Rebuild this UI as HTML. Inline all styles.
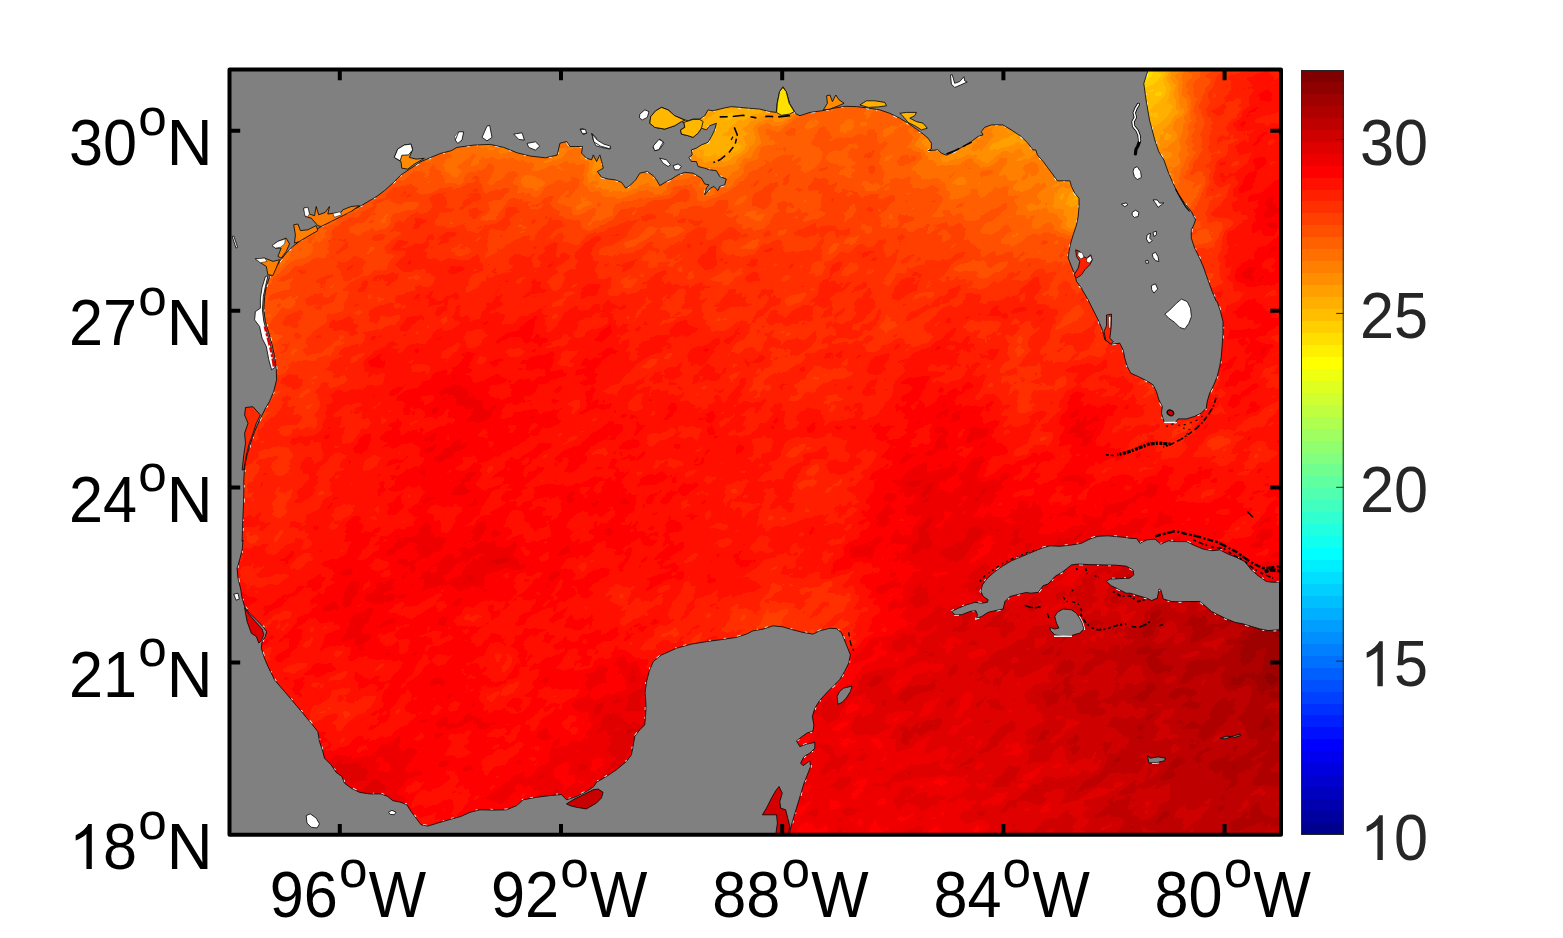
<!DOCTYPE html><html><head><meta charset="utf-8"><style>html,body{margin:0;padding:0;background:#fff}svg{display:block}text{font-family:"Liberation Sans",sans-serif}</style></head><body>
<svg width="1563" height="938" viewBox="0 0 1563 938">
<defs><clipPath id="ax"><rect x="229.5" y="69.5" width="1051.5" height="765.3"/></clipPath>
<filter id="bl" filterUnits="userSpaceOnUse" x="55" y="-248" width="1400" height="1400" color-interpolation-filters="sRGB"><feGaussianBlur in="SourceGraphic" stdDeviation="7" result="f"/><feTurbulence type="fractalNoise" baseFrequency="0.036 0.06" numOctaves="3" seed="7" result="n"/><feColorMatrix in="n" type="matrix" values="1 0 0 0 0 1 0 0 0 0 1 0 0 0 0 0 0 0 0 1" result="n1"/><feComposite in="f" in2="n1" operator="arithmetic" k1="0" k2="1" k3="0.120" k4="-0.060" result="s"/><feComponentTransfer in="s"><feFuncR type="discrete" tableValues="0.5625 0.6250 0.6875 0.7500 0.8125 0.8750 0.9375 1.0000 1.0000 1.0000 1.0000 1.0000 1.0000 1.0000 1.0000 1.0000 1.0000 1.0000 1.0000 1.0000 1.0000 1.0000 1.0000 1.0000 0.9375 0.8750 0.8125 0.7500 0.6875 0.6250 0.5625 0.5000"/><feFuncG type="discrete" tableValues="1.0000 1.0000 1.0000 1.0000 1.0000 1.0000 1.0000 1.0000 0.9375 0.8750 0.8125 0.7500 0.6875 0.6250 0.5625 0.5000 0.4375 0.3750 0.3125 0.2500 0.1875 0.1250 0.0625 0.0000 0.0000 0.0000 0.0000 0.0000 0.0000 0.0000 0.0000 0.0000"/><feFuncB type="discrete" tableValues="0.4375 0.3750 0.3125 0.2500 0.1875 0.1250 0.0625 0.0000 0.0000 0.0000 0.0000 0.0000 0.0000 0.0000 0.0000 0.0000 0.0000 0.0000 0.0000 0.0000 0.0000 0.0000 0.0000 0.0000 0.0000 0.0000 0.0000 0.0000 0.0000 0.0000 0.0000 0.0000"/></feComponentTransfer></filter>
</defs>
<rect width="1563" height="938" fill="#fff"/>
<g clip-path="url(#ax)">
<rect x="200" y="50" width="1100" height="800" fill="#ff1a00"/>
<g transform="rotate(-32 755 452)" filter="url(#bl)"><g transform="rotate(32 755 452)"><rect x="193.5" y="33.5" width="24.5" height="13" fill="#a0a0a0"/><rect x="217.5" y="33.5" width="36.5" height="13" fill="#9f9f9f"/><rect x="253.5" y="33.5" width="36.5" height="13" fill="#9e9e9e"/><rect x="289.5" y="33.5" width="24.5" height="13" fill="#9d9d9d"/><rect x="313.5" y="33.5" width="24.5" height="13" fill="#9c9c9c"/><rect x="337.5" y="33.5" width="24.5" height="13" fill="#9b9b9b"/><rect x="361.5" y="33.5" width="12.5" height="13" fill="#9a9a9a"/><rect x="373.5" y="33.5" width="24.5" height="13" fill="#999999"/><rect x="397.5" y="33.5" width="24.5" height="13" fill="#989898"/><rect x="421.5" y="33.5" width="24.5" height="13" fill="#979797"/><rect x="445.5" y="33.5" width="24.5" height="13" fill="#969696"/><rect x="469.5" y="33.5" width="24.5" height="13" fill="#959595"/><rect x="493.5" y="33.5" width="24.5" height="13" fill="#949494"/><rect x="517.5" y="33.5" width="24.5" height="13" fill="#939393"/><rect x="541.5" y="33.5" width="12.5" height="13" fill="#929292"/><rect x="553.5" y="33.5" width="12.5" height="13" fill="#919191"/><rect x="565.5" y="33.5" width="12.5" height="13" fill="#8f8f8f"/><rect x="577.5" y="33.5" width="12.5" height="13" fill="#8d8d8d"/><rect x="589.5" y="33.5" width="12.5" height="13" fill="#8b8b8b"/><rect x="601.5" y="33.5" width="12.5" height="13" fill="#888888"/><rect x="613.5" y="33.5" width="12.5" height="13" fill="#858585"/><rect x="625.5" y="33.5" width="12.5" height="13" fill="#818181"/><rect x="637.5" y="33.5" width="12.5" height="13" fill="#7d7d7d"/><rect x="649.5" y="33.5" width="12.5" height="13" fill="#7a7a7a"/><rect x="661.5" y="33.5" width="12.5" height="13" fill="#777777"/><rect x="673.5" y="33.5" width="12.5" height="13" fill="#757575"/><rect x="685.5" y="33.5" width="12.5" height="13" fill="#747474"/><rect x="697.5" y="33.5" width="12.5" height="13" fill="#737373"/><rect x="709.5" y="33.5" width="12.5" height="13" fill="#747474"/><rect x="721.5" y="33.5" width="12.5" height="13" fill="#767676"/><rect x="733.5" y="33.5" width="12.5" height="13" fill="#797979"/><rect x="745.5" y="33.5" width="12.5" height="13" fill="#7b7b7b"/><rect x="757.5" y="33.5" width="12.5" height="13" fill="#7f7f7f"/><rect x="769.5" y="33.5" width="12.5" height="13" fill="#828282"/><rect x="781.5" y="33.5" width="12.5" height="13" fill="#858585"/><rect x="793.5" y="33.5" width="12.5" height="13" fill="#878787"/><rect x="805.5" y="33.5" width="12.5" height="13" fill="#898989"/><rect x="817.5" y="33.5" width="12.5" height="13" fill="#8b8b8b"/><rect x="829.5" y="33.5" width="24.5" height="13" fill="#8c8c8c"/><rect x="853.5" y="33.5" width="60.5" height="13" fill="#8d8d8d"/><rect x="913.5" y="33.5" width="24.5" height="13" fill="#8c8c8c"/><rect x="937.5" y="33.5" width="12.5" height="13" fill="#8b8b8b"/><rect x="949.5" y="33.5" width="12.5" height="13" fill="#8a8a8a"/><rect x="961.5" y="33.5" width="12.5" height="13" fill="#888888"/><rect x="973.5" y="33.5" width="12.5" height="13" fill="#878787"/><rect x="985.5" y="33.5" width="12.5" height="13" fill="#868686"/><rect x="997.5" y="33.5" width="12.5" height="13" fill="#858585"/><rect x="1009.5" y="33.5" width="12.5" height="13" fill="#838383"/><rect x="1021.5" y="33.5" width="12.5" height="13" fill="#828282"/><rect x="1033.5" y="33.5" width="12.5" height="13" fill="#808080"/><rect x="1045.5" y="33.5" width="12.5" height="13" fill="#7e7e7e"/><rect x="1057.5" y="33.5" width="12.5" height="13" fill="#7b7b7b"/><rect x="1069.5" y="33.5" width="12.5" height="13" fill="#777777"/><rect x="1081.5" y="33.5" width="12.5" height="13" fill="#737373"/><rect x="1093.5" y="33.5" width="12.5" height="13" fill="#6e6e6e"/><rect x="1105.5" y="33.5" width="12.5" height="13" fill="#6a6a6a"/><rect x="1117.5" y="33.5" width="12.5" height="13" fill="#666666"/><rect x="1129.5" y="33.5" width="12.5" height="13" fill="#646464"/><rect x="1141.5" y="33.5" width="12.5" height="13" fill="#656565"/><rect x="1153.5" y="33.5" width="12.5" height="13" fill="#6a6a6a"/><rect x="1165.5" y="33.5" width="12.5" height="13" fill="#727272"/><rect x="1177.5" y="33.5" width="12.5" height="13" fill="#7b7b7b"/><rect x="1189.5" y="33.5" width="12.5" height="13" fill="#848484"/><rect x="1201.5" y="33.5" width="12.5" height="13" fill="#8c8c8c"/><rect x="1213.5" y="33.5" width="12.5" height="13" fill="#939393"/><rect x="1225.5" y="33.5" width="12.5" height="13" fill="#999999"/><rect x="1237.5" y="33.5" width="12.5" height="13" fill="#9e9e9e"/><rect x="1249.5" y="33.5" width="12.5" height="13" fill="#a3a3a3"/><rect x="1261.5" y="33.5" width="12.5" height="13" fill="#a6a6a6"/><rect x="1273.5" y="33.5" width="36.5" height="13" fill="#a8a8a8"/><rect x="1309.5" y="33.5" width="12.5" height="13" fill="#a7a7a7"/><rect x="193.5" y="45.5" width="24.5" height="13" fill="#a0a0a0"/><rect x="217.5" y="45.5" width="36.5" height="13" fill="#9f9f9f"/><rect x="253.5" y="45.5" width="24.5" height="13" fill="#9e9e9e"/><rect x="277.5" y="45.5" width="36.5" height="13" fill="#9d9d9d"/><rect x="313.5" y="45.5" width="12.5" height="13" fill="#9c9c9c"/><rect x="325.5" y="45.5" width="24.5" height="13" fill="#9b9b9b"/><rect x="349.5" y="45.5" width="24.5" height="13" fill="#9a9a9a"/><rect x="373.5" y="45.5" width="12.5" height="13" fill="#999999"/><rect x="385.5" y="45.5" width="24.5" height="13" fill="#989898"/><rect x="409.5" y="45.5" width="12.5" height="13" fill="#979797"/><rect x="421.5" y="45.5" width="24.5" height="13" fill="#969696"/><rect x="445.5" y="45.5" width="36.5" height="13" fill="#959595"/><rect x="481.5" y="45.5" width="36.5" height="13" fill="#949494"/><rect x="517.5" y="45.5" width="24.5" height="13" fill="#939393"/><rect x="541.5" y="45.5" width="12.5" height="13" fill="#929292"/><rect x="553.5" y="45.5" width="12.5" height="13" fill="#919191"/><rect x="565.5" y="45.5" width="12.5" height="13" fill="#8f8f8f"/><rect x="577.5" y="45.5" width="12.5" height="13" fill="#8d8d8d"/><rect x="589.5" y="45.5" width="12.5" height="13" fill="#8b8b8b"/><rect x="601.5" y="45.5" width="12.5" height="13" fill="#878787"/><rect x="613.5" y="45.5" width="12.5" height="13" fill="#838383"/><rect x="625.5" y="45.5" width="12.5" height="13" fill="#7f7f7f"/><rect x="637.5" y="45.5" width="12.5" height="13" fill="#7b7b7b"/><rect x="649.5" y="45.5" width="12.5" height="13" fill="#767676"/><rect x="661.5" y="45.5" width="12.5" height="13" fill="#737373"/><rect x="673.5" y="45.5" width="12.5" height="13" fill="#707070"/><rect x="685.5" y="45.5" width="24.5" height="13" fill="#6f6f6f"/><rect x="709.5" y="45.5" width="12.5" height="13" fill="#707070"/><rect x="721.5" y="45.5" width="12.5" height="13" fill="#727272"/><rect x="733.5" y="45.5" width="12.5" height="13" fill="#757575"/><rect x="745.5" y="45.5" width="12.5" height="13" fill="#797979"/><rect x="757.5" y="45.5" width="12.5" height="13" fill="#7d7d7d"/><rect x="769.5" y="45.5" width="12.5" height="13" fill="#818181"/><rect x="781.5" y="45.5" width="12.5" height="13" fill="#848484"/><rect x="793.5" y="45.5" width="12.5" height="13" fill="#878787"/><rect x="805.5" y="45.5" width="12.5" height="13" fill="#898989"/><rect x="817.5" y="45.5" width="12.5" height="13" fill="#8b8b8b"/><rect x="829.5" y="45.5" width="24.5" height="13" fill="#8c8c8c"/><rect x="853.5" y="45.5" width="48.5" height="13" fill="#8d8d8d"/><rect x="901.5" y="45.5" width="24.5" height="13" fill="#8c8c8c"/><rect x="925.5" y="45.5" width="12.5" height="13" fill="#8b8b8b"/><rect x="937.5" y="45.5" width="12.5" height="13" fill="#8a8a8a"/><rect x="949.5" y="45.5" width="12.5" height="13" fill="#898989"/><rect x="961.5" y="45.5" width="12.5" height="13" fill="#878787"/><rect x="973.5" y="45.5" width="12.5" height="13" fill="#868686"/><rect x="985.5" y="45.5" width="12.5" height="13" fill="#848484"/><rect x="997.5" y="45.5" width="12.5" height="13" fill="#838383"/><rect x="1009.5" y="45.5" width="12.5" height="13" fill="#828282"/><rect x="1021.5" y="45.5" width="12.5" height="13" fill="#818181"/><rect x="1033.5" y="45.5" width="12.5" height="13" fill="#7f7f7f"/><rect x="1045.5" y="45.5" width="12.5" height="13" fill="#7d7d7d"/><rect x="1057.5" y="45.5" width="12.5" height="13" fill="#7a7a7a"/><rect x="1069.5" y="45.5" width="12.5" height="13" fill="#767676"/><rect x="1081.5" y="45.5" width="12.5" height="13" fill="#717171"/><rect x="1093.5" y="45.5" width="12.5" height="13" fill="#6b6b6b"/><rect x="1105.5" y="45.5" width="12.5" height="13" fill="#666666"/><rect x="1117.5" y="45.5" width="12.5" height="13" fill="#606060"/><rect x="1129.5" y="45.5" width="24.5" height="13" fill="#5c5c5c"/><rect x="1153.5" y="45.5" width="12.5" height="13" fill="#636363"/><rect x="1165.5" y="45.5" width="12.5" height="13" fill="#6e6e6e"/><rect x="1177.5" y="45.5" width="12.5" height="13" fill="#7a7a7a"/><rect x="1189.5" y="45.5" width="12.5" height="13" fill="#858585"/><rect x="1201.5" y="45.5" width="12.5" height="13" fill="#8e8e8e"/><rect x="1213.5" y="45.5" width="12.5" height="13" fill="#969696"/><rect x="1225.5" y="45.5" width="12.5" height="13" fill="#9d9d9d"/><rect x="1237.5" y="45.5" width="12.5" height="13" fill="#a3a3a3"/><rect x="1249.5" y="45.5" width="12.5" height="13" fill="#a8a8a8"/><rect x="1261.5" y="45.5" width="12.5" height="13" fill="#ababab"/><rect x="1273.5" y="45.5" width="24.5" height="13" fill="#acacac"/><rect x="1297.5" y="45.5" width="12.5" height="13" fill="#ababab"/><rect x="1309.5" y="45.5" width="12.5" height="13" fill="#aaaaaa"/><rect x="193.5" y="57.5" width="24.5" height="13" fill="#a0a0a0"/><rect x="217.5" y="57.5" width="36.5" height="13" fill="#9f9f9f"/><rect x="253.5" y="57.5" width="24.5" height="13" fill="#9e9e9e"/><rect x="277.5" y="57.5" width="24.5" height="13" fill="#9d9d9d"/><rect x="301.5" y="57.5" width="24.5" height="13" fill="#9c9c9c"/><rect x="325.5" y="57.5" width="24.5" height="13" fill="#9b9b9b"/><rect x="349.5" y="57.5" width="12.5" height="13" fill="#9a9a9a"/><rect x="361.5" y="57.5" width="24.5" height="13" fill="#999999"/><rect x="385.5" y="57.5" width="12.5" height="13" fill="#989898"/><rect x="397.5" y="57.5" width="12.5" height="13" fill="#979797"/><rect x="409.5" y="57.5" width="24.5" height="13" fill="#969696"/><rect x="433.5" y="57.5" width="24.5" height="13" fill="#959595"/><rect x="457.5" y="57.5" width="36.5" height="13" fill="#949494"/><rect x="493.5" y="57.5" width="36.5" height="13" fill="#939393"/><rect x="529.5" y="57.5" width="24.5" height="13" fill="#929292"/><rect x="553.5" y="57.5" width="12.5" height="13" fill="#919191"/><rect x="565.5" y="57.5" width="12.5" height="13" fill="#8f8f8f"/><rect x="577.5" y="57.5" width="12.5" height="13" fill="#8d8d8d"/><rect x="589.5" y="57.5" width="12.5" height="13" fill="#8a8a8a"/><rect x="601.5" y="57.5" width="12.5" height="13" fill="#878787"/><rect x="613.5" y="57.5" width="12.5" height="13" fill="#828282"/><rect x="625.5" y="57.5" width="12.5" height="13" fill="#7d7d7d"/><rect x="637.5" y="57.5" width="12.5" height="13" fill="#787878"/><rect x="649.5" y="57.5" width="12.5" height="13" fill="#737373"/><rect x="661.5" y="57.5" width="12.5" height="13" fill="#6e6e6e"/><rect x="673.5" y="57.5" width="12.5" height="13" fill="#6b6b6b"/><rect x="685.5" y="57.5" width="24.5" height="13" fill="#6a6a6a"/><rect x="709.5" y="57.5" width="12.5" height="13" fill="#6b6b6b"/><rect x="721.5" y="57.5" width="12.5" height="13" fill="#6e6e6e"/><rect x="733.5" y="57.5" width="12.5" height="13" fill="#727272"/><rect x="745.5" y="57.5" width="12.5" height="13" fill="#767676"/><rect x="757.5" y="57.5" width="12.5" height="13" fill="#7b7b7b"/><rect x="769.5" y="57.5" width="12.5" height="13" fill="#808080"/><rect x="781.5" y="57.5" width="12.5" height="13" fill="#848484"/><rect x="793.5" y="57.5" width="12.5" height="13" fill="#878787"/><rect x="805.5" y="57.5" width="12.5" height="13" fill="#8a8a8a"/><rect x="817.5" y="57.5" width="12.5" height="13" fill="#8b8b8b"/><rect x="829.5" y="57.5" width="12.5" height="13" fill="#8c8c8c"/><rect x="841.5" y="57.5" width="60.5" height="13" fill="#8d8d8d"/><rect x="901.5" y="57.5" width="24.5" height="13" fill="#8c8c8c"/><rect x="925.5" y="57.5" width="12.5" height="13" fill="#8b8b8b"/><rect x="937.5" y="57.5" width="12.5" height="13" fill="#898989"/><rect x="949.5" y="57.5" width="12.5" height="13" fill="#888888"/><rect x="961.5" y="57.5" width="12.5" height="13" fill="#868686"/><rect x="973.5" y="57.5" width="12.5" height="13" fill="#848484"/><rect x="985.5" y="57.5" width="12.5" height="13" fill="#828282"/><rect x="997.5" y="57.5" width="24.5" height="13" fill="#818181"/><rect x="1021.5" y="57.5" width="12.5" height="13" fill="#808080"/><rect x="1033.5" y="57.5" width="12.5" height="13" fill="#7f7f7f"/><rect x="1045.5" y="57.5" width="12.5" height="13" fill="#7d7d7d"/><rect x="1057.5" y="57.5" width="12.5" height="13" fill="#797979"/><rect x="1069.5" y="57.5" width="12.5" height="13" fill="#757575"/><rect x="1081.5" y="57.5" width="12.5" height="13" fill="#707070"/><rect x="1093.5" y="57.5" width="12.5" height="13" fill="#696969"/><rect x="1105.5" y="57.5" width="12.5" height="13" fill="#636363"/><rect x="1117.5" y="57.5" width="12.5" height="13" fill="#5c5c5c"/><rect x="1129.5" y="57.5" width="12.5" height="13" fill="#565656"/><rect x="1141.5" y="57.5" width="12.5" height="13" fill="#545454"/><rect x="1153.5" y="57.5" width="12.5" height="13" fill="#5b5b5b"/><rect x="1165.5" y="57.5" width="12.5" height="13" fill="#6c6c6c"/><rect x="1177.5" y="57.5" width="12.5" height="13" fill="#7a7a7a"/><rect x="1189.5" y="57.5" width="12.5" height="13" fill="#878787"/><rect x="1201.5" y="57.5" width="12.5" height="13" fill="#929292"/><rect x="1213.5" y="57.5" width="12.5" height="13" fill="#9b9b9b"/><rect x="1225.5" y="57.5" width="12.5" height="13" fill="#a2a2a2"/><rect x="1237.5" y="57.5" width="12.5" height="13" fill="#a8a8a8"/><rect x="1249.5" y="57.5" width="12.5" height="13" fill="#adadad"/><rect x="1261.5" y="57.5" width="12.5" height="13" fill="#afafaf"/><rect x="1273.5" y="57.5" width="24.5" height="13" fill="#b0b0b0"/><rect x="1297.5" y="57.5" width="12.5" height="13" fill="#aeaeae"/><rect x="1309.5" y="57.5" width="12.5" height="13" fill="#acacac"/><rect x="193.5" y="69.5" width="24.5" height="13" fill="#a0a0a0"/><rect x="217.5" y="69.5" width="24.5" height="13" fill="#9f9f9f"/><rect x="241.5" y="69.5" width="36.5" height="13" fill="#9e9e9e"/><rect x="277.5" y="69.5" width="24.5" height="13" fill="#9d9d9d"/><rect x="301.5" y="69.5" width="24.5" height="13" fill="#9c9c9c"/><rect x="325.5" y="69.5" width="24.5" height="13" fill="#9b9b9b"/><rect x="349.5" y="69.5" width="12.5" height="13" fill="#9a9a9a"/><rect x="361.5" y="69.5" width="12.5" height="13" fill="#999999"/><rect x="373.5" y="69.5" width="24.5" height="13" fill="#989898"/><rect x="397.5" y="69.5" width="12.5" height="13" fill="#979797"/><rect x="409.5" y="69.5" width="12.5" height="13" fill="#969696"/><rect x="421.5" y="69.5" width="12.5" height="13" fill="#959595"/><rect x="433.5" y="69.5" width="24.5" height="13" fill="#949494"/><rect x="457.5" y="69.5" width="48.5" height="13" fill="#939393"/><rect x="505.5" y="69.5" width="36.5" height="13" fill="#929292"/><rect x="541.5" y="69.5" width="24.5" height="13" fill="#919191"/><rect x="565.5" y="69.5" width="12.5" height="13" fill="#8f8f8f"/><rect x="577.5" y="69.5" width="12.5" height="13" fill="#8d8d8d"/><rect x="589.5" y="69.5" width="12.5" height="13" fill="#8a8a8a"/><rect x="601.5" y="69.5" width="12.5" height="13" fill="#878787"/><rect x="613.5" y="69.5" width="12.5" height="13" fill="#828282"/><rect x="625.5" y="69.5" width="12.5" height="13" fill="#7c7c7c"/><rect x="637.5" y="69.5" width="12.5" height="13" fill="#767676"/><rect x="649.5" y="69.5" width="12.5" height="13" fill="#707070"/><rect x="661.5" y="69.5" width="12.5" height="13" fill="#6a6a6a"/><rect x="673.5" y="69.5" width="12.5" height="13" fill="#676767"/><rect x="685.5" y="69.5" width="24.5" height="13" fill="#656565"/><rect x="709.5" y="69.5" width="12.5" height="13" fill="#676767"/><rect x="721.5" y="69.5" width="12.5" height="13" fill="#6a6a6a"/><rect x="733.5" y="69.5" width="12.5" height="13" fill="#6f6f6f"/><rect x="745.5" y="69.5" width="12.5" height="13" fill="#747474"/><rect x="757.5" y="69.5" width="12.5" height="13" fill="#797979"/><rect x="769.5" y="69.5" width="12.5" height="13" fill="#7f7f7f"/><rect x="781.5" y="69.5" width="12.5" height="13" fill="#848484"/><rect x="793.5" y="69.5" width="12.5" height="13" fill="#888888"/><rect x="805.5" y="69.5" width="12.5" height="13" fill="#8a8a8a"/><rect x="817.5" y="69.5" width="24.5" height="13" fill="#8c8c8c"/><rect x="841.5" y="69.5" width="24.5" height="13" fill="#8d8d8d"/><rect x="865.5" y="69.5" width="48.5" height="13" fill="#8c8c8c"/><rect x="913.5" y="69.5" width="12.5" height="13" fill="#8b8b8b"/><rect x="925.5" y="69.5" width="12.5" height="13" fill="#8a8a8a"/><rect x="937.5" y="69.5" width="12.5" height="13" fill="#898989"/><rect x="949.5" y="69.5" width="12.5" height="13" fill="#868686"/><rect x="961.5" y="69.5" width="12.5" height="13" fill="#848484"/><rect x="973.5" y="69.5" width="12.5" height="13" fill="#828282"/><rect x="985.5" y="69.5" width="12.5" height="13" fill="#808080"/><rect x="997.5" y="69.5" width="12.5" height="13" fill="#7f7f7f"/><rect x="1009.5" y="69.5" width="36.5" height="13" fill="#7e7e7e"/><rect x="1045.5" y="69.5" width="12.5" height="13" fill="#7c7c7c"/><rect x="1057.5" y="69.5" width="12.5" height="13" fill="#797979"/><rect x="1069.5" y="69.5" width="12.5" height="13" fill="#757575"/><rect x="1081.5" y="69.5" width="12.5" height="13" fill="#6f6f6f"/><rect x="1093.5" y="69.5" width="12.5" height="13" fill="#696969"/><rect x="1105.5" y="69.5" width="12.5" height="13" fill="#626262"/><rect x="1117.5" y="69.5" width="12.5" height="13" fill="#5a5a5a"/><rect x="1129.5" y="69.5" width="12.5" height="13" fill="#535353"/><rect x="1141.5" y="69.5" width="12.5" height="13" fill="#505050"/><rect x="1153.5" y="69.5" width="12.5" height="13" fill="#595959"/><rect x="1165.5" y="69.5" width="12.5" height="13" fill="#6c6c6c"/><rect x="1177.5" y="69.5" width="12.5" height="13" fill="#7b7b7b"/><rect x="1189.5" y="69.5" width="12.5" height="13" fill="#8a8a8a"/><rect x="1201.5" y="69.5" width="12.5" height="13" fill="#989898"/><rect x="1213.5" y="69.5" width="12.5" height="13" fill="#a0a0a0"/><rect x="1225.5" y="69.5" width="12.5" height="13" fill="#a7a7a7"/><rect x="1237.5" y="69.5" width="12.5" height="13" fill="#aeaeae"/><rect x="1249.5" y="69.5" width="12.5" height="13" fill="#b1b1b1"/><rect x="1261.5" y="69.5" width="12.5" height="13" fill="#b3b3b3"/><rect x="1273.5" y="69.5" width="12.5" height="13" fill="#b4b4b4"/><rect x="1285.5" y="69.5" width="12.5" height="13" fill="#b3b3b3"/><rect x="1297.5" y="69.5" width="12.5" height="13" fill="#b0b0b0"/><rect x="1309.5" y="69.5" width="12.5" height="13" fill="#aeaeae"/><rect x="193.5" y="81.5" width="12.5" height="13" fill="#a0a0a0"/><rect x="205.5" y="81.5" width="36.5" height="13" fill="#9f9f9f"/><rect x="241.5" y="81.5" width="24.5" height="13" fill="#9e9e9e"/><rect x="265.5" y="81.5" width="36.5" height="13" fill="#9d9d9d"/><rect x="301.5" y="81.5" width="24.5" height="13" fill="#9c9c9c"/><rect x="325.5" y="81.5" width="12.5" height="13" fill="#9b9b9b"/><rect x="337.5" y="81.5" width="24.5" height="13" fill="#9a9a9a"/><rect x="361.5" y="81.5" width="12.5" height="13" fill="#999999"/><rect x="373.5" y="81.5" width="12.5" height="13" fill="#989898"/><rect x="385.5" y="81.5" width="12.5" height="13" fill="#979797"/><rect x="397.5" y="81.5" width="12.5" height="13" fill="#969696"/><rect x="409.5" y="81.5" width="12.5" height="13" fill="#959595"/><rect x="421.5" y="81.5" width="24.5" height="13" fill="#949494"/><rect x="445.5" y="81.5" width="12.5" height="13" fill="#939393"/><rect x="457.5" y="81.5" width="84.5" height="13" fill="#929292"/><rect x="541.5" y="81.5" width="24.5" height="13" fill="#919191"/><rect x="565.5" y="81.5" width="12.5" height="13" fill="#909090"/><rect x="577.5" y="81.5" width="12.5" height="13" fill="#8e8e8e"/><rect x="589.5" y="81.5" width="12.5" height="13" fill="#8b8b8b"/><rect x="601.5" y="81.5" width="12.5" height="13" fill="#878787"/><rect x="613.5" y="81.5" width="12.5" height="13" fill="#828282"/><rect x="625.5" y="81.5" width="12.5" height="13" fill="#7b7b7b"/><rect x="637.5" y="81.5" width="12.5" height="13" fill="#747474"/><rect x="649.5" y="81.5" width="12.5" height="13" fill="#6d6d6d"/><rect x="661.5" y="81.5" width="12.5" height="13" fill="#676767"/><rect x="673.5" y="81.5" width="12.5" height="13" fill="#636363"/><rect x="685.5" y="81.5" width="24.5" height="13" fill="#616161"/><rect x="709.5" y="81.5" width="12.5" height="13" fill="#636363"/><rect x="721.5" y="81.5" width="12.5" height="13" fill="#676767"/><rect x="733.5" y="81.5" width="12.5" height="13" fill="#6c6c6c"/><rect x="745.5" y="81.5" width="12.5" height="13" fill="#727272"/><rect x="757.5" y="81.5" width="12.5" height="13" fill="#787878"/><rect x="769.5" y="81.5" width="12.5" height="13" fill="#7f7f7f"/><rect x="781.5" y="81.5" width="12.5" height="13" fill="#858585"/><rect x="793.5" y="81.5" width="12.5" height="13" fill="#898989"/><rect x="805.5" y="81.5" width="12.5" height="13" fill="#8b8b8b"/><rect x="817.5" y="81.5" width="12.5" height="13" fill="#8c8c8c"/><rect x="829.5" y="81.5" width="24.5" height="13" fill="#8d8d8d"/><rect x="853.5" y="81.5" width="60.5" height="13" fill="#8c8c8c"/><rect x="913.5" y="81.5" width="12.5" height="13" fill="#8b8b8b"/><rect x="925.5" y="81.5" width="12.5" height="13" fill="#8a8a8a"/><rect x="937.5" y="81.5" width="12.5" height="13" fill="#888888"/><rect x="949.5" y="81.5" width="12.5" height="13" fill="#858585"/><rect x="961.5" y="81.5" width="12.5" height="13" fill="#828282"/><rect x="973.5" y="81.5" width="12.5" height="13" fill="#7f7f7f"/><rect x="985.5" y="81.5" width="12.5" height="13" fill="#7c7c7c"/><rect x="997.5" y="81.5" width="24.5" height="13" fill="#7b7b7b"/><rect x="1021.5" y="81.5" width="12.5" height="13" fill="#7c7c7c"/><rect x="1033.5" y="81.5" width="12.5" height="13" fill="#7d7d7d"/><rect x="1045.5" y="81.5" width="12.5" height="13" fill="#7c7c7c"/><rect x="1057.5" y="81.5" width="12.5" height="13" fill="#7a7a7a"/><rect x="1069.5" y="81.5" width="12.5" height="13" fill="#767676"/><rect x="1081.5" y="81.5" width="12.5" height="13" fill="#707070"/><rect x="1093.5" y="81.5" width="12.5" height="13" fill="#6a6a6a"/><rect x="1105.5" y="81.5" width="12.5" height="13" fill="#636363"/><rect x="1117.5" y="81.5" width="12.5" height="13" fill="#5c5c5c"/><rect x="1129.5" y="81.5" width="12.5" height="13" fill="#575757"/><rect x="1141.5" y="81.5" width="12.5" height="13" fill="#565656"/><rect x="1153.5" y="81.5" width="12.5" height="13" fill="#5e5e5e"/><rect x="1165.5" y="81.5" width="12.5" height="13" fill="#6c6c6c"/><rect x="1177.5" y="81.5" width="12.5" height="13" fill="#7c7c7c"/><rect x="1189.5" y="81.5" width="12.5" height="13" fill="#8c8c8c"/><rect x="1201.5" y="81.5" width="12.5" height="13" fill="#9c9c9c"/><rect x="1213.5" y="81.5" width="12.5" height="13" fill="#a6a6a6"/><rect x="1225.5" y="81.5" width="12.5" height="13" fill="#aaaaaa"/><rect x="1237.5" y="81.5" width="12.5" height="13" fill="#b1b1b1"/><rect x="1249.5" y="81.5" width="12.5" height="13" fill="#b3b3b3"/><rect x="1261.5" y="81.5" width="24.5" height="13" fill="#b5b5b5"/><rect x="1285.5" y="81.5" width="12.5" height="13" fill="#b4b4b4"/><rect x="1297.5" y="81.5" width="12.5" height="13" fill="#b2b2b2"/><rect x="1309.5" y="81.5" width="12.5" height="13" fill="#afafaf"/><rect x="193.5" y="93.5" width="12.5" height="13" fill="#a0a0a0"/><rect x="205.5" y="93.5" width="36.5" height="13" fill="#9f9f9f"/><rect x="241.5" y="93.5" width="24.5" height="13" fill="#9e9e9e"/><rect x="265.5" y="93.5" width="36.5" height="13" fill="#9d9d9d"/><rect x="301.5" y="93.5" width="24.5" height="13" fill="#9c9c9c"/><rect x="325.5" y="93.5" width="12.5" height="13" fill="#9b9b9b"/><rect x="337.5" y="93.5" width="24.5" height="13" fill="#9a9a9a"/><rect x="361.5" y="93.5" width="12.5" height="13" fill="#999999"/><rect x="373.5" y="93.5" width="12.5" height="13" fill="#989898"/><rect x="385.5" y="93.5" width="12.5" height="13" fill="#979797"/><rect x="397.5" y="93.5" width="12.5" height="13" fill="#959595"/><rect x="409.5" y="93.5" width="12.5" height="13" fill="#949494"/><rect x="421.5" y="93.5" width="12.5" height="13" fill="#939393"/><rect x="433.5" y="93.5" width="24.5" height="13" fill="#929292"/><rect x="457.5" y="93.5" width="108.5" height="13" fill="#919191"/><rect x="565.5" y="93.5" width="12.5" height="13" fill="#909090"/><rect x="577.5" y="93.5" width="12.5" height="13" fill="#8e8e8e"/><rect x="589.5" y="93.5" width="12.5" height="13" fill="#8c8c8c"/><rect x="601.5" y="93.5" width="12.5" height="13" fill="#888888"/><rect x="613.5" y="93.5" width="12.5" height="13" fill="#828282"/><rect x="625.5" y="93.5" width="12.5" height="13" fill="#7c7c7c"/><rect x="637.5" y="93.5" width="12.5" height="13" fill="#747474"/><rect x="649.5" y="93.5" width="12.5" height="13" fill="#6c6c6c"/><rect x="661.5" y="93.5" width="12.5" height="13" fill="#656565"/><rect x="673.5" y="93.5" width="12.5" height="13" fill="#616161"/><rect x="685.5" y="93.5" width="24.5" height="13" fill="#5f5f5f"/><rect x="709.5" y="93.5" width="12.5" height="13" fill="#616161"/><rect x="721.5" y="93.5" width="12.5" height="13" fill="#656565"/><rect x="733.5" y="93.5" width="12.5" height="13" fill="#6a6a6a"/><rect x="745.5" y="93.5" width="12.5" height="13" fill="#707070"/><rect x="757.5" y="93.5" width="12.5" height="13" fill="#777777"/><rect x="769.5" y="93.5" width="12.5" height="13" fill="#808080"/><rect x="781.5" y="93.5" width="12.5" height="13" fill="#878787"/><rect x="793.5" y="93.5" width="12.5" height="13" fill="#8a8a8a"/><rect x="805.5" y="93.5" width="12.5" height="13" fill="#8c8c8c"/><rect x="817.5" y="93.5" width="24.5" height="13" fill="#8d8d8d"/><rect x="841.5" y="93.5" width="72.5" height="13" fill="#8c8c8c"/><rect x="913.5" y="93.5" width="12.5" height="13" fill="#8b8b8b"/><rect x="925.5" y="93.5" width="12.5" height="13" fill="#8a8a8a"/><rect x="937.5" y="93.5" width="12.5" height="13" fill="#878787"/><rect x="949.5" y="93.5" width="12.5" height="13" fill="#848484"/><rect x="961.5" y="93.5" width="12.5" height="13" fill="#7f7f7f"/><rect x="973.5" y="93.5" width="12.5" height="13" fill="#7b7b7b"/><rect x="985.5" y="93.5" width="12.5" height="13" fill="#787878"/><rect x="997.5" y="93.5" width="24.5" height="13" fill="#777777"/><rect x="1021.5" y="93.5" width="12.5" height="13" fill="#797979"/><rect x="1033.5" y="93.5" width="12.5" height="13" fill="#7b7b7b"/><rect x="1045.5" y="93.5" width="12.5" height="13" fill="#7c7c7c"/><rect x="1057.5" y="93.5" width="12.5" height="13" fill="#7b7b7b"/><rect x="1069.5" y="93.5" width="12.5" height="13" fill="#777777"/><rect x="1081.5" y="93.5" width="12.5" height="13" fill="#727272"/><rect x="1093.5" y="93.5" width="12.5" height="13" fill="#6c6c6c"/><rect x="1105.5" y="93.5" width="12.5" height="13" fill="#656565"/><rect x="1117.5" y="93.5" width="12.5" height="13" fill="#5f5f5f"/><rect x="1129.5" y="93.5" width="12.5" height="13" fill="#5b5b5b"/><rect x="1141.5" y="93.5" width="12.5" height="13" fill="#5a5a5a"/><rect x="1153.5" y="93.5" width="12.5" height="13" fill="#5f5f5f"/><rect x="1165.5" y="93.5" width="12.5" height="13" fill="#6c6c6c"/><rect x="1177.5" y="93.5" width="12.5" height="13" fill="#7c7c7c"/><rect x="1189.5" y="93.5" width="12.5" height="13" fill="#8d8d8d"/><rect x="1201.5" y="93.5" width="12.5" height="13" fill="#9c9c9c"/><rect x="1213.5" y="93.5" width="12.5" height="13" fill="#a6a6a6"/><rect x="1225.5" y="93.5" width="12.5" height="13" fill="#aaaaaa"/><rect x="1237.5" y="93.5" width="12.5" height="13" fill="#b0b0b0"/><rect x="1249.5" y="93.5" width="12.5" height="13" fill="#b2b2b2"/><rect x="1261.5" y="93.5" width="12.5" height="13" fill="#b4b4b4"/><rect x="1273.5" y="93.5" width="12.5" height="13" fill="#b5b5b5"/><rect x="1285.5" y="93.5" width="12.5" height="13" fill="#b4b4b4"/><rect x="1297.5" y="93.5" width="12.5" height="13" fill="#b1b1b1"/><rect x="1309.5" y="93.5" width="12.5" height="13" fill="#afafaf"/><rect x="193.5" y="105.5" width="12.5" height="13" fill="#a0a0a0"/><rect x="205.5" y="105.5" width="24.5" height="13" fill="#9f9f9f"/><rect x="229.5" y="105.5" width="36.5" height="13" fill="#9e9e9e"/><rect x="265.5" y="105.5" width="24.5" height="13" fill="#9d9d9d"/><rect x="289.5" y="105.5" width="24.5" height="13" fill="#9c9c9c"/><rect x="313.5" y="105.5" width="24.5" height="13" fill="#9b9b9b"/><rect x="337.5" y="105.5" width="24.5" height="13" fill="#9a9a9a"/><rect x="361.5" y="105.5" width="12.5" height="13" fill="#999999"/><rect x="373.5" y="105.5" width="12.5" height="13" fill="#979797"/><rect x="385.5" y="105.5" width="12.5" height="13" fill="#969696"/><rect x="397.5" y="105.5" width="12.5" height="13" fill="#959595"/><rect x="409.5" y="105.5" width="12.5" height="13" fill="#939393"/><rect x="421.5" y="105.5" width="12.5" height="13" fill="#929292"/><rect x="433.5" y="105.5" width="24.5" height="13" fill="#919191"/><rect x="457.5" y="105.5" width="24.5" height="13" fill="#909090"/><rect x="481.5" y="105.5" width="24.5" height="13" fill="#8f8f8f"/><rect x="505.5" y="105.5" width="24.5" height="13" fill="#909090"/><rect x="529.5" y="105.5" width="36.5" height="13" fill="#919191"/><rect x="565.5" y="105.5" width="12.5" height="13" fill="#909090"/><rect x="577.5" y="105.5" width="12.5" height="13" fill="#8f8f8f"/><rect x="589.5" y="105.5" width="12.5" height="13" fill="#8d8d8d"/><rect x="601.5" y="105.5" width="12.5" height="13" fill="#898989"/><rect x="613.5" y="105.5" width="12.5" height="13" fill="#848484"/><rect x="625.5" y="105.5" width="12.5" height="13" fill="#7d7d7d"/><rect x="637.5" y="105.5" width="12.5" height="13" fill="#757575"/><rect x="649.5" y="105.5" width="12.5" height="13" fill="#6c6c6c"/><rect x="661.5" y="105.5" width="12.5" height="13" fill="#656565"/><rect x="673.5" y="105.5" width="12.5" height="13" fill="#606060"/><rect x="685.5" y="105.5" width="24.5" height="13" fill="#5e5e5e"/><rect x="709.5" y="105.5" width="12.5" height="13" fill="#606060"/><rect x="721.5" y="105.5" width="12.5" height="13" fill="#656565"/><rect x="733.5" y="105.5" width="12.5" height="13" fill="#6a6a6a"/><rect x="745.5" y="105.5" width="12.5" height="13" fill="#6f6f6f"/><rect x="757.5" y="105.5" width="12.5" height="13" fill="#777777"/><rect x="769.5" y="105.5" width="12.5" height="13" fill="#828282"/><rect x="781.5" y="105.5" width="12.5" height="13" fill="#898989"/><rect x="793.5" y="105.5" width="12.5" height="13" fill="#8d8d8d"/><rect x="805.5" y="105.5" width="12.5" height="13" fill="#8e8e8e"/><rect x="817.5" y="105.5" width="12.5" height="13" fill="#8d8d8d"/><rect x="829.5" y="105.5" width="36.5" height="13" fill="#8c8c8c"/><rect x="865.5" y="105.5" width="24.5" height="13" fill="#8b8b8b"/><rect x="889.5" y="105.5" width="24.5" height="13" fill="#8c8c8c"/><rect x="913.5" y="105.5" width="12.5" height="13" fill="#8b8b8b"/><rect x="925.5" y="105.5" width="12.5" height="13" fill="#898989"/><rect x="937.5" y="105.5" width="12.5" height="13" fill="#878787"/><rect x="949.5" y="105.5" width="12.5" height="13" fill="#838383"/><rect x="961.5" y="105.5" width="12.5" height="13" fill="#7d7d7d"/><rect x="973.5" y="105.5" width="12.5" height="13" fill="#777777"/><rect x="985.5" y="105.5" width="12.5" height="13" fill="#737373"/><rect x="997.5" y="105.5" width="12.5" height="13" fill="#727272"/><rect x="1009.5" y="105.5" width="12.5" height="13" fill="#737373"/><rect x="1021.5" y="105.5" width="12.5" height="13" fill="#777777"/><rect x="1033.5" y="105.5" width="12.5" height="13" fill="#7a7a7a"/><rect x="1045.5" y="105.5" width="24.5" height="13" fill="#7c7c7c"/><rect x="1069.5" y="105.5" width="12.5" height="13" fill="#797979"/><rect x="1081.5" y="105.5" width="12.5" height="13" fill="#757575"/><rect x="1093.5" y="105.5" width="12.5" height="13" fill="#6f6f6f"/><rect x="1105.5" y="105.5" width="12.5" height="13" fill="#686868"/><rect x="1117.5" y="105.5" width="12.5" height="13" fill="#626262"/><rect x="1129.5" y="105.5" width="12.5" height="13" fill="#5b5b5b"/><rect x="1141.5" y="105.5" width="12.5" height="13" fill="#555555"/><rect x="1153.5" y="105.5" width="12.5" height="13" fill="#5c5c5c"/><rect x="1165.5" y="105.5" width="12.5" height="13" fill="#6c6c6c"/><rect x="1177.5" y="105.5" width="12.5" height="13" fill="#7d7d7d"/><rect x="1189.5" y="105.5" width="12.5" height="13" fill="#8d8d8d"/><rect x="1201.5" y="105.5" width="12.5" height="13" fill="#999999"/><rect x="1213.5" y="105.5" width="12.5" height="13" fill="#a2a2a2"/><rect x="1225.5" y="105.5" width="12.5" height="13" fill="#a8a8a8"/><rect x="1237.5" y="105.5" width="12.5" height="13" fill="#afafaf"/><rect x="1249.5" y="105.5" width="12.5" height="13" fill="#b2b2b2"/><rect x="1261.5" y="105.5" width="24.5" height="13" fill="#b3b3b3"/><rect x="1285.5" y="105.5" width="12.5" height="13" fill="#b2b2b2"/><rect x="1297.5" y="105.5" width="12.5" height="13" fill="#b0b0b0"/><rect x="1309.5" y="105.5" width="12.5" height="13" fill="#afafaf"/><rect x="193.5" y="117.5" width="36.5" height="13" fill="#9f9f9f"/><rect x="229.5" y="117.5" width="24.5" height="13" fill="#9e9e9e"/><rect x="253.5" y="117.5" width="36.5" height="13" fill="#9d9d9d"/><rect x="289.5" y="117.5" width="24.5" height="13" fill="#9c9c9c"/><rect x="313.5" y="117.5" width="24.5" height="13" fill="#9b9b9b"/><rect x="337.5" y="117.5" width="24.5" height="13" fill="#9a9a9a"/><rect x="361.5" y="117.5" width="12.5" height="13" fill="#999999"/><rect x="373.5" y="117.5" width="12.5" height="13" fill="#979797"/><rect x="385.5" y="117.5" width="12.5" height="13" fill="#969696"/><rect x="397.5" y="117.5" width="12.5" height="13" fill="#949494"/><rect x="409.5" y="117.5" width="12.5" height="13" fill="#929292"/><rect x="421.5" y="117.5" width="12.5" height="13" fill="#919191"/><rect x="433.5" y="117.5" width="12.5" height="13" fill="#909090"/><rect x="445.5" y="117.5" width="24.5" height="13" fill="#8f8f8f"/><rect x="469.5" y="117.5" width="36.5" height="13" fill="#8e8e8e"/><rect x="505.5" y="117.5" width="24.5" height="13" fill="#8f8f8f"/><rect x="529.5" y="117.5" width="48.5" height="13" fill="#909090"/><rect x="577.5" y="117.5" width="12.5" height="13" fill="#8f8f8f"/><rect x="589.5" y="117.5" width="12.5" height="13" fill="#8e8e8e"/><rect x="601.5" y="117.5" width="12.5" height="13" fill="#8b8b8b"/><rect x="613.5" y="117.5" width="12.5" height="13" fill="#878787"/><rect x="625.5" y="117.5" width="12.5" height="13" fill="#808080"/><rect x="637.5" y="117.5" width="12.5" height="13" fill="#787878"/><rect x="649.5" y="117.5" width="12.5" height="13" fill="#6f6f6f"/><rect x="661.5" y="117.5" width="12.5" height="13" fill="#676767"/><rect x="673.5" y="117.5" width="12.5" height="13" fill="#626262"/><rect x="685.5" y="117.5" width="24.5" height="13" fill="#5f5f5f"/><rect x="709.5" y="117.5" width="12.5" height="13" fill="#606060"/><rect x="721.5" y="117.5" width="12.5" height="13" fill="#666666"/><rect x="733.5" y="117.5" width="12.5" height="13" fill="#6b6b6b"/><rect x="745.5" y="117.5" width="12.5" height="13" fill="#6e6e6e"/><rect x="757.5" y="117.5" width="12.5" height="13" fill="#7a7a7a"/><rect x="769.5" y="117.5" width="12.5" height="13" fill="#878787"/><rect x="781.5" y="117.5" width="12.5" height="13" fill="#8c8c8c"/><rect x="793.5" y="117.5" width="24.5" height="13" fill="#8f8f8f"/><rect x="817.5" y="117.5" width="12.5" height="13" fill="#8e8e8e"/><rect x="829.5" y="117.5" width="36.5" height="13" fill="#8c8c8c"/><rect x="865.5" y="117.5" width="24.5" height="13" fill="#8b8b8b"/><rect x="889.5" y="117.5" width="12.5" height="13" fill="#8c8c8c"/><rect x="901.5" y="117.5" width="24.5" height="13" fill="#8b8b8b"/><rect x="925.5" y="117.5" width="12.5" height="13" fill="#898989"/><rect x="937.5" y="117.5" width="12.5" height="13" fill="#868686"/><rect x="949.5" y="117.5" width="12.5" height="13" fill="#828282"/><rect x="961.5" y="117.5" width="12.5" height="13" fill="#7c7c7c"/><rect x="973.5" y="117.5" width="12.5" height="13" fill="#747474"/><rect x="985.5" y="117.5" width="12.5" height="13" fill="#6f6f6f"/><rect x="997.5" y="117.5" width="12.5" height="13" fill="#6e6e6e"/><rect x="1009.5" y="117.5" width="12.5" height="13" fill="#707070"/><rect x="1021.5" y="117.5" width="12.5" height="13" fill="#757575"/><rect x="1033.5" y="117.5" width="12.5" height="13" fill="#7a7a7a"/><rect x="1045.5" y="117.5" width="24.5" height="13" fill="#7d7d7d"/><rect x="1069.5" y="117.5" width="12.5" height="13" fill="#7b7b7b"/><rect x="1081.5" y="117.5" width="12.5" height="13" fill="#787878"/><rect x="1093.5" y="117.5" width="12.5" height="13" fill="#727272"/><rect x="1105.5" y="117.5" width="12.5" height="13" fill="#6d6d6d"/><rect x="1117.5" y="117.5" width="12.5" height="13" fill="#666666"/><rect x="1129.5" y="117.5" width="12.5" height="13" fill="#5f5f5f"/><rect x="1141.5" y="117.5" width="12.5" height="13" fill="#5c5c5c"/><rect x="1153.5" y="117.5" width="12.5" height="13" fill="#646464"/><rect x="1165.5" y="117.5" width="12.5" height="13" fill="#717171"/><rect x="1177.5" y="117.5" width="12.5" height="13" fill="#828282"/><rect x="1189.5" y="117.5" width="12.5" height="13" fill="#929292"/><rect x="1201.5" y="117.5" width="12.5" height="13" fill="#9d9d9d"/><rect x="1213.5" y="117.5" width="12.5" height="13" fill="#a5a5a5"/><rect x="1225.5" y="117.5" width="12.5" height="13" fill="#aaaaaa"/><rect x="1237.5" y="117.5" width="12.5" height="13" fill="#b3b3b3"/><rect x="1249.5" y="117.5" width="12.5" height="13" fill="#b5b5b5"/><rect x="1261.5" y="117.5" width="12.5" height="13" fill="#b3b3b3"/><rect x="1273.5" y="117.5" width="12.5" height="13" fill="#b2b2b2"/><rect x="1285.5" y="117.5" width="12.5" height="13" fill="#b1b1b1"/><rect x="1297.5" y="117.5" width="12.5" height="13" fill="#b0b0b0"/><rect x="1309.5" y="117.5" width="12.5" height="13" fill="#aeaeae"/><rect x="193.5" y="129.5" width="24.5" height="13" fill="#9f9f9f"/><rect x="217.5" y="129.5" width="24.5" height="13" fill="#9e9e9e"/><rect x="241.5" y="129.5" width="36.5" height="13" fill="#9d9d9d"/><rect x="277.5" y="129.5" width="36.5" height="13" fill="#9c9c9c"/><rect x="313.5" y="129.5" width="24.5" height="13" fill="#9b9b9b"/><rect x="337.5" y="129.5" width="24.5" height="13" fill="#9a9a9a"/><rect x="361.5" y="129.5" width="12.5" height="13" fill="#999999"/><rect x="373.5" y="129.5" width="12.5" height="13" fill="#979797"/><rect x="385.5" y="129.5" width="12.5" height="13" fill="#969696"/><rect x="397.5" y="129.5" width="12.5" height="13" fill="#939393"/><rect x="409.5" y="129.5" width="12.5" height="13" fill="#919191"/><rect x="421.5" y="129.5" width="12.5" height="13" fill="#8f8f8f"/><rect x="433.5" y="129.5" width="36.5" height="13" fill="#8e8e8e"/><rect x="469.5" y="129.5" width="12.5" height="13" fill="#8d8d8d"/><rect x="481.5" y="129.5" width="12.5" height="13" fill="#8c8c8c"/><rect x="493.5" y="129.5" width="12.5" height="13" fill="#8d8d8d"/><rect x="505.5" y="129.5" width="12.5" height="13" fill="#8e8e8e"/><rect x="517.5" y="129.5" width="24.5" height="13" fill="#8f8f8f"/><rect x="541.5" y="129.5" width="48.5" height="13" fill="#909090"/><rect x="589.5" y="129.5" width="12.5" height="13" fill="#8e8e8e"/><rect x="601.5" y="129.5" width="12.5" height="13" fill="#8d8d8d"/><rect x="613.5" y="129.5" width="12.5" height="13" fill="#898989"/><rect x="625.5" y="129.5" width="12.5" height="13" fill="#848484"/><rect x="637.5" y="129.5" width="12.5" height="13" fill="#7d7d7d"/><rect x="649.5" y="129.5" width="12.5" height="13" fill="#747474"/><rect x="661.5" y="129.5" width="12.5" height="13" fill="#6c6c6c"/><rect x="673.5" y="129.5" width="12.5" height="13" fill="#666666"/><rect x="685.5" y="129.5" width="12.5" height="13" fill="#636363"/><rect x="697.5" y="129.5" width="12.5" height="13" fill="#626262"/><rect x="709.5" y="129.5" width="12.5" height="13" fill="#636363"/><rect x="721.5" y="129.5" width="12.5" height="13" fill="#676767"/><rect x="733.5" y="129.5" width="12.5" height="13" fill="#6b6b6b"/><rect x="745.5" y="129.5" width="12.5" height="13" fill="#707070"/><rect x="757.5" y="129.5" width="12.5" height="13" fill="#838383"/><rect x="769.5" y="129.5" width="12.5" height="13" fill="#8c8c8c"/><rect x="781.5" y="129.5" width="12.5" height="13" fill="#8e8e8e"/><rect x="793.5" y="129.5" width="24.5" height="13" fill="#8f8f8f"/><rect x="817.5" y="129.5" width="12.5" height="13" fill="#8e8e8e"/><rect x="829.5" y="129.5" width="12.5" height="13" fill="#8d8d8d"/><rect x="841.5" y="129.5" width="12.5" height="13" fill="#8c8c8c"/><rect x="853.5" y="129.5" width="24.5" height="13" fill="#8d8d8d"/><rect x="877.5" y="129.5" width="24.5" height="13" fill="#8c8c8c"/><rect x="901.5" y="129.5" width="24.5" height="13" fill="#8b8b8b"/><rect x="925.5" y="129.5" width="12.5" height="13" fill="#898989"/><rect x="937.5" y="129.5" width="12.5" height="13" fill="#868686"/><rect x="949.5" y="129.5" width="12.5" height="13" fill="#838383"/><rect x="961.5" y="129.5" width="12.5" height="13" fill="#7d7d7d"/><rect x="973.5" y="129.5" width="12.5" height="13" fill="#737373"/><rect x="985.5" y="129.5" width="12.5" height="13" fill="#6d6d6d"/><rect x="997.5" y="129.5" width="12.5" height="13" fill="#6c6c6c"/><rect x="1009.5" y="129.5" width="12.5" height="13" fill="#707070"/><rect x="1021.5" y="129.5" width="12.5" height="13" fill="#777777"/><rect x="1033.5" y="129.5" width="12.5" height="13" fill="#7c7c7c"/><rect x="1045.5" y="129.5" width="24.5" height="13" fill="#7e7e7e"/><rect x="1069.5" y="129.5" width="12.5" height="13" fill="#7d7d7d"/><rect x="1081.5" y="129.5" width="12.5" height="13" fill="#7a7a7a"/><rect x="1093.5" y="129.5" width="12.5" height="13" fill="#777777"/><rect x="1105.5" y="129.5" width="12.5" height="13" fill="#727272"/><rect x="1117.5" y="129.5" width="12.5" height="13" fill="#6d6d6d"/><rect x="1129.5" y="129.5" width="24.5" height="13" fill="#696969"/><rect x="1153.5" y="129.5" width="12.5" height="13" fill="#6e6e6e"/><rect x="1165.5" y="129.5" width="12.5" height="13" fill="#797979"/><rect x="1177.5" y="129.5" width="12.5" height="13" fill="#858585"/><rect x="1189.5" y="129.5" width="12.5" height="13" fill="#939393"/><rect x="1201.5" y="129.5" width="12.5" height="13" fill="#a1a1a1"/><rect x="1213.5" y="129.5" width="12.5" height="13" fill="#a8a8a8"/><rect x="1225.5" y="129.5" width="12.5" height="13" fill="#acacac"/><rect x="1237.5" y="129.5" width="12.5" height="13" fill="#b5b5b5"/><rect x="1249.5" y="129.5" width="12.5" height="13" fill="#b6b6b6"/><rect x="1261.5" y="129.5" width="12.5" height="13" fill="#b4b4b4"/><rect x="1273.5" y="129.5" width="12.5" height="13" fill="#b2b2b2"/><rect x="1285.5" y="129.5" width="12.5" height="13" fill="#b1b1b1"/><rect x="1297.5" y="129.5" width="12.5" height="13" fill="#b0b0b0"/><rect x="1309.5" y="129.5" width="12.5" height="13" fill="#afafaf"/><rect x="193.5" y="141.5" width="24.5" height="13" fill="#9f9f9f"/><rect x="217.5" y="141.5" width="24.5" height="13" fill="#9e9e9e"/><rect x="241.5" y="141.5" width="24.5" height="13" fill="#9d9d9d"/><rect x="265.5" y="141.5" width="36.5" height="13" fill="#9c9c9c"/><rect x="301.5" y="141.5" width="36.5" height="13" fill="#9b9b9b"/><rect x="337.5" y="141.5" width="24.5" height="13" fill="#9a9a9a"/><rect x="361.5" y="141.5" width="12.5" height="13" fill="#999999"/><rect x="373.5" y="141.5" width="12.5" height="13" fill="#989898"/><rect x="385.5" y="141.5" width="12.5" height="13" fill="#969696"/><rect x="397.5" y="141.5" width="12.5" height="13" fill="#939393"/><rect x="409.5" y="141.5" width="12.5" height="13" fill="#909090"/><rect x="421.5" y="141.5" width="12.5" height="13" fill="#8d8d8d"/><rect x="433.5" y="141.5" width="12.5" height="13" fill="#8c8c8c"/><rect x="445.5" y="141.5" width="24.5" height="13" fill="#8d8d8d"/><rect x="469.5" y="141.5" width="24.5" height="13" fill="#8b8b8b"/><rect x="493.5" y="141.5" width="12.5" height="13" fill="#8c8c8c"/><rect x="505.5" y="141.5" width="12.5" height="13" fill="#8d8d8d"/><rect x="517.5" y="141.5" width="12.5" height="13" fill="#8e8e8e"/><rect x="529.5" y="141.5" width="24.5" height="13" fill="#8f8f8f"/><rect x="553.5" y="141.5" width="36.5" height="13" fill="#909090"/><rect x="589.5" y="141.5" width="12.5" height="13" fill="#8f8f8f"/><rect x="601.5" y="141.5" width="12.5" height="13" fill="#8e8e8e"/><rect x="613.5" y="141.5" width="12.5" height="13" fill="#8c8c8c"/><rect x="625.5" y="141.5" width="12.5" height="13" fill="#888888"/><rect x="637.5" y="141.5" width="12.5" height="13" fill="#838383"/><rect x="649.5" y="141.5" width="12.5" height="13" fill="#7c7c7c"/><rect x="661.5" y="141.5" width="12.5" height="13" fill="#747474"/><rect x="673.5" y="141.5" width="12.5" height="13" fill="#6e6e6e"/><rect x="685.5" y="141.5" width="12.5" height="13" fill="#696969"/><rect x="697.5" y="141.5" width="12.5" height="13" fill="#666666"/><rect x="709.5" y="141.5" width="12.5" height="13" fill="#656565"/><rect x="721.5" y="141.5" width="12.5" height="13" fill="#666666"/><rect x="733.5" y="141.5" width="12.5" height="13" fill="#6d6d6d"/><rect x="745.5" y="141.5" width="12.5" height="13" fill="#7a7a7a"/><rect x="757.5" y="141.5" width="12.5" height="13" fill="#8b8b8b"/><rect x="769.5" y="141.5" width="36.5" height="13" fill="#8f8f8f"/><rect x="805.5" y="141.5" width="36.5" height="13" fill="#909090"/><rect x="841.5" y="141.5" width="24.5" height="13" fill="#919191"/><rect x="865.5" y="141.5" width="12.5" height="13" fill="#909090"/><rect x="877.5" y="141.5" width="12.5" height="13" fill="#8e8e8e"/><rect x="889.5" y="141.5" width="12.5" height="13" fill="#8c8c8c"/><rect x="901.5" y="141.5" width="24.5" height="13" fill="#8b8b8b"/><rect x="925.5" y="141.5" width="12.5" height="13" fill="#888888"/><rect x="937.5" y="141.5" width="12.5" height="13" fill="#848484"/><rect x="949.5" y="141.5" width="12.5" height="13" fill="#838383"/><rect x="961.5" y="141.5" width="12.5" height="13" fill="#808080"/><rect x="973.5" y="141.5" width="12.5" height="13" fill="#787878"/><rect x="985.5" y="141.5" width="12.5" height="13" fill="#707070"/><rect x="997.5" y="141.5" width="12.5" height="13" fill="#6f6f6f"/><rect x="1009.5" y="141.5" width="12.5" height="13" fill="#757575"/><rect x="1021.5" y="141.5" width="12.5" height="13" fill="#7d7d7d"/><rect x="1033.5" y="141.5" width="36.5" height="13" fill="#7f7f7f"/><rect x="1069.5" y="141.5" width="12.5" height="13" fill="#7e7e7e"/><rect x="1081.5" y="141.5" width="12.5" height="13" fill="#7d7d7d"/><rect x="1093.5" y="141.5" width="12.5" height="13" fill="#7a7a7a"/><rect x="1105.5" y="141.5" width="12.5" height="13" fill="#777777"/><rect x="1117.5" y="141.5" width="12.5" height="13" fill="#747474"/><rect x="1129.5" y="141.5" width="12.5" height="13" fill="#717171"/><rect x="1141.5" y="141.5" width="12.5" height="13" fill="#707070"/><rect x="1153.5" y="141.5" width="12.5" height="13" fill="#6f6f6f"/><rect x="1165.5" y="141.5" width="12.5" height="13" fill="#757575"/><rect x="1177.5" y="141.5" width="12.5" height="13" fill="#848484"/><rect x="1189.5" y="141.5" width="12.5" height="13" fill="#929292"/><rect x="1201.5" y="141.5" width="12.5" height="13" fill="#9f9f9f"/><rect x="1213.5" y="141.5" width="12.5" height="13" fill="#a6a6a6"/><rect x="1225.5" y="141.5" width="12.5" height="13" fill="#ababab"/><rect x="1237.5" y="141.5" width="12.5" height="13" fill="#b2b2b2"/><rect x="1249.5" y="141.5" width="24.5" height="13" fill="#b4b4b4"/><rect x="1273.5" y="141.5" width="12.5" height="13" fill="#b3b3b3"/><rect x="1285.5" y="141.5" width="12.5" height="13" fill="#b2b2b2"/><rect x="1297.5" y="141.5" width="12.5" height="13" fill="#b1b1b1"/><rect x="1309.5" y="141.5" width="12.5" height="13" fill="#b0b0b0"/><rect x="193.5" y="153.5" width="12.5" height="13" fill="#9f9f9f"/><rect x="205.5" y="153.5" width="24.5" height="13" fill="#9e9e9e"/><rect x="229.5" y="153.5" width="24.5" height="13" fill="#9d9d9d"/><rect x="253.5" y="153.5" width="24.5" height="13" fill="#9c9c9c"/><rect x="277.5" y="153.5" width="60.5" height="13" fill="#9b9b9b"/><rect x="337.5" y="153.5" width="24.5" height="13" fill="#9a9a9a"/><rect x="361.5" y="153.5" width="12.5" height="13" fill="#999999"/><rect x="373.5" y="153.5" width="12.5" height="13" fill="#989898"/><rect x="385.5" y="153.5" width="12.5" height="13" fill="#979797"/><rect x="397.5" y="153.5" width="12.5" height="13" fill="#939393"/><rect x="409.5" y="153.5" width="12.5" height="13" fill="#8f8f8f"/><rect x="421.5" y="153.5" width="12.5" height="13" fill="#8c8c8c"/><rect x="433.5" y="153.5" width="12.5" height="13" fill="#8a8a8a"/><rect x="445.5" y="153.5" width="12.5" height="13" fill="#8b8b8b"/><rect x="457.5" y="153.5" width="12.5" height="13" fill="#8d8d8d"/><rect x="469.5" y="153.5" width="12.5" height="13" fill="#8b8b8b"/><rect x="481.5" y="153.5" width="12.5" height="13" fill="#8a8a8a"/><rect x="493.5" y="153.5" width="12.5" height="13" fill="#8c8c8c"/><rect x="505.5" y="153.5" width="24.5" height="13" fill="#8e8e8e"/><rect x="529.5" y="153.5" width="12.5" height="13" fill="#8d8d8d"/><rect x="541.5" y="153.5" width="12.5" height="13" fill="#8e8e8e"/><rect x="553.5" y="153.5" width="12.5" height="13" fill="#8f8f8f"/><rect x="565.5" y="153.5" width="12.5" height="13" fill="#909090"/><rect x="577.5" y="153.5" width="12.5" height="13" fill="#8f8f8f"/><rect x="589.5" y="153.5" width="24.5" height="13" fill="#8e8e8e"/><rect x="613.5" y="153.5" width="12.5" height="13" fill="#8d8d8d"/><rect x="625.5" y="153.5" width="12.5" height="13" fill="#8c8c8c"/><rect x="637.5" y="153.5" width="12.5" height="13" fill="#898989"/><rect x="649.5" y="153.5" width="12.5" height="13" fill="#858585"/><rect x="661.5" y="153.5" width="12.5" height="13" fill="#7f7f7f"/><rect x="673.5" y="153.5" width="12.5" height="13" fill="#7a7a7a"/><rect x="685.5" y="153.5" width="12.5" height="13" fill="#747474"/><rect x="697.5" y="153.5" width="12.5" height="13" fill="#6d6d6d"/><rect x="709.5" y="153.5" width="12.5" height="13" fill="#686868"/><rect x="721.5" y="153.5" width="12.5" height="13" fill="#6a6a6a"/><rect x="733.5" y="153.5" width="12.5" height="13" fill="#757575"/><rect x="745.5" y="153.5" width="12.5" height="13" fill="#878787"/><rect x="757.5" y="153.5" width="12.5" height="13" fill="#8f8f8f"/><rect x="769.5" y="153.5" width="12.5" height="13" fill="#909090"/><rect x="781.5" y="153.5" width="12.5" height="13" fill="#8f8f8f"/><rect x="793.5" y="153.5" width="24.5" height="13" fill="#909090"/><rect x="817.5" y="153.5" width="12.5" height="13" fill="#929292"/><rect x="829.5" y="153.5" width="12.5" height="13" fill="#939393"/><rect x="841.5" y="153.5" width="12.5" height="13" fill="#949494"/><rect x="853.5" y="153.5" width="12.5" height="13" fill="#939393"/><rect x="865.5" y="153.5" width="12.5" height="13" fill="#929292"/><rect x="877.5" y="153.5" width="12.5" height="13" fill="#8f8f8f"/><rect x="889.5" y="153.5" width="12.5" height="13" fill="#8d8d8d"/><rect x="901.5" y="153.5" width="24.5" height="13" fill="#8b8b8b"/><rect x="925.5" y="153.5" width="12.5" height="13" fill="#868686"/><rect x="937.5" y="153.5" width="36.5" height="13" fill="#838383"/><rect x="973.5" y="153.5" width="12.5" height="13" fill="#818181"/><rect x="985.5" y="153.5" width="12.5" height="13" fill="#7b7b7b"/><rect x="997.5" y="153.5" width="12.5" height="13" fill="#7a7a7a"/><rect x="1009.5" y="153.5" width="12.5" height="13" fill="#7f7f7f"/><rect x="1021.5" y="153.5" width="24.5" height="13" fill="#818181"/><rect x="1045.5" y="153.5" width="12.5" height="13" fill="#7f7f7f"/><rect x="1057.5" y="153.5" width="12.5" height="13" fill="#7e7e7e"/><rect x="1069.5" y="153.5" width="36.5" height="13" fill="#7d7d7d"/><rect x="1105.5" y="153.5" width="12.5" height="13" fill="#7b7b7b"/><rect x="1117.5" y="153.5" width="12.5" height="13" fill="#797979"/><rect x="1129.5" y="153.5" width="12.5" height="13" fill="#767676"/><rect x="1141.5" y="153.5" width="12.5" height="13" fill="#727272"/><rect x="1153.5" y="153.5" width="12.5" height="13" fill="#6e6e6e"/><rect x="1165.5" y="153.5" width="12.5" height="13" fill="#757575"/><rect x="1177.5" y="153.5" width="12.5" height="13" fill="#848484"/><rect x="1189.5" y="153.5" width="12.5" height="13" fill="#939393"/><rect x="1201.5" y="153.5" width="12.5" height="13" fill="#9f9f9f"/><rect x="1213.5" y="153.5" width="12.5" height="13" fill="#a9a9a9"/><rect x="1225.5" y="153.5" width="12.5" height="13" fill="#acacac"/><rect x="1237.5" y="153.5" width="12.5" height="13" fill="#b0b0b0"/><rect x="1249.5" y="153.5" width="12.5" height="13" fill="#b4b4b4"/><rect x="1261.5" y="153.5" width="12.5" height="13" fill="#b5b5b5"/><rect x="1273.5" y="153.5" width="12.5" height="13" fill="#b6b6b6"/><rect x="1285.5" y="153.5" width="12.5" height="13" fill="#b5b5b5"/><rect x="1297.5" y="153.5" width="12.5" height="13" fill="#b4b4b4"/><rect x="1309.5" y="153.5" width="12.5" height="13" fill="#b2b2b2"/><rect x="193.5" y="165.5" width="12.5" height="13" fill="#9f9f9f"/><rect x="205.5" y="165.5" width="24.5" height="13" fill="#9e9e9e"/><rect x="229.5" y="165.5" width="12.5" height="13" fill="#9d9d9d"/><rect x="241.5" y="165.5" width="24.5" height="13" fill="#9c9c9c"/><rect x="265.5" y="165.5" width="36.5" height="13" fill="#9b9b9b"/><rect x="301.5" y="165.5" width="72.5" height="13" fill="#9a9a9a"/><rect x="373.5" y="165.5" width="12.5" height="13" fill="#999999"/><rect x="385.5" y="165.5" width="12.5" height="13" fill="#989898"/><rect x="397.5" y="165.5" width="12.5" height="13" fill="#959595"/><rect x="409.5" y="165.5" width="12.5" height="13" fill="#919191"/><rect x="421.5" y="165.5" width="12.5" height="13" fill="#8c8c8c"/><rect x="433.5" y="165.5" width="12.5" height="13" fill="#8a8a8a"/><rect x="445.5" y="165.5" width="12.5" height="13" fill="#8c8c8c"/><rect x="457.5" y="165.5" width="12.5" height="13" fill="#909090"/><rect x="469.5" y="165.5" width="12.5" height="13" fill="#8f8f8f"/><rect x="481.5" y="165.5" width="36.5" height="13" fill="#8e8e8e"/><rect x="517.5" y="165.5" width="12.5" height="13" fill="#8d8d8d"/><rect x="529.5" y="165.5" width="12.5" height="13" fill="#8c8c8c"/><rect x="541.5" y="165.5" width="12.5" height="13" fill="#8e8e8e"/><rect x="553.5" y="165.5" width="24.5" height="13" fill="#8f8f8f"/><rect x="577.5" y="165.5" width="12.5" height="13" fill="#8e8e8e"/><rect x="589.5" y="165.5" width="24.5" height="13" fill="#8c8c8c"/><rect x="613.5" y="165.5" width="12.5" height="13" fill="#8d8d8d"/><rect x="625.5" y="165.5" width="24.5" height="13" fill="#8f8f8f"/><rect x="649.5" y="165.5" width="12.5" height="13" fill="#8d8d8d"/><rect x="661.5" y="165.5" width="12.5" height="13" fill="#8b8b8b"/><rect x="673.5" y="165.5" width="12.5" height="13" fill="#898989"/><rect x="685.5" y="165.5" width="12.5" height="13" fill="#878787"/><rect x="697.5" y="165.5" width="12.5" height="13" fill="#808080"/><rect x="709.5" y="165.5" width="12.5" height="13" fill="#787878"/><rect x="721.5" y="165.5" width="12.5" height="13" fill="#797979"/><rect x="733.5" y="165.5" width="12.5" height="13" fill="#868686"/><rect x="745.5" y="165.5" width="12.5" height="13" fill="#939393"/><rect x="757.5" y="165.5" width="12.5" height="13" fill="#969696"/><rect x="769.5" y="165.5" width="12.5" height="13" fill="#939393"/><rect x="781.5" y="165.5" width="24.5" height="13" fill="#919191"/><rect x="805.5" y="165.5" width="12.5" height="13" fill="#929292"/><rect x="817.5" y="165.5" width="12.5" height="13" fill="#939393"/><rect x="829.5" y="165.5" width="36.5" height="13" fill="#949494"/><rect x="865.5" y="165.5" width="12.5" height="13" fill="#939393"/><rect x="877.5" y="165.5" width="12.5" height="13" fill="#919191"/><rect x="889.5" y="165.5" width="12.5" height="13" fill="#8f8f8f"/><rect x="901.5" y="165.5" width="12.5" height="13" fill="#8d8d8d"/><rect x="913.5" y="165.5" width="12.5" height="13" fill="#8b8b8b"/><rect x="925.5" y="165.5" width="12.5" height="13" fill="#868686"/><rect x="937.5" y="165.5" width="24.5" height="13" fill="#838383"/><rect x="961.5" y="165.5" width="24.5" height="13" fill="#848484"/><rect x="985.5" y="165.5" width="12.5" height="13" fill="#838383"/><rect x="997.5" y="165.5" width="24.5" height="13" fill="#818181"/><rect x="1021.5" y="165.5" width="12.5" height="13" fill="#828282"/><rect x="1033.5" y="165.5" width="12.5" height="13" fill="#818181"/><rect x="1045.5" y="165.5" width="12.5" height="13" fill="#7e7e7e"/><rect x="1057.5" y="165.5" width="12.5" height="13" fill="#7b7b7b"/><rect x="1069.5" y="165.5" width="12.5" height="13" fill="#7a7a7a"/><rect x="1081.5" y="165.5" width="12.5" height="13" fill="#7c7c7c"/><rect x="1093.5" y="165.5" width="12.5" height="13" fill="#7e7e7e"/><rect x="1105.5" y="165.5" width="12.5" height="13" fill="#7f7f7f"/><rect x="1117.5" y="165.5" width="12.5" height="13" fill="#7d7d7d"/><rect x="1129.5" y="165.5" width="12.5" height="13" fill="#7b7b7b"/><rect x="1141.5" y="165.5" width="12.5" height="13" fill="#787878"/><rect x="1153.5" y="165.5" width="12.5" height="13" fill="#777777"/><rect x="1165.5" y="165.5" width="12.5" height="13" fill="#7f7f7f"/><rect x="1177.5" y="165.5" width="12.5" height="13" fill="#888888"/><rect x="1189.5" y="165.5" width="12.5" height="13" fill="#979797"/><rect x="1201.5" y="165.5" width="12.5" height="13" fill="#a1a1a1"/><rect x="1213.5" y="165.5" width="12.5" height="13" fill="#adadad"/><rect x="1225.5" y="165.5" width="12.5" height="13" fill="#afafaf"/><rect x="1237.5" y="165.5" width="12.5" height="13" fill="#b4b4b4"/><rect x="1249.5" y="165.5" width="12.5" height="13" fill="#b7b7b7"/><rect x="1261.5" y="165.5" width="12.5" height="13" fill="#b8b8b8"/><rect x="1273.5" y="165.5" width="12.5" height="13" fill="#b9b9b9"/><rect x="1285.5" y="165.5" width="12.5" height="13" fill="#b7b7b7"/><rect x="1297.5" y="165.5" width="12.5" height="13" fill="#b5b5b5"/><rect x="1309.5" y="165.5" width="12.5" height="13" fill="#b3b3b3"/><rect x="193.5" y="177.5" width="12.5" height="13" fill="#9f9f9f"/><rect x="205.5" y="177.5" width="12.5" height="13" fill="#9e9e9e"/><rect x="217.5" y="177.5" width="12.5" height="13" fill="#9d9d9d"/><rect x="229.5" y="177.5" width="24.5" height="13" fill="#9c9c9c"/><rect x="253.5" y="177.5" width="12.5" height="13" fill="#9b9b9b"/><rect x="265.5" y="177.5" width="132.5" height="13" fill="#9a9a9a"/><rect x="397.5" y="177.5" width="12.5" height="13" fill="#999999"/><rect x="409.5" y="177.5" width="12.5" height="13" fill="#969696"/><rect x="421.5" y="177.5" width="24.5" height="13" fill="#929292"/><rect x="445.5" y="177.5" width="12.5" height="13" fill="#959595"/><rect x="457.5" y="177.5" width="12.5" height="13" fill="#979797"/><rect x="469.5" y="177.5" width="12.5" height="13" fill="#969696"/><rect x="481.5" y="177.5" width="12.5" height="13" fill="#959595"/><rect x="493.5" y="177.5" width="12.5" height="13" fill="#929292"/><rect x="505.5" y="177.5" width="12.5" height="13" fill="#909090"/><rect x="517.5" y="177.5" width="24.5" height="13" fill="#8d8d8d"/><rect x="541.5" y="177.5" width="12.5" height="13" fill="#8f8f8f"/><rect x="553.5" y="177.5" width="24.5" height="13" fill="#909090"/><rect x="577.5" y="177.5" width="12.5" height="13" fill="#8d8d8d"/><rect x="589.5" y="177.5" width="24.5" height="13" fill="#8a8a8a"/><rect x="613.5" y="177.5" width="12.5" height="13" fill="#8d8d8d"/><rect x="625.5" y="177.5" width="12.5" height="13" fill="#919191"/><rect x="637.5" y="177.5" width="36.5" height="13" fill="#939393"/><rect x="673.5" y="177.5" width="12.5" height="13" fill="#959595"/><rect x="685.5" y="177.5" width="12.5" height="13" fill="#979797"/><rect x="697.5" y="177.5" width="12.5" height="13" fill="#969696"/><rect x="709.5" y="177.5" width="12.5" height="13" fill="#8f8f8f"/><rect x="721.5" y="177.5" width="12.5" height="13" fill="#8a8a8a"/><rect x="733.5" y="177.5" width="12.5" height="13" fill="#909090"/><rect x="745.5" y="177.5" width="12.5" height="13" fill="#979797"/><rect x="757.5" y="177.5" width="12.5" height="13" fill="#989898"/><rect x="769.5" y="177.5" width="12.5" height="13" fill="#969696"/><rect x="781.5" y="177.5" width="24.5" height="13" fill="#939393"/><rect x="805.5" y="177.5" width="24.5" height="13" fill="#949494"/><rect x="829.5" y="177.5" width="12.5" height="13" fill="#959595"/><rect x="841.5" y="177.5" width="36.5" height="13" fill="#949494"/><rect x="877.5" y="177.5" width="24.5" height="13" fill="#939393"/><rect x="901.5" y="177.5" width="12.5" height="13" fill="#929292"/><rect x="913.5" y="177.5" width="12.5" height="13" fill="#909090"/><rect x="925.5" y="177.5" width="12.5" height="13" fill="#8b8b8b"/><rect x="937.5" y="177.5" width="12.5" height="13" fill="#868686"/><rect x="949.5" y="177.5" width="24.5" height="13" fill="#858585"/><rect x="973.5" y="177.5" width="24.5" height="13" fill="#848484"/><rect x="997.5" y="177.5" width="24.5" height="13" fill="#838383"/><rect x="1021.5" y="177.5" width="12.5" height="13" fill="#828282"/><rect x="1033.5" y="177.5" width="12.5" height="13" fill="#818181"/><rect x="1045.5" y="177.5" width="12.5" height="13" fill="#7b7b7b"/><rect x="1057.5" y="177.5" width="12.5" height="13" fill="#757575"/><rect x="1069.5" y="177.5" width="12.5" height="13" fill="#767676"/><rect x="1081.5" y="177.5" width="12.5" height="13" fill="#797979"/><rect x="1093.5" y="177.5" width="12.5" height="13" fill="#7e7e7e"/><rect x="1105.5" y="177.5" width="12.5" height="13" fill="#818181"/><rect x="1117.5" y="177.5" width="12.5" height="13" fill="#828282"/><rect x="1129.5" y="177.5" width="12.5" height="13" fill="#818181"/><rect x="1141.5" y="177.5" width="12.5" height="13" fill="#808080"/><rect x="1153.5" y="177.5" width="12.5" height="13" fill="#818181"/><rect x="1165.5" y="177.5" width="12.5" height="13" fill="#848484"/><rect x="1177.5" y="177.5" width="12.5" height="13" fill="#888888"/><rect x="1189.5" y="177.5" width="12.5" height="13" fill="#939393"/><rect x="1201.5" y="177.5" width="12.5" height="13" fill="#9f9f9f"/><rect x="1213.5" y="177.5" width="12.5" height="13" fill="#aaaaaa"/><rect x="1225.5" y="177.5" width="12.5" height="13" fill="#b0b0b0"/><rect x="1237.5" y="177.5" width="12.5" height="13" fill="#b9b9b9"/><rect x="1249.5" y="177.5" width="12.5" height="13" fill="#bababa"/><rect x="1261.5" y="177.5" width="24.5" height="13" fill="#b9b9b9"/><rect x="1285.5" y="177.5" width="12.5" height="13" fill="#b8b8b8"/><rect x="1297.5" y="177.5" width="12.5" height="13" fill="#b6b6b6"/><rect x="1309.5" y="177.5" width="12.5" height="13" fill="#b4b4b4"/><rect x="193.5" y="189.5" width="24.5" height="13" fill="#9e9e9e"/><rect x="217.5" y="189.5" width="12.5" height="13" fill="#9d9d9d"/><rect x="229.5" y="189.5" width="12.5" height="13" fill="#9c9c9c"/><rect x="241.5" y="189.5" width="12.5" height="13" fill="#9b9b9b"/><rect x="253.5" y="189.5" width="12.5" height="13" fill="#9a9a9a"/><rect x="265.5" y="189.5" width="24.5" height="13" fill="#999999"/><rect x="289.5" y="189.5" width="24.5" height="13" fill="#989898"/><rect x="313.5" y="189.5" width="24.5" height="13" fill="#999999"/><rect x="337.5" y="189.5" width="12.5" height="13" fill="#9a9a9a"/><rect x="349.5" y="189.5" width="24.5" height="13" fill="#999999"/><rect x="373.5" y="189.5" width="36.5" height="13" fill="#9a9a9a"/><rect x="409.5" y="189.5" width="12.5" height="13" fill="#9b9b9b"/><rect x="421.5" y="189.5" width="12.5" height="13" fill="#9a9a9a"/><rect x="433.5" y="189.5" width="12.5" height="13" fill="#9c9c9c"/><rect x="445.5" y="189.5" width="12.5" height="13" fill="#9d9d9d"/><rect x="457.5" y="189.5" width="12.5" height="13" fill="#9c9c9c"/><rect x="469.5" y="189.5" width="12.5" height="13" fill="#9a9a9a"/><rect x="481.5" y="189.5" width="12.5" height="13" fill="#989898"/><rect x="493.5" y="189.5" width="12.5" height="13" fill="#979797"/><rect x="505.5" y="189.5" width="12.5" height="13" fill="#969696"/><rect x="517.5" y="189.5" width="12.5" height="13" fill="#949494"/><rect x="529.5" y="189.5" width="12.5" height="13" fill="#919191"/><rect x="541.5" y="189.5" width="36.5" height="13" fill="#909090"/><rect x="577.5" y="189.5" width="12.5" height="13" fill="#8b8b8b"/><rect x="589.5" y="189.5" width="24.5" height="13" fill="#888888"/><rect x="613.5" y="189.5" width="12.5" height="13" fill="#8d8d8d"/><rect x="625.5" y="189.5" width="12.5" height="13" fill="#949494"/><rect x="637.5" y="189.5" width="24.5" height="13" fill="#979797"/><rect x="661.5" y="189.5" width="12.5" height="13" fill="#989898"/><rect x="673.5" y="189.5" width="12.5" height="13" fill="#9a9a9a"/><rect x="685.5" y="189.5" width="24.5" height="13" fill="#9c9c9c"/><rect x="709.5" y="189.5" width="12.5" height="13" fill="#9a9a9a"/><rect x="721.5" y="189.5" width="12.5" height="13" fill="#949494"/><rect x="733.5" y="189.5" width="12.5" height="13" fill="#939393"/><rect x="745.5" y="189.5" width="12.5" height="13" fill="#969696"/><rect x="757.5" y="189.5" width="12.5" height="13" fill="#979797"/><rect x="769.5" y="189.5" width="12.5" height="13" fill="#969696"/><rect x="781.5" y="189.5" width="24.5" height="13" fill="#959595"/><rect x="805.5" y="189.5" width="12.5" height="13" fill="#969696"/><rect x="817.5" y="189.5" width="36.5" height="13" fill="#979797"/><rect x="853.5" y="189.5" width="12.5" height="13" fill="#969696"/><rect x="865.5" y="189.5" width="12.5" height="13" fill="#959595"/><rect x="877.5" y="189.5" width="24.5" height="13" fill="#949494"/><rect x="901.5" y="189.5" width="12.5" height="13" fill="#939393"/><rect x="913.5" y="189.5" width="12.5" height="13" fill="#929292"/><rect x="925.5" y="189.5" width="12.5" height="13" fill="#909090"/><rect x="937.5" y="189.5" width="12.5" height="13" fill="#8c8c8c"/><rect x="949.5" y="189.5" width="12.5" height="13" fill="#898989"/><rect x="961.5" y="189.5" width="24.5" height="13" fill="#888888"/><rect x="985.5" y="189.5" width="12.5" height="13" fill="#878787"/><rect x="997.5" y="189.5" width="12.5" height="13" fill="#868686"/><rect x="1009.5" y="189.5" width="24.5" height="13" fill="#848484"/><rect x="1033.5" y="189.5" width="12.5" height="13" fill="#838383"/><rect x="1045.5" y="189.5" width="12.5" height="13" fill="#797979"/><rect x="1057.5" y="189.5" width="12.5" height="13" fill="#727272"/><rect x="1069.5" y="189.5" width="12.5" height="13" fill="#737373"/><rect x="1081.5" y="189.5" width="12.5" height="13" fill="#787878"/><rect x="1093.5" y="189.5" width="12.5" height="13" fill="#7e7e7e"/><rect x="1105.5" y="189.5" width="12.5" height="13" fill="#838383"/><rect x="1117.5" y="189.5" width="48.5" height="13" fill="#868686"/><rect x="1165.5" y="189.5" width="24.5" height="13" fill="#858585"/><rect x="1189.5" y="189.5" width="12.5" height="13" fill="#909090"/><rect x="1201.5" y="189.5" width="12.5" height="13" fill="#9b9b9b"/><rect x="1213.5" y="189.5" width="12.5" height="13" fill="#a5a5a5"/><rect x="1225.5" y="189.5" width="12.5" height="13" fill="#afafaf"/><rect x="1237.5" y="189.5" width="12.5" height="13" fill="#b8b8b8"/><rect x="1249.5" y="189.5" width="12.5" height="13" fill="#bababa"/><rect x="1261.5" y="189.5" width="12.5" height="13" fill="#b9b9b9"/><rect x="1273.5" y="189.5" width="12.5" height="13" fill="#b8b8b8"/><rect x="1285.5" y="189.5" width="12.5" height="13" fill="#b7b7b7"/><rect x="1297.5" y="189.5" width="12.5" height="13" fill="#b6b6b6"/><rect x="1309.5" y="189.5" width="12.5" height="13" fill="#b4b4b4"/><rect x="193.5" y="201.5" width="12.5" height="13" fill="#9e9e9e"/><rect x="205.5" y="201.5" width="12.5" height="13" fill="#9d9d9d"/><rect x="217.5" y="201.5" width="24.5" height="13" fill="#9c9c9c"/><rect x="241.5" y="201.5" width="12.5" height="13" fill="#9b9b9b"/><rect x="253.5" y="201.5" width="12.5" height="13" fill="#999999"/><rect x="265.5" y="201.5" width="12.5" height="13" fill="#989898"/><rect x="277.5" y="201.5" width="48.5" height="13" fill="#979797"/><rect x="325.5" y="201.5" width="36.5" height="13" fill="#999999"/><rect x="361.5" y="201.5" width="12.5" height="13" fill="#989898"/><rect x="373.5" y="201.5" width="12.5" height="13" fill="#999999"/><rect x="385.5" y="201.5" width="12.5" height="13" fill="#9a9a9a"/><rect x="397.5" y="201.5" width="12.5" height="13" fill="#9b9b9b"/><rect x="409.5" y="201.5" width="12.5" height="13" fill="#9f9f9f"/><rect x="421.5" y="201.5" width="12.5" height="13" fill="#a0a0a0"/><rect x="433.5" y="201.5" width="12.5" height="13" fill="#9e9e9e"/><rect x="445.5" y="201.5" width="12.5" height="13" fill="#9f9f9f"/><rect x="457.5" y="201.5" width="12.5" height="13" fill="#a0a0a0"/><rect x="469.5" y="201.5" width="12.5" height="13" fill="#9e9e9e"/><rect x="481.5" y="201.5" width="24.5" height="13" fill="#9a9a9a"/><rect x="505.5" y="201.5" width="24.5" height="13" fill="#9c9c9c"/><rect x="529.5" y="201.5" width="12.5" height="13" fill="#999999"/><rect x="541.5" y="201.5" width="12.5" height="13" fill="#949494"/><rect x="553.5" y="201.5" width="12.5" height="13" fill="#929292"/><rect x="565.5" y="201.5" width="12.5" height="13" fill="#919191"/><rect x="577.5" y="201.5" width="12.5" height="13" fill="#8d8d8d"/><rect x="589.5" y="201.5" width="12.5" height="13" fill="#898989"/><rect x="601.5" y="201.5" width="12.5" height="13" fill="#8b8b8b"/><rect x="613.5" y="201.5" width="12.5" height="13" fill="#949494"/><rect x="625.5" y="201.5" width="48.5" height="13" fill="#999999"/><rect x="673.5" y="201.5" width="12.5" height="13" fill="#9b9b9b"/><rect x="685.5" y="201.5" width="24.5" height="13" fill="#9d9d9d"/><rect x="709.5" y="201.5" width="12.5" height="13" fill="#9b9b9b"/><rect x="721.5" y="201.5" width="12.5" height="13" fill="#979797"/><rect x="733.5" y="201.5" width="24.5" height="13" fill="#959595"/><rect x="757.5" y="201.5" width="36.5" height="13" fill="#969696"/><rect x="793.5" y="201.5" width="12.5" height="13" fill="#979797"/><rect x="805.5" y="201.5" width="12.5" height="13" fill="#999999"/><rect x="817.5" y="201.5" width="12.5" height="13" fill="#9a9a9a"/><rect x="829.5" y="201.5" width="12.5" height="13" fill="#9b9b9b"/><rect x="841.5" y="201.5" width="12.5" height="13" fill="#9c9c9c"/><rect x="853.5" y="201.5" width="12.5" height="13" fill="#9a9a9a"/><rect x="865.5" y="201.5" width="12.5" height="13" fill="#989898"/><rect x="877.5" y="201.5" width="12.5" height="13" fill="#959595"/><rect x="889.5" y="201.5" width="12.5" height="13" fill="#949494"/><rect x="901.5" y="201.5" width="24.5" height="13" fill="#939393"/><rect x="925.5" y="201.5" width="12.5" height="13" fill="#929292"/><rect x="937.5" y="201.5" width="12.5" height="13" fill="#909090"/><rect x="949.5" y="201.5" width="36.5" height="13" fill="#8e8e8e"/><rect x="985.5" y="201.5" width="12.5" height="13" fill="#8d8d8d"/><rect x="997.5" y="201.5" width="12.5" height="13" fill="#8a8a8a"/><rect x="1009.5" y="201.5" width="12.5" height="13" fill="#868686"/><rect x="1021.5" y="201.5" width="12.5" height="13" fill="#848484"/><rect x="1033.5" y="201.5" width="12.5" height="13" fill="#838383"/><rect x="1045.5" y="201.5" width="12.5" height="13" fill="#7b7b7b"/><rect x="1057.5" y="201.5" width="12.5" height="13" fill="#747474"/><rect x="1069.5" y="201.5" width="12.5" height="13" fill="#767676"/><rect x="1081.5" y="201.5" width="12.5" height="13" fill="#7b7b7b"/><rect x="1093.5" y="201.5" width="12.5" height="13" fill="#818181"/><rect x="1105.5" y="201.5" width="12.5" height="13" fill="#868686"/><rect x="1117.5" y="201.5" width="12.5" height="13" fill="#898989"/><rect x="1129.5" y="201.5" width="36.5" height="13" fill="#8b8b8b"/><rect x="1165.5" y="201.5" width="12.5" height="13" fill="#8a8a8a"/><rect x="1177.5" y="201.5" width="12.5" height="13" fill="#8d8d8d"/><rect x="1189.5" y="201.5" width="12.5" height="13" fill="#979797"/><rect x="1201.5" y="201.5" width="12.5" height="13" fill="#9d9d9d"/><rect x="1213.5" y="201.5" width="12.5" height="13" fill="#a8a8a8"/><rect x="1225.5" y="201.5" width="12.5" height="13" fill="#adadad"/><rect x="1237.5" y="201.5" width="12.5" height="13" fill="#b4b4b4"/><rect x="1249.5" y="201.5" width="12.5" height="13" fill="#b7b7b7"/><rect x="1261.5" y="201.5" width="24.5" height="13" fill="#b8b8b8"/><rect x="1285.5" y="201.5" width="12.5" height="13" fill="#b7b7b7"/><rect x="1297.5" y="201.5" width="12.5" height="13" fill="#b6b6b6"/><rect x="1309.5" y="201.5" width="12.5" height="13" fill="#b5b5b5"/><rect x="193.5" y="213.5" width="12.5" height="13" fill="#9e9e9e"/><rect x="205.5" y="213.5" width="12.5" height="13" fill="#9d9d9d"/><rect x="217.5" y="213.5" width="12.5" height="13" fill="#9c9c9c"/><rect x="229.5" y="213.5" width="12.5" height="13" fill="#9b9b9b"/><rect x="241.5" y="213.5" width="12.5" height="13" fill="#9a9a9a"/><rect x="253.5" y="213.5" width="12.5" height="13" fill="#999999"/><rect x="265.5" y="213.5" width="12.5" height="13" fill="#979797"/><rect x="277.5" y="213.5" width="12.5" height="13" fill="#969696"/><rect x="289.5" y="213.5" width="12.5" height="13" fill="#959595"/><rect x="301.5" y="213.5" width="12.5" height="13" fill="#949494"/><rect x="313.5" y="213.5" width="12.5" height="13" fill="#959595"/><rect x="325.5" y="213.5" width="12.5" height="13" fill="#979797"/><rect x="337.5" y="213.5" width="12.5" height="13" fill="#999999"/><rect x="349.5" y="213.5" width="36.5" height="13" fill="#989898"/><rect x="385.5" y="213.5" width="12.5" height="13" fill="#9a9a9a"/><rect x="397.5" y="213.5" width="12.5" height="13" fill="#9d9d9d"/><rect x="409.5" y="213.5" width="12.5" height="13" fill="#a5a5a5"/><rect x="421.5" y="213.5" width="12.5" height="13" fill="#a6a6a6"/><rect x="433.5" y="213.5" width="12.5" height="13" fill="#a2a2a2"/><rect x="445.5" y="213.5" width="24.5" height="13" fill="#a1a1a1"/><rect x="469.5" y="213.5" width="12.5" height="13" fill="#a0a0a0"/><rect x="481.5" y="213.5" width="12.5" height="13" fill="#9d9d9d"/><rect x="493.5" y="213.5" width="12.5" height="13" fill="#9c9c9c"/><rect x="505.5" y="213.5" width="36.5" height="13" fill="#9d9d9d"/><rect x="541.5" y="213.5" width="12.5" height="13" fill="#9b9b9b"/><rect x="553.5" y="213.5" width="12.5" height="13" fill="#999999"/><rect x="565.5" y="213.5" width="12.5" height="13" fill="#969696"/><rect x="577.5" y="213.5" width="12.5" height="13" fill="#939393"/><rect x="589.5" y="213.5" width="12.5" height="13" fill="#929292"/><rect x="601.5" y="213.5" width="12.5" height="13" fill="#999999"/><rect x="613.5" y="213.5" width="24.5" height="13" fill="#9f9f9f"/><rect x="637.5" y="213.5" width="12.5" height="13" fill="#9b9b9b"/><rect x="649.5" y="213.5" width="24.5" height="13" fill="#999999"/><rect x="673.5" y="213.5" width="12.5" height="13" fill="#9a9a9a"/><rect x="685.5" y="213.5" width="36.5" height="13" fill="#9c9c9c"/><rect x="721.5" y="213.5" width="12.5" height="13" fill="#999999"/><rect x="733.5" y="213.5" width="48.5" height="13" fill="#979797"/><rect x="781.5" y="213.5" width="12.5" height="13" fill="#989898"/><rect x="793.5" y="213.5" width="12.5" height="13" fill="#9a9a9a"/><rect x="805.5" y="213.5" width="12.5" height="13" fill="#9b9b9b"/><rect x="817.5" y="213.5" width="12.5" height="13" fill="#9c9c9c"/><rect x="829.5" y="213.5" width="36.5" height="13" fill="#9d9d9d"/><rect x="865.5" y="213.5" width="12.5" height="13" fill="#9a9a9a"/><rect x="877.5" y="213.5" width="12.5" height="13" fill="#979797"/><rect x="889.5" y="213.5" width="36.5" height="13" fill="#969696"/><rect x="925.5" y="213.5" width="12.5" height="13" fill="#959595"/><rect x="937.5" y="213.5" width="12.5" height="13" fill="#939393"/><rect x="949.5" y="213.5" width="12.5" height="13" fill="#919191"/><rect x="961.5" y="213.5" width="24.5" height="13" fill="#909090"/><rect x="985.5" y="213.5" width="12.5" height="13" fill="#8f8f8f"/><rect x="997.5" y="213.5" width="12.5" height="13" fill="#8d8d8d"/><rect x="1009.5" y="213.5" width="12.5" height="13" fill="#8a8a8a"/><rect x="1021.5" y="213.5" width="12.5" height="13" fill="#888888"/><rect x="1033.5" y="213.5" width="12.5" height="13" fill="#868686"/><rect x="1045.5" y="213.5" width="12.5" height="13" fill="#828282"/><rect x="1057.5" y="213.5" width="12.5" height="13" fill="#808080"/><rect x="1069.5" y="213.5" width="12.5" height="13" fill="#7f7f7f"/><rect x="1081.5" y="213.5" width="12.5" height="13" fill="#818181"/><rect x="1093.5" y="213.5" width="12.5" height="13" fill="#848484"/><rect x="1105.5" y="213.5" width="12.5" height="13" fill="#898989"/><rect x="1117.5" y="213.5" width="12.5" height="13" fill="#8c8c8c"/><rect x="1129.5" y="213.5" width="12.5" height="13" fill="#8f8f8f"/><rect x="1141.5" y="213.5" width="24.5" height="13" fill="#909090"/><rect x="1165.5" y="213.5" width="12.5" height="13" fill="#919191"/><rect x="1177.5" y="213.5" width="12.5" height="13" fill="#949494"/><rect x="1189.5" y="213.5" width="12.5" height="13" fill="#989898"/><rect x="1201.5" y="213.5" width="12.5" height="13" fill="#9f9f9f"/><rect x="1213.5" y="213.5" width="12.5" height="13" fill="#aaaaaa"/><rect x="1225.5" y="213.5" width="12.5" height="13" fill="#aeaeae"/><rect x="1237.5" y="213.5" width="12.5" height="13" fill="#b6b6b6"/><rect x="1249.5" y="213.5" width="12.5" height="13" fill="#b9b9b9"/><rect x="1261.5" y="213.5" width="24.5" height="13" fill="#bababa"/><rect x="1285.5" y="213.5" width="12.5" height="13" fill="#b9b9b9"/><rect x="1297.5" y="213.5" width="12.5" height="13" fill="#b8b8b8"/><rect x="1309.5" y="213.5" width="12.5" height="13" fill="#b6b6b6"/><rect x="193.5" y="225.5" width="12.5" height="13" fill="#9e9e9e"/><rect x="205.5" y="225.5" width="12.5" height="13" fill="#9d9d9d"/><rect x="217.5" y="225.5" width="12.5" height="13" fill="#9c9c9c"/><rect x="229.5" y="225.5" width="12.5" height="13" fill="#9b9b9b"/><rect x="241.5" y="225.5" width="12.5" height="13" fill="#9a9a9a"/><rect x="253.5" y="225.5" width="12.5" height="13" fill="#989898"/><rect x="265.5" y="225.5" width="12.5" height="13" fill="#969696"/><rect x="277.5" y="225.5" width="12.5" height="13" fill="#949494"/><rect x="289.5" y="225.5" width="12.5" height="13" fill="#939393"/><rect x="301.5" y="225.5" width="12.5" height="13" fill="#929292"/><rect x="313.5" y="225.5" width="12.5" height="13" fill="#939393"/><rect x="325.5" y="225.5" width="12.5" height="13" fill="#969696"/><rect x="337.5" y="225.5" width="24.5" height="13" fill="#999999"/><rect x="361.5" y="225.5" width="12.5" height="13" fill="#989898"/><rect x="373.5" y="225.5" width="12.5" height="13" fill="#999999"/><rect x="385.5" y="225.5" width="12.5" height="13" fill="#9e9e9e"/><rect x="397.5" y="225.5" width="12.5" height="13" fill="#a4a4a4"/><rect x="409.5" y="225.5" width="24.5" height="13" fill="#a9a9a9"/><rect x="433.5" y="225.5" width="12.5" height="13" fill="#a5a5a5"/><rect x="445.5" y="225.5" width="12.5" height="13" fill="#a2a2a2"/><rect x="457.5" y="225.5" width="12.5" height="13" fill="#a1a1a1"/><rect x="469.5" y="225.5" width="12.5" height="13" fill="#a0a0a0"/><rect x="481.5" y="225.5" width="36.5" height="13" fill="#9e9e9e"/><rect x="517.5" y="225.5" width="12.5" height="13" fill="#a0a0a0"/><rect x="529.5" y="225.5" width="24.5" height="13" fill="#a3a3a3"/><rect x="553.5" y="225.5" width="12.5" height="13" fill="#a1a1a1"/><rect x="565.5" y="225.5" width="12.5" height="13" fill="#a0a0a0"/><rect x="577.5" y="225.5" width="12.5" height="13" fill="#9e9e9e"/><rect x="589.5" y="225.5" width="12.5" height="13" fill="#9d9d9d"/><rect x="601.5" y="225.5" width="12.5" height="13" fill="#a0a0a0"/><rect x="613.5" y="225.5" width="12.5" height="13" fill="#a1a1a1"/><rect x="625.5" y="225.5" width="12.5" height="13" fill="#a0a0a0"/><rect x="637.5" y="225.5" width="12.5" height="13" fill="#9c9c9c"/><rect x="649.5" y="225.5" width="24.5" height="13" fill="#9a9a9a"/><rect x="673.5" y="225.5" width="12.5" height="13" fill="#9b9b9b"/><rect x="685.5" y="225.5" width="12.5" height="13" fill="#9e9e9e"/><rect x="697.5" y="225.5" width="12.5" height="13" fill="#9f9f9f"/><rect x="709.5" y="225.5" width="12.5" height="13" fill="#9e9e9e"/><rect x="721.5" y="225.5" width="12.5" height="13" fill="#9d9d9d"/><rect x="733.5" y="225.5" width="12.5" height="13" fill="#9b9b9b"/><rect x="745.5" y="225.5" width="36.5" height="13" fill="#9a9a9a"/><rect x="781.5" y="225.5" width="12.5" height="13" fill="#9b9b9b"/><rect x="793.5" y="225.5" width="12.5" height="13" fill="#9c9c9c"/><rect x="805.5" y="225.5" width="12.5" height="13" fill="#9d9d9d"/><rect x="817.5" y="225.5" width="48.5" height="13" fill="#9e9e9e"/><rect x="865.5" y="225.5" width="12.5" height="13" fill="#9c9c9c"/><rect x="877.5" y="225.5" width="24.5" height="13" fill="#9b9b9b"/><rect x="901.5" y="225.5" width="12.5" height="13" fill="#9c9c9c"/><rect x="913.5" y="225.5" width="12.5" height="13" fill="#9b9b9b"/><rect x="925.5" y="225.5" width="12.5" height="13" fill="#999999"/><rect x="937.5" y="225.5" width="12.5" height="13" fill="#969696"/><rect x="949.5" y="225.5" width="12.5" height="13" fill="#939393"/><rect x="961.5" y="225.5" width="12.5" height="13" fill="#919191"/><rect x="973.5" y="225.5" width="36.5" height="13" fill="#909090"/><rect x="1009.5" y="225.5" width="12.5" height="13" fill="#8f8f8f"/><rect x="1021.5" y="225.5" width="12.5" height="13" fill="#8e8e8e"/><rect x="1033.5" y="225.5" width="12.5" height="13" fill="#8f8f8f"/><rect x="1045.5" y="225.5" width="12.5" height="13" fill="#8a8a8a"/><rect x="1057.5" y="225.5" width="12.5" height="13" fill="#848484"/><rect x="1069.5" y="225.5" width="12.5" height="13" fill="#838383"/><rect x="1081.5" y="225.5" width="12.5" height="13" fill="#858585"/><rect x="1093.5" y="225.5" width="12.5" height="13" fill="#888888"/><rect x="1105.5" y="225.5" width="12.5" height="13" fill="#8c8c8c"/><rect x="1117.5" y="225.5" width="12.5" height="13" fill="#909090"/><rect x="1129.5" y="225.5" width="12.5" height="13" fill="#929292"/><rect x="1141.5" y="225.5" width="12.5" height="13" fill="#949494"/><rect x="1153.5" y="225.5" width="12.5" height="13" fill="#959595"/><rect x="1165.5" y="225.5" width="24.5" height="13" fill="#969696"/><rect x="1189.5" y="225.5" width="12.5" height="13" fill="#949494"/><rect x="1201.5" y="225.5" width="12.5" height="13" fill="#989898"/><rect x="1213.5" y="225.5" width="12.5" height="13" fill="#a5a5a5"/><rect x="1225.5" y="225.5" width="12.5" height="13" fill="#afafaf"/><rect x="1237.5" y="225.5" width="12.5" height="13" fill="#b9b9b9"/><rect x="1249.5" y="225.5" width="12.5" height="13" fill="#bbbbbb"/><rect x="1261.5" y="225.5" width="12.5" height="13" fill="#bcbcbc"/><rect x="1273.5" y="225.5" width="12.5" height="13" fill="#bdbdbd"/><rect x="1285.5" y="225.5" width="12.5" height="13" fill="#bbbbbb"/><rect x="1297.5" y="225.5" width="12.5" height="13" fill="#b9b9b9"/><rect x="1309.5" y="225.5" width="12.5" height="13" fill="#b7b7b7"/><rect x="193.5" y="237.5" width="12.5" height="13" fill="#9e9e9e"/><rect x="205.5" y="237.5" width="12.5" height="13" fill="#9d9d9d"/><rect x="217.5" y="237.5" width="12.5" height="13" fill="#9c9c9c"/><rect x="229.5" y="237.5" width="12.5" height="13" fill="#9b9b9b"/><rect x="241.5" y="237.5" width="12.5" height="13" fill="#9a9a9a"/><rect x="253.5" y="237.5" width="12.5" height="13" fill="#989898"/><rect x="265.5" y="237.5" width="12.5" height="13" fill="#969696"/><rect x="277.5" y="237.5" width="12.5" height="13" fill="#949494"/><rect x="289.5" y="237.5" width="12.5" height="13" fill="#929292"/><rect x="301.5" y="237.5" width="12.5" height="13" fill="#919191"/><rect x="313.5" y="237.5" width="12.5" height="13" fill="#929292"/><rect x="325.5" y="237.5" width="12.5" height="13" fill="#979797"/><rect x="337.5" y="237.5" width="36.5" height="13" fill="#9b9b9b"/><rect x="373.5" y="237.5" width="12.5" height="13" fill="#9e9e9e"/><rect x="385.5" y="237.5" width="12.5" height="13" fill="#a4a4a4"/><rect x="397.5" y="237.5" width="12.5" height="13" fill="#a6a6a6"/><rect x="409.5" y="237.5" width="12.5" height="13" fill="#a8a8a8"/><rect x="421.5" y="237.5" width="12.5" height="13" fill="#a9a9a9"/><rect x="433.5" y="237.5" width="12.5" height="13" fill="#a6a6a6"/><rect x="445.5" y="237.5" width="12.5" height="13" fill="#a3a3a3"/><rect x="457.5" y="237.5" width="12.5" height="13" fill="#a2a2a2"/><rect x="469.5" y="237.5" width="12.5" height="13" fill="#a1a1a1"/><rect x="481.5" y="237.5" width="24.5" height="13" fill="#a0a0a0"/><rect x="505.5" y="237.5" width="12.5" height="13" fill="#a2a2a2"/><rect x="517.5" y="237.5" width="12.5" height="13" fill="#a5a5a5"/><rect x="529.5" y="237.5" width="24.5" height="13" fill="#a8a8a8"/><rect x="553.5" y="237.5" width="36.5" height="13" fill="#a6a6a6"/><rect x="589.5" y="237.5" width="12.5" height="13" fill="#a3a3a3"/><rect x="601.5" y="237.5" width="24.5" height="13" fill="#a1a1a1"/><rect x="625.5" y="237.5" width="12.5" height="13" fill="#a0a0a0"/><rect x="637.5" y="237.5" width="12.5" height="13" fill="#9d9d9d"/><rect x="649.5" y="237.5" width="24.5" height="13" fill="#9b9b9b"/><rect x="673.5" y="237.5" width="12.5" height="13" fill="#9f9f9f"/><rect x="685.5" y="237.5" width="12.5" height="13" fill="#a2a2a2"/><rect x="697.5" y="237.5" width="12.5" height="13" fill="#a3a3a3"/><rect x="709.5" y="237.5" width="12.5" height="13" fill="#a2a2a2"/><rect x="721.5" y="237.5" width="12.5" height="13" fill="#a0a0a0"/><rect x="733.5" y="237.5" width="12.5" height="13" fill="#9e9e9e"/><rect x="745.5" y="237.5" width="24.5" height="13" fill="#9d9d9d"/><rect x="769.5" y="237.5" width="24.5" height="13" fill="#9e9e9e"/><rect x="793.5" y="237.5" width="12.5" height="13" fill="#9f9f9f"/><rect x="805.5" y="237.5" width="24.5" height="13" fill="#a0a0a0"/><rect x="829.5" y="237.5" width="12.5" height="13" fill="#9f9f9f"/><rect x="841.5" y="237.5" width="36.5" height="13" fill="#9e9e9e"/><rect x="877.5" y="237.5" width="48.5" height="13" fill="#9d9d9d"/><rect x="925.5" y="237.5" width="12.5" height="13" fill="#9c9c9c"/><rect x="937.5" y="237.5" width="12.5" height="13" fill="#999999"/><rect x="949.5" y="237.5" width="12.5" height="13" fill="#969696"/><rect x="961.5" y="237.5" width="12.5" height="13" fill="#959595"/><rect x="973.5" y="237.5" width="36.5" height="13" fill="#949494"/><rect x="1009.5" y="237.5" width="36.5" height="13" fill="#939393"/><rect x="1045.5" y="237.5" width="12.5" height="13" fill="#919191"/><rect x="1057.5" y="237.5" width="12.5" height="13" fill="#8a8a8a"/><rect x="1069.5" y="237.5" width="12.5" height="13" fill="#878787"/><rect x="1081.5" y="237.5" width="12.5" height="13" fill="#898989"/><rect x="1093.5" y="237.5" width="12.5" height="13" fill="#8d8d8d"/><rect x="1105.5" y="237.5" width="12.5" height="13" fill="#919191"/><rect x="1117.5" y="237.5" width="12.5" height="13" fill="#949494"/><rect x="1129.5" y="237.5" width="12.5" height="13" fill="#969696"/><rect x="1141.5" y="237.5" width="12.5" height="13" fill="#989898"/><rect x="1153.5" y="237.5" width="24.5" height="13" fill="#999999"/><rect x="1177.5" y="237.5" width="12.5" height="13" fill="#979797"/><rect x="1189.5" y="237.5" width="12.5" height="13" fill="#969696"/><rect x="1201.5" y="237.5" width="12.5" height="13" fill="#999999"/><rect x="1213.5" y="237.5" width="12.5" height="13" fill="#a4a4a4"/><rect x="1225.5" y="237.5" width="12.5" height="13" fill="#aeaeae"/><rect x="1237.5" y="237.5" width="12.5" height="13" fill="#b7b7b7"/><rect x="1249.5" y="237.5" width="12.5" height="13" fill="#bababa"/><rect x="1261.5" y="237.5" width="12.5" height="13" fill="#bcbcbc"/><rect x="1273.5" y="237.5" width="12.5" height="13" fill="#bdbdbd"/><rect x="1285.5" y="237.5" width="12.5" height="13" fill="#bcbcbc"/><rect x="1297.5" y="237.5" width="12.5" height="13" fill="#b9b9b9"/><rect x="1309.5" y="237.5" width="12.5" height="13" fill="#b7b7b7"/><rect x="193.5" y="249.5" width="12.5" height="13" fill="#9e9e9e"/><rect x="205.5" y="249.5" width="12.5" height="13" fill="#9d9d9d"/><rect x="217.5" y="249.5" width="12.5" height="13" fill="#9c9c9c"/><rect x="229.5" y="249.5" width="12.5" height="13" fill="#9b9b9b"/><rect x="241.5" y="249.5" width="12.5" height="13" fill="#9a9a9a"/><rect x="253.5" y="249.5" width="12.5" height="13" fill="#989898"/><rect x="265.5" y="249.5" width="12.5" height="13" fill="#979797"/><rect x="277.5" y="249.5" width="12.5" height="13" fill="#959595"/><rect x="289.5" y="249.5" width="12.5" height="13" fill="#939393"/><rect x="301.5" y="249.5" width="12.5" height="13" fill="#929292"/><rect x="313.5" y="249.5" width="12.5" height="13" fill="#959595"/><rect x="325.5" y="249.5" width="12.5" height="13" fill="#9c9c9c"/><rect x="337.5" y="249.5" width="24.5" height="13" fill="#9e9e9e"/><rect x="361.5" y="249.5" width="12.5" height="13" fill="#9f9f9f"/><rect x="373.5" y="249.5" width="12.5" height="13" fill="#a2a2a2"/><rect x="385.5" y="249.5" width="12.5" height="13" fill="#a6a6a6"/><rect x="397.5" y="249.5" width="36.5" height="13" fill="#a7a7a7"/><rect x="433.5" y="249.5" width="12.5" height="13" fill="#a6a6a6"/><rect x="445.5" y="249.5" width="12.5" height="13" fill="#a5a5a5"/><rect x="457.5" y="249.5" width="12.5" height="13" fill="#a4a4a4"/><rect x="469.5" y="249.5" width="12.5" height="13" fill="#a3a3a3"/><rect x="481.5" y="249.5" width="12.5" height="13" fill="#a2a2a2"/><rect x="493.5" y="249.5" width="12.5" height="13" fill="#a3a3a3"/><rect x="505.5" y="249.5" width="12.5" height="13" fill="#a5a5a5"/><rect x="517.5" y="249.5" width="12.5" height="13" fill="#a7a7a7"/><rect x="529.5" y="249.5" width="24.5" height="13" fill="#a9a9a9"/><rect x="553.5" y="249.5" width="12.5" height="13" fill="#a8a8a8"/><rect x="565.5" y="249.5" width="24.5" height="13" fill="#a9a9a9"/><rect x="589.5" y="249.5" width="12.5" height="13" fill="#a7a7a7"/><rect x="601.5" y="249.5" width="12.5" height="13" fill="#a4a4a4"/><rect x="613.5" y="249.5" width="12.5" height="13" fill="#a2a2a2"/><rect x="625.5" y="249.5" width="12.5" height="13" fill="#a1a1a1"/><rect x="637.5" y="249.5" width="12.5" height="13" fill="#a0a0a0"/><rect x="649.5" y="249.5" width="12.5" height="13" fill="#9f9f9f"/><rect x="661.5" y="249.5" width="12.5" height="13" fill="#a0a0a0"/><rect x="673.5" y="249.5" width="12.5" height="13" fill="#a2a2a2"/><rect x="685.5" y="249.5" width="36.5" height="13" fill="#a4a4a4"/><rect x="721.5" y="249.5" width="12.5" height="13" fill="#a2a2a2"/><rect x="733.5" y="249.5" width="12.5" height="13" fill="#a1a1a1"/><rect x="745.5" y="249.5" width="24.5" height="13" fill="#a0a0a0"/><rect x="769.5" y="249.5" width="24.5" height="13" fill="#a1a1a1"/><rect x="793.5" y="249.5" width="48.5" height="13" fill="#a2a2a2"/><rect x="841.5" y="249.5" width="12.5" height="13" fill="#a1a1a1"/><rect x="853.5" y="249.5" width="24.5" height="13" fill="#a0a0a0"/><rect x="877.5" y="249.5" width="24.5" height="13" fill="#9f9f9f"/><rect x="901.5" y="249.5" width="36.5" height="13" fill="#9e9e9e"/><rect x="937.5" y="249.5" width="12.5" height="13" fill="#9c9c9c"/><rect x="949.5" y="249.5" width="12.5" height="13" fill="#9a9a9a"/><rect x="961.5" y="249.5" width="36.5" height="13" fill="#999999"/><rect x="997.5" y="249.5" width="12.5" height="13" fill="#989898"/><rect x="1009.5" y="249.5" width="12.5" height="13" fill="#979797"/><rect x="1021.5" y="249.5" width="12.5" height="13" fill="#969696"/><rect x="1033.5" y="249.5" width="12.5" height="13" fill="#959595"/><rect x="1045.5" y="249.5" width="12.5" height="13" fill="#949494"/><rect x="1057.5" y="249.5" width="12.5" height="13" fill="#919191"/><rect x="1069.5" y="249.5" width="12.5" height="13" fill="#909090"/><rect x="1081.5" y="249.5" width="12.5" height="13" fill="#919191"/><rect x="1093.5" y="249.5" width="12.5" height="13" fill="#939393"/><rect x="1105.5" y="249.5" width="12.5" height="13" fill="#969696"/><rect x="1117.5" y="249.5" width="12.5" height="13" fill="#989898"/><rect x="1129.5" y="249.5" width="12.5" height="13" fill="#9a9a9a"/><rect x="1141.5" y="249.5" width="12.5" height="13" fill="#9b9b9b"/><rect x="1153.5" y="249.5" width="12.5" height="13" fill="#9c9c9c"/><rect x="1165.5" y="249.5" width="12.5" height="13" fill="#9d9d9d"/><rect x="1177.5" y="249.5" width="12.5" height="13" fill="#9c9c9c"/><rect x="1189.5" y="249.5" width="12.5" height="13" fill="#9d9d9d"/><rect x="1201.5" y="249.5" width="12.5" height="13" fill="#a0a0a0"/><rect x="1213.5" y="249.5" width="12.5" height="13" fill="#a6a6a6"/><rect x="1225.5" y="249.5" width="12.5" height="13" fill="#aeaeae"/><rect x="1237.5" y="249.5" width="12.5" height="13" fill="#b3b3b3"/><rect x="1249.5" y="249.5" width="12.5" height="13" fill="#b9b9b9"/><rect x="1261.5" y="249.5" width="12.5" height="13" fill="#bbbbbb"/><rect x="1273.5" y="249.5" width="12.5" height="13" fill="#bcbcbc"/><rect x="1285.5" y="249.5" width="12.5" height="13" fill="#bababa"/><rect x="1297.5" y="249.5" width="12.5" height="13" fill="#b8b8b8"/><rect x="1309.5" y="249.5" width="12.5" height="13" fill="#b7b7b7"/><rect x="193.5" y="261.5" width="12.5" height="13" fill="#9e9e9e"/><rect x="205.5" y="261.5" width="12.5" height="13" fill="#9d9d9d"/><rect x="217.5" y="261.5" width="12.5" height="13" fill="#9c9c9c"/><rect x="229.5" y="261.5" width="12.5" height="13" fill="#9b9b9b"/><rect x="241.5" y="261.5" width="12.5" height="13" fill="#9a9a9a"/><rect x="253.5" y="261.5" width="12.5" height="13" fill="#999999"/><rect x="265.5" y="261.5" width="12.5" height="13" fill="#989898"/><rect x="277.5" y="261.5" width="12.5" height="13" fill="#979797"/><rect x="289.5" y="261.5" width="12.5" height="13" fill="#969696"/><rect x="301.5" y="261.5" width="12.5" height="13" fill="#979797"/><rect x="313.5" y="261.5" width="12.5" height="13" fill="#9d9d9d"/><rect x="325.5" y="261.5" width="24.5" height="13" fill="#a1a1a1"/><rect x="349.5" y="261.5" width="12.5" height="13" fill="#a0a0a0"/><rect x="361.5" y="261.5" width="12.5" height="13" fill="#a1a1a1"/><rect x="373.5" y="261.5" width="12.5" height="13" fill="#a3a3a3"/><rect x="385.5" y="261.5" width="12.5" height="13" fill="#a5a5a5"/><rect x="397.5" y="261.5" width="12.5" height="13" fill="#a6a6a6"/><rect x="409.5" y="261.5" width="24.5" height="13" fill="#a7a7a7"/><rect x="433.5" y="261.5" width="36.5" height="13" fill="#a8a8a8"/><rect x="469.5" y="261.5" width="12.5" height="13" fill="#a7a7a7"/><rect x="481.5" y="261.5" width="12.5" height="13" fill="#a6a6a6"/><rect x="493.5" y="261.5" width="12.5" height="13" fill="#a5a5a5"/><rect x="505.5" y="261.5" width="12.5" height="13" fill="#a6a6a6"/><rect x="517.5" y="261.5" width="12.5" height="13" fill="#a7a7a7"/><rect x="529.5" y="261.5" width="36.5" height="13" fill="#a8a8a8"/><rect x="565.5" y="261.5" width="24.5" height="13" fill="#a9a9a9"/><rect x="589.5" y="261.5" width="12.5" height="13" fill="#a8a8a8"/><rect x="601.5" y="261.5" width="12.5" height="13" fill="#a6a6a6"/><rect x="613.5" y="261.5" width="48.5" height="13" fill="#a4a4a4"/><rect x="661.5" y="261.5" width="12.5" height="13" fill="#a3a3a3"/><rect x="673.5" y="261.5" width="48.5" height="13" fill="#a4a4a4"/><rect x="721.5" y="261.5" width="12.5" height="13" fill="#a3a3a3"/><rect x="733.5" y="261.5" width="36.5" height="13" fill="#a2a2a2"/><rect x="769.5" y="261.5" width="24.5" height="13" fill="#a3a3a3"/><rect x="793.5" y="261.5" width="36.5" height="13" fill="#a4a4a4"/><rect x="829.5" y="261.5" width="24.5" height="13" fill="#a5a5a5"/><rect x="853.5" y="261.5" width="12.5" height="13" fill="#a3a3a3"/><rect x="865.5" y="261.5" width="36.5" height="13" fill="#a2a2a2"/><rect x="901.5" y="261.5" width="24.5" height="13" fill="#a3a3a3"/><rect x="925.5" y="261.5" width="12.5" height="13" fill="#a1a1a1"/><rect x="937.5" y="261.5" width="12.5" height="13" fill="#9f9f9f"/><rect x="949.5" y="261.5" width="12.5" height="13" fill="#9c9c9c"/><rect x="961.5" y="261.5" width="12.5" height="13" fill="#9a9a9a"/><rect x="973.5" y="261.5" width="12.5" height="13" fill="#999999"/><rect x="985.5" y="261.5" width="12.5" height="13" fill="#9a9a9a"/><rect x="997.5" y="261.5" width="12.5" height="13" fill="#9c9c9c"/><rect x="1009.5" y="261.5" width="48.5" height="13" fill="#9d9d9d"/><rect x="1057.5" y="261.5" width="12.5" height="13" fill="#9b9b9b"/><rect x="1069.5" y="261.5" width="36.5" height="13" fill="#9a9a9a"/><rect x="1105.5" y="261.5" width="12.5" height="13" fill="#9b9b9b"/><rect x="1117.5" y="261.5" width="12.5" height="13" fill="#9c9c9c"/><rect x="1129.5" y="261.5" width="12.5" height="13" fill="#9d9d9d"/><rect x="1141.5" y="261.5" width="12.5" height="13" fill="#9e9e9e"/><rect x="1153.5" y="261.5" width="24.5" height="13" fill="#a0a0a0"/><rect x="1177.5" y="261.5" width="24.5" height="13" fill="#a1a1a1"/><rect x="1201.5" y="261.5" width="12.5" height="13" fill="#a2a2a2"/><rect x="1213.5" y="261.5" width="12.5" height="13" fill="#a7a7a7"/><rect x="1225.5" y="261.5" width="12.5" height="13" fill="#afafaf"/><rect x="1237.5" y="261.5" width="12.5" height="13" fill="#b6b6b6"/><rect x="1249.5" y="261.5" width="12.5" height="13" fill="#bdbdbd"/><rect x="1261.5" y="261.5" width="12.5" height="13" fill="#bcbcbc"/><rect x="1273.5" y="261.5" width="12.5" height="13" fill="#b9b9b9"/><rect x="1285.5" y="261.5" width="12.5" height="13" fill="#b8b8b8"/><rect x="1297.5" y="261.5" width="12.5" height="13" fill="#b7b7b7"/><rect x="1309.5" y="261.5" width="12.5" height="13" fill="#b6b6b6"/><rect x="193.5" y="273.5" width="12.5" height="13" fill="#9e9e9e"/><rect x="205.5" y="273.5" width="12.5" height="13" fill="#9d9d9d"/><rect x="217.5" y="273.5" width="12.5" height="13" fill="#9c9c9c"/><rect x="229.5" y="273.5" width="12.5" height="13" fill="#9b9b9b"/><rect x="241.5" y="273.5" width="12.5" height="13" fill="#9a9a9a"/><rect x="253.5" y="273.5" width="12.5" height="13" fill="#999999"/><rect x="265.5" y="273.5" width="36.5" height="13" fill="#989898"/><rect x="301.5" y="273.5" width="12.5" height="13" fill="#9b9b9b"/><rect x="313.5" y="273.5" width="12.5" height="13" fill="#a0a0a0"/><rect x="325.5" y="273.5" width="36.5" height="13" fill="#a1a1a1"/><rect x="361.5" y="273.5" width="12.5" height="13" fill="#a2a2a2"/><rect x="373.5" y="273.5" width="12.5" height="13" fill="#a4a4a4"/><rect x="385.5" y="273.5" width="12.5" height="13" fill="#a5a5a5"/><rect x="397.5" y="273.5" width="12.5" height="13" fill="#a6a6a6"/><rect x="409.5" y="273.5" width="12.5" height="13" fill="#a7a7a7"/><rect x="421.5" y="273.5" width="12.5" height="13" fill="#a9a9a9"/><rect x="433.5" y="273.5" width="12.5" height="13" fill="#ababab"/><rect x="445.5" y="273.5" width="24.5" height="13" fill="#acacac"/><rect x="469.5" y="273.5" width="12.5" height="13" fill="#aaaaaa"/><rect x="481.5" y="273.5" width="24.5" height="13" fill="#a9a9a9"/><rect x="505.5" y="273.5" width="60.5" height="13" fill="#a8a8a8"/><rect x="565.5" y="273.5" width="24.5" height="13" fill="#a9a9a9"/><rect x="589.5" y="273.5" width="12.5" height="13" fill="#a8a8a8"/><rect x="601.5" y="273.5" width="36.5" height="13" fill="#a7a7a7"/><rect x="637.5" y="273.5" width="24.5" height="13" fill="#a8a8a8"/><rect x="661.5" y="273.5" width="12.5" height="13" fill="#a6a6a6"/><rect x="673.5" y="273.5" width="12.5" height="13" fill="#a5a5a5"/><rect x="685.5" y="273.5" width="132.5" height="13" fill="#a4a4a4"/><rect x="817.5" y="273.5" width="12.5" height="13" fill="#a5a5a5"/><rect x="829.5" y="273.5" width="24.5" height="13" fill="#a6a6a6"/><rect x="853.5" y="273.5" width="12.5" height="13" fill="#a5a5a5"/><rect x="865.5" y="273.5" width="24.5" height="13" fill="#a4a4a4"/><rect x="889.5" y="273.5" width="12.5" height="13" fill="#a6a6a6"/><rect x="901.5" y="273.5" width="24.5" height="13" fill="#a8a8a8"/><rect x="925.5" y="273.5" width="12.5" height="13" fill="#a5a5a5"/><rect x="937.5" y="273.5" width="12.5" height="13" fill="#a2a2a2"/><rect x="949.5" y="273.5" width="12.5" height="13" fill="#9f9f9f"/><rect x="961.5" y="273.5" width="12.5" height="13" fill="#9d9d9d"/><rect x="973.5" y="273.5" width="12.5" height="13" fill="#9c9c9c"/><rect x="985.5" y="273.5" width="12.5" height="13" fill="#9d9d9d"/><rect x="997.5" y="273.5" width="12.5" height="13" fill="#a0a0a0"/><rect x="1009.5" y="273.5" width="12.5" height="13" fill="#a3a3a3"/><rect x="1021.5" y="273.5" width="12.5" height="13" fill="#a4a4a4"/><rect x="1033.5" y="273.5" width="24.5" height="13" fill="#a5a5a5"/><rect x="1057.5" y="273.5" width="12.5" height="13" fill="#a2a2a2"/><rect x="1069.5" y="273.5" width="12.5" height="13" fill="#a1a1a1"/><rect x="1081.5" y="273.5" width="12.5" height="13" fill="#a0a0a0"/><rect x="1093.5" y="273.5" width="24.5" height="13" fill="#9f9f9f"/><rect x="1117.5" y="273.5" width="24.5" height="13" fill="#a0a0a0"/><rect x="1141.5" y="273.5" width="12.5" height="13" fill="#a1a1a1"/><rect x="1153.5" y="273.5" width="12.5" height="13" fill="#a3a3a3"/><rect x="1165.5" y="273.5" width="12.5" height="13" fill="#a4a4a4"/><rect x="1177.5" y="273.5" width="24.5" height="13" fill="#a5a5a5"/><rect x="1201.5" y="273.5" width="12.5" height="13" fill="#a6a6a6"/><rect x="1213.5" y="273.5" width="12.5" height="13" fill="#a9a9a9"/><rect x="1225.5" y="273.5" width="12.5" height="13" fill="#afafaf"/><rect x="1237.5" y="273.5" width="12.5" height="13" fill="#b9b9b9"/><rect x="1249.5" y="273.5" width="12.5" height="13" fill="#bfbfbf"/><rect x="1261.5" y="273.5" width="12.5" height="13" fill="#bababa"/><rect x="1273.5" y="273.5" width="48.5" height="13" fill="#b5b5b5"/><rect x="193.5" y="285.5" width="12.5" height="13" fill="#9e9e9e"/><rect x="205.5" y="285.5" width="12.5" height="13" fill="#9d9d9d"/><rect x="217.5" y="285.5" width="12.5" height="13" fill="#9c9c9c"/><rect x="229.5" y="285.5" width="12.5" height="13" fill="#9b9b9b"/><rect x="241.5" y="285.5" width="12.5" height="13" fill="#9a9a9a"/><rect x="253.5" y="285.5" width="12.5" height="13" fill="#989898"/><rect x="265.5" y="285.5" width="24.5" height="13" fill="#979797"/><rect x="289.5" y="285.5" width="12.5" height="13" fill="#989898"/><rect x="301.5" y="285.5" width="12.5" height="13" fill="#9b9b9b"/><rect x="313.5" y="285.5" width="12.5" height="13" fill="#9f9f9f"/><rect x="325.5" y="285.5" width="12.5" height="13" fill="#a1a1a1"/><rect x="337.5" y="285.5" width="12.5" height="13" fill="#a2a2a2"/><rect x="349.5" y="285.5" width="12.5" height="13" fill="#a3a3a3"/><rect x="361.5" y="285.5" width="12.5" height="13" fill="#a4a4a4"/><rect x="373.5" y="285.5" width="12.5" height="13" fill="#a5a5a5"/><rect x="385.5" y="285.5" width="12.5" height="13" fill="#a6a6a6"/><rect x="397.5" y="285.5" width="12.5" height="13" fill="#a7a7a7"/><rect x="409.5" y="285.5" width="12.5" height="13" fill="#a9a9a9"/><rect x="421.5" y="285.5" width="12.5" height="13" fill="#acacac"/><rect x="433.5" y="285.5" width="12.5" height="13" fill="#adadad"/><rect x="445.5" y="285.5" width="12.5" height="13" fill="#aeaeae"/><rect x="457.5" y="285.5" width="48.5" height="13" fill="#adadad"/><rect x="505.5" y="285.5" width="12.5" height="13" fill="#acacac"/><rect x="517.5" y="285.5" width="12.5" height="13" fill="#ababab"/><rect x="529.5" y="285.5" width="24.5" height="13" fill="#aaaaaa"/><rect x="553.5" y="285.5" width="12.5" height="13" fill="#a9a9a9"/><rect x="565.5" y="285.5" width="48.5" height="13" fill="#aaaaaa"/><rect x="613.5" y="285.5" width="48.5" height="13" fill="#a9a9a9"/><rect x="661.5" y="285.5" width="12.5" height="13" fill="#a8a8a8"/><rect x="673.5" y="285.5" width="12.5" height="13" fill="#a7a7a7"/><rect x="685.5" y="285.5" width="12.5" height="13" fill="#a6a6a6"/><rect x="697.5" y="285.5" width="36.5" height="13" fill="#a5a5a5"/><rect x="733.5" y="285.5" width="12.5" height="13" fill="#a6a6a6"/><rect x="745.5" y="285.5" width="72.5" height="13" fill="#a5a5a5"/><rect x="817.5" y="285.5" width="12.5" height="13" fill="#a6a6a6"/><rect x="829.5" y="285.5" width="24.5" height="13" fill="#a7a7a7"/><rect x="853.5" y="285.5" width="12.5" height="13" fill="#a6a6a6"/><rect x="865.5" y="285.5" width="24.5" height="13" fill="#a5a5a5"/><rect x="889.5" y="285.5" width="12.5" height="13" fill="#a7a7a7"/><rect x="901.5" y="285.5" width="24.5" height="13" fill="#a8a8a8"/><rect x="925.5" y="285.5" width="12.5" height="13" fill="#a7a7a7"/><rect x="937.5" y="285.5" width="12.5" height="13" fill="#a5a5a5"/><rect x="949.5" y="285.5" width="12.5" height="13" fill="#a4a4a4"/><rect x="961.5" y="285.5" width="48.5" height="13" fill="#a6a6a6"/><rect x="1009.5" y="285.5" width="24.5" height="13" fill="#a8a8a8"/><rect x="1033.5" y="285.5" width="12.5" height="13" fill="#a7a7a7"/><rect x="1045.5" y="285.5" width="12.5" height="13" fill="#a6a6a6"/><rect x="1057.5" y="285.5" width="36.5" height="13" fill="#a3a3a3"/><rect x="1093.5" y="285.5" width="36.5" height="13" fill="#a2a2a2"/><rect x="1129.5" y="285.5" width="12.5" height="13" fill="#a3a3a3"/><rect x="1141.5" y="285.5" width="12.5" height="13" fill="#a4a4a4"/><rect x="1153.5" y="285.5" width="12.5" height="13" fill="#a5a5a5"/><rect x="1165.5" y="285.5" width="12.5" height="13" fill="#a7a7a7"/><rect x="1177.5" y="285.5" width="12.5" height="13" fill="#a8a8a8"/><rect x="1189.5" y="285.5" width="36.5" height="13" fill="#a9a9a9"/><rect x="1225.5" y="285.5" width="12.5" height="13" fill="#aeaeae"/><rect x="1237.5" y="285.5" width="12.5" height="13" fill="#b6b6b6"/><rect x="1249.5" y="285.5" width="12.5" height="13" fill="#b9b9b9"/><rect x="1261.5" y="285.5" width="12.5" height="13" fill="#b4b4b4"/><rect x="1273.5" y="285.5" width="12.5" height="13" fill="#b3b3b3"/><rect x="1285.5" y="285.5" width="24.5" height="13" fill="#b4b4b4"/><rect x="1309.5" y="285.5" width="12.5" height="13" fill="#b5b5b5"/><rect x="193.5" y="297.5" width="12.5" height="13" fill="#9f9f9f"/><rect x="205.5" y="297.5" width="12.5" height="13" fill="#9e9e9e"/><rect x="217.5" y="297.5" width="12.5" height="13" fill="#9d9d9d"/><rect x="229.5" y="297.5" width="12.5" height="13" fill="#9b9b9b"/><rect x="241.5" y="297.5" width="12.5" height="13" fill="#9a9a9a"/><rect x="253.5" y="297.5" width="12.5" height="13" fill="#999999"/><rect x="265.5" y="297.5" width="12.5" height="13" fill="#989898"/><rect x="277.5" y="297.5" width="12.5" height="13" fill="#979797"/><rect x="289.5" y="297.5" width="12.5" height="13" fill="#989898"/><rect x="301.5" y="297.5" width="12.5" height="13" fill="#9b9b9b"/><rect x="313.5" y="297.5" width="12.5" height="13" fill="#9f9f9f"/><rect x="325.5" y="297.5" width="12.5" height="13" fill="#a2a2a2"/><rect x="337.5" y="297.5" width="12.5" height="13" fill="#a4a4a4"/><rect x="349.5" y="297.5" width="12.5" height="13" fill="#a5a5a5"/><rect x="361.5" y="297.5" width="24.5" height="13" fill="#a6a6a6"/><rect x="385.5" y="297.5" width="12.5" height="13" fill="#a7a7a7"/><rect x="397.5" y="297.5" width="12.5" height="13" fill="#a9a9a9"/><rect x="409.5" y="297.5" width="12.5" height="13" fill="#ababab"/><rect x="421.5" y="297.5" width="12.5" height="13" fill="#adadad"/><rect x="433.5" y="297.5" width="48.5" height="13" fill="#aeaeae"/><rect x="481.5" y="297.5" width="12.5" height="13" fill="#afafaf"/><rect x="493.5" y="297.5" width="24.5" height="13" fill="#b0b0b0"/><rect x="517.5" y="297.5" width="12.5" height="13" fill="#afafaf"/><rect x="529.5" y="297.5" width="12.5" height="13" fill="#aeaeae"/><rect x="541.5" y="297.5" width="12.5" height="13" fill="#adadad"/><rect x="553.5" y="297.5" width="12.5" height="13" fill="#acacac"/><rect x="565.5" y="297.5" width="24.5" height="13" fill="#adadad"/><rect x="589.5" y="297.5" width="12.5" height="13" fill="#aeaeae"/><rect x="601.5" y="297.5" width="12.5" height="13" fill="#adadad"/><rect x="613.5" y="297.5" width="12.5" height="13" fill="#acacac"/><rect x="625.5" y="297.5" width="12.5" height="13" fill="#aaaaaa"/><rect x="637.5" y="297.5" width="48.5" height="13" fill="#a9a9a9"/><rect x="685.5" y="297.5" width="12.5" height="13" fill="#a8a8a8"/><rect x="697.5" y="297.5" width="60.5" height="13" fill="#a7a7a7"/><rect x="757.5" y="297.5" width="12.5" height="13" fill="#a6a6a6"/><rect x="769.5" y="297.5" width="48.5" height="13" fill="#a5a5a5"/><rect x="817.5" y="297.5" width="12.5" height="13" fill="#a7a7a7"/><rect x="829.5" y="297.5" width="12.5" height="13" fill="#a8a8a8"/><rect x="841.5" y="297.5" width="12.5" height="13" fill="#a9a9a9"/><rect x="853.5" y="297.5" width="12.5" height="13" fill="#a8a8a8"/><rect x="865.5" y="297.5" width="12.5" height="13" fill="#a6a6a6"/><rect x="877.5" y="297.5" width="12.5" height="13" fill="#a4a4a4"/><rect x="889.5" y="297.5" width="12.5" height="13" fill="#a3a3a3"/><rect x="901.5" y="297.5" width="12.5" height="13" fill="#a5a5a5"/><rect x="913.5" y="297.5" width="36.5" height="13" fill="#a7a7a7"/><rect x="949.5" y="297.5" width="12.5" height="13" fill="#a8a8a8"/><rect x="961.5" y="297.5" width="12.5" height="13" fill="#aaaaaa"/><rect x="973.5" y="297.5" width="12.5" height="13" fill="#ababab"/><rect x="985.5" y="297.5" width="24.5" height="13" fill="#aaaaaa"/><rect x="1009.5" y="297.5" width="24.5" height="13" fill="#acacac"/><rect x="1033.5" y="297.5" width="12.5" height="13" fill="#a8a8a8"/><rect x="1045.5" y="297.5" width="12.5" height="13" fill="#a5a5a5"/><rect x="1057.5" y="297.5" width="24.5" height="13" fill="#a3a3a3"/><rect x="1081.5" y="297.5" width="36.5" height="13" fill="#a4a4a4"/><rect x="1117.5" y="297.5" width="24.5" height="13" fill="#a5a5a5"/><rect x="1141.5" y="297.5" width="12.5" height="13" fill="#a6a6a6"/><rect x="1153.5" y="297.5" width="12.5" height="13" fill="#a7a7a7"/><rect x="1165.5" y="297.5" width="12.5" height="13" fill="#a9a9a9"/><rect x="1177.5" y="297.5" width="12.5" height="13" fill="#aaaaaa"/><rect x="1189.5" y="297.5" width="24.5" height="13" fill="#ababab"/><rect x="1213.5" y="297.5" width="12.5" height="13" fill="#adadad"/><rect x="1225.5" y="297.5" width="12.5" height="13" fill="#b3b3b3"/><rect x="1237.5" y="297.5" width="12.5" height="13" fill="#b6b6b6"/><rect x="1249.5" y="297.5" width="12.5" height="13" fill="#b8b8b8"/><rect x="1261.5" y="297.5" width="12.5" height="13" fill="#b5b5b5"/><rect x="1273.5" y="297.5" width="24.5" height="13" fill="#b4b4b4"/><rect x="1297.5" y="297.5" width="24.5" height="13" fill="#b5b5b5"/><rect x="193.5" y="309.5" width="12.5" height="13" fill="#9f9f9f"/><rect x="205.5" y="309.5" width="12.5" height="13" fill="#9e9e9e"/><rect x="217.5" y="309.5" width="12.5" height="13" fill="#9d9d9d"/><rect x="229.5" y="309.5" width="12.5" height="13" fill="#9c9c9c"/><rect x="241.5" y="309.5" width="12.5" height="13" fill="#9b9b9b"/><rect x="253.5" y="309.5" width="12.5" height="13" fill="#9a9a9a"/><rect x="265.5" y="309.5" width="36.5" height="13" fill="#999999"/><rect x="301.5" y="309.5" width="12.5" height="13" fill="#9d9d9d"/><rect x="313.5" y="309.5" width="12.5" height="13" fill="#a1a1a1"/><rect x="325.5" y="309.5" width="12.5" height="13" fill="#a5a5a5"/><rect x="337.5" y="309.5" width="12.5" height="13" fill="#a6a6a6"/><rect x="349.5" y="309.5" width="24.5" height="13" fill="#a7a7a7"/><rect x="373.5" y="309.5" width="12.5" height="13" fill="#a8a8a8"/><rect x="385.5" y="309.5" width="12.5" height="13" fill="#a9a9a9"/><rect x="397.5" y="309.5" width="12.5" height="13" fill="#ababab"/><rect x="409.5" y="309.5" width="12.5" height="13" fill="#acacac"/><rect x="421.5" y="309.5" width="12.5" height="13" fill="#adadad"/><rect x="433.5" y="309.5" width="36.5" height="13" fill="#aeaeae"/><rect x="469.5" y="309.5" width="12.5" height="13" fill="#b0b0b0"/><rect x="481.5" y="309.5" width="48.5" height="13" fill="#b2b2b2"/><rect x="529.5" y="309.5" width="12.5" height="13" fill="#b1b1b1"/><rect x="541.5" y="309.5" width="12.5" height="13" fill="#b0b0b0"/><rect x="553.5" y="309.5" width="12.5" height="13" fill="#afafaf"/><rect x="565.5" y="309.5" width="12.5" height="13" fill="#b0b0b0"/><rect x="577.5" y="309.5" width="12.5" height="13" fill="#b1b1b1"/><rect x="589.5" y="309.5" width="24.5" height="13" fill="#b2b2b2"/><rect x="613.5" y="309.5" width="12.5" height="13" fill="#afafaf"/><rect x="625.5" y="309.5" width="12.5" height="13" fill="#acacac"/><rect x="637.5" y="309.5" width="60.5" height="13" fill="#aaaaaa"/><rect x="697.5" y="309.5" width="24.5" height="13" fill="#a9a9a9"/><rect x="721.5" y="309.5" width="12.5" height="13" fill="#a8a8a8"/><rect x="733.5" y="309.5" width="36.5" height="13" fill="#a7a7a7"/><rect x="769.5" y="309.5" width="48.5" height="13" fill="#a6a6a6"/><rect x="817.5" y="309.5" width="12.5" height="13" fill="#a8a8a8"/><rect x="829.5" y="309.5" width="24.5" height="13" fill="#a9a9a9"/><rect x="853.5" y="309.5" width="12.5" height="13" fill="#a8a8a8"/><rect x="865.5" y="309.5" width="12.5" height="13" fill="#a6a6a6"/><rect x="877.5" y="309.5" width="12.5" height="13" fill="#a2a2a2"/><rect x="889.5" y="309.5" width="24.5" height="13" fill="#a1a1a1"/><rect x="913.5" y="309.5" width="12.5" height="13" fill="#a4a4a4"/><rect x="925.5" y="309.5" width="12.5" height="13" fill="#a7a7a7"/><rect x="937.5" y="309.5" width="12.5" height="13" fill="#a9a9a9"/><rect x="949.5" y="309.5" width="12.5" height="13" fill="#aaaaaa"/><rect x="961.5" y="309.5" width="24.5" height="13" fill="#ababab"/><rect x="985.5" y="309.5" width="24.5" height="13" fill="#aaaaaa"/><rect x="1009.5" y="309.5" width="12.5" height="13" fill="#acacac"/><rect x="1021.5" y="309.5" width="12.5" height="13" fill="#adadad"/><rect x="1033.5" y="309.5" width="12.5" height="13" fill="#aaaaaa"/><rect x="1045.5" y="309.5" width="12.5" height="13" fill="#a6a6a6"/><rect x="1057.5" y="309.5" width="24.5" height="13" fill="#a4a4a4"/><rect x="1081.5" y="309.5" width="24.5" height="13" fill="#a5a5a5"/><rect x="1105.5" y="309.5" width="24.5" height="13" fill="#a6a6a6"/><rect x="1129.5" y="309.5" width="12.5" height="13" fill="#a7a7a7"/><rect x="1141.5" y="309.5" width="12.5" height="13" fill="#a8a8a8"/><rect x="1153.5" y="309.5" width="12.5" height="13" fill="#a9a9a9"/><rect x="1165.5" y="309.5" width="12.5" height="13" fill="#ababab"/><rect x="1177.5" y="309.5" width="12.5" height="13" fill="#adadad"/><rect x="1189.5" y="309.5" width="12.5" height="13" fill="#aeaeae"/><rect x="1201.5" y="309.5" width="12.5" height="13" fill="#b0b0b0"/><rect x="1213.5" y="309.5" width="12.5" height="13" fill="#b2b2b2"/><rect x="1225.5" y="309.5" width="12.5" height="13" fill="#b5b5b5"/><rect x="1237.5" y="309.5" width="12.5" height="13" fill="#b9b9b9"/><rect x="1249.5" y="309.5" width="12.5" height="13" fill="#bdbdbd"/><rect x="1261.5" y="309.5" width="12.5" height="13" fill="#bababa"/><rect x="1273.5" y="309.5" width="12.5" height="13" fill="#b6b6b6"/><rect x="1285.5" y="309.5" width="36.5" height="13" fill="#b5b5b5"/><rect x="193.5" y="321.5" width="12.5" height="13" fill="#a0a0a0"/><rect x="205.5" y="321.5" width="12.5" height="13" fill="#9e9e9e"/><rect x="217.5" y="321.5" width="12.5" height="13" fill="#9d9d9d"/><rect x="229.5" y="321.5" width="24.5" height="13" fill="#9c9c9c"/><rect x="253.5" y="321.5" width="36.5" height="13" fill="#9b9b9b"/><rect x="289.5" y="321.5" width="12.5" height="13" fill="#9c9c9c"/><rect x="301.5" y="321.5" width="12.5" height="13" fill="#9f9f9f"/><rect x="313.5" y="321.5" width="12.5" height="13" fill="#a2a2a2"/><rect x="325.5" y="321.5" width="12.5" height="13" fill="#a6a6a6"/><rect x="337.5" y="321.5" width="24.5" height="13" fill="#a7a7a7"/><rect x="361.5" y="321.5" width="12.5" height="13" fill="#a8a8a8"/><rect x="373.5" y="321.5" width="12.5" height="13" fill="#aaaaaa"/><rect x="385.5" y="321.5" width="12.5" height="13" fill="#acacac"/><rect x="397.5" y="321.5" width="24.5" height="13" fill="#adadad"/><rect x="421.5" y="321.5" width="36.5" height="13" fill="#aeaeae"/><rect x="457.5" y="321.5" width="12.5" height="13" fill="#afafaf"/><rect x="469.5" y="321.5" width="12.5" height="13" fill="#b1b1b1"/><rect x="481.5" y="321.5" width="12.5" height="13" fill="#b2b2b2"/><rect x="493.5" y="321.5" width="48.5" height="13" fill="#b3b3b3"/><rect x="541.5" y="321.5" width="36.5" height="13" fill="#b2b2b2"/><rect x="577.5" y="321.5" width="12.5" height="13" fill="#b3b3b3"/><rect x="589.5" y="321.5" width="24.5" height="13" fill="#b4b4b4"/><rect x="613.5" y="321.5" width="12.5" height="13" fill="#b2b2b2"/><rect x="625.5" y="321.5" width="12.5" height="13" fill="#afafaf"/><rect x="637.5" y="321.5" width="24.5" height="13" fill="#acacac"/><rect x="661.5" y="321.5" width="24.5" height="13" fill="#adadad"/><rect x="685.5" y="321.5" width="12.5" height="13" fill="#acacac"/><rect x="697.5" y="321.5" width="12.5" height="13" fill="#ababab"/><rect x="709.5" y="321.5" width="12.5" height="13" fill="#aaaaaa"/><rect x="721.5" y="321.5" width="12.5" height="13" fill="#a9a9a9"/><rect x="733.5" y="321.5" width="12.5" height="13" fill="#a8a8a8"/><rect x="745.5" y="321.5" width="72.5" height="13" fill="#a7a7a7"/><rect x="817.5" y="321.5" width="12.5" height="13" fill="#a8a8a8"/><rect x="829.5" y="321.5" width="24.5" height="13" fill="#a9a9a9"/><rect x="853.5" y="321.5" width="12.5" height="13" fill="#a8a8a8"/><rect x="865.5" y="321.5" width="12.5" height="13" fill="#a6a6a6"/><rect x="877.5" y="321.5" width="12.5" height="13" fill="#a3a3a3"/><rect x="889.5" y="321.5" width="24.5" height="13" fill="#a1a1a1"/><rect x="913.5" y="321.5" width="12.5" height="13" fill="#a4a4a4"/><rect x="925.5" y="321.5" width="12.5" height="13" fill="#a9a9a9"/><rect x="937.5" y="321.5" width="12.5" height="13" fill="#acacac"/><rect x="949.5" y="321.5" width="12.5" height="13" fill="#adadad"/><rect x="961.5" y="321.5" width="12.5" height="13" fill="#acacac"/><rect x="973.5" y="321.5" width="12.5" height="13" fill="#ababab"/><rect x="985.5" y="321.5" width="12.5" height="13" fill="#aaaaaa"/><rect x="997.5" y="321.5" width="24.5" height="13" fill="#a9a9a9"/><rect x="1021.5" y="321.5" width="12.5" height="13" fill="#aaaaaa"/><rect x="1033.5" y="321.5" width="12.5" height="13" fill="#a9a9a9"/><rect x="1045.5" y="321.5" width="12.5" height="13" fill="#a7a7a7"/><rect x="1057.5" y="321.5" width="36.5" height="13" fill="#a5a5a5"/><rect x="1093.5" y="321.5" width="12.5" height="13" fill="#a6a6a6"/><rect x="1105.5" y="321.5" width="12.5" height="13" fill="#a7a7a7"/><rect x="1117.5" y="321.5" width="24.5" height="13" fill="#a8a8a8"/><rect x="1141.5" y="321.5" width="12.5" height="13" fill="#a9a9a9"/><rect x="1153.5" y="321.5" width="12.5" height="13" fill="#ababab"/><rect x="1165.5" y="321.5" width="12.5" height="13" fill="#adadad"/><rect x="1177.5" y="321.5" width="12.5" height="13" fill="#aeaeae"/><rect x="1189.5" y="321.5" width="12.5" height="13" fill="#b0b0b0"/><rect x="1201.5" y="321.5" width="12.5" height="13" fill="#b2b2b2"/><rect x="1213.5" y="321.5" width="12.5" height="13" fill="#b4b4b4"/><rect x="1225.5" y="321.5" width="12.5" height="13" fill="#b5b5b5"/><rect x="1237.5" y="321.5" width="12.5" height="13" fill="#bababa"/><rect x="1249.5" y="321.5" width="12.5" height="13" fill="#bdbdbd"/><rect x="1261.5" y="321.5" width="12.5" height="13" fill="#b8b8b8"/><rect x="1273.5" y="321.5" width="12.5" height="13" fill="#b6b6b6"/><rect x="1285.5" y="321.5" width="36.5" height="13" fill="#b5b5b5"/><rect x="193.5" y="333.5" width="12.5" height="13" fill="#a0a0a0"/><rect x="205.5" y="333.5" width="12.5" height="13" fill="#9f9f9f"/><rect x="217.5" y="333.5" width="12.5" height="13" fill="#9e9e9e"/><rect x="229.5" y="333.5" width="12.5" height="13" fill="#9d9d9d"/><rect x="241.5" y="333.5" width="24.5" height="13" fill="#9c9c9c"/><rect x="265.5" y="333.5" width="12.5" height="13" fill="#9b9b9b"/><rect x="277.5" y="333.5" width="12.5" height="13" fill="#9c9c9c"/><rect x="289.5" y="333.5" width="12.5" height="13" fill="#9e9e9e"/><rect x="301.5" y="333.5" width="12.5" height="13" fill="#9f9f9f"/><rect x="313.5" y="333.5" width="12.5" height="13" fill="#a1a1a1"/><rect x="325.5" y="333.5" width="12.5" height="13" fill="#a7a7a7"/><rect x="337.5" y="333.5" width="24.5" height="13" fill="#a8a8a8"/><rect x="361.5" y="333.5" width="12.5" height="13" fill="#a9a9a9"/><rect x="373.5" y="333.5" width="12.5" height="13" fill="#adadad"/><rect x="385.5" y="333.5" width="36.5" height="13" fill="#b0b0b0"/><rect x="421.5" y="333.5" width="12.5" height="13" fill="#afafaf"/><rect x="433.5" y="333.5" width="24.5" height="13" fill="#b0b0b0"/><rect x="457.5" y="333.5" width="12.5" height="13" fill="#b1b1b1"/><rect x="469.5" y="333.5" width="12.5" height="13" fill="#b2b2b2"/><rect x="481.5" y="333.5" width="24.5" height="13" fill="#b3b3b3"/><rect x="505.5" y="333.5" width="12.5" height="13" fill="#b4b4b4"/><rect x="517.5" y="333.5" width="24.5" height="13" fill="#b5b5b5"/><rect x="541.5" y="333.5" width="12.5" height="13" fill="#b4b4b4"/><rect x="553.5" y="333.5" width="24.5" height="13" fill="#b3b3b3"/><rect x="577.5" y="333.5" width="36.5" height="13" fill="#b4b4b4"/><rect x="613.5" y="333.5" width="12.5" height="13" fill="#b3b3b3"/><rect x="625.5" y="333.5" width="12.5" height="13" fill="#b1b1b1"/><rect x="637.5" y="333.5" width="12.5" height="13" fill="#afafaf"/><rect x="649.5" y="333.5" width="12.5" height="13" fill="#aeaeae"/><rect x="661.5" y="333.5" width="12.5" height="13" fill="#afafaf"/><rect x="673.5" y="333.5" width="24.5" height="13" fill="#aeaeae"/><rect x="697.5" y="333.5" width="12.5" height="13" fill="#acacac"/><rect x="709.5" y="333.5" width="24.5" height="13" fill="#ababab"/><rect x="733.5" y="333.5" width="12.5" height="13" fill="#aaaaaa"/><rect x="745.5" y="333.5" width="36.5" height="13" fill="#a8a8a8"/><rect x="781.5" y="333.5" width="36.5" height="13" fill="#a7a7a7"/><rect x="817.5" y="333.5" width="12.5" height="13" fill="#a8a8a8"/><rect x="829.5" y="333.5" width="24.5" height="13" fill="#a9a9a9"/><rect x="853.5" y="333.5" width="12.5" height="13" fill="#aaaaaa"/><rect x="865.5" y="333.5" width="12.5" height="13" fill="#a9a9a9"/><rect x="877.5" y="333.5" width="12.5" height="13" fill="#a7a7a7"/><rect x="889.5" y="333.5" width="24.5" height="13" fill="#a4a4a4"/><rect x="913.5" y="333.5" width="12.5" height="13" fill="#a7a7a7"/><rect x="925.5" y="333.5" width="12.5" height="13" fill="#adadad"/><rect x="937.5" y="333.5" width="24.5" height="13" fill="#b0b0b0"/><rect x="961.5" y="333.5" width="12.5" height="13" fill="#afafaf"/><rect x="973.5" y="333.5" width="12.5" height="13" fill="#acacac"/><rect x="985.5" y="333.5" width="12.5" height="13" fill="#a9a9a9"/><rect x="997.5" y="333.5" width="12.5" height="13" fill="#a7a7a7"/><rect x="1009.5" y="333.5" width="24.5" height="13" fill="#a6a6a6"/><rect x="1033.5" y="333.5" width="24.5" height="13" fill="#a7a7a7"/><rect x="1057.5" y="333.5" width="36.5" height="13" fill="#a8a8a8"/><rect x="1093.5" y="333.5" width="36.5" height="13" fill="#a9a9a9"/><rect x="1129.5" y="333.5" width="24.5" height="13" fill="#aaaaaa"/><rect x="1153.5" y="333.5" width="12.5" height="13" fill="#acacac"/><rect x="1165.5" y="333.5" width="12.5" height="13" fill="#aeaeae"/><rect x="1177.5" y="333.5" width="12.5" height="13" fill="#b0b0b0"/><rect x="1189.5" y="333.5" width="12.5" height="13" fill="#b2b2b2"/><rect x="1201.5" y="333.5" width="12.5" height="13" fill="#b3b3b3"/><rect x="1213.5" y="333.5" width="24.5" height="13" fill="#b4b4b4"/><rect x="1237.5" y="333.5" width="12.5" height="13" fill="#b7b7b7"/><rect x="1249.5" y="333.5" width="12.5" height="13" fill="#b8b8b8"/><rect x="1261.5" y="333.5" width="12.5" height="13" fill="#b6b6b6"/><rect x="1273.5" y="333.5" width="48.5" height="13" fill="#b5b5b5"/><rect x="193.5" y="345.5" width="12.5" height="13" fill="#a1a1a1"/><rect x="205.5" y="345.5" width="12.5" height="13" fill="#a0a0a0"/><rect x="217.5" y="345.5" width="12.5" height="13" fill="#9f9f9f"/><rect x="229.5" y="345.5" width="12.5" height="13" fill="#9e9e9e"/><rect x="241.5" y="345.5" width="12.5" height="13" fill="#9d9d9d"/><rect x="253.5" y="345.5" width="24.5" height="13" fill="#9c9c9c"/><rect x="277.5" y="345.5" width="12.5" height="13" fill="#9d9d9d"/><rect x="289.5" y="345.5" width="24.5" height="13" fill="#9e9e9e"/><rect x="313.5" y="345.5" width="12.5" height="13" fill="#a0a0a0"/><rect x="325.5" y="345.5" width="12.5" height="13" fill="#a7a7a7"/><rect x="337.5" y="345.5" width="24.5" height="13" fill="#a9a9a9"/><rect x="361.5" y="345.5" width="12.5" height="13" fill="#acacac"/><rect x="373.5" y="345.5" width="12.5" height="13" fill="#b1b1b1"/><rect x="385.5" y="345.5" width="12.5" height="13" fill="#b3b3b3"/><rect x="397.5" y="345.5" width="36.5" height="13" fill="#b2b2b2"/><rect x="433.5" y="345.5" width="24.5" height="13" fill="#b3b3b3"/><rect x="457.5" y="345.5" width="12.5" height="13" fill="#b4b4b4"/><rect x="469.5" y="345.5" width="24.5" height="13" fill="#b3b3b3"/><rect x="493.5" y="345.5" width="12.5" height="13" fill="#b4b4b4"/><rect x="505.5" y="345.5" width="12.5" height="13" fill="#b5b5b5"/><rect x="517.5" y="345.5" width="12.5" height="13" fill="#b6b6b6"/><rect x="529.5" y="345.5" width="24.5" height="13" fill="#b5b5b5"/><rect x="553.5" y="345.5" width="24.5" height="13" fill="#b3b3b3"/><rect x="577.5" y="345.5" width="36.5" height="13" fill="#b4b4b4"/><rect x="613.5" y="345.5" width="12.5" height="13" fill="#b3b3b3"/><rect x="625.5" y="345.5" width="12.5" height="13" fill="#b2b2b2"/><rect x="637.5" y="345.5" width="12.5" height="13" fill="#b0b0b0"/><rect x="649.5" y="345.5" width="36.5" height="13" fill="#afafaf"/><rect x="685.5" y="345.5" width="12.5" height="13" fill="#aeaeae"/><rect x="697.5" y="345.5" width="12.5" height="13" fill="#adadad"/><rect x="709.5" y="345.5" width="36.5" height="13" fill="#acacac"/><rect x="745.5" y="345.5" width="12.5" height="13" fill="#ababab"/><rect x="757.5" y="345.5" width="12.5" height="13" fill="#a9a9a9"/><rect x="769.5" y="345.5" width="12.5" height="13" fill="#a8a8a8"/><rect x="781.5" y="345.5" width="36.5" height="13" fill="#a7a7a7"/><rect x="817.5" y="345.5" width="12.5" height="13" fill="#a8a8a8"/><rect x="829.5" y="345.5" width="12.5" height="13" fill="#a9a9a9"/><rect x="841.5" y="345.5" width="12.5" height="13" fill="#ababab"/><rect x="853.5" y="345.5" width="24.5" height="13" fill="#acacac"/><rect x="877.5" y="345.5" width="12.5" height="13" fill="#ababab"/><rect x="889.5" y="345.5" width="24.5" height="13" fill="#aaaaaa"/><rect x="913.5" y="345.5" width="12.5" height="13" fill="#acacac"/><rect x="925.5" y="345.5" width="12.5" height="13" fill="#afafaf"/><rect x="937.5" y="345.5" width="24.5" height="13" fill="#b1b1b1"/><rect x="961.5" y="345.5" width="12.5" height="13" fill="#b0b0b0"/><rect x="973.5" y="345.5" width="12.5" height="13" fill="#adadad"/><rect x="985.5" y="345.5" width="12.5" height="13" fill="#a9a9a9"/><rect x="997.5" y="345.5" width="12.5" height="13" fill="#a6a6a6"/><rect x="1009.5" y="345.5" width="24.5" height="13" fill="#a5a5a5"/><rect x="1033.5" y="345.5" width="12.5" height="13" fill="#a6a6a6"/><rect x="1045.5" y="345.5" width="12.5" height="13" fill="#a8a8a8"/><rect x="1057.5" y="345.5" width="12.5" height="13" fill="#aaaaaa"/><rect x="1069.5" y="345.5" width="24.5" height="13" fill="#acacac"/><rect x="1093.5" y="345.5" width="48.5" height="13" fill="#aaaaaa"/><rect x="1141.5" y="345.5" width="12.5" height="13" fill="#ababab"/><rect x="1153.5" y="345.5" width="12.5" height="13" fill="#adadad"/><rect x="1165.5" y="345.5" width="12.5" height="13" fill="#aeaeae"/><rect x="1177.5" y="345.5" width="12.5" height="13" fill="#b0b0b0"/><rect x="1189.5" y="345.5" width="12.5" height="13" fill="#b2b2b2"/><rect x="1201.5" y="345.5" width="12.5" height="13" fill="#b3b3b3"/><rect x="1213.5" y="345.5" width="12.5" height="13" fill="#b4b4b4"/><rect x="1225.5" y="345.5" width="12.5" height="13" fill="#b5b5b5"/><rect x="1237.5" y="345.5" width="12.5" height="13" fill="#b6b6b6"/><rect x="1249.5" y="345.5" width="24.5" height="13" fill="#b7b7b7"/><rect x="1273.5" y="345.5" width="12.5" height="13" fill="#b6b6b6"/><rect x="1285.5" y="345.5" width="36.5" height="13" fill="#b5b5b5"/><rect x="193.5" y="357.5" width="12.5" height="13" fill="#a2a2a2"/><rect x="205.5" y="357.5" width="12.5" height="13" fill="#a1a1a1"/><rect x="217.5" y="357.5" width="12.5" height="13" fill="#a0a0a0"/><rect x="229.5" y="357.5" width="12.5" height="13" fill="#9f9f9f"/><rect x="241.5" y="357.5" width="36.5" height="13" fill="#9e9e9e"/><rect x="277.5" y="357.5" width="36.5" height="13" fill="#9f9f9f"/><rect x="313.5" y="357.5" width="12.5" height="13" fill="#a1a1a1"/><rect x="325.5" y="357.5" width="12.5" height="13" fill="#a7a7a7"/><rect x="337.5" y="357.5" width="12.5" height="13" fill="#a9a9a9"/><rect x="349.5" y="357.5" width="12.5" height="13" fill="#aaaaaa"/><rect x="361.5" y="357.5" width="12.5" height="13" fill="#afafaf"/><rect x="373.5" y="357.5" width="48.5" height="13" fill="#b3b3b3"/><rect x="421.5" y="357.5" width="12.5" height="13" fill="#b4b4b4"/><rect x="433.5" y="357.5" width="12.5" height="13" fill="#b7b7b7"/><rect x="445.5" y="357.5" width="12.5" height="13" fill="#b8b8b8"/><rect x="457.5" y="357.5" width="12.5" height="13" fill="#b7b7b7"/><rect x="469.5" y="357.5" width="12.5" height="13" fill="#b6b6b6"/><rect x="481.5" y="357.5" width="24.5" height="13" fill="#b5b5b5"/><rect x="505.5" y="357.5" width="24.5" height="13" fill="#b6b6b6"/><rect x="529.5" y="357.5" width="24.5" height="13" fill="#b5b5b5"/><rect x="553.5" y="357.5" width="60.5" height="13" fill="#b4b4b4"/><rect x="613.5" y="357.5" width="12.5" height="13" fill="#b3b3b3"/><rect x="625.5" y="357.5" width="12.5" height="13" fill="#b2b2b2"/><rect x="637.5" y="357.5" width="12.5" height="13" fill="#b0b0b0"/><rect x="649.5" y="357.5" width="36.5" height="13" fill="#afafaf"/><rect x="685.5" y="357.5" width="12.5" height="13" fill="#aeaeae"/><rect x="697.5" y="357.5" width="12.5" height="13" fill="#adadad"/><rect x="709.5" y="357.5" width="48.5" height="13" fill="#acacac"/><rect x="757.5" y="357.5" width="12.5" height="13" fill="#aaaaaa"/><rect x="769.5" y="357.5" width="12.5" height="13" fill="#a8a8a8"/><rect x="781.5" y="357.5" width="36.5" height="13" fill="#a7a7a7"/><rect x="817.5" y="357.5" width="12.5" height="13" fill="#a8a8a8"/><rect x="829.5" y="357.5" width="12.5" height="13" fill="#a9a9a9"/><rect x="841.5" y="357.5" width="24.5" height="13" fill="#acacac"/><rect x="865.5" y="357.5" width="36.5" height="13" fill="#adadad"/><rect x="901.5" y="357.5" width="12.5" height="13" fill="#afafaf"/><rect x="913.5" y="357.5" width="48.5" height="13" fill="#b1b1b1"/><rect x="961.5" y="357.5" width="12.5" height="13" fill="#b0b0b0"/><rect x="973.5" y="357.5" width="12.5" height="13" fill="#aeaeae"/><rect x="985.5" y="357.5" width="12.5" height="13" fill="#aaaaaa"/><rect x="997.5" y="357.5" width="12.5" height="13" fill="#a7a7a7"/><rect x="1009.5" y="357.5" width="36.5" height="13" fill="#a5a5a5"/><rect x="1045.5" y="357.5" width="12.5" height="13" fill="#a8a8a8"/><rect x="1057.5" y="357.5" width="12.5" height="13" fill="#ababab"/><rect x="1069.5" y="357.5" width="24.5" height="13" fill="#aeaeae"/><rect x="1093.5" y="357.5" width="12.5" height="13" fill="#acacac"/><rect x="1105.5" y="357.5" width="24.5" height="13" fill="#aaaaaa"/><rect x="1129.5" y="357.5" width="12.5" height="13" fill="#ababab"/><rect x="1141.5" y="357.5" width="12.5" height="13" fill="#acacac"/><rect x="1153.5" y="357.5" width="12.5" height="13" fill="#adadad"/><rect x="1165.5" y="357.5" width="12.5" height="13" fill="#afafaf"/><rect x="1177.5" y="357.5" width="12.5" height="13" fill="#b1b1b1"/><rect x="1189.5" y="357.5" width="12.5" height="13" fill="#b2b2b2"/><rect x="1201.5" y="357.5" width="24.5" height="13" fill="#b4b4b4"/><rect x="1225.5" y="357.5" width="12.5" height="13" fill="#b5b5b5"/><rect x="1237.5" y="357.5" width="36.5" height="13" fill="#b6b6b6"/><rect x="1273.5" y="357.5" width="24.5" height="13" fill="#b5b5b5"/><rect x="1297.5" y="357.5" width="24.5" height="13" fill="#b4b4b4"/><rect x="193.5" y="369.5" width="24.5" height="13" fill="#a3a3a3"/><rect x="217.5" y="369.5" width="12.5" height="13" fill="#a2a2a2"/><rect x="229.5" y="369.5" width="36.5" height="13" fill="#a1a1a1"/><rect x="265.5" y="369.5" width="12.5" height="13" fill="#a2a2a2"/><rect x="277.5" y="369.5" width="12.5" height="13" fill="#a3a3a3"/><rect x="289.5" y="369.5" width="24.5" height="13" fill="#a2a2a2"/><rect x="313.5" y="369.5" width="12.5" height="13" fill="#a4a4a4"/><rect x="325.5" y="369.5" width="12.5" height="13" fill="#a7a7a7"/><rect x="337.5" y="369.5" width="12.5" height="13" fill="#a9a9a9"/><rect x="349.5" y="369.5" width="12.5" height="13" fill="#acacac"/><rect x="361.5" y="369.5" width="12.5" height="13" fill="#b0b0b0"/><rect x="373.5" y="369.5" width="36.5" height="13" fill="#b3b3b3"/><rect x="409.5" y="369.5" width="12.5" height="13" fill="#b4b4b4"/><rect x="421.5" y="369.5" width="12.5" height="13" fill="#b7b7b7"/><rect x="433.5" y="369.5" width="12.5" height="13" fill="#bbbbbb"/><rect x="445.5" y="369.5" width="12.5" height="13" fill="#bcbcbc"/><rect x="457.5" y="369.5" width="12.5" height="13" fill="#bbbbbb"/><rect x="469.5" y="369.5" width="12.5" height="13" fill="#b9b9b9"/><rect x="481.5" y="369.5" width="12.5" height="13" fill="#b7b7b7"/><rect x="493.5" y="369.5" width="48.5" height="13" fill="#b6b6b6"/><rect x="541.5" y="369.5" width="12.5" height="13" fill="#b5b5b5"/><rect x="553.5" y="369.5" width="48.5" height="13" fill="#b4b4b4"/><rect x="601.5" y="369.5" width="24.5" height="13" fill="#b3b3b3"/><rect x="625.5" y="369.5" width="12.5" height="13" fill="#b2b2b2"/><rect x="637.5" y="369.5" width="12.5" height="13" fill="#b0b0b0"/><rect x="649.5" y="369.5" width="36.5" height="13" fill="#afafaf"/><rect x="685.5" y="369.5" width="12.5" height="13" fill="#aeaeae"/><rect x="697.5" y="369.5" width="24.5" height="13" fill="#adadad"/><rect x="721.5" y="369.5" width="36.5" height="13" fill="#acacac"/><rect x="757.5" y="369.5" width="12.5" height="13" fill="#aaaaaa"/><rect x="769.5" y="369.5" width="12.5" height="13" fill="#a9a9a9"/><rect x="781.5" y="369.5" width="12.5" height="13" fill="#a8a8a8"/><rect x="793.5" y="369.5" width="24.5" height="13" fill="#a7a7a7"/><rect x="817.5" y="369.5" width="12.5" height="13" fill="#a8a8a8"/><rect x="829.5" y="369.5" width="12.5" height="13" fill="#aaaaaa"/><rect x="841.5" y="369.5" width="12.5" height="13" fill="#acacac"/><rect x="853.5" y="369.5" width="36.5" height="13" fill="#adadad"/><rect x="889.5" y="369.5" width="12.5" height="13" fill="#b0b0b0"/><rect x="901.5" y="369.5" width="12.5" height="13" fill="#b4b4b4"/><rect x="913.5" y="369.5" width="12.5" height="13" fill="#b5b5b5"/><rect x="925.5" y="369.5" width="12.5" height="13" fill="#b4b4b4"/><rect x="937.5" y="369.5" width="12.5" height="13" fill="#b3b3b3"/><rect x="949.5" y="369.5" width="12.5" height="13" fill="#b2b2b2"/><rect x="961.5" y="369.5" width="12.5" height="13" fill="#b1b1b1"/><rect x="973.5" y="369.5" width="12.5" height="13" fill="#afafaf"/><rect x="985.5" y="369.5" width="12.5" height="13" fill="#ababab"/><rect x="997.5" y="369.5" width="12.5" height="13" fill="#a8a8a8"/><rect x="1009.5" y="369.5" width="12.5" height="13" fill="#a6a6a6"/><rect x="1021.5" y="369.5" width="24.5" height="13" fill="#a5a5a5"/><rect x="1045.5" y="369.5" width="12.5" height="13" fill="#a8a8a8"/><rect x="1057.5" y="369.5" width="12.5" height="13" fill="#acacac"/><rect x="1069.5" y="369.5" width="24.5" height="13" fill="#aeaeae"/><rect x="1093.5" y="369.5" width="12.5" height="13" fill="#adadad"/><rect x="1105.5" y="369.5" width="36.5" height="13" fill="#acacac"/><rect x="1141.5" y="369.5" width="12.5" height="13" fill="#adadad"/><rect x="1153.5" y="369.5" width="12.5" height="13" fill="#aeaeae"/><rect x="1165.5" y="369.5" width="12.5" height="13" fill="#afafaf"/><rect x="1177.5" y="369.5" width="12.5" height="13" fill="#b1b1b1"/><rect x="1189.5" y="369.5" width="12.5" height="13" fill="#b2b2b2"/><rect x="1201.5" y="369.5" width="12.5" height="13" fill="#b4b4b4"/><rect x="1213.5" y="369.5" width="12.5" height="13" fill="#b5b5b5"/><rect x="1225.5" y="369.5" width="24.5" height="13" fill="#b6b6b6"/><rect x="1249.5" y="369.5" width="12.5" height="13" fill="#b4b4b4"/><rect x="1261.5" y="369.5" width="24.5" height="13" fill="#b2b2b2"/><rect x="1285.5" y="369.5" width="24.5" height="13" fill="#b3b3b3"/><rect x="1309.5" y="369.5" width="12.5" height="13" fill="#b4b4b4"/><rect x="193.5" y="381.5" width="12.5" height="13" fill="#a5a5a5"/><rect x="205.5" y="381.5" width="96.5" height="13" fill="#a4a4a4"/><rect x="301.5" y="381.5" width="12.5" height="13" fill="#a5a5a5"/><rect x="313.5" y="381.5" width="12.5" height="13" fill="#a7a7a7"/><rect x="325.5" y="381.5" width="12.5" height="13" fill="#aaaaaa"/><rect x="337.5" y="381.5" width="12.5" height="13" fill="#acacac"/><rect x="349.5" y="381.5" width="12.5" height="13" fill="#aeaeae"/><rect x="361.5" y="381.5" width="12.5" height="13" fill="#b0b0b0"/><rect x="373.5" y="381.5" width="12.5" height="13" fill="#b2b2b2"/><rect x="385.5" y="381.5" width="24.5" height="13" fill="#b3b3b3"/><rect x="409.5" y="381.5" width="12.5" height="13" fill="#b6b6b6"/><rect x="421.5" y="381.5" width="12.5" height="13" fill="#bababa"/><rect x="433.5" y="381.5" width="12.5" height="13" fill="#bdbdbd"/><rect x="445.5" y="381.5" width="12.5" height="13" fill="#bebebe"/><rect x="457.5" y="381.5" width="12.5" height="13" fill="#bdbdbd"/><rect x="469.5" y="381.5" width="12.5" height="13" fill="#bcbcbc"/><rect x="481.5" y="381.5" width="12.5" height="13" fill="#b9b9b9"/><rect x="493.5" y="381.5" width="36.5" height="13" fill="#b8b8b8"/><rect x="529.5" y="381.5" width="12.5" height="13" fill="#b7b7b7"/><rect x="541.5" y="381.5" width="12.5" height="13" fill="#b6b6b6"/><rect x="553.5" y="381.5" width="12.5" height="13" fill="#b5b5b5"/><rect x="565.5" y="381.5" width="36.5" height="13" fill="#b4b4b4"/><rect x="601.5" y="381.5" width="24.5" height="13" fill="#b3b3b3"/><rect x="625.5" y="381.5" width="12.5" height="13" fill="#b2b2b2"/><rect x="637.5" y="381.5" width="12.5" height="13" fill="#b1b1b1"/><rect x="649.5" y="381.5" width="36.5" height="13" fill="#b0b0b0"/><rect x="685.5" y="381.5" width="12.5" height="13" fill="#afafaf"/><rect x="697.5" y="381.5" width="24.5" height="13" fill="#aeaeae"/><rect x="721.5" y="381.5" width="24.5" height="13" fill="#adadad"/><rect x="745.5" y="381.5" width="12.5" height="13" fill="#acacac"/><rect x="757.5" y="381.5" width="12.5" height="13" fill="#ababab"/><rect x="769.5" y="381.5" width="12.5" height="13" fill="#aaaaaa"/><rect x="781.5" y="381.5" width="12.5" height="13" fill="#a9a9a9"/><rect x="793.5" y="381.5" width="24.5" height="13" fill="#a8a8a8"/><rect x="817.5" y="381.5" width="12.5" height="13" fill="#a9a9a9"/><rect x="829.5" y="381.5" width="12.5" height="13" fill="#ababab"/><rect x="841.5" y="381.5" width="24.5" height="13" fill="#adadad"/><rect x="865.5" y="381.5" width="12.5" height="13" fill="#aeaeae"/><rect x="877.5" y="381.5" width="12.5" height="13" fill="#b0b0b0"/><rect x="889.5" y="381.5" width="12.5" height="13" fill="#b4b4b4"/><rect x="901.5" y="381.5" width="12.5" height="13" fill="#b7b7b7"/><rect x="913.5" y="381.5" width="12.5" height="13" fill="#b8b8b8"/><rect x="925.5" y="381.5" width="36.5" height="13" fill="#b7b7b7"/><rect x="961.5" y="381.5" width="12.5" height="13" fill="#b5b5b5"/><rect x="973.5" y="381.5" width="12.5" height="13" fill="#b2b2b2"/><rect x="985.5" y="381.5" width="12.5" height="13" fill="#aeaeae"/><rect x="997.5" y="381.5" width="12.5" height="13" fill="#aaaaaa"/><rect x="1009.5" y="381.5" width="12.5" height="13" fill="#a7a7a7"/><rect x="1021.5" y="381.5" width="24.5" height="13" fill="#a6a6a6"/><rect x="1045.5" y="381.5" width="12.5" height="13" fill="#a9a9a9"/><rect x="1057.5" y="381.5" width="12.5" height="13" fill="#aeaeae"/><rect x="1069.5" y="381.5" width="24.5" height="13" fill="#b1b1b1"/><rect x="1093.5" y="381.5" width="12.5" height="13" fill="#b0b0b0"/><rect x="1105.5" y="381.5" width="24.5" height="13" fill="#afafaf"/><rect x="1129.5" y="381.5" width="36.5" height="13" fill="#aeaeae"/><rect x="1165.5" y="381.5" width="12.5" height="13" fill="#afafaf"/><rect x="1177.5" y="381.5" width="12.5" height="13" fill="#b0b0b0"/><rect x="1189.5" y="381.5" width="12.5" height="13" fill="#b2b2b2"/><rect x="1201.5" y="381.5" width="12.5" height="13" fill="#b4b4b4"/><rect x="1213.5" y="381.5" width="12.5" height="13" fill="#b6b6b6"/><rect x="1225.5" y="381.5" width="24.5" height="13" fill="#b7b7b7"/><rect x="1249.5" y="381.5" width="12.5" height="13" fill="#b5b5b5"/><rect x="1261.5" y="381.5" width="24.5" height="13" fill="#b1b1b1"/><rect x="1285.5" y="381.5" width="12.5" height="13" fill="#b2b2b2"/><rect x="1297.5" y="381.5" width="24.5" height="13" fill="#b3b3b3"/><rect x="193.5" y="393.5" width="36.5" height="13" fill="#a6a6a6"/><rect x="229.5" y="393.5" width="72.5" height="13" fill="#a5a5a5"/><rect x="301.5" y="393.5" width="12.5" height="13" fill="#a6a6a6"/><rect x="313.5" y="393.5" width="12.5" height="13" fill="#aaaaaa"/><rect x="325.5" y="393.5" width="12.5" height="13" fill="#aeaeae"/><rect x="337.5" y="393.5" width="24.5" height="13" fill="#b0b0b0"/><rect x="361.5" y="393.5" width="12.5" height="13" fill="#b1b1b1"/><rect x="373.5" y="393.5" width="12.5" height="13" fill="#b2b2b2"/><rect x="385.5" y="393.5" width="12.5" height="13" fill="#b3b3b3"/><rect x="397.5" y="393.5" width="12.5" height="13" fill="#b4b4b4"/><rect x="409.5" y="393.5" width="12.5" height="13" fill="#b7b7b7"/><rect x="421.5" y="393.5" width="12.5" height="13" fill="#bbbbbb"/><rect x="433.5" y="393.5" width="12.5" height="13" fill="#bdbdbd"/><rect x="445.5" y="393.5" width="24.5" height="13" fill="#bebebe"/><rect x="469.5" y="393.5" width="12.5" height="13" fill="#bcbcbc"/><rect x="481.5" y="393.5" width="60.5" height="13" fill="#bababa"/><rect x="541.5" y="393.5" width="12.5" height="13" fill="#b8b8b8"/><rect x="553.5" y="393.5" width="12.5" height="13" fill="#b6b6b6"/><rect x="565.5" y="393.5" width="24.5" height="13" fill="#b5b5b5"/><rect x="589.5" y="393.5" width="36.5" height="13" fill="#b4b4b4"/><rect x="625.5" y="393.5" width="12.5" height="13" fill="#b3b3b3"/><rect x="637.5" y="393.5" width="24.5" height="13" fill="#b2b2b2"/><rect x="661.5" y="393.5" width="36.5" height="13" fill="#b1b1b1"/><rect x="697.5" y="393.5" width="12.5" height="13" fill="#b0b0b0"/><rect x="709.5" y="393.5" width="36.5" height="13" fill="#afafaf"/><rect x="745.5" y="393.5" width="12.5" height="13" fill="#aeaeae"/><rect x="757.5" y="393.5" width="12.5" height="13" fill="#adadad"/><rect x="769.5" y="393.5" width="12.5" height="13" fill="#acacac"/><rect x="781.5" y="393.5" width="36.5" height="13" fill="#ababab"/><rect x="817.5" y="393.5" width="12.5" height="13" fill="#acacac"/><rect x="829.5" y="393.5" width="12.5" height="13" fill="#adadad"/><rect x="841.5" y="393.5" width="12.5" height="13" fill="#aeaeae"/><rect x="853.5" y="393.5" width="12.5" height="13" fill="#afafaf"/><rect x="865.5" y="393.5" width="12.5" height="13" fill="#b0b0b0"/><rect x="877.5" y="393.5" width="12.5" height="13" fill="#b3b3b3"/><rect x="889.5" y="393.5" width="12.5" height="13" fill="#b6b6b6"/><rect x="901.5" y="393.5" width="24.5" height="13" fill="#b8b8b8"/><rect x="925.5" y="393.5" width="12.5" height="13" fill="#b9b9b9"/><rect x="937.5" y="393.5" width="12.5" height="13" fill="#bbbbbb"/><rect x="949.5" y="393.5" width="12.5" height="13" fill="#bcbcbc"/><rect x="961.5" y="393.5" width="12.5" height="13" fill="#bababa"/><rect x="973.5" y="393.5" width="12.5" height="13" fill="#b6b6b6"/><rect x="985.5" y="393.5" width="12.5" height="13" fill="#b1b1b1"/><rect x="997.5" y="393.5" width="12.5" height="13" fill="#adadad"/><rect x="1009.5" y="393.5" width="12.5" height="13" fill="#ababab"/><rect x="1021.5" y="393.5" width="12.5" height="13" fill="#a9a9a9"/><rect x="1033.5" y="393.5" width="12.5" height="13" fill="#aaaaaa"/><rect x="1045.5" y="393.5" width="12.5" height="13" fill="#aeaeae"/><rect x="1057.5" y="393.5" width="12.5" height="13" fill="#b3b3b3"/><rect x="1069.5" y="393.5" width="12.5" height="13" fill="#b8b8b8"/><rect x="1081.5" y="393.5" width="12.5" height="13" fill="#bababa"/><rect x="1093.5" y="393.5" width="12.5" height="13" fill="#b8b8b8"/><rect x="1105.5" y="393.5" width="12.5" height="13" fill="#b5b5b5"/><rect x="1117.5" y="393.5" width="12.5" height="13" fill="#b1b1b1"/><rect x="1129.5" y="393.5" width="12.5" height="13" fill="#afafaf"/><rect x="1141.5" y="393.5" width="24.5" height="13" fill="#adadad"/><rect x="1165.5" y="393.5" width="12.5" height="13" fill="#aeaeae"/><rect x="1177.5" y="393.5" width="12.5" height="13" fill="#b0b0b0"/><rect x="1189.5" y="393.5" width="12.5" height="13" fill="#b1b1b1"/><rect x="1201.5" y="393.5" width="12.5" height="13" fill="#b3b3b3"/><rect x="1213.5" y="393.5" width="12.5" height="13" fill="#b6b6b6"/><rect x="1225.5" y="393.5" width="12.5" height="13" fill="#b7b7b7"/><rect x="1237.5" y="393.5" width="12.5" height="13" fill="#b8b8b8"/><rect x="1249.5" y="393.5" width="12.5" height="13" fill="#b6b6b6"/><rect x="1261.5" y="393.5" width="12.5" height="13" fill="#b2b2b2"/><rect x="1273.5" y="393.5" width="12.5" height="13" fill="#b1b1b1"/><rect x="1285.5" y="393.5" width="24.5" height="13" fill="#b2b2b2"/><rect x="1309.5" y="393.5" width="12.5" height="13" fill="#b3b3b3"/><rect x="193.5" y="405.5" width="72.5" height="13" fill="#a7a7a7"/><rect x="265.5" y="405.5" width="12.5" height="13" fill="#a6a6a6"/><rect x="277.5" y="405.5" width="12.5" height="13" fill="#a5a5a5"/><rect x="289.5" y="405.5" width="12.5" height="13" fill="#a6a6a6"/><rect x="301.5" y="405.5" width="12.5" height="13" fill="#a8a8a8"/><rect x="313.5" y="405.5" width="12.5" height="13" fill="#adadad"/><rect x="325.5" y="405.5" width="12.5" height="13" fill="#b0b0b0"/><rect x="337.5" y="405.5" width="24.5" height="13" fill="#b1b1b1"/><rect x="361.5" y="405.5" width="12.5" height="13" fill="#b2b2b2"/><rect x="373.5" y="405.5" width="12.5" height="13" fill="#b4b4b4"/><rect x="385.5" y="405.5" width="12.5" height="13" fill="#b5b5b5"/><rect x="397.5" y="405.5" width="12.5" height="13" fill="#b6b6b6"/><rect x="409.5" y="405.5" width="12.5" height="13" fill="#b7b7b7"/><rect x="421.5" y="405.5" width="12.5" height="13" fill="#bababa"/><rect x="433.5" y="405.5" width="36.5" height="13" fill="#bdbdbd"/><rect x="469.5" y="405.5" width="12.5" height="13" fill="#bcbcbc"/><rect x="481.5" y="405.5" width="60.5" height="13" fill="#bbbbbb"/><rect x="541.5" y="405.5" width="12.5" height="13" fill="#b8b8b8"/><rect x="553.5" y="405.5" width="24.5" height="13" fill="#b6b6b6"/><rect x="577.5" y="405.5" width="12.5" height="13" fill="#b5b5b5"/><rect x="589.5" y="405.5" width="12.5" height="13" fill="#b6b6b6"/><rect x="601.5" y="405.5" width="24.5" height="13" fill="#b5b5b5"/><rect x="625.5" y="405.5" width="12.5" height="13" fill="#b4b4b4"/><rect x="637.5" y="405.5" width="12.5" height="13" fill="#b3b3b3"/><rect x="649.5" y="405.5" width="48.5" height="13" fill="#b2b2b2"/><rect x="697.5" y="405.5" width="24.5" height="13" fill="#b1b1b1"/><rect x="721.5" y="405.5" width="12.5" height="13" fill="#b2b2b2"/><rect x="733.5" y="405.5" width="24.5" height="13" fill="#b1b1b1"/><rect x="757.5" y="405.5" width="12.5" height="13" fill="#afafaf"/><rect x="769.5" y="405.5" width="60.5" height="13" fill="#aeaeae"/><rect x="829.5" y="405.5" width="12.5" height="13" fill="#afafaf"/><rect x="841.5" y="405.5" width="12.5" height="13" fill="#b0b0b0"/><rect x="853.5" y="405.5" width="12.5" height="13" fill="#b1b1b1"/><rect x="865.5" y="405.5" width="12.5" height="13" fill="#b2b2b2"/><rect x="877.5" y="405.5" width="12.5" height="13" fill="#b4b4b4"/><rect x="889.5" y="405.5" width="12.5" height="13" fill="#b6b6b6"/><rect x="901.5" y="405.5" width="12.5" height="13" fill="#b8b8b8"/><rect x="913.5" y="405.5" width="12.5" height="13" fill="#b9b9b9"/><rect x="925.5" y="405.5" width="12.5" height="13" fill="#bbbbbb"/><rect x="937.5" y="405.5" width="24.5" height="13" fill="#bfbfbf"/><rect x="961.5" y="405.5" width="12.5" height="13" fill="#bebebe"/><rect x="973.5" y="405.5" width="12.5" height="13" fill="#b9b9b9"/><rect x="985.5" y="405.5" width="12.5" height="13" fill="#b3b3b3"/><rect x="997.5" y="405.5" width="12.5" height="13" fill="#afafaf"/><rect x="1009.5" y="405.5" width="24.5" height="13" fill="#adadad"/><rect x="1033.5" y="405.5" width="12.5" height="13" fill="#aeaeae"/><rect x="1045.5" y="405.5" width="12.5" height="13" fill="#b2b2b2"/><rect x="1057.5" y="405.5" width="12.5" height="13" fill="#b9b9b9"/><rect x="1069.5" y="405.5" width="12.5" height="13" fill="#bebebe"/><rect x="1081.5" y="405.5" width="12.5" height="13" fill="#bfbfbf"/><rect x="1093.5" y="405.5" width="12.5" height="13" fill="#bebebe"/><rect x="1105.5" y="405.5" width="12.5" height="13" fill="#b9b9b9"/><rect x="1117.5" y="405.5" width="12.5" height="13" fill="#b3b3b3"/><rect x="1129.5" y="405.5" width="12.5" height="13" fill="#aeaeae"/><rect x="1141.5" y="405.5" width="24.5" height="13" fill="#ababab"/><rect x="1165.5" y="405.5" width="12.5" height="13" fill="#acacac"/><rect x="1177.5" y="405.5" width="12.5" height="13" fill="#aeaeae"/><rect x="1189.5" y="405.5" width="12.5" height="13" fill="#b0b0b0"/><rect x="1201.5" y="405.5" width="12.5" height="13" fill="#b1b1b1"/><rect x="1213.5" y="405.5" width="12.5" height="13" fill="#b3b3b3"/><rect x="1225.5" y="405.5" width="24.5" height="13" fill="#b6b6b6"/><rect x="1249.5" y="405.5" width="12.5" height="13" fill="#b5b5b5"/><rect x="1261.5" y="405.5" width="12.5" height="13" fill="#b3b3b3"/><rect x="1273.5" y="405.5" width="24.5" height="13" fill="#b2b2b2"/><rect x="1297.5" y="405.5" width="24.5" height="13" fill="#b3b3b3"/><rect x="193.5" y="417.5" width="108.5" height="13" fill="#a8a8a8"/><rect x="301.5" y="417.5" width="12.5" height="13" fill="#aaaaaa"/><rect x="313.5" y="417.5" width="12.5" height="13" fill="#afafaf"/><rect x="325.5" y="417.5" width="36.5" height="13" fill="#b1b1b1"/><rect x="361.5" y="417.5" width="12.5" height="13" fill="#b3b3b3"/><rect x="373.5" y="417.5" width="36.5" height="13" fill="#b6b6b6"/><rect x="409.5" y="417.5" width="12.5" height="13" fill="#b7b7b7"/><rect x="421.5" y="417.5" width="12.5" height="13" fill="#b9b9b9"/><rect x="433.5" y="417.5" width="12.5" height="13" fill="#bbbbbb"/><rect x="445.5" y="417.5" width="24.5" height="13" fill="#bcbcbc"/><rect x="469.5" y="417.5" width="48.5" height="13" fill="#bbbbbb"/><rect x="517.5" y="417.5" width="12.5" height="13" fill="#bcbcbc"/><rect x="529.5" y="417.5" width="12.5" height="13" fill="#bbbbbb"/><rect x="541.5" y="417.5" width="12.5" height="13" fill="#b8b8b8"/><rect x="553.5" y="417.5" width="12.5" height="13" fill="#b6b6b6"/><rect x="565.5" y="417.5" width="12.5" height="13" fill="#b5b5b5"/><rect x="577.5" y="417.5" width="24.5" height="13" fill="#b6b6b6"/><rect x="601.5" y="417.5" width="12.5" height="13" fill="#b7b7b7"/><rect x="613.5" y="417.5" width="12.5" height="13" fill="#b6b6b6"/><rect x="625.5" y="417.5" width="12.5" height="13" fill="#b5b5b5"/><rect x="637.5" y="417.5" width="24.5" height="13" fill="#b3b3b3"/><rect x="661.5" y="417.5" width="48.5" height="13" fill="#b2b2b2"/><rect x="709.5" y="417.5" width="36.5" height="13" fill="#b3b3b3"/><rect x="745.5" y="417.5" width="12.5" height="13" fill="#b2b2b2"/><rect x="757.5" y="417.5" width="12.5" height="13" fill="#b1b1b1"/><rect x="769.5" y="417.5" width="60.5" height="13" fill="#afafaf"/><rect x="829.5" y="417.5" width="12.5" height="13" fill="#b0b0b0"/><rect x="841.5" y="417.5" width="12.5" height="13" fill="#b1b1b1"/><rect x="853.5" y="417.5" width="12.5" height="13" fill="#b2b2b2"/><rect x="865.5" y="417.5" width="24.5" height="13" fill="#b3b3b3"/><rect x="889.5" y="417.5" width="12.5" height="13" fill="#b5b5b5"/><rect x="901.5" y="417.5" width="12.5" height="13" fill="#b8b8b8"/><rect x="913.5" y="417.5" width="12.5" height="13" fill="#bababa"/><rect x="925.5" y="417.5" width="12.5" height="13" fill="#bdbdbd"/><rect x="937.5" y="417.5" width="24.5" height="13" fill="#c0c0c0"/><rect x="961.5" y="417.5" width="12.5" height="13" fill="#bfbfbf"/><rect x="973.5" y="417.5" width="12.5" height="13" fill="#bababa"/><rect x="985.5" y="417.5" width="12.5" height="13" fill="#b4b4b4"/><rect x="997.5" y="417.5" width="12.5" height="13" fill="#afafaf"/><rect x="1009.5" y="417.5" width="24.5" height="13" fill="#adadad"/><rect x="1033.5" y="417.5" width="12.5" height="13" fill="#afafaf"/><rect x="1045.5" y="417.5" width="12.5" height="13" fill="#b4b4b4"/><rect x="1057.5" y="417.5" width="12.5" height="13" fill="#bbbbbb"/><rect x="1069.5" y="417.5" width="12.5" height="13" fill="#bfbfbf"/><rect x="1081.5" y="417.5" width="12.5" height="13" fill="#c0c0c0"/><rect x="1093.5" y="417.5" width="12.5" height="13" fill="#bfbfbf"/><rect x="1105.5" y="417.5" width="12.5" height="13" fill="#bababa"/><rect x="1117.5" y="417.5" width="12.5" height="13" fill="#b2b2b2"/><rect x="1129.5" y="417.5" width="12.5" height="13" fill="#acacac"/><rect x="1141.5" y="417.5" width="24.5" height="13" fill="#aaaaaa"/><rect x="1165.5" y="417.5" width="12.5" height="13" fill="#ababab"/><rect x="1177.5" y="417.5" width="12.5" height="13" fill="#aeaeae"/><rect x="1189.5" y="417.5" width="36.5" height="13" fill="#afafaf"/><rect x="1225.5" y="417.5" width="12.5" height="13" fill="#b1b1b1"/><rect x="1237.5" y="417.5" width="24.5" height="13" fill="#b3b3b3"/><rect x="1261.5" y="417.5" width="36.5" height="13" fill="#b2b2b2"/><rect x="1297.5" y="417.5" width="24.5" height="13" fill="#b3b3b3"/><rect x="193.5" y="429.5" width="108.5" height="13" fill="#a9a9a9"/><rect x="301.5" y="429.5" width="12.5" height="13" fill="#ababab"/><rect x="313.5" y="429.5" width="12.5" height="13" fill="#afafaf"/><rect x="325.5" y="429.5" width="24.5" height="13" fill="#b1b1b1"/><rect x="349.5" y="429.5" width="12.5" height="13" fill="#b2b2b2"/><rect x="361.5" y="429.5" width="12.5" height="13" fill="#b5b5b5"/><rect x="373.5" y="429.5" width="48.5" height="13" fill="#b7b7b7"/><rect x="421.5" y="429.5" width="12.5" height="13" fill="#b9b9b9"/><rect x="433.5" y="429.5" width="12.5" height="13" fill="#bbbbbb"/><rect x="445.5" y="429.5" width="24.5" height="13" fill="#bcbcbc"/><rect x="469.5" y="429.5" width="12.5" height="13" fill="#bbbbbb"/><rect x="481.5" y="429.5" width="12.5" height="13" fill="#bababa"/><rect x="493.5" y="429.5" width="36.5" height="13" fill="#bbbbbb"/><rect x="529.5" y="429.5" width="12.5" height="13" fill="#b9b9b9"/><rect x="541.5" y="429.5" width="12.5" height="13" fill="#b6b6b6"/><rect x="553.5" y="429.5" width="24.5" height="13" fill="#b5b5b5"/><rect x="577.5" y="429.5" width="12.5" height="13" fill="#b6b6b6"/><rect x="589.5" y="429.5" width="36.5" height="13" fill="#b7b7b7"/><rect x="625.5" y="429.5" width="12.5" height="13" fill="#b5b5b5"/><rect x="637.5" y="429.5" width="36.5" height="13" fill="#b3b3b3"/><rect x="673.5" y="429.5" width="24.5" height="13" fill="#b2b2b2"/><rect x="697.5" y="429.5" width="36.5" height="13" fill="#b3b3b3"/><rect x="733.5" y="429.5" width="12.5" height="13" fill="#b4b4b4"/><rect x="745.5" y="429.5" width="12.5" height="13" fill="#b3b3b3"/><rect x="757.5" y="429.5" width="12.5" height="13" fill="#b2b2b2"/><rect x="769.5" y="429.5" width="12.5" height="13" fill="#b0b0b0"/><rect x="781.5" y="429.5" width="48.5" height="13" fill="#afafaf"/><rect x="829.5" y="429.5" width="12.5" height="13" fill="#b0b0b0"/><rect x="841.5" y="429.5" width="24.5" height="13" fill="#b2b2b2"/><rect x="865.5" y="429.5" width="24.5" height="13" fill="#b3b3b3"/><rect x="889.5" y="429.5" width="12.5" height="13" fill="#b5b5b5"/><rect x="901.5" y="429.5" width="12.5" height="13" fill="#b8b8b8"/><rect x="913.5" y="429.5" width="12.5" height="13" fill="#bbbbbb"/><rect x="925.5" y="429.5" width="12.5" height="13" fill="#bdbdbd"/><rect x="937.5" y="429.5" width="24.5" height="13" fill="#bfbfbf"/><rect x="961.5" y="429.5" width="12.5" height="13" fill="#bebebe"/><rect x="973.5" y="429.5" width="12.5" height="13" fill="#bababa"/><rect x="985.5" y="429.5" width="12.5" height="13" fill="#b6b6b6"/><rect x="997.5" y="429.5" width="12.5" height="13" fill="#b1b1b1"/><rect x="1009.5" y="429.5" width="24.5" height="13" fill="#aeaeae"/><rect x="1033.5" y="429.5" width="12.5" height="13" fill="#b0b0b0"/><rect x="1045.5" y="429.5" width="12.5" height="13" fill="#b4b4b4"/><rect x="1057.5" y="429.5" width="12.5" height="13" fill="#bababa"/><rect x="1069.5" y="429.5" width="12.5" height="13" fill="#bdbdbd"/><rect x="1081.5" y="429.5" width="12.5" height="13" fill="#bebebe"/><rect x="1093.5" y="429.5" width="12.5" height="13" fill="#bdbdbd"/><rect x="1105.5" y="429.5" width="12.5" height="13" fill="#b9b9b9"/><rect x="1117.5" y="429.5" width="12.5" height="13" fill="#b2b2b2"/><rect x="1129.5" y="429.5" width="12.5" height="13" fill="#acacac"/><rect x="1141.5" y="429.5" width="24.5" height="13" fill="#aaaaaa"/><rect x="1165.5" y="429.5" width="12.5" height="13" fill="#acacac"/><rect x="1177.5" y="429.5" width="12.5" height="13" fill="#aeaeae"/><rect x="1189.5" y="429.5" width="12.5" height="13" fill="#afafaf"/><rect x="1201.5" y="429.5" width="12.5" height="13" fill="#aeaeae"/><rect x="1213.5" y="429.5" width="12.5" height="13" fill="#adadad"/><rect x="1225.5" y="429.5" width="12.5" height="13" fill="#aeaeae"/><rect x="1237.5" y="429.5" width="12.5" height="13" fill="#b1b1b1"/><rect x="1249.5" y="429.5" width="12.5" height="13" fill="#b2b2b2"/><rect x="1261.5" y="429.5" width="12.5" height="13" fill="#b1b1b1"/><rect x="1273.5" y="429.5" width="24.5" height="13" fill="#b2b2b2"/><rect x="1297.5" y="429.5" width="24.5" height="13" fill="#b3b3b3"/><rect x="193.5" y="441.5" width="96.5" height="13" fill="#a9a9a9"/><rect x="289.5" y="441.5" width="12.5" height="13" fill="#aaaaaa"/><rect x="301.5" y="441.5" width="12.5" height="13" fill="#acacac"/><rect x="313.5" y="441.5" width="12.5" height="13" fill="#aeaeae"/><rect x="325.5" y="441.5" width="12.5" height="13" fill="#b0b0b0"/><rect x="337.5" y="441.5" width="12.5" height="13" fill="#b1b1b1"/><rect x="349.5" y="441.5" width="12.5" height="13" fill="#b3b3b3"/><rect x="361.5" y="441.5" width="12.5" height="13" fill="#b6b6b6"/><rect x="373.5" y="441.5" width="36.5" height="13" fill="#b7b7b7"/><rect x="409.5" y="441.5" width="12.5" height="13" fill="#b8b8b8"/><rect x="421.5" y="441.5" width="12.5" height="13" fill="#bababa"/><rect x="433.5" y="441.5" width="36.5" height="13" fill="#bcbcbc"/><rect x="469.5" y="441.5" width="12.5" height="13" fill="#bbbbbb"/><rect x="481.5" y="441.5" width="36.5" height="13" fill="#bababa"/><rect x="517.5" y="441.5" width="12.5" height="13" fill="#b9b9b9"/><rect x="529.5" y="441.5" width="12.5" height="13" fill="#b8b8b8"/><rect x="541.5" y="441.5" width="12.5" height="13" fill="#b6b6b6"/><rect x="553.5" y="441.5" width="24.5" height="13" fill="#b5b5b5"/><rect x="577.5" y="441.5" width="12.5" height="13" fill="#b6b6b6"/><rect x="589.5" y="441.5" width="36.5" height="13" fill="#b7b7b7"/><rect x="625.5" y="441.5" width="12.5" height="13" fill="#b6b6b6"/><rect x="637.5" y="441.5" width="12.5" height="13" fill="#b4b4b4"/><rect x="649.5" y="441.5" width="72.5" height="13" fill="#b3b3b3"/><rect x="721.5" y="441.5" width="24.5" height="13" fill="#b4b4b4"/><rect x="745.5" y="441.5" width="12.5" height="13" fill="#b3b3b3"/><rect x="757.5" y="441.5" width="12.5" height="13" fill="#b2b2b2"/><rect x="769.5" y="441.5" width="12.5" height="13" fill="#b0b0b0"/><rect x="781.5" y="441.5" width="48.5" height="13" fill="#afafaf"/><rect x="829.5" y="441.5" width="12.5" height="13" fill="#b0b0b0"/><rect x="841.5" y="441.5" width="12.5" height="13" fill="#b1b1b1"/><rect x="853.5" y="441.5" width="12.5" height="13" fill="#b2b2b2"/><rect x="865.5" y="441.5" width="24.5" height="13" fill="#b3b3b3"/><rect x="889.5" y="441.5" width="12.5" height="13" fill="#b6b6b6"/><rect x="901.5" y="441.5" width="12.5" height="13" fill="#bababa"/><rect x="913.5" y="441.5" width="12.5" height="13" fill="#bcbcbc"/><rect x="925.5" y="441.5" width="36.5" height="13" fill="#bebebe"/><rect x="961.5" y="441.5" width="12.5" height="13" fill="#bdbdbd"/><rect x="973.5" y="441.5" width="24.5" height="13" fill="#bbbbbb"/><rect x="997.5" y="441.5" width="12.5" height="13" fill="#b8b8b8"/><rect x="1009.5" y="441.5" width="12.5" height="13" fill="#b2b2b2"/><rect x="1021.5" y="441.5" width="12.5" height="13" fill="#b1b1b1"/><rect x="1033.5" y="441.5" width="12.5" height="13" fill="#b2b2b2"/><rect x="1045.5" y="441.5" width="12.5" height="13" fill="#b5b5b5"/><rect x="1057.5" y="441.5" width="12.5" height="13" fill="#b8b8b8"/><rect x="1069.5" y="441.5" width="12.5" height="13" fill="#bababa"/><rect x="1081.5" y="441.5" width="12.5" height="13" fill="#bbbbbb"/><rect x="1093.5" y="441.5" width="12.5" height="13" fill="#bababa"/><rect x="1105.5" y="441.5" width="12.5" height="13" fill="#b8b8b8"/><rect x="1117.5" y="441.5" width="12.5" height="13" fill="#b4b4b4"/><rect x="1129.5" y="441.5" width="12.5" height="13" fill="#b0b0b0"/><rect x="1141.5" y="441.5" width="12.5" height="13" fill="#aeaeae"/><rect x="1153.5" y="441.5" width="12.5" height="13" fill="#adadad"/><rect x="1165.5" y="441.5" width="12.5" height="13" fill="#afafaf"/><rect x="1177.5" y="441.5" width="24.5" height="13" fill="#b0b0b0"/><rect x="1201.5" y="441.5" width="12.5" height="13" fill="#aeaeae"/><rect x="1213.5" y="441.5" width="12.5" height="13" fill="#adadad"/><rect x="1225.5" y="441.5" width="12.5" height="13" fill="#aeaeae"/><rect x="1237.5" y="441.5" width="12.5" height="13" fill="#b0b0b0"/><rect x="1249.5" y="441.5" width="24.5" height="13" fill="#b1b1b1"/><rect x="1273.5" y="441.5" width="24.5" height="13" fill="#b2b2b2"/><rect x="1297.5" y="441.5" width="12.5" height="13" fill="#b3b3b3"/><rect x="1309.5" y="441.5" width="12.5" height="13" fill="#b4b4b4"/><rect x="193.5" y="453.5" width="12.5" height="13" fill="#aaaaaa"/><rect x="205.5" y="453.5" width="84.5" height="13" fill="#a9a9a9"/><rect x="289.5" y="453.5" width="12.5" height="13" fill="#ababab"/><rect x="301.5" y="453.5" width="12.5" height="13" fill="#adadad"/><rect x="313.5" y="453.5" width="12.5" height="13" fill="#afafaf"/><rect x="325.5" y="453.5" width="12.5" height="13" fill="#b0b0b0"/><rect x="337.5" y="453.5" width="12.5" height="13" fill="#b1b1b1"/><rect x="349.5" y="453.5" width="12.5" height="13" fill="#b3b3b3"/><rect x="361.5" y="453.5" width="12.5" height="13" fill="#b5b5b5"/><rect x="373.5" y="453.5" width="12.5" height="13" fill="#b6b6b6"/><rect x="385.5" y="453.5" width="24.5" height="13" fill="#b7b7b7"/><rect x="409.5" y="453.5" width="12.5" height="13" fill="#b8b8b8"/><rect x="421.5" y="453.5" width="12.5" height="13" fill="#bbbbbb"/><rect x="433.5" y="453.5" width="12.5" height="13" fill="#bcbcbc"/><rect x="445.5" y="453.5" width="24.5" height="13" fill="#bdbdbd"/><rect x="469.5" y="453.5" width="12.5" height="13" fill="#bcbcbc"/><rect x="481.5" y="453.5" width="12.5" height="13" fill="#bababa"/><rect x="493.5" y="453.5" width="12.5" height="13" fill="#b9b9b9"/><rect x="505.5" y="453.5" width="24.5" height="13" fill="#b8b8b8"/><rect x="529.5" y="453.5" width="12.5" height="13" fill="#b7b7b7"/><rect x="541.5" y="453.5" width="12.5" height="13" fill="#b6b6b6"/><rect x="553.5" y="453.5" width="24.5" height="13" fill="#b5b5b5"/><rect x="577.5" y="453.5" width="12.5" height="13" fill="#b6b6b6"/><rect x="589.5" y="453.5" width="36.5" height="13" fill="#b7b7b7"/><rect x="625.5" y="453.5" width="12.5" height="13" fill="#b6b6b6"/><rect x="637.5" y="453.5" width="24.5" height="13" fill="#b4b4b4"/><rect x="661.5" y="453.5" width="96.5" height="13" fill="#b3b3b3"/><rect x="757.5" y="453.5" width="12.5" height="13" fill="#b2b2b2"/><rect x="769.5" y="453.5" width="12.5" height="13" fill="#b0b0b0"/><rect x="781.5" y="453.5" width="24.5" height="13" fill="#afafaf"/><rect x="805.5" y="453.5" width="12.5" height="13" fill="#aeaeae"/><rect x="817.5" y="453.5" width="12.5" height="13" fill="#adadad"/><rect x="829.5" y="453.5" width="12.5" height="13" fill="#aeaeae"/><rect x="841.5" y="453.5" width="12.5" height="13" fill="#b0b0b0"/><rect x="853.5" y="453.5" width="12.5" height="13" fill="#b2b2b2"/><rect x="865.5" y="453.5" width="12.5" height="13" fill="#b3b3b3"/><rect x="877.5" y="453.5" width="12.5" height="13" fill="#b5b5b5"/><rect x="889.5" y="453.5" width="12.5" height="13" fill="#b9b9b9"/><rect x="901.5" y="453.5" width="12.5" height="13" fill="#bdbdbd"/><rect x="913.5" y="453.5" width="12.5" height="13" fill="#bfbfbf"/><rect x="925.5" y="453.5" width="36.5" height="13" fill="#c0c0c0"/><rect x="961.5" y="453.5" width="12.5" height="13" fill="#bebebe"/><rect x="973.5" y="453.5" width="12.5" height="13" fill="#bdbdbd"/><rect x="985.5" y="453.5" width="24.5" height="13" fill="#bcbcbc"/><rect x="1009.5" y="453.5" width="12.5" height="13" fill="#b9b9b9"/><rect x="1021.5" y="453.5" width="24.5" height="13" fill="#b6b6b6"/><rect x="1045.5" y="453.5" width="12.5" height="13" fill="#b7b7b7"/><rect x="1057.5" y="453.5" width="12.5" height="13" fill="#b8b8b8"/><rect x="1069.5" y="453.5" width="36.5" height="13" fill="#b9b9b9"/><rect x="1105.5" y="453.5" width="12.5" height="13" fill="#b8b8b8"/><rect x="1117.5" y="453.5" width="12.5" height="13" fill="#b6b6b6"/><rect x="1129.5" y="453.5" width="36.5" height="13" fill="#b5b5b5"/><rect x="1165.5" y="453.5" width="12.5" height="13" fill="#b4b4b4"/><rect x="1177.5" y="453.5" width="12.5" height="13" fill="#b3b3b3"/><rect x="1189.5" y="453.5" width="12.5" height="13" fill="#b2b2b2"/><rect x="1201.5" y="453.5" width="12.5" height="13" fill="#b1b1b1"/><rect x="1213.5" y="453.5" width="24.5" height="13" fill="#b0b0b0"/><rect x="1237.5" y="453.5" width="48.5" height="13" fill="#b2b2b2"/><rect x="1285.5" y="453.5" width="12.5" height="13" fill="#b3b3b3"/><rect x="1297.5" y="453.5" width="24.5" height="13" fill="#b4b4b4"/><rect x="193.5" y="465.5" width="24.5" height="13" fill="#aaaaaa"/><rect x="217.5" y="465.5" width="12.5" height="13" fill="#a9a9a9"/><rect x="229.5" y="465.5" width="48.5" height="13" fill="#a8a8a8"/><rect x="277.5" y="465.5" width="12.5" height="13" fill="#a9a9a9"/><rect x="289.5" y="465.5" width="12.5" height="13" fill="#acacac"/><rect x="301.5" y="465.5" width="12.5" height="13" fill="#afafaf"/><rect x="313.5" y="465.5" width="24.5" height="13" fill="#b0b0b0"/><rect x="337.5" y="465.5" width="12.5" height="13" fill="#b1b1b1"/><rect x="349.5" y="465.5" width="12.5" height="13" fill="#b3b3b3"/><rect x="361.5" y="465.5" width="12.5" height="13" fill="#b5b5b5"/><rect x="373.5" y="465.5" width="24.5" height="13" fill="#b6b6b6"/><rect x="397.5" y="465.5" width="12.5" height="13" fill="#b7b7b7"/><rect x="409.5" y="465.5" width="12.5" height="13" fill="#b9b9b9"/><rect x="421.5" y="465.5" width="12.5" height="13" fill="#bbbbbb"/><rect x="433.5" y="465.5" width="12.5" height="13" fill="#bcbcbc"/><rect x="445.5" y="465.5" width="24.5" height="13" fill="#bdbdbd"/><rect x="469.5" y="465.5" width="12.5" height="13" fill="#bcbcbc"/><rect x="481.5" y="465.5" width="12.5" height="13" fill="#bababa"/><rect x="493.5" y="465.5" width="12.5" height="13" fill="#b8b8b8"/><rect x="505.5" y="465.5" width="48.5" height="13" fill="#b7b7b7"/><rect x="553.5" y="465.5" width="24.5" height="13" fill="#b6b6b6"/><rect x="577.5" y="465.5" width="48.5" height="13" fill="#b7b7b7"/><rect x="625.5" y="465.5" width="12.5" height="13" fill="#b6b6b6"/><rect x="637.5" y="465.5" width="24.5" height="13" fill="#b5b5b5"/><rect x="661.5" y="465.5" width="36.5" height="13" fill="#b4b4b4"/><rect x="697.5" y="465.5" width="36.5" height="13" fill="#b3b3b3"/><rect x="733.5" y="465.5" width="24.5" height="13" fill="#b2b2b2"/><rect x="757.5" y="465.5" width="12.5" height="13" fill="#b1b1b1"/><rect x="769.5" y="465.5" width="12.5" height="13" fill="#b0b0b0"/><rect x="781.5" y="465.5" width="12.5" height="13" fill="#afafaf"/><rect x="793.5" y="465.5" width="12.5" height="13" fill="#adadad"/><rect x="805.5" y="465.5" width="12.5" height="13" fill="#acacac"/><rect x="817.5" y="465.5" width="24.5" height="13" fill="#ababab"/><rect x="841.5" y="465.5" width="12.5" height="13" fill="#aeaeae"/><rect x="853.5" y="465.5" width="12.5" height="13" fill="#b2b2b2"/><rect x="865.5" y="465.5" width="12.5" height="13" fill="#b5b5b5"/><rect x="877.5" y="465.5" width="12.5" height="13" fill="#b9b9b9"/><rect x="889.5" y="465.5" width="12.5" height="13" fill="#bebebe"/><rect x="901.5" y="465.5" width="12.5" height="13" fill="#c1c1c1"/><rect x="913.5" y="465.5" width="48.5" height="13" fill="#c2c2c2"/><rect x="961.5" y="465.5" width="12.5" height="13" fill="#c0c0c0"/><rect x="973.5" y="465.5" width="24.5" height="13" fill="#bdbdbd"/><rect x="997.5" y="465.5" width="12.5" height="13" fill="#bcbcbc"/><rect x="1009.5" y="465.5" width="12.5" height="13" fill="#bababa"/><rect x="1021.5" y="465.5" width="24.5" height="13" fill="#b7b7b7"/><rect x="1045.5" y="465.5" width="12.5" height="13" fill="#b8b8b8"/><rect x="1057.5" y="465.5" width="24.5" height="13" fill="#b9b9b9"/><rect x="1081.5" y="465.5" width="12.5" height="13" fill="#b8b8b8"/><rect x="1093.5" y="465.5" width="24.5" height="13" fill="#b9b9b9"/><rect x="1117.5" y="465.5" width="12.5" height="13" fill="#b8b8b8"/><rect x="1129.5" y="465.5" width="48.5" height="13" fill="#b7b7b7"/><rect x="1177.5" y="465.5" width="12.5" height="13" fill="#b6b6b6"/><rect x="1189.5" y="465.5" width="48.5" height="13" fill="#b5b5b5"/><rect x="1237.5" y="465.5" width="60.5" height="13" fill="#b4b4b4"/><rect x="1297.5" y="465.5" width="12.5" height="13" fill="#b5b5b5"/><rect x="1309.5" y="465.5" width="12.5" height="13" fill="#b6b6b6"/><rect x="193.5" y="477.5" width="12.5" height="13" fill="#ababab"/><rect x="205.5" y="477.5" width="12.5" height="13" fill="#aaaaaa"/><rect x="217.5" y="477.5" width="12.5" height="13" fill="#a9a9a9"/><rect x="229.5" y="477.5" width="24.5" height="13" fill="#a8a8a8"/><rect x="253.5" y="477.5" width="24.5" height="13" fill="#a7a7a7"/><rect x="277.5" y="477.5" width="12.5" height="13" fill="#a9a9a9"/><rect x="289.5" y="477.5" width="12.5" height="13" fill="#adadad"/><rect x="301.5" y="477.5" width="36.5" height="13" fill="#b0b0b0"/><rect x="337.5" y="477.5" width="12.5" height="13" fill="#b1b1b1"/><rect x="349.5" y="477.5" width="12.5" height="13" fill="#b3b3b3"/><rect x="361.5" y="477.5" width="12.5" height="13" fill="#b5b5b5"/><rect x="373.5" y="477.5" width="24.5" height="13" fill="#b6b6b6"/><rect x="397.5" y="477.5" width="12.5" height="13" fill="#b7b7b7"/><rect x="409.5" y="477.5" width="12.5" height="13" fill="#b8b8b8"/><rect x="421.5" y="477.5" width="12.5" height="13" fill="#bababa"/><rect x="433.5" y="477.5" width="36.5" height="13" fill="#bcbcbc"/><rect x="469.5" y="477.5" width="12.5" height="13" fill="#bbbbbb"/><rect x="481.5" y="477.5" width="12.5" height="13" fill="#b9b9b9"/><rect x="493.5" y="477.5" width="12.5" height="13" fill="#b8b8b8"/><rect x="505.5" y="477.5" width="72.5" height="13" fill="#b7b7b7"/><rect x="577.5" y="477.5" width="48.5" height="13" fill="#b8b8b8"/><rect x="625.5" y="477.5" width="12.5" height="13" fill="#b7b7b7"/><rect x="637.5" y="477.5" width="24.5" height="13" fill="#b6b6b6"/><rect x="661.5" y="477.5" width="36.5" height="13" fill="#b5b5b5"/><rect x="697.5" y="477.5" width="12.5" height="13" fill="#b4b4b4"/><rect x="709.5" y="477.5" width="12.5" height="13" fill="#b3b3b3"/><rect x="721.5" y="477.5" width="12.5" height="13" fill="#b2b2b2"/><rect x="733.5" y="477.5" width="24.5" height="13" fill="#b1b1b1"/><rect x="757.5" y="477.5" width="12.5" height="13" fill="#b0b0b0"/><rect x="769.5" y="477.5" width="12.5" height="13" fill="#afafaf"/><rect x="781.5" y="477.5" width="12.5" height="13" fill="#aeaeae"/><rect x="793.5" y="477.5" width="12.5" height="13" fill="#acacac"/><rect x="805.5" y="477.5" width="36.5" height="13" fill="#aaaaaa"/><rect x="841.5" y="477.5" width="12.5" height="13" fill="#acacac"/><rect x="853.5" y="477.5" width="12.5" height="13" fill="#b1b1b1"/><rect x="865.5" y="477.5" width="12.5" height="13" fill="#b6b6b6"/><rect x="877.5" y="477.5" width="12.5" height="13" fill="#bcbcbc"/><rect x="889.5" y="477.5" width="12.5" height="13" fill="#c0c0c0"/><rect x="901.5" y="477.5" width="72.5" height="13" fill="#c2c2c2"/><rect x="973.5" y="477.5" width="12.5" height="13" fill="#bfbfbf"/><rect x="985.5" y="477.5" width="12.5" height="13" fill="#bdbdbd"/><rect x="997.5" y="477.5" width="12.5" height="13" fill="#bcbcbc"/><rect x="1009.5" y="477.5" width="12.5" height="13" fill="#b9b9b9"/><rect x="1021.5" y="477.5" width="24.5" height="13" fill="#b7b7b7"/><rect x="1045.5" y="477.5" width="12.5" height="13" fill="#b8b8b8"/><rect x="1057.5" y="477.5" width="48.5" height="13" fill="#b9b9b9"/><rect x="1105.5" y="477.5" width="12.5" height="13" fill="#bababa"/><rect x="1117.5" y="477.5" width="12.5" height="13" fill="#b9b9b9"/><rect x="1129.5" y="477.5" width="60.5" height="13" fill="#b8b8b8"/><rect x="1189.5" y="477.5" width="12.5" height="13" fill="#b7b7b7"/><rect x="1201.5" y="477.5" width="108.5" height="13" fill="#b6b6b6"/><rect x="1309.5" y="477.5" width="12.5" height="13" fill="#b7b7b7"/><rect x="193.5" y="489.5" width="24.5" height="13" fill="#ababab"/><rect x="217.5" y="489.5" width="12.5" height="13" fill="#aaaaaa"/><rect x="229.5" y="489.5" width="12.5" height="13" fill="#a9a9a9"/><rect x="241.5" y="489.5" width="12.5" height="13" fill="#a8a8a8"/><rect x="253.5" y="489.5" width="12.5" height="13" fill="#a7a7a7"/><rect x="265.5" y="489.5" width="12.5" height="13" fill="#a8a8a8"/><rect x="277.5" y="489.5" width="12.5" height="13" fill="#a9a9a9"/><rect x="289.5" y="489.5" width="12.5" height="13" fill="#adadad"/><rect x="301.5" y="489.5" width="36.5" height="13" fill="#b0b0b0"/><rect x="337.5" y="489.5" width="12.5" height="13" fill="#b1b1b1"/><rect x="349.5" y="489.5" width="12.5" height="13" fill="#b3b3b3"/><rect x="361.5" y="489.5" width="12.5" height="13" fill="#b5b5b5"/><rect x="373.5" y="489.5" width="24.5" height="13" fill="#b6b6b6"/><rect x="397.5" y="489.5" width="12.5" height="13" fill="#b7b7b7"/><rect x="409.5" y="489.5" width="12.5" height="13" fill="#b8b8b8"/><rect x="421.5" y="489.5" width="12.5" height="13" fill="#bababa"/><rect x="433.5" y="489.5" width="48.5" height="13" fill="#bbbbbb"/><rect x="481.5" y="489.5" width="12.5" height="13" fill="#b9b9b9"/><rect x="493.5" y="489.5" width="12.5" height="13" fill="#b8b8b8"/><rect x="505.5" y="489.5" width="60.5" height="13" fill="#b7b7b7"/><rect x="565.5" y="489.5" width="12.5" height="13" fill="#b8b8b8"/><rect x="577.5" y="489.5" width="12.5" height="13" fill="#b9b9b9"/><rect x="589.5" y="489.5" width="12.5" height="13" fill="#bababa"/><rect x="601.5" y="489.5" width="12.5" height="13" fill="#bbbbbb"/><rect x="613.5" y="489.5" width="12.5" height="13" fill="#bababa"/><rect x="625.5" y="489.5" width="12.5" height="13" fill="#b8b8b8"/><rect x="637.5" y="489.5" width="48.5" height="13" fill="#b6b6b6"/><rect x="685.5" y="489.5" width="12.5" height="13" fill="#b5b5b5"/><rect x="697.5" y="489.5" width="12.5" height="13" fill="#b4b4b4"/><rect x="709.5" y="489.5" width="12.5" height="13" fill="#b3b3b3"/><rect x="721.5" y="489.5" width="12.5" height="13" fill="#b1b1b1"/><rect x="733.5" y="489.5" width="36.5" height="13" fill="#b0b0b0"/><rect x="769.5" y="489.5" width="12.5" height="13" fill="#afafaf"/><rect x="781.5" y="489.5" width="12.5" height="13" fill="#aeaeae"/><rect x="793.5" y="489.5" width="12.5" height="13" fill="#acacac"/><rect x="805.5" y="489.5" width="36.5" height="13" fill="#aaaaaa"/><rect x="841.5" y="489.5" width="12.5" height="13" fill="#adadad"/><rect x="853.5" y="489.5" width="12.5" height="13" fill="#b2b2b2"/><rect x="865.5" y="489.5" width="12.5" height="13" fill="#b8b8b8"/><rect x="877.5" y="489.5" width="12.5" height="13" fill="#bdbdbd"/><rect x="889.5" y="489.5" width="12.5" height="13" fill="#c1c1c1"/><rect x="901.5" y="489.5" width="12.5" height="13" fill="#c2c2c2"/><rect x="913.5" y="489.5" width="48.5" height="13" fill="#c3c3c3"/><rect x="961.5" y="489.5" width="12.5" height="13" fill="#c2c2c2"/><rect x="973.5" y="489.5" width="12.5" height="13" fill="#c0c0c0"/><rect x="985.5" y="489.5" width="12.5" height="13" fill="#bebebe"/><rect x="997.5" y="489.5" width="12.5" height="13" fill="#bdbdbd"/><rect x="1009.5" y="489.5" width="12.5" height="13" fill="#bbbbbb"/><rect x="1021.5" y="489.5" width="24.5" height="13" fill="#b8b8b8"/><rect x="1045.5" y="489.5" width="12.5" height="13" fill="#b9b9b9"/><rect x="1057.5" y="489.5" width="36.5" height="13" fill="#bbbbbb"/><rect x="1093.5" y="489.5" width="24.5" height="13" fill="#bcbcbc"/><rect x="1117.5" y="489.5" width="48.5" height="13" fill="#bbbbbb"/><rect x="1165.5" y="489.5" width="12.5" height="13" fill="#bababa"/><rect x="1177.5" y="489.5" width="12.5" height="13" fill="#b9b9b9"/><rect x="1189.5" y="489.5" width="12.5" height="13" fill="#b8b8b8"/><rect x="1201.5" y="489.5" width="12.5" height="13" fill="#b7b7b7"/><rect x="1213.5" y="489.5" width="24.5" height="13" fill="#b6b6b6"/><rect x="1237.5" y="489.5" width="12.5" height="13" fill="#b7b7b7"/><rect x="1249.5" y="489.5" width="36.5" height="13" fill="#b6b6b6"/><rect x="1285.5" y="489.5" width="24.5" height="13" fill="#b7b7b7"/><rect x="1309.5" y="489.5" width="12.5" height="13" fill="#b8b8b8"/><rect x="193.5" y="501.5" width="24.5" height="13" fill="#acacac"/><rect x="217.5" y="501.5" width="12.5" height="13" fill="#ababab"/><rect x="229.5" y="501.5" width="48.5" height="13" fill="#aaaaaa"/><rect x="277.5" y="501.5" width="12.5" height="13" fill="#ababab"/><rect x="289.5" y="501.5" width="12.5" height="13" fill="#adadad"/><rect x="301.5" y="501.5" width="12.5" height="13" fill="#afafaf"/><rect x="313.5" y="501.5" width="12.5" height="13" fill="#b0b0b0"/><rect x="325.5" y="501.5" width="12.5" height="13" fill="#b1b1b1"/><rect x="337.5" y="501.5" width="12.5" height="13" fill="#b2b2b2"/><rect x="349.5" y="501.5" width="12.5" height="13" fill="#b4b4b4"/><rect x="361.5" y="501.5" width="48.5" height="13" fill="#b6b6b6"/><rect x="409.5" y="501.5" width="12.5" height="13" fill="#b8b8b8"/><rect x="421.5" y="501.5" width="12.5" height="13" fill="#bababa"/><rect x="433.5" y="501.5" width="48.5" height="13" fill="#bbbbbb"/><rect x="481.5" y="501.5" width="12.5" height="13" fill="#bababa"/><rect x="493.5" y="501.5" width="12.5" height="13" fill="#b9b9b9"/><rect x="505.5" y="501.5" width="36.5" height="13" fill="#b8b8b8"/><rect x="541.5" y="501.5" width="24.5" height="13" fill="#b7b7b7"/><rect x="565.5" y="501.5" width="12.5" height="13" fill="#b8b8b8"/><rect x="577.5" y="501.5" width="12.5" height="13" fill="#b9b9b9"/><rect x="589.5" y="501.5" width="24.5" height="13" fill="#bcbcbc"/><rect x="613.5" y="501.5" width="12.5" height="13" fill="#bbbbbb"/><rect x="625.5" y="501.5" width="12.5" height="13" fill="#b9b9b9"/><rect x="637.5" y="501.5" width="12.5" height="13" fill="#b7b7b7"/><rect x="649.5" y="501.5" width="36.5" height="13" fill="#b6b6b6"/><rect x="685.5" y="501.5" width="12.5" height="13" fill="#b5b5b5"/><rect x="697.5" y="501.5" width="12.5" height="13" fill="#b4b4b4"/><rect x="709.5" y="501.5" width="12.5" height="13" fill="#b3b3b3"/><rect x="721.5" y="501.5" width="12.5" height="13" fill="#b1b1b1"/><rect x="733.5" y="501.5" width="12.5" height="13" fill="#b0b0b0"/><rect x="745.5" y="501.5" width="48.5" height="13" fill="#afafaf"/><rect x="793.5" y="501.5" width="12.5" height="13" fill="#aeaeae"/><rect x="805.5" y="501.5" width="12.5" height="13" fill="#acacac"/><rect x="817.5" y="501.5" width="12.5" height="13" fill="#ababab"/><rect x="829.5" y="501.5" width="12.5" height="13" fill="#acacac"/><rect x="841.5" y="501.5" width="12.5" height="13" fill="#afafaf"/><rect x="853.5" y="501.5" width="12.5" height="13" fill="#b4b4b4"/><rect x="865.5" y="501.5" width="12.5" height="13" fill="#b9b9b9"/><rect x="877.5" y="501.5" width="12.5" height="13" fill="#bebebe"/><rect x="889.5" y="501.5" width="12.5" height="13" fill="#c1c1c1"/><rect x="901.5" y="501.5" width="24.5" height="13" fill="#c3c3c3"/><rect x="925.5" y="501.5" width="24.5" height="13" fill="#c4c4c4"/><rect x="949.5" y="501.5" width="24.5" height="13" fill="#c3c3c3"/><rect x="973.5" y="501.5" width="12.5" height="13" fill="#c2c2c2"/><rect x="985.5" y="501.5" width="12.5" height="13" fill="#c0c0c0"/><rect x="997.5" y="501.5" width="24.5" height="13" fill="#c1c1c1"/><rect x="1021.5" y="501.5" width="12.5" height="13" fill="#bfbfbf"/><rect x="1033.5" y="501.5" width="12.5" height="13" fill="#bdbdbd"/><rect x="1045.5" y="501.5" width="12.5" height="13" fill="#bcbcbc"/><rect x="1057.5" y="501.5" width="12.5" height="13" fill="#bebebe"/><rect x="1069.5" y="501.5" width="12.5" height="13" fill="#bfbfbf"/><rect x="1081.5" y="501.5" width="12.5" height="13" fill="#c0c0c0"/><rect x="1093.5" y="501.5" width="12.5" height="13" fill="#bfbfbf"/><rect x="1105.5" y="501.5" width="12.5" height="13" fill="#bebebe"/><rect x="1117.5" y="501.5" width="12.5" height="13" fill="#bdbdbd"/><rect x="1129.5" y="501.5" width="12.5" height="13" fill="#bcbcbc"/><rect x="1141.5" y="501.5" width="24.5" height="13" fill="#bdbdbd"/><rect x="1165.5" y="501.5" width="12.5" height="13" fill="#bcbcbc"/><rect x="1177.5" y="501.5" width="12.5" height="13" fill="#bbbbbb"/><rect x="1189.5" y="501.5" width="12.5" height="13" fill="#b9b9b9"/><rect x="1201.5" y="501.5" width="36.5" height="13" fill="#b8b8b8"/><rect x="1237.5" y="501.5" width="12.5" height="13" fill="#b7b7b7"/><rect x="1249.5" y="501.5" width="36.5" height="13" fill="#b6b6b6"/><rect x="1285.5" y="501.5" width="12.5" height="13" fill="#b7b7b7"/><rect x="1297.5" y="501.5" width="12.5" height="13" fill="#b8b8b8"/><rect x="1309.5" y="501.5" width="12.5" height="13" fill="#b9b9b9"/><rect x="193.5" y="513.5" width="12.5" height="13" fill="#adadad"/><rect x="205.5" y="513.5" width="84.5" height="13" fill="#acacac"/><rect x="289.5" y="513.5" width="12.5" height="13" fill="#adadad"/><rect x="301.5" y="513.5" width="12.5" height="13" fill="#afafaf"/><rect x="313.5" y="513.5" width="12.5" height="13" fill="#b1b1b1"/><rect x="325.5" y="513.5" width="12.5" height="13" fill="#b2b2b2"/><rect x="337.5" y="513.5" width="12.5" height="13" fill="#b3b3b3"/><rect x="349.5" y="513.5" width="12.5" height="13" fill="#b5b5b5"/><rect x="361.5" y="513.5" width="36.5" height="13" fill="#b6b6b6"/><rect x="397.5" y="513.5" width="12.5" height="13" fill="#b7b7b7"/><rect x="409.5" y="513.5" width="12.5" height="13" fill="#b9b9b9"/><rect x="421.5" y="513.5" width="72.5" height="13" fill="#bbbbbb"/><rect x="493.5" y="513.5" width="12.5" height="13" fill="#bababa"/><rect x="505.5" y="513.5" width="12.5" height="13" fill="#b9b9b9"/><rect x="517.5" y="513.5" width="36.5" height="13" fill="#b8b8b8"/><rect x="553.5" y="513.5" width="24.5" height="13" fill="#b7b7b7"/><rect x="577.5" y="513.5" width="12.5" height="13" fill="#bababa"/><rect x="589.5" y="513.5" width="12.5" height="13" fill="#bcbcbc"/><rect x="601.5" y="513.5" width="12.5" height="13" fill="#bdbdbd"/><rect x="613.5" y="513.5" width="12.5" height="13" fill="#bcbcbc"/><rect x="625.5" y="513.5" width="12.5" height="13" fill="#b9b9b9"/><rect x="637.5" y="513.5" width="12.5" height="13" fill="#b7b7b7"/><rect x="649.5" y="513.5" width="36.5" height="13" fill="#b6b6b6"/><rect x="685.5" y="513.5" width="12.5" height="13" fill="#b5b5b5"/><rect x="697.5" y="513.5" width="12.5" height="13" fill="#b4b4b4"/><rect x="709.5" y="513.5" width="12.5" height="13" fill="#b3b3b3"/><rect x="721.5" y="513.5" width="12.5" height="13" fill="#b1b1b1"/><rect x="733.5" y="513.5" width="12.5" height="13" fill="#b0b0b0"/><rect x="745.5" y="513.5" width="36.5" height="13" fill="#afafaf"/><rect x="781.5" y="513.5" width="24.5" height="13" fill="#b0b0b0"/><rect x="805.5" y="513.5" width="24.5" height="13" fill="#afafaf"/><rect x="829.5" y="513.5" width="12.5" height="13" fill="#b0b0b0"/><rect x="841.5" y="513.5" width="12.5" height="13" fill="#b3b3b3"/><rect x="853.5" y="513.5" width="12.5" height="13" fill="#b7b7b7"/><rect x="865.5" y="513.5" width="12.5" height="13" fill="#bbbbbb"/><rect x="877.5" y="513.5" width="12.5" height="13" fill="#bebebe"/><rect x="889.5" y="513.5" width="12.5" height="13" fill="#c1c1c1"/><rect x="901.5" y="513.5" width="12.5" height="13" fill="#c4c4c4"/><rect x="913.5" y="513.5" width="48.5" height="13" fill="#c5c5c5"/><rect x="961.5" y="513.5" width="12.5" height="13" fill="#c4c4c4"/><rect x="973.5" y="513.5" width="12.5" height="13" fill="#c3c3c3"/><rect x="985.5" y="513.5" width="12.5" height="13" fill="#c2c2c2"/><rect x="997.5" y="513.5" width="36.5" height="13" fill="#c3c3c3"/><rect x="1033.5" y="513.5" width="12.5" height="13" fill="#c1c1c1"/><rect x="1045.5" y="513.5" width="12.5" height="13" fill="#bfbfbf"/><rect x="1057.5" y="513.5" width="60.5" height="13" fill="#c0c0c0"/><rect x="1117.5" y="513.5" width="12.5" height="13" fill="#bfbfbf"/><rect x="1129.5" y="513.5" width="48.5" height="13" fill="#bdbdbd"/><rect x="1177.5" y="513.5" width="12.5" height="13" fill="#bcbcbc"/><rect x="1189.5" y="513.5" width="12.5" height="13" fill="#bbbbbb"/><rect x="1201.5" y="513.5" width="12.5" height="13" fill="#b9b9b9"/><rect x="1213.5" y="513.5" width="36.5" height="13" fill="#b8b8b8"/><rect x="1249.5" y="513.5" width="36.5" height="13" fill="#b7b7b7"/><rect x="1285.5" y="513.5" width="12.5" height="13" fill="#b8b8b8"/><rect x="1297.5" y="513.5" width="12.5" height="13" fill="#b9b9b9"/><rect x="1309.5" y="513.5" width="12.5" height="13" fill="#bbbbbb"/><rect x="193.5" y="525.5" width="12.5" height="13" fill="#aeaeae"/><rect x="205.5" y="525.5" width="36.5" height="13" fill="#adadad"/><rect x="241.5" y="525.5" width="36.5" height="13" fill="#acacac"/><rect x="277.5" y="525.5" width="12.5" height="13" fill="#adadad"/><rect x="289.5" y="525.5" width="12.5" height="13" fill="#aeaeae"/><rect x="301.5" y="525.5" width="12.5" height="13" fill="#b0b0b0"/><rect x="313.5" y="525.5" width="12.5" height="13" fill="#b2b2b2"/><rect x="325.5" y="525.5" width="12.5" height="13" fill="#b4b4b4"/><rect x="337.5" y="525.5" width="12.5" height="13" fill="#b5b5b5"/><rect x="349.5" y="525.5" width="12.5" height="13" fill="#b6b6b6"/><rect x="361.5" y="525.5" width="36.5" height="13" fill="#b7b7b7"/><rect x="397.5" y="525.5" width="12.5" height="13" fill="#b9b9b9"/><rect x="409.5" y="525.5" width="12.5" height="13" fill="#bbbbbb"/><rect x="421.5" y="525.5" width="24.5" height="13" fill="#bcbcbc"/><rect x="445.5" y="525.5" width="12.5" height="13" fill="#bbbbbb"/><rect x="457.5" y="525.5" width="12.5" height="13" fill="#bcbcbc"/><rect x="469.5" y="525.5" width="12.5" height="13" fill="#bdbdbd"/><rect x="481.5" y="525.5" width="12.5" height="13" fill="#bebebe"/><rect x="493.5" y="525.5" width="12.5" height="13" fill="#bdbdbd"/><rect x="505.5" y="525.5" width="12.5" height="13" fill="#bbbbbb"/><rect x="517.5" y="525.5" width="24.5" height="13" fill="#b9b9b9"/><rect x="541.5" y="525.5" width="36.5" height="13" fill="#b8b8b8"/><rect x="577.5" y="525.5" width="12.5" height="13" fill="#b9b9b9"/><rect x="589.5" y="525.5" width="12.5" height="13" fill="#bbbbbb"/><rect x="601.5" y="525.5" width="12.5" height="13" fill="#bcbcbc"/><rect x="613.5" y="525.5" width="12.5" height="13" fill="#bbbbbb"/><rect x="625.5" y="525.5" width="12.5" height="13" fill="#b8b8b8"/><rect x="637.5" y="525.5" width="12.5" height="13" fill="#b7b7b7"/><rect x="649.5" y="525.5" width="12.5" height="13" fill="#b6b6b6"/><rect x="661.5" y="525.5" width="36.5" height="13" fill="#b5b5b5"/><rect x="697.5" y="525.5" width="12.5" height="13" fill="#b4b4b4"/><rect x="709.5" y="525.5" width="12.5" height="13" fill="#b3b3b3"/><rect x="721.5" y="525.5" width="12.5" height="13" fill="#b2b2b2"/><rect x="733.5" y="525.5" width="12.5" height="13" fill="#b1b1b1"/><rect x="745.5" y="525.5" width="12.5" height="13" fill="#b0b0b0"/><rect x="757.5" y="525.5" width="12.5" height="13" fill="#afafaf"/><rect x="769.5" y="525.5" width="12.5" height="13" fill="#b0b0b0"/><rect x="781.5" y="525.5" width="12.5" height="13" fill="#b1b1b1"/><rect x="793.5" y="525.5" width="36.5" height="13" fill="#b2b2b2"/><rect x="829.5" y="525.5" width="12.5" height="13" fill="#b3b3b3"/><rect x="841.5" y="525.5" width="12.5" height="13" fill="#b6b6b6"/><rect x="853.5" y="525.5" width="12.5" height="13" fill="#bababa"/><rect x="865.5" y="525.5" width="12.5" height="13" fill="#bcbcbc"/><rect x="877.5" y="525.5" width="12.5" height="13" fill="#bebebe"/><rect x="889.5" y="525.5" width="12.5" height="13" fill="#c1c1c1"/><rect x="901.5" y="525.5" width="12.5" height="13" fill="#c4c4c4"/><rect x="913.5" y="525.5" width="60.5" height="13" fill="#c5c5c5"/><rect x="973.5" y="525.5" width="12.5" height="13" fill="#c4c4c4"/><rect x="985.5" y="525.5" width="48.5" height="13" fill="#c3c3c3"/><rect x="1033.5" y="525.5" width="12.5" height="13" fill="#c2c2c2"/><rect x="1045.5" y="525.5" width="48.5" height="13" fill="#c1c1c1"/><rect x="1093.5" y="525.5" width="12.5" height="13" fill="#c2c2c2"/><rect x="1105.5" y="525.5" width="24.5" height="13" fill="#c3c3c3"/><rect x="1129.5" y="525.5" width="12.5" height="13" fill="#c0c0c0"/><rect x="1141.5" y="525.5" width="24.5" height="13" fill="#bebebe"/><rect x="1165.5" y="525.5" width="36.5" height="13" fill="#bdbdbd"/><rect x="1201.5" y="525.5" width="12.5" height="13" fill="#bcbcbc"/><rect x="1213.5" y="525.5" width="12.5" height="13" fill="#bababa"/><rect x="1225.5" y="525.5" width="12.5" height="13" fill="#b9b9b9"/><rect x="1237.5" y="525.5" width="60.5" height="13" fill="#bababa"/><rect x="1297.5" y="525.5" width="12.5" height="13" fill="#bcbcbc"/><rect x="1309.5" y="525.5" width="12.5" height="13" fill="#bdbdbd"/><rect x="193.5" y="537.5" width="12.5" height="13" fill="#afafaf"/><rect x="205.5" y="537.5" width="72.5" height="13" fill="#aeaeae"/><rect x="277.5" y="537.5" width="12.5" height="13" fill="#afafaf"/><rect x="289.5" y="537.5" width="12.5" height="13" fill="#b0b0b0"/><rect x="301.5" y="537.5" width="12.5" height="13" fill="#b2b2b2"/><rect x="313.5" y="537.5" width="12.5" height="13" fill="#b4b4b4"/><rect x="325.5" y="537.5" width="12.5" height="13" fill="#b6b6b6"/><rect x="337.5" y="537.5" width="12.5" height="13" fill="#b7b7b7"/><rect x="349.5" y="537.5" width="36.5" height="13" fill="#b8b8b8"/><rect x="385.5" y="537.5" width="12.5" height="13" fill="#b9b9b9"/><rect x="397.5" y="537.5" width="12.5" height="13" fill="#bcbcbc"/><rect x="409.5" y="537.5" width="12.5" height="13" fill="#bebebe"/><rect x="421.5" y="537.5" width="12.5" height="13" fill="#bfbfbf"/><rect x="433.5" y="537.5" width="24.5" height="13" fill="#bebebe"/><rect x="457.5" y="537.5" width="12.5" height="13" fill="#bfbfbf"/><rect x="469.5" y="537.5" width="24.5" height="13" fill="#c1c1c1"/><rect x="493.5" y="537.5" width="12.5" height="13" fill="#bfbfbf"/><rect x="505.5" y="537.5" width="12.5" height="13" fill="#bdbdbd"/><rect x="517.5" y="537.5" width="12.5" height="13" fill="#bbbbbb"/><rect x="529.5" y="537.5" width="12.5" height="13" fill="#bababa"/><rect x="541.5" y="537.5" width="72.5" height="13" fill="#b9b9b9"/><rect x="613.5" y="537.5" width="12.5" height="13" fill="#b8b8b8"/><rect x="625.5" y="537.5" width="12.5" height="13" fill="#b7b7b7"/><rect x="637.5" y="537.5" width="12.5" height="13" fill="#b6b6b6"/><rect x="649.5" y="537.5" width="36.5" height="13" fill="#b5b5b5"/><rect x="685.5" y="537.5" width="60.5" height="13" fill="#b4b4b4"/><rect x="745.5" y="537.5" width="12.5" height="13" fill="#b2b2b2"/><rect x="757.5" y="537.5" width="24.5" height="13" fill="#b1b1b1"/><rect x="781.5" y="537.5" width="12.5" height="13" fill="#b2b2b2"/><rect x="793.5" y="537.5" width="36.5" height="13" fill="#b3b3b3"/><rect x="829.5" y="537.5" width="12.5" height="13" fill="#b4b4b4"/><rect x="841.5" y="537.5" width="12.5" height="13" fill="#b8b8b8"/><rect x="853.5" y="537.5" width="12.5" height="13" fill="#bbbbbb"/><rect x="865.5" y="537.5" width="12.5" height="13" fill="#bdbdbd"/><rect x="877.5" y="537.5" width="12.5" height="13" fill="#bebebe"/><rect x="889.5" y="537.5" width="12.5" height="13" fill="#c1c1c1"/><rect x="901.5" y="537.5" width="12.5" height="13" fill="#c3c3c3"/><rect x="913.5" y="537.5" width="12.5" height="13" fill="#c4c4c4"/><rect x="925.5" y="537.5" width="48.5" height="13" fill="#c5c5c5"/><rect x="973.5" y="537.5" width="12.5" height="13" fill="#c4c4c4"/><rect x="985.5" y="537.5" width="84.5" height="13" fill="#c3c3c3"/><rect x="1069.5" y="537.5" width="12.5" height="13" fill="#c4c4c4"/><rect x="1081.5" y="537.5" width="12.5" height="13" fill="#c5c5c5"/><rect x="1093.5" y="537.5" width="12.5" height="13" fill="#c7c7c7"/><rect x="1105.5" y="537.5" width="12.5" height="13" fill="#cacaca"/><rect x="1117.5" y="537.5" width="12.5" height="13" fill="#c9c9c9"/><rect x="1129.5" y="537.5" width="12.5" height="13" fill="#c5c5c5"/><rect x="1141.5" y="537.5" width="12.5" height="13" fill="#c2c2c2"/><rect x="1153.5" y="537.5" width="12.5" height="13" fill="#c0c0c0"/><rect x="1165.5" y="537.5" width="12.5" height="13" fill="#bfbfbf"/><rect x="1177.5" y="537.5" width="36.5" height="13" fill="#bebebe"/><rect x="1213.5" y="537.5" width="24.5" height="13" fill="#bcbcbc"/><rect x="1237.5" y="537.5" width="12.5" height="13" fill="#bebebe"/><rect x="1249.5" y="537.5" width="24.5" height="13" fill="#bfbfbf"/><rect x="1273.5" y="537.5" width="36.5" height="13" fill="#bebebe"/><rect x="1309.5" y="537.5" width="12.5" height="13" fill="#bfbfbf"/><rect x="193.5" y="549.5" width="24.5" height="13" fill="#afafaf"/><rect x="217.5" y="549.5" width="36.5" height="13" fill="#b0b0b0"/><rect x="253.5" y="549.5" width="48.5" height="13" fill="#b1b1b1"/><rect x="301.5" y="549.5" width="12.5" height="13" fill="#b4b4b4"/><rect x="313.5" y="549.5" width="12.5" height="13" fill="#b6b6b6"/><rect x="325.5" y="549.5" width="36.5" height="13" fill="#b8b8b8"/><rect x="361.5" y="549.5" width="12.5" height="13" fill="#b9b9b9"/><rect x="373.5" y="549.5" width="12.5" height="13" fill="#bababa"/><rect x="385.5" y="549.5" width="12.5" height="13" fill="#bbbbbb"/><rect x="397.5" y="549.5" width="12.5" height="13" fill="#bebebe"/><rect x="409.5" y="549.5" width="12.5" height="13" fill="#bfbfbf"/><rect x="421.5" y="549.5" width="36.5" height="13" fill="#c0c0c0"/><rect x="457.5" y="549.5" width="12.5" height="13" fill="#c2c2c2"/><rect x="469.5" y="549.5" width="24.5" height="13" fill="#c3c3c3"/><rect x="493.5" y="549.5" width="12.5" height="13" fill="#c1c1c1"/><rect x="505.5" y="549.5" width="12.5" height="13" fill="#bebebe"/><rect x="517.5" y="549.5" width="12.5" height="13" fill="#bcbcbc"/><rect x="529.5" y="549.5" width="12.5" height="13" fill="#bbbbbb"/><rect x="541.5" y="549.5" width="12.5" height="13" fill="#bcbcbc"/><rect x="553.5" y="549.5" width="12.5" height="13" fill="#bbbbbb"/><rect x="565.5" y="549.5" width="12.5" height="13" fill="#bababa"/><rect x="577.5" y="549.5" width="12.5" height="13" fill="#b8b8b8"/><rect x="589.5" y="549.5" width="36.5" height="13" fill="#b7b7b7"/><rect x="625.5" y="549.5" width="12.5" height="13" fill="#b6b6b6"/><rect x="637.5" y="549.5" width="48.5" height="13" fill="#b5b5b5"/><rect x="685.5" y="549.5" width="36.5" height="13" fill="#b4b4b4"/><rect x="721.5" y="549.5" width="24.5" height="13" fill="#b5b5b5"/><rect x="745.5" y="549.5" width="12.5" height="13" fill="#b4b4b4"/><rect x="757.5" y="549.5" width="12.5" height="13" fill="#b2b2b2"/><rect x="769.5" y="549.5" width="12.5" height="13" fill="#b1b1b1"/><rect x="781.5" y="549.5" width="12.5" height="13" fill="#b2b2b2"/><rect x="793.5" y="549.5" width="24.5" height="13" fill="#b3b3b3"/><rect x="817.5" y="549.5" width="12.5" height="13" fill="#b2b2b2"/><rect x="829.5" y="549.5" width="12.5" height="13" fill="#b4b4b4"/><rect x="841.5" y="549.5" width="12.5" height="13" fill="#b9b9b9"/><rect x="853.5" y="549.5" width="12.5" height="13" fill="#bcbcbc"/><rect x="865.5" y="549.5" width="24.5" height="13" fill="#bdbdbd"/><rect x="889.5" y="549.5" width="12.5" height="13" fill="#c1c1c1"/><rect x="901.5" y="549.5" width="12.5" height="13" fill="#c3c3c3"/><rect x="913.5" y="549.5" width="24.5" height="13" fill="#c4c4c4"/><rect x="937.5" y="549.5" width="36.5" height="13" fill="#c6c6c6"/><rect x="973.5" y="549.5" width="12.5" height="13" fill="#c5c5c5"/><rect x="985.5" y="549.5" width="48.5" height="13" fill="#c4c4c4"/><rect x="1033.5" y="549.5" width="12.5" height="13" fill="#c5c5c5"/><rect x="1045.5" y="549.5" width="12.5" height="13" fill="#c6c6c6"/><rect x="1057.5" y="549.5" width="12.5" height="13" fill="#c7c7c7"/><rect x="1069.5" y="549.5" width="12.5" height="13" fill="#c9c9c9"/><rect x="1081.5" y="549.5" width="12.5" height="13" fill="#cccccc"/><rect x="1093.5" y="549.5" width="12.5" height="13" fill="#cfcfcf"/><rect x="1105.5" y="549.5" width="12.5" height="13" fill="#d1d1d1"/><rect x="1117.5" y="549.5" width="12.5" height="13" fill="#cfcfcf"/><rect x="1129.5" y="549.5" width="12.5" height="13" fill="#cbcbcb"/><rect x="1141.5" y="549.5" width="12.5" height="13" fill="#c7c7c7"/><rect x="1153.5" y="549.5" width="12.5" height="13" fill="#c3c3c3"/><rect x="1165.5" y="549.5" width="12.5" height="13" fill="#c0c0c0"/><rect x="1177.5" y="549.5" width="12.5" height="13" fill="#bfbfbf"/><rect x="1189.5" y="549.5" width="36.5" height="13" fill="#bebebe"/><rect x="1225.5" y="549.5" width="12.5" height="13" fill="#bfbfbf"/><rect x="1237.5" y="549.5" width="60.5" height="13" fill="#c0c0c0"/><rect x="1297.5" y="549.5" width="12.5" height="13" fill="#c1c1c1"/><rect x="1309.5" y="549.5" width="12.5" height="13" fill="#c2c2c2"/><rect x="193.5" y="561.5" width="24.5" height="13" fill="#b0b0b0"/><rect x="217.5" y="561.5" width="60.5" height="13" fill="#b1b1b1"/><rect x="277.5" y="561.5" width="12.5" height="13" fill="#b2b2b2"/><rect x="289.5" y="561.5" width="12.5" height="13" fill="#b3b3b3"/><rect x="301.5" y="561.5" width="12.5" height="13" fill="#b5b5b5"/><rect x="313.5" y="561.5" width="12.5" height="13" fill="#b7b7b7"/><rect x="325.5" y="561.5" width="24.5" height="13" fill="#b8b8b8"/><rect x="349.5" y="561.5" width="12.5" height="13" fill="#b9b9b9"/><rect x="361.5" y="561.5" width="12.5" height="13" fill="#bababa"/><rect x="373.5" y="561.5" width="12.5" height="13" fill="#bbbbbb"/><rect x="385.5" y="561.5" width="12.5" height="13" fill="#bcbcbc"/><rect x="397.5" y="561.5" width="12.5" height="13" fill="#bebebe"/><rect x="409.5" y="561.5" width="36.5" height="13" fill="#c0c0c0"/><rect x="445.5" y="561.5" width="12.5" height="13" fill="#c1c1c1"/><rect x="457.5" y="561.5" width="36.5" height="13" fill="#c3c3c3"/><rect x="493.5" y="561.5" width="12.5" height="13" fill="#c1c1c1"/><rect x="505.5" y="561.5" width="12.5" height="13" fill="#bdbdbd"/><rect x="517.5" y="561.5" width="48.5" height="13" fill="#bcbcbc"/><rect x="565.5" y="561.5" width="12.5" height="13" fill="#bbbbbb"/><rect x="577.5" y="561.5" width="36.5" height="13" fill="#b7b7b7"/><rect x="613.5" y="561.5" width="12.5" height="13" fill="#b6b6b6"/><rect x="625.5" y="561.5" width="60.5" height="13" fill="#b5b5b5"/><rect x="685.5" y="561.5" width="12.5" height="13" fill="#b4b4b4"/><rect x="697.5" y="561.5" width="12.5" height="13" fill="#b3b3b3"/><rect x="709.5" y="561.5" width="12.5" height="13" fill="#b4b4b4"/><rect x="721.5" y="561.5" width="24.5" height="13" fill="#b5b5b5"/><rect x="745.5" y="561.5" width="12.5" height="13" fill="#b4b4b4"/><rect x="757.5" y="561.5" width="12.5" height="13" fill="#b1b1b1"/><rect x="769.5" y="561.5" width="12.5" height="13" fill="#afafaf"/><rect x="781.5" y="561.5" width="12.5" height="13" fill="#b0b0b0"/><rect x="793.5" y="561.5" width="24.5" height="13" fill="#b1b1b1"/><rect x="817.5" y="561.5" width="12.5" height="13" fill="#b0b0b0"/><rect x="829.5" y="561.5" width="12.5" height="13" fill="#b1b1b1"/><rect x="841.5" y="561.5" width="12.5" height="13" fill="#b7b7b7"/><rect x="853.5" y="561.5" width="12.5" height="13" fill="#bcbcbc"/><rect x="865.5" y="561.5" width="24.5" height="13" fill="#bdbdbd"/><rect x="889.5" y="561.5" width="12.5" height="13" fill="#c1c1c1"/><rect x="901.5" y="561.5" width="12.5" height="13" fill="#c3c3c3"/><rect x="913.5" y="561.5" width="24.5" height="13" fill="#c4c4c4"/><rect x="937.5" y="561.5" width="36.5" height="13" fill="#c6c6c6"/><rect x="973.5" y="561.5" width="24.5" height="13" fill="#c5c5c5"/><rect x="997.5" y="561.5" width="24.5" height="13" fill="#c6c6c6"/><rect x="1021.5" y="561.5" width="24.5" height="13" fill="#c7c7c7"/><rect x="1045.5" y="561.5" width="12.5" height="13" fill="#c9c9c9"/><rect x="1057.5" y="561.5" width="12.5" height="13" fill="#cbcbcb"/><rect x="1069.5" y="561.5" width="12.5" height="13" fill="#cdcdcd"/><rect x="1081.5" y="561.5" width="12.5" height="13" fill="#cfcfcf"/><rect x="1093.5" y="561.5" width="36.5" height="13" fill="#d2d2d2"/><rect x="1129.5" y="561.5" width="12.5" height="13" fill="#cfcfcf"/><rect x="1141.5" y="561.5" width="12.5" height="13" fill="#cbcbcb"/><rect x="1153.5" y="561.5" width="12.5" height="13" fill="#c7c7c7"/><rect x="1165.5" y="561.5" width="12.5" height="13" fill="#c4c4c4"/><rect x="1177.5" y="561.5" width="12.5" height="13" fill="#c1c1c1"/><rect x="1189.5" y="561.5" width="36.5" height="13" fill="#c0c0c0"/><rect x="1225.5" y="561.5" width="60.5" height="13" fill="#c1c1c1"/><rect x="1285.5" y="561.5" width="12.5" height="13" fill="#c3c3c3"/><rect x="1297.5" y="561.5" width="12.5" height="13" fill="#c4c4c4"/><rect x="1309.5" y="561.5" width="12.5" height="13" fill="#c6c6c6"/><rect x="193.5" y="573.5" width="36.5" height="13" fill="#b1b1b1"/><rect x="229.5" y="573.5" width="48.5" height="13" fill="#b2b2b2"/><rect x="277.5" y="573.5" width="12.5" height="13" fill="#b3b3b3"/><rect x="289.5" y="573.5" width="12.5" height="13" fill="#b4b4b4"/><rect x="301.5" y="573.5" width="12.5" height="13" fill="#b6b6b6"/><rect x="313.5" y="573.5" width="24.5" height="13" fill="#b8b8b8"/><rect x="337.5" y="573.5" width="12.5" height="13" fill="#b9b9b9"/><rect x="349.5" y="573.5" width="12.5" height="13" fill="#bababa"/><rect x="361.5" y="573.5" width="12.5" height="13" fill="#bcbcbc"/><rect x="373.5" y="573.5" width="24.5" height="13" fill="#bdbdbd"/><rect x="397.5" y="573.5" width="12.5" height="13" fill="#bebebe"/><rect x="409.5" y="573.5" width="12.5" height="13" fill="#bfbfbf"/><rect x="421.5" y="573.5" width="36.5" height="13" fill="#c0c0c0"/><rect x="457.5" y="573.5" width="12.5" height="13" fill="#c1c1c1"/><rect x="469.5" y="573.5" width="12.5" height="13" fill="#c2c2c2"/><rect x="481.5" y="573.5" width="12.5" height="13" fill="#c1c1c1"/><rect x="493.5" y="573.5" width="12.5" height="13" fill="#bebebe"/><rect x="505.5" y="573.5" width="12.5" height="13" fill="#bcbcbc"/><rect x="517.5" y="573.5" width="12.5" height="13" fill="#bbbbbb"/><rect x="529.5" y="573.5" width="36.5" height="13" fill="#bcbcbc"/><rect x="565.5" y="573.5" width="12.5" height="13" fill="#bababa"/><rect x="577.5" y="573.5" width="12.5" height="13" fill="#b6b6b6"/><rect x="589.5" y="573.5" width="12.5" height="13" fill="#b4b4b4"/><rect x="601.5" y="573.5" width="12.5" height="13" fill="#b3b3b3"/><rect x="613.5" y="573.5" width="60.5" height="13" fill="#b4b4b4"/><rect x="673.5" y="573.5" width="24.5" height="13" fill="#b3b3b3"/><rect x="697.5" y="573.5" width="12.5" height="13" fill="#b2b2b2"/><rect x="709.5" y="573.5" width="12.5" height="13" fill="#b1b1b1"/><rect x="721.5" y="573.5" width="12.5" height="13" fill="#b2b2b2"/><rect x="733.5" y="573.5" width="12.5" height="13" fill="#b1b1b1"/><rect x="745.5" y="573.5" width="12.5" height="13" fill="#b0b0b0"/><rect x="757.5" y="573.5" width="12.5" height="13" fill="#aeaeae"/><rect x="769.5" y="573.5" width="12.5" height="13" fill="#acacac"/><rect x="781.5" y="573.5" width="36.5" height="13" fill="#adadad"/><rect x="817.5" y="573.5" width="12.5" height="13" fill="#acacac"/><rect x="829.5" y="573.5" width="12.5" height="13" fill="#adadad"/><rect x="841.5" y="573.5" width="12.5" height="13" fill="#b2b2b2"/><rect x="853.5" y="573.5" width="12.5" height="13" fill="#b9b9b9"/><rect x="865.5" y="573.5" width="12.5" height="13" fill="#bbbbbb"/><rect x="877.5" y="573.5" width="12.5" height="13" fill="#bdbdbd"/><rect x="889.5" y="573.5" width="12.5" height="13" fill="#c0c0c0"/><rect x="901.5" y="573.5" width="12.5" height="13" fill="#c2c2c2"/><rect x="913.5" y="573.5" width="24.5" height="13" fill="#c4c4c4"/><rect x="937.5" y="573.5" width="12.5" height="13" fill="#c5c5c5"/><rect x="949.5" y="573.5" width="36.5" height="13" fill="#c6c6c6"/><rect x="985.5" y="573.5" width="12.5" height="13" fill="#c7c7c7"/><rect x="997.5" y="573.5" width="12.5" height="13" fill="#c8c8c8"/><rect x="1009.5" y="573.5" width="12.5" height="13" fill="#c9c9c9"/><rect x="1021.5" y="573.5" width="24.5" height="13" fill="#cacaca"/><rect x="1045.5" y="573.5" width="12.5" height="13" fill="#cbcbcb"/><rect x="1057.5" y="573.5" width="12.5" height="13" fill="#cdcdcd"/><rect x="1069.5" y="573.5" width="12.5" height="13" fill="#cecece"/><rect x="1081.5" y="573.5" width="12.5" height="13" fill="#cfcfcf"/><rect x="1093.5" y="573.5" width="12.5" height="13" fill="#d1d1d1"/><rect x="1105.5" y="573.5" width="24.5" height="13" fill="#d2d2d2"/><rect x="1129.5" y="573.5" width="12.5" height="13" fill="#d0d0d0"/><rect x="1141.5" y="573.5" width="12.5" height="13" fill="#cfcfcf"/><rect x="1153.5" y="573.5" width="12.5" height="13" fill="#cccccc"/><rect x="1165.5" y="573.5" width="12.5" height="13" fill="#c9c9c9"/><rect x="1177.5" y="573.5" width="12.5" height="13" fill="#c6c6c6"/><rect x="1189.5" y="573.5" width="48.5" height="13" fill="#c5c5c5"/><rect x="1237.5" y="573.5" width="12.5" height="13" fill="#c4c4c4"/><rect x="1249.5" y="573.5" width="12.5" height="13" fill="#c2c2c2"/><rect x="1261.5" y="573.5" width="12.5" height="13" fill="#c3c3c3"/><rect x="1273.5" y="573.5" width="12.5" height="13" fill="#c4c4c4"/><rect x="1285.5" y="573.5" width="12.5" height="13" fill="#c7c7c7"/><rect x="1297.5" y="573.5" width="12.5" height="13" fill="#c9c9c9"/><rect x="1309.5" y="573.5" width="12.5" height="13" fill="#cbcbcb"/><rect x="193.5" y="585.5" width="36.5" height="13" fill="#b2b2b2"/><rect x="229.5" y="585.5" width="24.5" height="13" fill="#b3b3b3"/><rect x="253.5" y="585.5" width="36.5" height="13" fill="#b4b4b4"/><rect x="289.5" y="585.5" width="12.5" height="13" fill="#b5b5b5"/><rect x="301.5" y="585.5" width="12.5" height="13" fill="#b6b6b6"/><rect x="313.5" y="585.5" width="12.5" height="13" fill="#b8b8b8"/><rect x="325.5" y="585.5" width="12.5" height="13" fill="#b9b9b9"/><rect x="337.5" y="585.5" width="12.5" height="13" fill="#bbbbbb"/><rect x="349.5" y="585.5" width="12.5" height="13" fill="#bebebe"/><rect x="361.5" y="585.5" width="12.5" height="13" fill="#c1c1c1"/><rect x="373.5" y="585.5" width="12.5" height="13" fill="#c0c0c0"/><rect x="385.5" y="585.5" width="12.5" height="13" fill="#bebebe"/><rect x="397.5" y="585.5" width="48.5" height="13" fill="#bdbdbd"/><rect x="445.5" y="585.5" width="36.5" height="13" fill="#bebebe"/><rect x="481.5" y="585.5" width="12.5" height="13" fill="#bbbbbb"/><rect x="493.5" y="585.5" width="12.5" height="13" fill="#bababa"/><rect x="505.5" y="585.5" width="12.5" height="13" fill="#b9b9b9"/><rect x="517.5" y="585.5" width="12.5" height="13" fill="#bababa"/><rect x="529.5" y="585.5" width="36.5" height="13" fill="#bbbbbb"/><rect x="565.5" y="585.5" width="12.5" height="13" fill="#b8b8b8"/><rect x="577.5" y="585.5" width="12.5" height="13" fill="#b3b3b3"/><rect x="589.5" y="585.5" width="24.5" height="13" fill="#b0b0b0"/><rect x="613.5" y="585.5" width="12.5" height="13" fill="#b1b1b1"/><rect x="625.5" y="585.5" width="24.5" height="13" fill="#b3b3b3"/><rect x="649.5" y="585.5" width="36.5" height="13" fill="#b2b2b2"/><rect x="685.5" y="585.5" width="12.5" height="13" fill="#b1b1b1"/><rect x="697.5" y="585.5" width="12.5" height="13" fill="#b0b0b0"/><rect x="709.5" y="585.5" width="36.5" height="13" fill="#afafaf"/><rect x="745.5" y="585.5" width="12.5" height="13" fill="#adadad"/><rect x="757.5" y="585.5" width="12.5" height="13" fill="#aaaaaa"/><rect x="769.5" y="585.5" width="12.5" height="13" fill="#a7a7a7"/><rect x="781.5" y="585.5" width="12.5" height="13" fill="#a9a9a9"/><rect x="793.5" y="585.5" width="24.5" height="13" fill="#ababab"/><rect x="817.5" y="585.5" width="12.5" height="13" fill="#a6a6a6"/><rect x="829.5" y="585.5" width="12.5" height="13" fill="#a7a7a7"/><rect x="841.5" y="585.5" width="12.5" height="13" fill="#acacac"/><rect x="853.5" y="585.5" width="12.5" height="13" fill="#b3b3b3"/><rect x="865.5" y="585.5" width="12.5" height="13" fill="#b8b8b8"/><rect x="877.5" y="585.5" width="12.5" height="13" fill="#bababa"/><rect x="889.5" y="585.5" width="12.5" height="13" fill="#bebebe"/><rect x="901.5" y="585.5" width="12.5" height="13" fill="#c2c2c2"/><rect x="913.5" y="585.5" width="12.5" height="13" fill="#c4c4c4"/><rect x="925.5" y="585.5" width="24.5" height="13" fill="#c5c5c5"/><rect x="949.5" y="585.5" width="24.5" height="13" fill="#c6c6c6"/><rect x="973.5" y="585.5" width="12.5" height="13" fill="#c7c7c7"/><rect x="985.5" y="585.5" width="12.5" height="13" fill="#c9c9c9"/><rect x="997.5" y="585.5" width="12.5" height="13" fill="#cbcbcb"/><rect x="1009.5" y="585.5" width="12.5" height="13" fill="#cccccc"/><rect x="1021.5" y="585.5" width="12.5" height="13" fill="#cdcdcd"/><rect x="1033.5" y="585.5" width="12.5" height="13" fill="#cccccc"/><rect x="1045.5" y="585.5" width="12.5" height="13" fill="#cdcdcd"/><rect x="1057.5" y="585.5" width="36.5" height="13" fill="#cecece"/><rect x="1093.5" y="585.5" width="12.5" height="13" fill="#cfcfcf"/><rect x="1105.5" y="585.5" width="24.5" height="13" fill="#d1d1d1"/><rect x="1129.5" y="585.5" width="12.5" height="13" fill="#d2d2d2"/><rect x="1141.5" y="585.5" width="24.5" height="13" fill="#d3d3d3"/><rect x="1165.5" y="585.5" width="12.5" height="13" fill="#d1d1d1"/><rect x="1177.5" y="585.5" width="12.5" height="13" fill="#cecece"/><rect x="1189.5" y="585.5" width="48.5" height="13" fill="#cdcdcd"/><rect x="1237.5" y="585.5" width="12.5" height="13" fill="#cccccc"/><rect x="1249.5" y="585.5" width="24.5" height="13" fill="#cbcbcb"/><rect x="1273.5" y="585.5" width="12.5" height="13" fill="#cdcdcd"/><rect x="1285.5" y="585.5" width="12.5" height="13" fill="#d0d0d0"/><rect x="1297.5" y="585.5" width="12.5" height="13" fill="#d1d1d1"/><rect x="1309.5" y="585.5" width="12.5" height="13" fill="#d2d2d2"/><rect x="193.5" y="597.5" width="12.5" height="13" fill="#b2b2b2"/><rect x="205.5" y="597.5" width="36.5" height="13" fill="#b3b3b3"/><rect x="241.5" y="597.5" width="12.5" height="13" fill="#b4b4b4"/><rect x="253.5" y="597.5" width="48.5" height="13" fill="#b5b5b5"/><rect x="301.5" y="597.5" width="12.5" height="13" fill="#b6b6b6"/><rect x="313.5" y="597.5" width="12.5" height="13" fill="#b9b9b9"/><rect x="325.5" y="597.5" width="12.5" height="13" fill="#bbbbbb"/><rect x="337.5" y="597.5" width="12.5" height="13" fill="#bfbfbf"/><rect x="349.5" y="597.5" width="24.5" height="13" fill="#c2c2c2"/><rect x="373.5" y="597.5" width="12.5" height="13" fill="#c1c1c1"/><rect x="385.5" y="597.5" width="12.5" height="13" fill="#bfbfbf"/><rect x="397.5" y="597.5" width="12.5" height="13" fill="#bcbcbc"/><rect x="409.5" y="597.5" width="12.5" height="13" fill="#bbbbbb"/><rect x="421.5" y="597.5" width="24.5" height="13" fill="#bababa"/><rect x="445.5" y="597.5" width="24.5" height="13" fill="#bbbbbb"/><rect x="469.5" y="597.5" width="12.5" height="13" fill="#b9b9b9"/><rect x="481.5" y="597.5" width="36.5" height="13" fill="#b7b7b7"/><rect x="517.5" y="597.5" width="12.5" height="13" fill="#b8b8b8"/><rect x="529.5" y="597.5" width="36.5" height="13" fill="#b9b9b9"/><rect x="565.5" y="597.5" width="12.5" height="13" fill="#b6b6b6"/><rect x="577.5" y="597.5" width="12.5" height="13" fill="#b2b2b2"/><rect x="589.5" y="597.5" width="24.5" height="13" fill="#b0b0b0"/><rect x="613.5" y="597.5" width="12.5" height="13" fill="#b1b1b1"/><rect x="625.5" y="597.5" width="24.5" height="13" fill="#b2b2b2"/><rect x="649.5" y="597.5" width="36.5" height="13" fill="#b1b1b1"/><rect x="685.5" y="597.5" width="12.5" height="13" fill="#b0b0b0"/><rect x="697.5" y="597.5" width="12.5" height="13" fill="#afafaf"/><rect x="709.5" y="597.5" width="24.5" height="13" fill="#aeaeae"/><rect x="733.5" y="597.5" width="12.5" height="13" fill="#adadad"/><rect x="745.5" y="597.5" width="12.5" height="13" fill="#aaaaaa"/><rect x="757.5" y="597.5" width="12.5" height="13" fill="#a5a5a5"/><rect x="769.5" y="597.5" width="12.5" height="13" fill="#a1a1a1"/><rect x="781.5" y="597.5" width="12.5" height="13" fill="#a2a2a2"/><rect x="793.5" y="597.5" width="12.5" height="13" fill="#a6a6a6"/><rect x="805.5" y="597.5" width="12.5" height="13" fill="#a5a5a5"/><rect x="817.5" y="597.5" width="12.5" height="13" fill="#a2a2a2"/><rect x="829.5" y="597.5" width="12.5" height="13" fill="#a4a4a4"/><rect x="841.5" y="597.5" width="12.5" height="13" fill="#aaaaaa"/><rect x="853.5" y="597.5" width="12.5" height="13" fill="#b2b2b2"/><rect x="865.5" y="597.5" width="12.5" height="13" fill="#b6b6b6"/><rect x="877.5" y="597.5" width="12.5" height="13" fill="#b8b8b8"/><rect x="889.5" y="597.5" width="12.5" height="13" fill="#bebebe"/><rect x="901.5" y="597.5" width="12.5" height="13" fill="#c3c3c3"/><rect x="913.5" y="597.5" width="24.5" height="13" fill="#c6c6c6"/><rect x="937.5" y="597.5" width="24.5" height="13" fill="#c7c7c7"/><rect x="961.5" y="597.5" width="12.5" height="13" fill="#c8c8c8"/><rect x="973.5" y="597.5" width="12.5" height="13" fill="#c9c9c9"/><rect x="985.5" y="597.5" width="12.5" height="13" fill="#cbcbcb"/><rect x="997.5" y="597.5" width="12.5" height="13" fill="#cdcdcd"/><rect x="1009.5" y="597.5" width="72.5" height="13" fill="#cecece"/><rect x="1081.5" y="597.5" width="24.5" height="13" fill="#cfcfcf"/><rect x="1105.5" y="597.5" width="12.5" height="13" fill="#d0d0d0"/><rect x="1117.5" y="597.5" width="12.5" height="13" fill="#d3d3d3"/><rect x="1129.5" y="597.5" width="12.5" height="13" fill="#d6d6d6"/><rect x="1141.5" y="597.5" width="12.5" height="13" fill="#d8d8d8"/><rect x="1153.5" y="597.5" width="12.5" height="13" fill="#d9d9d9"/><rect x="1165.5" y="597.5" width="12.5" height="13" fill="#d7d7d7"/><rect x="1177.5" y="597.5" width="24.5" height="13" fill="#d5d5d5"/><rect x="1201.5" y="597.5" width="12.5" height="13" fill="#d6d6d6"/><rect x="1213.5" y="597.5" width="24.5" height="13" fill="#d7d7d7"/><rect x="1237.5" y="597.5" width="12.5" height="13" fill="#d8d8d8"/><rect x="1249.5" y="597.5" width="12.5" height="13" fill="#d9d9d9"/><rect x="1261.5" y="597.5" width="36.5" height="13" fill="#dbdbdb"/><rect x="1297.5" y="597.5" width="12.5" height="13" fill="#dadada"/><rect x="1309.5" y="597.5" width="12.5" height="13" fill="#d9d9d9"/><rect x="193.5" y="609.5" width="36.5" height="13" fill="#b3b3b3"/><rect x="229.5" y="609.5" width="24.5" height="13" fill="#b4b4b4"/><rect x="253.5" y="609.5" width="48.5" height="13" fill="#b5b5b5"/><rect x="301.5" y="609.5" width="12.5" height="13" fill="#b6b6b6"/><rect x="313.5" y="609.5" width="12.5" height="13" fill="#b9b9b9"/><rect x="325.5" y="609.5" width="12.5" height="13" fill="#bcbcbc"/><rect x="337.5" y="609.5" width="12.5" height="13" fill="#c0c0c0"/><rect x="349.5" y="609.5" width="24.5" height="13" fill="#c2c2c2"/><rect x="373.5" y="609.5" width="12.5" height="13" fill="#c1c1c1"/><rect x="385.5" y="609.5" width="12.5" height="13" fill="#bebebe"/><rect x="397.5" y="609.5" width="12.5" height="13" fill="#bbbbbb"/><rect x="409.5" y="609.5" width="60.5" height="13" fill="#b9b9b9"/><rect x="469.5" y="609.5" width="12.5" height="13" fill="#b7b7b7"/><rect x="481.5" y="609.5" width="36.5" height="13" fill="#b6b6b6"/><rect x="517.5" y="609.5" width="48.5" height="13" fill="#b7b7b7"/><rect x="565.5" y="609.5" width="12.5" height="13" fill="#b6b6b6"/><rect x="577.5" y="609.5" width="12.5" height="13" fill="#b4b4b4"/><rect x="589.5" y="609.5" width="24.5" height="13" fill="#b2b2b2"/><rect x="613.5" y="609.5" width="24.5" height="13" fill="#b3b3b3"/><rect x="637.5" y="609.5" width="12.5" height="13" fill="#b2b2b2"/><rect x="649.5" y="609.5" width="24.5" height="13" fill="#b1b1b1"/><rect x="673.5" y="609.5" width="12.5" height="13" fill="#b0b0b0"/><rect x="685.5" y="609.5" width="12.5" height="13" fill="#aeaeae"/><rect x="697.5" y="609.5" width="12.5" height="13" fill="#adadad"/><rect x="709.5" y="609.5" width="12.5" height="13" fill="#acacac"/><rect x="721.5" y="609.5" width="12.5" height="13" fill="#aaaaaa"/><rect x="733.5" y="609.5" width="12.5" height="13" fill="#a6a6a6"/><rect x="745.5" y="609.5" width="12.5" height="13" fill="#a4a4a4"/><rect x="757.5" y="609.5" width="12.5" height="13" fill="#a2a2a2"/><rect x="769.5" y="609.5" width="24.5" height="13" fill="#9f9f9f"/><rect x="793.5" y="609.5" width="12.5" height="13" fill="#a3a3a3"/><rect x="805.5" y="609.5" width="12.5" height="13" fill="#a4a4a4"/><rect x="817.5" y="609.5" width="12.5" height="13" fill="#a3a3a3"/><rect x="829.5" y="609.5" width="12.5" height="13" fill="#a6a6a6"/><rect x="841.5" y="609.5" width="12.5" height="13" fill="#a9a9a9"/><rect x="853.5" y="609.5" width="12.5" height="13" fill="#b3b3b3"/><rect x="865.5" y="609.5" width="12.5" height="13" fill="#b6b6b6"/><rect x="877.5" y="609.5" width="12.5" height="13" fill="#b8b8b8"/><rect x="889.5" y="609.5" width="12.5" height="13" fill="#c0c0c0"/><rect x="901.5" y="609.5" width="12.5" height="13" fill="#c7c7c7"/><rect x="913.5" y="609.5" width="24.5" height="13" fill="#c8c8c8"/><rect x="937.5" y="609.5" width="12.5" height="13" fill="#c9c9c9"/><rect x="949.5" y="609.5" width="36.5" height="13" fill="#cacaca"/><rect x="985.5" y="609.5" width="12.5" height="13" fill="#cccccc"/><rect x="997.5" y="609.5" width="48.5" height="13" fill="#cecece"/><rect x="1045.5" y="609.5" width="36.5" height="13" fill="#cfcfcf"/><rect x="1081.5" y="609.5" width="24.5" height="13" fill="#d0d0d0"/><rect x="1105.5" y="609.5" width="12.5" height="13" fill="#d2d2d2"/><rect x="1117.5" y="609.5" width="12.5" height="13" fill="#d5d5d5"/><rect x="1129.5" y="609.5" width="12.5" height="13" fill="#d9d9d9"/><rect x="1141.5" y="609.5" width="24.5" height="13" fill="#dcdcdc"/><rect x="1165.5" y="609.5" width="12.5" height="13" fill="#dbdbdb"/><rect x="1177.5" y="609.5" width="24.5" height="13" fill="#dadada"/><rect x="1201.5" y="609.5" width="12.5" height="13" fill="#dcdcdc"/><rect x="1213.5" y="609.5" width="12.5" height="13" fill="#dddddd"/><rect x="1225.5" y="609.5" width="12.5" height="13" fill="#dedede"/><rect x="1237.5" y="609.5" width="12.5" height="13" fill="#e1e1e1"/><rect x="1249.5" y="609.5" width="12.5" height="13" fill="#e4e4e4"/><rect x="1261.5" y="609.5" width="24.5" height="13" fill="#e6e6e6"/><rect x="1285.5" y="609.5" width="12.5" height="13" fill="#e4e4e4"/><rect x="1297.5" y="609.5" width="12.5" height="13" fill="#e2e2e2"/><rect x="1309.5" y="609.5" width="12.5" height="13" fill="#dfdfdf"/><rect x="193.5" y="621.5" width="24.5" height="13" fill="#b3b3b3"/><rect x="217.5" y="621.5" width="36.5" height="13" fill="#b4b4b4"/><rect x="253.5" y="621.5" width="48.5" height="13" fill="#b5b5b5"/><rect x="301.5" y="621.5" width="12.5" height="13" fill="#b6b6b6"/><rect x="313.5" y="621.5" width="12.5" height="13" fill="#b8b8b8"/><rect x="325.5" y="621.5" width="12.5" height="13" fill="#bbbbbb"/><rect x="337.5" y="621.5" width="12.5" height="13" fill="#bebebe"/><rect x="349.5" y="621.5" width="24.5" height="13" fill="#c0c0c0"/><rect x="373.5" y="621.5" width="12.5" height="13" fill="#bfbfbf"/><rect x="385.5" y="621.5" width="12.5" height="13" fill="#bcbcbc"/><rect x="397.5" y="621.5" width="12.5" height="13" fill="#bababa"/><rect x="409.5" y="621.5" width="12.5" height="13" fill="#b9b9b9"/><rect x="421.5" y="621.5" width="24.5" height="13" fill="#b8b8b8"/><rect x="445.5" y="621.5" width="12.5" height="13" fill="#b9b9b9"/><rect x="457.5" y="621.5" width="12.5" height="13" fill="#b8b8b8"/><rect x="469.5" y="621.5" width="12.5" height="13" fill="#b7b7b7"/><rect x="481.5" y="621.5" width="36.5" height="13" fill="#b6b6b6"/><rect x="517.5" y="621.5" width="24.5" height="13" fill="#b7b7b7"/><rect x="541.5" y="621.5" width="72.5" height="13" fill="#b6b6b6"/><rect x="613.5" y="621.5" width="12.5" height="13" fill="#b5b5b5"/><rect x="625.5" y="621.5" width="12.5" height="13" fill="#b4b4b4"/><rect x="637.5" y="621.5" width="12.5" height="13" fill="#b2b2b2"/><rect x="649.5" y="621.5" width="12.5" height="13" fill="#afafaf"/><rect x="661.5" y="621.5" width="24.5" height="13" fill="#aeaeae"/><rect x="685.5" y="621.5" width="12.5" height="13" fill="#acacac"/><rect x="697.5" y="621.5" width="24.5" height="13" fill="#aaaaaa"/><rect x="721.5" y="621.5" width="12.5" height="13" fill="#a7a7a7"/><rect x="733.5" y="621.5" width="12.5" height="13" fill="#a4a4a4"/><rect x="745.5" y="621.5" width="24.5" height="13" fill="#a3a3a3"/><rect x="769.5" y="621.5" width="24.5" height="13" fill="#a0a0a0"/><rect x="793.5" y="621.5" width="12.5" height="13" fill="#a3a3a3"/><rect x="805.5" y="621.5" width="12.5" height="13" fill="#a5a5a5"/><rect x="817.5" y="621.5" width="12.5" height="13" fill="#a6a6a6"/><rect x="829.5" y="621.5" width="12.5" height="13" fill="#a7a7a7"/><rect x="841.5" y="621.5" width="12.5" height="13" fill="#aaaaaa"/><rect x="853.5" y="621.5" width="12.5" height="13" fill="#b3b3b3"/><rect x="865.5" y="621.5" width="12.5" height="13" fill="#b7b7b7"/><rect x="877.5" y="621.5" width="12.5" height="13" fill="#bbbbbb"/><rect x="889.5" y="621.5" width="12.5" height="13" fill="#c3c3c3"/><rect x="901.5" y="621.5" width="12.5" height="13" fill="#c8c8c8"/><rect x="913.5" y="621.5" width="24.5" height="13" fill="#c9c9c9"/><rect x="937.5" y="621.5" width="48.5" height="13" fill="#cbcbcb"/><rect x="985.5" y="621.5" width="12.5" height="13" fill="#cdcdcd"/><rect x="997.5" y="621.5" width="36.5" height="13" fill="#cecece"/><rect x="1033.5" y="621.5" width="12.5" height="13" fill="#cfcfcf"/><rect x="1045.5" y="621.5" width="12.5" height="13" fill="#d0d0d0"/><rect x="1057.5" y="621.5" width="12.5" height="13" fill="#d1d1d1"/><rect x="1069.5" y="621.5" width="12.5" height="13" fill="#d2d2d2"/><rect x="1081.5" y="621.5" width="24.5" height="13" fill="#d3d3d3"/><rect x="1105.5" y="621.5" width="12.5" height="13" fill="#d4d4d4"/><rect x="1117.5" y="621.5" width="12.5" height="13" fill="#d8d8d8"/><rect x="1129.5" y="621.5" width="12.5" height="13" fill="#dbdbdb"/><rect x="1141.5" y="621.5" width="24.5" height="13" fill="#dddddd"/><rect x="1165.5" y="621.5" width="12.5" height="13" fill="#dcdcdc"/><rect x="1177.5" y="621.5" width="12.5" height="13" fill="#dbdbdb"/><rect x="1189.5" y="621.5" width="12.5" height="13" fill="#dddddd"/><rect x="1201.5" y="621.5" width="12.5" height="13" fill="#dedede"/><rect x="1213.5" y="621.5" width="12.5" height="13" fill="#dfdfdf"/><rect x="1225.5" y="621.5" width="12.5" height="13" fill="#e0e0e0"/><rect x="1237.5" y="621.5" width="12.5" height="13" fill="#e4e4e4"/><rect x="1249.5" y="621.5" width="12.5" height="13" fill="#e9e9e9"/><rect x="1261.5" y="621.5" width="12.5" height="13" fill="#ebebeb"/><rect x="1273.5" y="621.5" width="12.5" height="13" fill="#eaeaea"/><rect x="1285.5" y="621.5" width="12.5" height="13" fill="#e9e9e9"/><rect x="1297.5" y="621.5" width="12.5" height="13" fill="#e7e7e7"/><rect x="1309.5" y="621.5" width="12.5" height="13" fill="#e4e4e4"/><rect x="193.5" y="633.5" width="72.5" height="13" fill="#b4b4b4"/><rect x="265.5" y="633.5" width="48.5" height="13" fill="#b5b5b5"/><rect x="313.5" y="633.5" width="12.5" height="13" fill="#b6b6b6"/><rect x="325.5" y="633.5" width="12.5" height="13" fill="#b8b8b8"/><rect x="337.5" y="633.5" width="12.5" height="13" fill="#bababa"/><rect x="349.5" y="633.5" width="36.5" height="13" fill="#bbbbbb"/><rect x="385.5" y="633.5" width="12.5" height="13" fill="#bababa"/><rect x="397.5" y="633.5" width="24.5" height="13" fill="#b9b9b9"/><rect x="421.5" y="633.5" width="24.5" height="13" fill="#b8b8b8"/><rect x="445.5" y="633.5" width="12.5" height="13" fill="#b9b9b9"/><rect x="457.5" y="633.5" width="12.5" height="13" fill="#b8b8b8"/><rect x="469.5" y="633.5" width="12.5" height="13" fill="#b7b7b7"/><rect x="481.5" y="633.5" width="36.5" height="13" fill="#b6b6b6"/><rect x="517.5" y="633.5" width="12.5" height="13" fill="#b7b7b7"/><rect x="529.5" y="633.5" width="36.5" height="13" fill="#b6b6b6"/><rect x="565.5" y="633.5" width="60.5" height="13" fill="#b7b7b7"/><rect x="625.5" y="633.5" width="12.5" height="13" fill="#b5b5b5"/><rect x="637.5" y="633.5" width="12.5" height="13" fill="#b2b2b2"/><rect x="649.5" y="633.5" width="12.5" height="13" fill="#afafaf"/><rect x="661.5" y="633.5" width="12.5" height="13" fill="#aeaeae"/><rect x="673.5" y="633.5" width="12.5" height="13" fill="#adadad"/><rect x="685.5" y="633.5" width="12.5" height="13" fill="#ababab"/><rect x="697.5" y="633.5" width="24.5" height="13" fill="#aaaaaa"/><rect x="721.5" y="633.5" width="12.5" height="13" fill="#a8a8a8"/><rect x="733.5" y="633.5" width="12.5" height="13" fill="#a5a5a5"/><rect x="745.5" y="633.5" width="24.5" height="13" fill="#a4a4a4"/><rect x="769.5" y="633.5" width="12.5" height="13" fill="#a3a3a3"/><rect x="781.5" y="633.5" width="12.5" height="13" fill="#a4a4a4"/><rect x="793.5" y="633.5" width="12.5" height="13" fill="#a6a6a6"/><rect x="805.5" y="633.5" width="24.5" height="13" fill="#a8a8a8"/><rect x="829.5" y="633.5" width="12.5" height="13" fill="#a9a9a9"/><rect x="841.5" y="633.5" width="12.5" height="13" fill="#adadad"/><rect x="853.5" y="633.5" width="12.5" height="13" fill="#b4b4b4"/><rect x="865.5" y="633.5" width="12.5" height="13" fill="#bbbbbb"/><rect x="877.5" y="633.5" width="12.5" height="13" fill="#c2c2c2"/><rect x="889.5" y="633.5" width="12.5" height="13" fill="#c5c5c5"/><rect x="901.5" y="633.5" width="12.5" height="13" fill="#c8c8c8"/><rect x="913.5" y="633.5" width="12.5" height="13" fill="#c9c9c9"/><rect x="925.5" y="633.5" width="12.5" height="13" fill="#cacaca"/><rect x="937.5" y="633.5" width="12.5" height="13" fill="#cbcbcb"/><rect x="949.5" y="633.5" width="36.5" height="13" fill="#cccccc"/><rect x="985.5" y="633.5" width="12.5" height="13" fill="#cdcdcd"/><rect x="997.5" y="633.5" width="24.5" height="13" fill="#cecece"/><rect x="1021.5" y="633.5" width="12.5" height="13" fill="#cfcfcf"/><rect x="1033.5" y="633.5" width="12.5" height="13" fill="#d0d0d0"/><rect x="1045.5" y="633.5" width="12.5" height="13" fill="#d1d1d1"/><rect x="1057.5" y="633.5" width="12.5" height="13" fill="#d3d3d3"/><rect x="1069.5" y="633.5" width="36.5" height="13" fill="#d5d5d5"/><rect x="1105.5" y="633.5" width="12.5" height="13" fill="#d6d6d6"/><rect x="1117.5" y="633.5" width="12.5" height="13" fill="#d8d8d8"/><rect x="1129.5" y="633.5" width="12.5" height="13" fill="#dbdbdb"/><rect x="1141.5" y="633.5" width="12.5" height="13" fill="#dcdcdc"/><rect x="1153.5" y="633.5" width="12.5" height="13" fill="#dddddd"/><rect x="1165.5" y="633.5" width="24.5" height="13" fill="#dcdcdc"/><rect x="1189.5" y="633.5" width="12.5" height="13" fill="#dedede"/><rect x="1201.5" y="633.5" width="24.5" height="13" fill="#dfdfdf"/><rect x="1225.5" y="633.5" width="12.5" height="13" fill="#e0e0e0"/><rect x="1237.5" y="633.5" width="12.5" height="13" fill="#e5e5e5"/><rect x="1249.5" y="633.5" width="12.5" height="13" fill="#ebebeb"/><rect x="1261.5" y="633.5" width="24.5" height="13" fill="#ececec"/><rect x="1285.5" y="633.5" width="12.5" height="13" fill="#ebebeb"/><rect x="1297.5" y="633.5" width="12.5" height="13" fill="#e9e9e9"/><rect x="1309.5" y="633.5" width="12.5" height="13" fill="#e6e6e6"/><rect x="193.5" y="645.5" width="120.5" height="13" fill="#b4b4b4"/><rect x="313.5" y="645.5" width="12.5" height="13" fill="#b5b5b5"/><rect x="325.5" y="645.5" width="12.5" height="13" fill="#b6b6b6"/><rect x="337.5" y="645.5" width="12.5" height="13" fill="#b7b7b7"/><rect x="349.5" y="645.5" width="36.5" height="13" fill="#b8b8b8"/><rect x="385.5" y="645.5" width="72.5" height="13" fill="#b9b9b9"/><rect x="457.5" y="645.5" width="12.5" height="13" fill="#b8b8b8"/><rect x="469.5" y="645.5" width="12.5" height="13" fill="#b7b7b7"/><rect x="481.5" y="645.5" width="12.5" height="13" fill="#b6b6b6"/><rect x="493.5" y="645.5" width="12.5" height="13" fill="#b5b5b5"/><rect x="505.5" y="645.5" width="24.5" height="13" fill="#b6b6b6"/><rect x="529.5" y="645.5" width="12.5" height="13" fill="#b7b7b7"/><rect x="541.5" y="645.5" width="24.5" height="13" fill="#b6b6b6"/><rect x="565.5" y="645.5" width="12.5" height="13" fill="#b7b7b7"/><rect x="577.5" y="645.5" width="36.5" height="13" fill="#b8b8b8"/><rect x="613.5" y="645.5" width="12.5" height="13" fill="#b9b9b9"/><rect x="625.5" y="645.5" width="12.5" height="13" fill="#b7b7b7"/><rect x="637.5" y="645.5" width="12.5" height="13" fill="#b2b2b2"/><rect x="649.5" y="645.5" width="12.5" height="13" fill="#b1b1b1"/><rect x="661.5" y="645.5" width="12.5" height="13" fill="#afafaf"/><rect x="673.5" y="645.5" width="12.5" height="13" fill="#aeaeae"/><rect x="685.5" y="645.5" width="12.5" height="13" fill="#ababab"/><rect x="697.5" y="645.5" width="36.5" height="13" fill="#aaaaaa"/><rect x="733.5" y="645.5" width="12.5" height="13" fill="#a8a8a8"/><rect x="745.5" y="645.5" width="12.5" height="13" fill="#a7a7a7"/><rect x="757.5" y="645.5" width="12.5" height="13" fill="#a6a6a6"/><rect x="769.5" y="645.5" width="12.5" height="13" fill="#a7a7a7"/><rect x="781.5" y="645.5" width="12.5" height="13" fill="#a8a8a8"/><rect x="793.5" y="645.5" width="12.5" height="13" fill="#aaaaaa"/><rect x="805.5" y="645.5" width="12.5" height="13" fill="#acacac"/><rect x="817.5" y="645.5" width="12.5" height="13" fill="#adadad"/><rect x="829.5" y="645.5" width="12.5" height="13" fill="#afafaf"/><rect x="841.5" y="645.5" width="12.5" height="13" fill="#b3b3b3"/><rect x="853.5" y="645.5" width="12.5" height="13" fill="#bababa"/><rect x="865.5" y="645.5" width="12.5" height="13" fill="#c1c1c1"/><rect x="877.5" y="645.5" width="12.5" height="13" fill="#c5c5c5"/><rect x="889.5" y="645.5" width="12.5" height="13" fill="#c6c6c6"/><rect x="901.5" y="645.5" width="12.5" height="13" fill="#c7c7c7"/><rect x="913.5" y="645.5" width="12.5" height="13" fill="#c8c8c8"/><rect x="925.5" y="645.5" width="12.5" height="13" fill="#cacaca"/><rect x="937.5" y="645.5" width="12.5" height="13" fill="#cbcbcb"/><rect x="949.5" y="645.5" width="36.5" height="13" fill="#cccccc"/><rect x="985.5" y="645.5" width="12.5" height="13" fill="#cdcdcd"/><rect x="997.5" y="645.5" width="12.5" height="13" fill="#cfcfcf"/><rect x="1009.5" y="645.5" width="24.5" height="13" fill="#d0d0d0"/><rect x="1033.5" y="645.5" width="12.5" height="13" fill="#d1d1d1"/><rect x="1045.5" y="645.5" width="12.5" height="13" fill="#d3d3d3"/><rect x="1057.5" y="645.5" width="48.5" height="13" fill="#d5d5d5"/><rect x="1105.5" y="645.5" width="12.5" height="13" fill="#d6d6d6"/><rect x="1117.5" y="645.5" width="12.5" height="13" fill="#d8d8d8"/><rect x="1129.5" y="645.5" width="12.5" height="13" fill="#dbdbdb"/><rect x="1141.5" y="645.5" width="36.5" height="13" fill="#dcdcdc"/><rect x="1177.5" y="645.5" width="12.5" height="13" fill="#dddddd"/><rect x="1189.5" y="645.5" width="12.5" height="13" fill="#dedede"/><rect x="1201.5" y="645.5" width="24.5" height="13" fill="#dfdfdf"/><rect x="1225.5" y="645.5" width="12.5" height="13" fill="#e1e1e1"/><rect x="1237.5" y="645.5" width="12.5" height="13" fill="#e6e6e6"/><rect x="1249.5" y="645.5" width="12.5" height="13" fill="#ececec"/><rect x="1261.5" y="645.5" width="12.5" height="13" fill="#ededed"/><rect x="1273.5" y="645.5" width="12.5" height="13" fill="#eeeeee"/><rect x="1285.5" y="645.5" width="12.5" height="13" fill="#ededed"/><rect x="1297.5" y="645.5" width="12.5" height="13" fill="#ebebeb"/><rect x="1309.5" y="645.5" width="12.5" height="13" fill="#e8e8e8"/><rect x="193.5" y="657.5" width="144.5" height="13" fill="#b4b4b4"/><rect x="337.5" y="657.5" width="12.5" height="13" fill="#b6b6b6"/><rect x="349.5" y="657.5" width="36.5" height="13" fill="#b7b7b7"/><rect x="385.5" y="657.5" width="12.5" height="13" fill="#b8b8b8"/><rect x="397.5" y="657.5" width="12.5" height="13" fill="#b9b9b9"/><rect x="409.5" y="657.5" width="48.5" height="13" fill="#bababa"/><rect x="457.5" y="657.5" width="12.5" height="13" fill="#b8b8b8"/><rect x="469.5" y="657.5" width="12.5" height="13" fill="#b6b6b6"/><rect x="481.5" y="657.5" width="12.5" height="13" fill="#b5b5b5"/><rect x="493.5" y="657.5" width="12.5" height="13" fill="#b4b4b4"/><rect x="505.5" y="657.5" width="12.5" height="13" fill="#b5b5b5"/><rect x="517.5" y="657.5" width="12.5" height="13" fill="#b6b6b6"/><rect x="529.5" y="657.5" width="24.5" height="13" fill="#b7b7b7"/><rect x="553.5" y="657.5" width="12.5" height="13" fill="#b8b8b8"/><rect x="565.5" y="657.5" width="36.5" height="13" fill="#b9b9b9"/><rect x="601.5" y="657.5" width="12.5" height="13" fill="#bababa"/><rect x="613.5" y="657.5" width="24.5" height="13" fill="#bebebe"/><rect x="637.5" y="657.5" width="12.5" height="13" fill="#b6b6b6"/><rect x="649.5" y="657.5" width="12.5" height="13" fill="#b3b3b3"/><rect x="661.5" y="657.5" width="12.5" height="13" fill="#b2b2b2"/><rect x="673.5" y="657.5" width="12.5" height="13" fill="#b1b1b1"/><rect x="685.5" y="657.5" width="12.5" height="13" fill="#aeaeae"/><rect x="697.5" y="657.5" width="36.5" height="13" fill="#acacac"/><rect x="733.5" y="657.5" width="12.5" height="13" fill="#ababab"/><rect x="745.5" y="657.5" width="24.5" height="13" fill="#aaaaaa"/><rect x="769.5" y="657.5" width="12.5" height="13" fill="#ababab"/><rect x="781.5" y="657.5" width="12.5" height="13" fill="#acacac"/><rect x="793.5" y="657.5" width="12.5" height="13" fill="#afafaf"/><rect x="805.5" y="657.5" width="12.5" height="13" fill="#b1b1b1"/><rect x="817.5" y="657.5" width="12.5" height="13" fill="#b3b3b3"/><rect x="829.5" y="657.5" width="12.5" height="13" fill="#b7b7b7"/><rect x="841.5" y="657.5" width="12.5" height="13" fill="#bbbbbb"/><rect x="853.5" y="657.5" width="12.5" height="13" fill="#c0c0c0"/><rect x="865.5" y="657.5" width="12.5" height="13" fill="#c4c4c4"/><rect x="877.5" y="657.5" width="24.5" height="13" fill="#c6c6c6"/><rect x="901.5" y="657.5" width="12.5" height="13" fill="#c7c7c7"/><rect x="913.5" y="657.5" width="12.5" height="13" fill="#c9c9c9"/><rect x="925.5" y="657.5" width="12.5" height="13" fill="#cacaca"/><rect x="937.5" y="657.5" width="36.5" height="13" fill="#cbcbcb"/><rect x="973.5" y="657.5" width="12.5" height="13" fill="#cccccc"/><rect x="985.5" y="657.5" width="12.5" height="13" fill="#cecece"/><rect x="997.5" y="657.5" width="24.5" height="13" fill="#d0d0d0"/><rect x="1021.5" y="657.5" width="24.5" height="13" fill="#d1d1d1"/><rect x="1045.5" y="657.5" width="12.5" height="13" fill="#d4d4d4"/><rect x="1057.5" y="657.5" width="48.5" height="13" fill="#d6d6d6"/><rect x="1105.5" y="657.5" width="12.5" height="13" fill="#d7d7d7"/><rect x="1117.5" y="657.5" width="12.5" height="13" fill="#d9d9d9"/><rect x="1129.5" y="657.5" width="12.5" height="13" fill="#dbdbdb"/><rect x="1141.5" y="657.5" width="12.5" height="13" fill="#dcdcdc"/><rect x="1153.5" y="657.5" width="12.5" height="13" fill="#dddddd"/><rect x="1165.5" y="657.5" width="12.5" height="13" fill="#dcdcdc"/><rect x="1177.5" y="657.5" width="12.5" height="13" fill="#dddddd"/><rect x="1189.5" y="657.5" width="12.5" height="13" fill="#dedede"/><rect x="1201.5" y="657.5" width="12.5" height="13" fill="#dfdfdf"/><rect x="1213.5" y="657.5" width="12.5" height="13" fill="#e0e0e0"/><rect x="1225.5" y="657.5" width="12.5" height="13" fill="#e2e2e2"/><rect x="1237.5" y="657.5" width="12.5" height="13" fill="#e7e7e7"/><rect x="1249.5" y="657.5" width="12.5" height="13" fill="#ececec"/><rect x="1261.5" y="657.5" width="24.5" height="13" fill="#efefef"/><rect x="1285.5" y="657.5" width="12.5" height="13" fill="#eeeeee"/><rect x="1297.5" y="657.5" width="12.5" height="13" fill="#ebebeb"/><rect x="1309.5" y="657.5" width="12.5" height="13" fill="#e8e8e8"/><rect x="193.5" y="669.5" width="120.5" height="13" fill="#b4b4b4"/><rect x="313.5" y="669.5" width="24.5" height="13" fill="#b3b3b3"/><rect x="337.5" y="669.5" width="12.5" height="13" fill="#b4b4b4"/><rect x="349.5" y="669.5" width="12.5" height="13" fill="#b6b6b6"/><rect x="361.5" y="669.5" width="24.5" height="13" fill="#b7b7b7"/><rect x="385.5" y="669.5" width="12.5" height="13" fill="#b8b8b8"/><rect x="397.5" y="669.5" width="12.5" height="13" fill="#b9b9b9"/><rect x="409.5" y="669.5" width="12.5" height="13" fill="#bbbbbb"/><rect x="421.5" y="669.5" width="12.5" height="13" fill="#bcbcbc"/><rect x="433.5" y="669.5" width="24.5" height="13" fill="#bbbbbb"/><rect x="457.5" y="669.5" width="12.5" height="13" fill="#b9b9b9"/><rect x="469.5" y="669.5" width="12.5" height="13" fill="#b7b7b7"/><rect x="481.5" y="669.5" width="36.5" height="13" fill="#b4b4b4"/><rect x="517.5" y="669.5" width="12.5" height="13" fill="#b6b6b6"/><rect x="529.5" y="669.5" width="12.5" height="13" fill="#b8b8b8"/><rect x="541.5" y="669.5" width="12.5" height="13" fill="#b9b9b9"/><rect x="553.5" y="669.5" width="12.5" height="13" fill="#bababa"/><rect x="565.5" y="669.5" width="12.5" height="13" fill="#bbbbbb"/><rect x="577.5" y="669.5" width="12.5" height="13" fill="#bcbcbc"/><rect x="589.5" y="669.5" width="12.5" height="13" fill="#bdbdbd"/><rect x="601.5" y="669.5" width="12.5" height="13" fill="#c0c0c0"/><rect x="613.5" y="669.5" width="12.5" height="13" fill="#c4c4c4"/><rect x="625.5" y="669.5" width="12.5" height="13" fill="#c5c5c5"/><rect x="637.5" y="669.5" width="12.5" height="13" fill="#c2c2c2"/><rect x="649.5" y="669.5" width="12.5" height="13" fill="#bbbbbb"/><rect x="661.5" y="669.5" width="12.5" height="13" fill="#b8b8b8"/><rect x="673.5" y="669.5" width="12.5" height="13" fill="#b5b5b5"/><rect x="685.5" y="669.5" width="12.5" height="13" fill="#b2b2b2"/><rect x="697.5" y="669.5" width="12.5" height="13" fill="#b0b0b0"/><rect x="709.5" y="669.5" width="24.5" height="13" fill="#afafaf"/><rect x="733.5" y="669.5" width="36.5" height="13" fill="#aeaeae"/><rect x="769.5" y="669.5" width="12.5" height="13" fill="#afafaf"/><rect x="781.5" y="669.5" width="12.5" height="13" fill="#b1b1b1"/><rect x="793.5" y="669.5" width="12.5" height="13" fill="#b4b4b4"/><rect x="805.5" y="669.5" width="12.5" height="13" fill="#b7b7b7"/><rect x="817.5" y="669.5" width="12.5" height="13" fill="#bbbbbb"/><rect x="829.5" y="669.5" width="12.5" height="13" fill="#bebebe"/><rect x="841.5" y="669.5" width="12.5" height="13" fill="#c2c2c2"/><rect x="853.5" y="669.5" width="12.5" height="13" fill="#c5c5c5"/><rect x="865.5" y="669.5" width="24.5" height="13" fill="#c7c7c7"/><rect x="889.5" y="669.5" width="12.5" height="13" fill="#c8c8c8"/><rect x="901.5" y="669.5" width="12.5" height="13" fill="#cacaca"/><rect x="913.5" y="669.5" width="60.5" height="13" fill="#cbcbcb"/><rect x="973.5" y="669.5" width="12.5" height="13" fill="#cdcdcd"/><rect x="985.5" y="669.5" width="12.5" height="13" fill="#cfcfcf"/><rect x="997.5" y="669.5" width="12.5" height="13" fill="#d0d0d0"/><rect x="1009.5" y="669.5" width="24.5" height="13" fill="#d1d1d1"/><rect x="1033.5" y="669.5" width="12.5" height="13" fill="#d2d2d2"/><rect x="1045.5" y="669.5" width="12.5" height="13" fill="#d5d5d5"/><rect x="1057.5" y="669.5" width="12.5" height="13" fill="#d8d8d8"/><rect x="1069.5" y="669.5" width="12.5" height="13" fill="#d9d9d9"/><rect x="1081.5" y="669.5" width="12.5" height="13" fill="#d8d8d8"/><rect x="1093.5" y="669.5" width="24.5" height="13" fill="#d7d7d7"/><rect x="1117.5" y="669.5" width="12.5" height="13" fill="#dadada"/><rect x="1129.5" y="669.5" width="12.5" height="13" fill="#dcdcdc"/><rect x="1141.5" y="669.5" width="48.5" height="13" fill="#dddddd"/><rect x="1189.5" y="669.5" width="12.5" height="13" fill="#dedede"/><rect x="1201.5" y="669.5" width="12.5" height="13" fill="#dfdfdf"/><rect x="1213.5" y="669.5" width="12.5" height="13" fill="#e0e0e0"/><rect x="1225.5" y="669.5" width="12.5" height="13" fill="#e1e1e1"/><rect x="1237.5" y="669.5" width="12.5" height="13" fill="#e5e5e5"/><rect x="1249.5" y="669.5" width="12.5" height="13" fill="#e9e9e9"/><rect x="1261.5" y="669.5" width="12.5" height="13" fill="#ececec"/><rect x="1273.5" y="669.5" width="12.5" height="13" fill="#ededed"/><rect x="1285.5" y="669.5" width="12.5" height="13" fill="#ececec"/><rect x="1297.5" y="669.5" width="12.5" height="13" fill="#e9e9e9"/><rect x="1309.5" y="669.5" width="12.5" height="13" fill="#e7e7e7"/><rect x="193.5" y="681.5" width="36.5" height="13" fill="#b5b5b5"/><rect x="229.5" y="681.5" width="72.5" height="13" fill="#b4b4b4"/><rect x="301.5" y="681.5" width="12.5" height="13" fill="#b3b3b3"/><rect x="313.5" y="681.5" width="12.5" height="13" fill="#b2b2b2"/><rect x="325.5" y="681.5" width="24.5" height="13" fill="#b0b0b0"/><rect x="349.5" y="681.5" width="12.5" height="13" fill="#b4b4b4"/><rect x="361.5" y="681.5" width="12.5" height="13" fill="#b6b6b6"/><rect x="373.5" y="681.5" width="12.5" height="13" fill="#b7b7b7"/><rect x="385.5" y="681.5" width="12.5" height="13" fill="#b8b8b8"/><rect x="397.5" y="681.5" width="12.5" height="13" fill="#b9b9b9"/><rect x="409.5" y="681.5" width="12.5" height="13" fill="#bbbbbb"/><rect x="421.5" y="681.5" width="36.5" height="13" fill="#bcbcbc"/><rect x="457.5" y="681.5" width="12.5" height="13" fill="#bababa"/><rect x="469.5" y="681.5" width="12.5" height="13" fill="#b9b9b9"/><rect x="481.5" y="681.5" width="12.5" height="13" fill="#b6b6b6"/><rect x="493.5" y="681.5" width="24.5" height="13" fill="#b5b5b5"/><rect x="517.5" y="681.5" width="12.5" height="13" fill="#b7b7b7"/><rect x="529.5" y="681.5" width="24.5" height="13" fill="#b9b9b9"/><rect x="553.5" y="681.5" width="12.5" height="13" fill="#bababa"/><rect x="565.5" y="681.5" width="12.5" height="13" fill="#bcbcbc"/><rect x="577.5" y="681.5" width="12.5" height="13" fill="#bebebe"/><rect x="589.5" y="681.5" width="12.5" height="13" fill="#c0c0c0"/><rect x="601.5" y="681.5" width="12.5" height="13" fill="#c3c3c3"/><rect x="613.5" y="681.5" width="12.5" height="13" fill="#c6c6c6"/><rect x="625.5" y="681.5" width="12.5" height="13" fill="#c7c7c7"/><rect x="637.5" y="681.5" width="12.5" height="13" fill="#c6c6c6"/><rect x="649.5" y="681.5" width="12.5" height="13" fill="#c3c3c3"/><rect x="661.5" y="681.5" width="12.5" height="13" fill="#bebebe"/><rect x="673.5" y="681.5" width="12.5" height="13" fill="#bababa"/><rect x="685.5" y="681.5" width="12.5" height="13" fill="#b7b7b7"/><rect x="697.5" y="681.5" width="12.5" height="13" fill="#b4b4b4"/><rect x="709.5" y="681.5" width="12.5" height="13" fill="#b3b3b3"/><rect x="721.5" y="681.5" width="12.5" height="13" fill="#b2b2b2"/><rect x="733.5" y="681.5" width="24.5" height="13" fill="#b1b1b1"/><rect x="757.5" y="681.5" width="12.5" height="13" fill="#b2b2b2"/><rect x="769.5" y="681.5" width="12.5" height="13" fill="#b4b4b4"/><rect x="781.5" y="681.5" width="12.5" height="13" fill="#b6b6b6"/><rect x="793.5" y="681.5" width="12.5" height="13" fill="#bababa"/><rect x="805.5" y="681.5" width="12.5" height="13" fill="#bdbdbd"/><rect x="817.5" y="681.5" width="12.5" height="13" fill="#c1c1c1"/><rect x="829.5" y="681.5" width="12.5" height="13" fill="#c3c3c3"/><rect x="841.5" y="681.5" width="12.5" height="13" fill="#c6c6c6"/><rect x="853.5" y="681.5" width="12.5" height="13" fill="#c8c8c8"/><rect x="865.5" y="681.5" width="24.5" height="13" fill="#c9c9c9"/><rect x="889.5" y="681.5" width="12.5" height="13" fill="#cacaca"/><rect x="901.5" y="681.5" width="36.5" height="13" fill="#cdcdcd"/><rect x="937.5" y="681.5" width="12.5" height="13" fill="#cccccc"/><rect x="949.5" y="681.5" width="12.5" height="13" fill="#cbcbcb"/><rect x="961.5" y="681.5" width="12.5" height="13" fill="#cccccc"/><rect x="973.5" y="681.5" width="12.5" height="13" fill="#cdcdcd"/><rect x="985.5" y="681.5" width="12.5" height="13" fill="#cecece"/><rect x="997.5" y="681.5" width="24.5" height="13" fill="#d0d0d0"/><rect x="1021.5" y="681.5" width="12.5" height="13" fill="#d1d1d1"/><rect x="1033.5" y="681.5" width="12.5" height="13" fill="#d2d2d2"/><rect x="1045.5" y="681.5" width="12.5" height="13" fill="#d5d5d5"/><rect x="1057.5" y="681.5" width="36.5" height="13" fill="#d9d9d9"/><rect x="1093.5" y="681.5" width="24.5" height="13" fill="#d8d8d8"/><rect x="1117.5" y="681.5" width="12.5" height="13" fill="#dadada"/><rect x="1129.5" y="681.5" width="12.5" height="13" fill="#dbdbdb"/><rect x="1141.5" y="681.5" width="36.5" height="13" fill="#dcdcdc"/><rect x="1177.5" y="681.5" width="12.5" height="13" fill="#dddddd"/><rect x="1189.5" y="681.5" width="12.5" height="13" fill="#dedede"/><rect x="1201.5" y="681.5" width="24.5" height="13" fill="#dfdfdf"/><rect x="1225.5" y="681.5" width="12.5" height="13" fill="#e0e0e0"/><rect x="1237.5" y="681.5" width="12.5" height="13" fill="#e3e3e3"/><rect x="1249.5" y="681.5" width="12.5" height="13" fill="#e5e5e5"/><rect x="1261.5" y="681.5" width="12.5" height="13" fill="#e6e6e6"/><rect x="1273.5" y="681.5" width="12.5" height="13" fill="#e7e7e7"/><rect x="1285.5" y="681.5" width="12.5" height="13" fill="#e8e8e8"/><rect x="1297.5" y="681.5" width="12.5" height="13" fill="#e7e7e7"/><rect x="1309.5" y="681.5" width="12.5" height="13" fill="#e6e6e6"/><rect x="193.5" y="693.5" width="48.5" height="13" fill="#b5b5b5"/><rect x="241.5" y="693.5" width="48.5" height="13" fill="#b4b4b4"/><rect x="289.5" y="693.5" width="12.5" height="13" fill="#b3b3b3"/><rect x="301.5" y="693.5" width="12.5" height="13" fill="#b2b2b2"/><rect x="313.5" y="693.5" width="12.5" height="13" fill="#b1b1b1"/><rect x="325.5" y="693.5" width="12.5" height="13" fill="#afafaf"/><rect x="337.5" y="693.5" width="12.5" height="13" fill="#aeaeae"/><rect x="349.5" y="693.5" width="12.5" height="13" fill="#b1b1b1"/><rect x="361.5" y="693.5" width="12.5" height="13" fill="#b4b4b4"/><rect x="373.5" y="693.5" width="12.5" height="13" fill="#b6b6b6"/><rect x="385.5" y="693.5" width="12.5" height="13" fill="#b7b7b7"/><rect x="397.5" y="693.5" width="12.5" height="13" fill="#b8b8b8"/><rect x="409.5" y="693.5" width="12.5" height="13" fill="#bbbbbb"/><rect x="421.5" y="693.5" width="24.5" height="13" fill="#bdbdbd"/><rect x="445.5" y="693.5" width="12.5" height="13" fill="#bcbcbc"/><rect x="457.5" y="693.5" width="24.5" height="13" fill="#bbbbbb"/><rect x="481.5" y="693.5" width="12.5" height="13" fill="#b9b9b9"/><rect x="493.5" y="693.5" width="12.5" height="13" fill="#b7b7b7"/><rect x="505.5" y="693.5" width="24.5" height="13" fill="#b8b8b8"/><rect x="529.5" y="693.5" width="36.5" height="13" fill="#b9b9b9"/><rect x="565.5" y="693.5" width="12.5" height="13" fill="#bcbcbc"/><rect x="577.5" y="693.5" width="12.5" height="13" fill="#bfbfbf"/><rect x="589.5" y="693.5" width="12.5" height="13" fill="#c0c0c0"/><rect x="601.5" y="693.5" width="12.5" height="13" fill="#c2c2c2"/><rect x="613.5" y="693.5" width="12.5" height="13" fill="#c9c9c9"/><rect x="625.5" y="693.5" width="12.5" height="13" fill="#cbcbcb"/><rect x="637.5" y="693.5" width="12.5" height="13" fill="#c9c9c9"/><rect x="649.5" y="693.5" width="12.5" height="13" fill="#c7c7c7"/><rect x="661.5" y="693.5" width="12.5" height="13" fill="#c3c3c3"/><rect x="673.5" y="693.5" width="12.5" height="13" fill="#bfbfbf"/><rect x="685.5" y="693.5" width="12.5" height="13" fill="#bbbbbb"/><rect x="697.5" y="693.5" width="12.5" height="13" fill="#b8b8b8"/><rect x="709.5" y="693.5" width="12.5" height="13" fill="#b6b6b6"/><rect x="721.5" y="693.5" width="12.5" height="13" fill="#b5b5b5"/><rect x="733.5" y="693.5" width="12.5" height="13" fill="#b4b4b4"/><rect x="745.5" y="693.5" width="12.5" height="13" fill="#b5b5b5"/><rect x="757.5" y="693.5" width="12.5" height="13" fill="#b6b6b6"/><rect x="769.5" y="693.5" width="12.5" height="13" fill="#b8b8b8"/><rect x="781.5" y="693.5" width="12.5" height="13" fill="#bbbbbb"/><rect x="793.5" y="693.5" width="12.5" height="13" fill="#bebebe"/><rect x="805.5" y="693.5" width="12.5" height="13" fill="#c1c1c1"/><rect x="817.5" y="693.5" width="12.5" height="13" fill="#c4c4c4"/><rect x="829.5" y="693.5" width="12.5" height="13" fill="#c5c5c5"/><rect x="841.5" y="693.5" width="12.5" height="13" fill="#c7c7c7"/><rect x="853.5" y="693.5" width="36.5" height="13" fill="#c9c9c9"/><rect x="889.5" y="693.5" width="12.5" height="13" fill="#cbcbcb"/><rect x="901.5" y="693.5" width="24.5" height="13" fill="#cecece"/><rect x="925.5" y="693.5" width="12.5" height="13" fill="#cdcdcd"/><rect x="937.5" y="693.5" width="12.5" height="13" fill="#cccccc"/><rect x="949.5" y="693.5" width="24.5" height="13" fill="#cbcbcb"/><rect x="973.5" y="693.5" width="12.5" height="13" fill="#cccccc"/><rect x="985.5" y="693.5" width="12.5" height="13" fill="#cecece"/><rect x="997.5" y="693.5" width="12.5" height="13" fill="#cfcfcf"/><rect x="1009.5" y="693.5" width="12.5" height="13" fill="#d0d0d0"/><rect x="1021.5" y="693.5" width="12.5" height="13" fill="#d1d1d1"/><rect x="1033.5" y="693.5" width="12.5" height="13" fill="#d2d2d2"/><rect x="1045.5" y="693.5" width="12.5" height="13" fill="#d4d4d4"/><rect x="1057.5" y="693.5" width="12.5" height="13" fill="#d7d7d7"/><rect x="1069.5" y="693.5" width="24.5" height="13" fill="#d8d8d8"/><rect x="1093.5" y="693.5" width="12.5" height="13" fill="#d7d7d7"/><rect x="1105.5" y="693.5" width="12.5" height="13" fill="#d8d8d8"/><rect x="1117.5" y="693.5" width="12.5" height="13" fill="#d9d9d9"/><rect x="1129.5" y="693.5" width="12.5" height="13" fill="#dadada"/><rect x="1141.5" y="693.5" width="12.5" height="13" fill="#dbdbdb"/><rect x="1153.5" y="693.5" width="24.5" height="13" fill="#dcdcdc"/><rect x="1177.5" y="693.5" width="12.5" height="13" fill="#dddddd"/><rect x="1189.5" y="693.5" width="36.5" height="13" fill="#dfdfdf"/><rect x="1225.5" y="693.5" width="12.5" height="13" fill="#e0e0e0"/><rect x="1237.5" y="693.5" width="12.5" height="13" fill="#e2e2e2"/><rect x="1249.5" y="693.5" width="12.5" height="13" fill="#e4e4e4"/><rect x="1261.5" y="693.5" width="48.5" height="13" fill="#e5e5e5"/><rect x="1309.5" y="693.5" width="12.5" height="13" fill="#e4e4e4"/><rect x="193.5" y="705.5" width="60.5" height="13" fill="#b5b5b5"/><rect x="253.5" y="705.5" width="24.5" height="13" fill="#b4b4b4"/><rect x="277.5" y="705.5" width="24.5" height="13" fill="#b3b3b3"/><rect x="301.5" y="705.5" width="12.5" height="13" fill="#b2b2b2"/><rect x="313.5" y="705.5" width="12.5" height="13" fill="#b1b1b1"/><rect x="325.5" y="705.5" width="24.5" height="13" fill="#b0b0b0"/><rect x="349.5" y="705.5" width="12.5" height="13" fill="#b2b2b2"/><rect x="361.5" y="705.5" width="12.5" height="13" fill="#b4b4b4"/><rect x="373.5" y="705.5" width="12.5" height="13" fill="#b6b6b6"/><rect x="385.5" y="705.5" width="12.5" height="13" fill="#b7b7b7"/><rect x="397.5" y="705.5" width="12.5" height="13" fill="#b8b8b8"/><rect x="409.5" y="705.5" width="12.5" height="13" fill="#bababa"/><rect x="421.5" y="705.5" width="48.5" height="13" fill="#bcbcbc"/><rect x="469.5" y="705.5" width="12.5" height="13" fill="#bbbbbb"/><rect x="481.5" y="705.5" width="84.5" height="13" fill="#b9b9b9"/><rect x="565.5" y="705.5" width="12.5" height="13" fill="#bbbbbb"/><rect x="577.5" y="705.5" width="12.5" height="13" fill="#bfbfbf"/><rect x="589.5" y="705.5" width="12.5" height="13" fill="#c0c0c0"/><rect x="601.5" y="705.5" width="12.5" height="13" fill="#c2c2c2"/><rect x="613.5" y="705.5" width="12.5" height="13" fill="#cacaca"/><rect x="625.5" y="705.5" width="12.5" height="13" fill="#cccccc"/><rect x="637.5" y="705.5" width="12.5" height="13" fill="#cacaca"/><rect x="649.5" y="705.5" width="12.5" height="13" fill="#c8c8c8"/><rect x="661.5" y="705.5" width="12.5" height="13" fill="#c5c5c5"/><rect x="673.5" y="705.5" width="12.5" height="13" fill="#c2c2c2"/><rect x="685.5" y="705.5" width="12.5" height="13" fill="#bebebe"/><rect x="697.5" y="705.5" width="12.5" height="13" fill="#bbbbbb"/><rect x="709.5" y="705.5" width="12.5" height="13" fill="#b9b9b9"/><rect x="721.5" y="705.5" width="12.5" height="13" fill="#b8b8b8"/><rect x="733.5" y="705.5" width="24.5" height="13" fill="#b7b7b7"/><rect x="757.5" y="705.5" width="12.5" height="13" fill="#b9b9b9"/><rect x="769.5" y="705.5" width="12.5" height="13" fill="#bbbbbb"/><rect x="781.5" y="705.5" width="12.5" height="13" fill="#bebebe"/><rect x="793.5" y="705.5" width="12.5" height="13" fill="#c1c1c1"/><rect x="805.5" y="705.5" width="12.5" height="13" fill="#c4c4c4"/><rect x="817.5" y="705.5" width="12.5" height="13" fill="#c5c5c5"/><rect x="829.5" y="705.5" width="24.5" height="13" fill="#c6c6c6"/><rect x="853.5" y="705.5" width="12.5" height="13" fill="#c7c7c7"/><rect x="865.5" y="705.5" width="24.5" height="13" fill="#c9c9c9"/><rect x="889.5" y="705.5" width="12.5" height="13" fill="#cbcbcb"/><rect x="901.5" y="705.5" width="24.5" height="13" fill="#cdcdcd"/><rect x="925.5" y="705.5" width="12.5" height="13" fill="#cccccc"/><rect x="937.5" y="705.5" width="36.5" height="13" fill="#cbcbcb"/><rect x="973.5" y="705.5" width="12.5" height="13" fill="#cccccc"/><rect x="985.5" y="705.5" width="12.5" height="13" fill="#cdcdcd"/><rect x="997.5" y="705.5" width="12.5" height="13" fill="#cecece"/><rect x="1009.5" y="705.5" width="12.5" height="13" fill="#cfcfcf"/><rect x="1021.5" y="705.5" width="12.5" height="13" fill="#d0d0d0"/><rect x="1033.5" y="705.5" width="12.5" height="13" fill="#d2d2d2"/><rect x="1045.5" y="705.5" width="12.5" height="13" fill="#d3d3d3"/><rect x="1057.5" y="705.5" width="12.5" height="13" fill="#d4d4d4"/><rect x="1069.5" y="705.5" width="36.5" height="13" fill="#d5d5d5"/><rect x="1105.5" y="705.5" width="12.5" height="13" fill="#d7d7d7"/><rect x="1117.5" y="705.5" width="24.5" height="13" fill="#dadada"/><rect x="1141.5" y="705.5" width="24.5" height="13" fill="#dbdbdb"/><rect x="1165.5" y="705.5" width="12.5" height="13" fill="#dcdcdc"/><rect x="1177.5" y="705.5" width="12.5" height="13" fill="#dedede"/><rect x="1189.5" y="705.5" width="36.5" height="13" fill="#dfdfdf"/><rect x="1225.5" y="705.5" width="12.5" height="13" fill="#e0e0e0"/><rect x="1237.5" y="705.5" width="12.5" height="13" fill="#e2e2e2"/><rect x="1249.5" y="705.5" width="36.5" height="13" fill="#e3e3e3"/><rect x="1285.5" y="705.5" width="12.5" height="13" fill="#e4e4e4"/><rect x="1297.5" y="705.5" width="24.5" height="13" fill="#e3e3e3"/><rect x="193.5" y="717.5" width="72.5" height="13" fill="#b5b5b5"/><rect x="265.5" y="717.5" width="24.5" height="13" fill="#b4b4b4"/><rect x="289.5" y="717.5" width="12.5" height="13" fill="#b3b3b3"/><rect x="301.5" y="717.5" width="24.5" height="13" fill="#b2b2b2"/><rect x="325.5" y="717.5" width="12.5" height="13" fill="#b1b1b1"/><rect x="337.5" y="717.5" width="12.5" height="13" fill="#b2b2b2"/><rect x="349.5" y="717.5" width="12.5" height="13" fill="#b4b4b4"/><rect x="361.5" y="717.5" width="12.5" height="13" fill="#b5b5b5"/><rect x="373.5" y="717.5" width="12.5" height="13" fill="#b6b6b6"/><rect x="385.5" y="717.5" width="24.5" height="13" fill="#b8b8b8"/><rect x="409.5" y="717.5" width="12.5" height="13" fill="#bbbbbb"/><rect x="421.5" y="717.5" width="48.5" height="13" fill="#bcbcbc"/><rect x="469.5" y="717.5" width="12.5" height="13" fill="#bbbbbb"/><rect x="481.5" y="717.5" width="12.5" height="13" fill="#b9b9b9"/><rect x="493.5" y="717.5" width="24.5" height="13" fill="#b8b8b8"/><rect x="517.5" y="717.5" width="48.5" height="13" fill="#b9b9b9"/><rect x="565.5" y="717.5" width="12.5" height="13" fill="#bbbbbb"/><rect x="577.5" y="717.5" width="12.5" height="13" fill="#c0c0c0"/><rect x="589.5" y="717.5" width="12.5" height="13" fill="#c2c2c2"/><rect x="601.5" y="717.5" width="12.5" height="13" fill="#c5c5c5"/><rect x="613.5" y="717.5" width="12.5" height="13" fill="#c9c9c9"/><rect x="625.5" y="717.5" width="24.5" height="13" fill="#cacaca"/><rect x="649.5" y="717.5" width="12.5" height="13" fill="#c8c8c8"/><rect x="661.5" y="717.5" width="12.5" height="13" fill="#c6c6c6"/><rect x="673.5" y="717.5" width="12.5" height="13" fill="#c3c3c3"/><rect x="685.5" y="717.5" width="12.5" height="13" fill="#c0c0c0"/><rect x="697.5" y="717.5" width="12.5" height="13" fill="#bebebe"/><rect x="709.5" y="717.5" width="12.5" height="13" fill="#bbbbbb"/><rect x="721.5" y="717.5" width="36.5" height="13" fill="#bababa"/><rect x="757.5" y="717.5" width="12.5" height="13" fill="#bbbbbb"/><rect x="769.5" y="717.5" width="12.5" height="13" fill="#bdbdbd"/><rect x="781.5" y="717.5" width="12.5" height="13" fill="#c0c0c0"/><rect x="793.5" y="717.5" width="12.5" height="13" fill="#c2c2c2"/><rect x="805.5" y="717.5" width="12.5" height="13" fill="#c4c4c4"/><rect x="817.5" y="717.5" width="48.5" height="13" fill="#c6c6c6"/><rect x="865.5" y="717.5" width="12.5" height="13" fill="#c7c7c7"/><rect x="877.5" y="717.5" width="12.5" height="13" fill="#c8c8c8"/><rect x="889.5" y="717.5" width="12.5" height="13" fill="#cacaca"/><rect x="901.5" y="717.5" width="12.5" height="13" fill="#cbcbcb"/><rect x="913.5" y="717.5" width="36.5" height="13" fill="#cccccc"/><rect x="949.5" y="717.5" width="24.5" height="13" fill="#cbcbcb"/><rect x="973.5" y="717.5" width="12.5" height="13" fill="#cccccc"/><rect x="985.5" y="717.5" width="12.5" height="13" fill="#cdcdcd"/><rect x="997.5" y="717.5" width="24.5" height="13" fill="#cecece"/><rect x="1021.5" y="717.5" width="12.5" height="13" fill="#cfcfcf"/><rect x="1033.5" y="717.5" width="12.5" height="13" fill="#d2d2d2"/><rect x="1045.5" y="717.5" width="48.5" height="13" fill="#d3d3d3"/><rect x="1093.5" y="717.5" width="12.5" height="13" fill="#d4d4d4"/><rect x="1105.5" y="717.5" width="12.5" height="13" fill="#d7d7d7"/><rect x="1117.5" y="717.5" width="24.5" height="13" fill="#dadada"/><rect x="1141.5" y="717.5" width="24.5" height="13" fill="#dbdbdb"/><rect x="1165.5" y="717.5" width="12.5" height="13" fill="#dcdcdc"/><rect x="1177.5" y="717.5" width="12.5" height="13" fill="#dedede"/><rect x="1189.5" y="717.5" width="24.5" height="13" fill="#e0e0e0"/><rect x="1213.5" y="717.5" width="24.5" height="13" fill="#dfdfdf"/><rect x="1237.5" y="717.5" width="12.5" height="13" fill="#e1e1e1"/><rect x="1249.5" y="717.5" width="60.5" height="13" fill="#e3e3e3"/><rect x="1309.5" y="717.5" width="12.5" height="13" fill="#e2e2e2"/><rect x="193.5" y="729.5" width="48.5" height="13" fill="#b6b6b6"/><rect x="241.5" y="729.5" width="36.5" height="13" fill="#b5b5b5"/><rect x="277.5" y="729.5" width="24.5" height="13" fill="#b4b4b4"/><rect x="301.5" y="729.5" width="36.5" height="13" fill="#b3b3b3"/><rect x="337.5" y="729.5" width="24.5" height="13" fill="#b4b4b4"/><rect x="361.5" y="729.5" width="12.5" height="13" fill="#b5b5b5"/><rect x="373.5" y="729.5" width="12.5" height="13" fill="#b8b8b8"/><rect x="385.5" y="729.5" width="12.5" height="13" fill="#bababa"/><rect x="397.5" y="729.5" width="12.5" height="13" fill="#bbbbbb"/><rect x="409.5" y="729.5" width="12.5" height="13" fill="#bcbcbc"/><rect x="421.5" y="729.5" width="24.5" height="13" fill="#bdbdbd"/><rect x="445.5" y="729.5" width="24.5" height="13" fill="#bcbcbc"/><rect x="469.5" y="729.5" width="12.5" height="13" fill="#bababa"/><rect x="481.5" y="729.5" width="12.5" height="13" fill="#b9b9b9"/><rect x="493.5" y="729.5" width="24.5" height="13" fill="#b8b8b8"/><rect x="517.5" y="729.5" width="12.5" height="13" fill="#b9b9b9"/><rect x="529.5" y="729.5" width="24.5" height="13" fill="#bababa"/><rect x="553.5" y="729.5" width="12.5" height="13" fill="#bbbbbb"/><rect x="565.5" y="729.5" width="12.5" height="13" fill="#bdbdbd"/><rect x="577.5" y="729.5" width="12.5" height="13" fill="#c2c2c2"/><rect x="589.5" y="729.5" width="12.5" height="13" fill="#c5c5c5"/><rect x="601.5" y="729.5" width="12.5" height="13" fill="#c8c8c8"/><rect x="613.5" y="729.5" width="24.5" height="13" fill="#cacaca"/><rect x="637.5" y="729.5" width="12.5" height="13" fill="#c9c9c9"/><rect x="649.5" y="729.5" width="12.5" height="13" fill="#c8c8c8"/><rect x="661.5" y="729.5" width="12.5" height="13" fill="#c6c6c6"/><rect x="673.5" y="729.5" width="12.5" height="13" fill="#c4c4c4"/><rect x="685.5" y="729.5" width="12.5" height="13" fill="#c1c1c1"/><rect x="697.5" y="729.5" width="12.5" height="13" fill="#bfbfbf"/><rect x="709.5" y="729.5" width="12.5" height="13" fill="#bdbdbd"/><rect x="721.5" y="729.5" width="12.5" height="13" fill="#bcbcbc"/><rect x="733.5" y="729.5" width="12.5" height="13" fill="#bbbbbb"/><rect x="745.5" y="729.5" width="12.5" height="13" fill="#bcbcbc"/><rect x="757.5" y="729.5" width="12.5" height="13" fill="#bdbdbd"/><rect x="769.5" y="729.5" width="12.5" height="13" fill="#bfbfbf"/><rect x="781.5" y="729.5" width="12.5" height="13" fill="#c1c1c1"/><rect x="793.5" y="729.5" width="12.5" height="13" fill="#c3c3c3"/><rect x="805.5" y="729.5" width="12.5" height="13" fill="#c5c5c5"/><rect x="817.5" y="729.5" width="60.5" height="13" fill="#c6c6c6"/><rect x="877.5" y="729.5" width="12.5" height="13" fill="#c7c7c7"/><rect x="889.5" y="729.5" width="12.5" height="13" fill="#c9c9c9"/><rect x="901.5" y="729.5" width="12.5" height="13" fill="#cacaca"/><rect x="913.5" y="729.5" width="60.5" height="13" fill="#cbcbcb"/><rect x="973.5" y="729.5" width="12.5" height="13" fill="#cccccc"/><rect x="985.5" y="729.5" width="12.5" height="13" fill="#cdcdcd"/><rect x="997.5" y="729.5" width="24.5" height="13" fill="#cecece"/><rect x="1021.5" y="729.5" width="12.5" height="13" fill="#cfcfcf"/><rect x="1033.5" y="729.5" width="12.5" height="13" fill="#d1d1d1"/><rect x="1045.5" y="729.5" width="24.5" height="13" fill="#d2d2d2"/><rect x="1069.5" y="729.5" width="24.5" height="13" fill="#d3d3d3"/><rect x="1093.5" y="729.5" width="12.5" height="13" fill="#d4d4d4"/><rect x="1105.5" y="729.5" width="12.5" height="13" fill="#d6d6d6"/><rect x="1117.5" y="729.5" width="12.5" height="13" fill="#d9d9d9"/><rect x="1129.5" y="729.5" width="12.5" height="13" fill="#dadada"/><rect x="1141.5" y="729.5" width="24.5" height="13" fill="#dbdbdb"/><rect x="1165.5" y="729.5" width="12.5" height="13" fill="#dcdcdc"/><rect x="1177.5" y="729.5" width="12.5" height="13" fill="#dfdfdf"/><rect x="1189.5" y="729.5" width="24.5" height="13" fill="#e1e1e1"/><rect x="1213.5" y="729.5" width="24.5" height="13" fill="#dedede"/><rect x="1237.5" y="729.5" width="12.5" height="13" fill="#e0e0e0"/><rect x="1249.5" y="729.5" width="12.5" height="13" fill="#e2e2e2"/><rect x="1261.5" y="729.5" width="24.5" height="13" fill="#e3e3e3"/><rect x="1285.5" y="729.5" width="36.5" height="13" fill="#e2e2e2"/><rect x="193.5" y="741.5" width="96.5" height="13" fill="#b6b6b6"/><rect x="289.5" y="741.5" width="36.5" height="13" fill="#b5b5b5"/><rect x="325.5" y="741.5" width="36.5" height="13" fill="#b6b6b6"/><rect x="361.5" y="741.5" width="12.5" height="13" fill="#b9b9b9"/><rect x="373.5" y="741.5" width="12.5" height="13" fill="#bdbdbd"/><rect x="385.5" y="741.5" width="12.5" height="13" fill="#bfbfbf"/><rect x="397.5" y="741.5" width="60.5" height="13" fill="#bdbdbd"/><rect x="457.5" y="741.5" width="12.5" height="13" fill="#bcbcbc"/><rect x="469.5" y="741.5" width="12.5" height="13" fill="#bababa"/><rect x="481.5" y="741.5" width="36.5" height="13" fill="#b9b9b9"/><rect x="517.5" y="741.5" width="12.5" height="13" fill="#bababa"/><rect x="529.5" y="741.5" width="12.5" height="13" fill="#bcbcbc"/><rect x="541.5" y="741.5" width="12.5" height="13" fill="#bdbdbd"/><rect x="553.5" y="741.5" width="12.5" height="13" fill="#bebebe"/><rect x="565.5" y="741.5" width="12.5" height="13" fill="#c0c0c0"/><rect x="577.5" y="741.5" width="12.5" height="13" fill="#c3c3c3"/><rect x="589.5" y="741.5" width="12.5" height="13" fill="#c5c5c5"/><rect x="601.5" y="741.5" width="12.5" height="13" fill="#c7c7c7"/><rect x="613.5" y="741.5" width="36.5" height="13" fill="#c9c9c9"/><rect x="649.5" y="741.5" width="12.5" height="13" fill="#c7c7c7"/><rect x="661.5" y="741.5" width="12.5" height="13" fill="#c6c6c6"/><rect x="673.5" y="741.5" width="12.5" height="13" fill="#c4c4c4"/><rect x="685.5" y="741.5" width="12.5" height="13" fill="#c2c2c2"/><rect x="697.5" y="741.5" width="12.5" height="13" fill="#c0c0c0"/><rect x="709.5" y="741.5" width="12.5" height="13" fill="#bebebe"/><rect x="721.5" y="741.5" width="36.5" height="13" fill="#bdbdbd"/><rect x="757.5" y="741.5" width="12.5" height="13" fill="#bebebe"/><rect x="769.5" y="741.5" width="12.5" height="13" fill="#c0c0c0"/><rect x="781.5" y="741.5" width="12.5" height="13" fill="#c2c2c2"/><rect x="793.5" y="741.5" width="12.5" height="13" fill="#c3c3c3"/><rect x="805.5" y="741.5" width="12.5" height="13" fill="#c4c4c4"/><rect x="817.5" y="741.5" width="24.5" height="13" fill="#c5c5c5"/><rect x="841.5" y="741.5" width="36.5" height="13" fill="#c6c6c6"/><rect x="877.5" y="741.5" width="12.5" height="13" fill="#c7c7c7"/><rect x="889.5" y="741.5" width="12.5" height="13" fill="#c8c8c8"/><rect x="901.5" y="741.5" width="36.5" height="13" fill="#c9c9c9"/><rect x="937.5" y="741.5" width="36.5" height="13" fill="#cacaca"/><rect x="973.5" y="741.5" width="12.5" height="13" fill="#cbcbcb"/><rect x="985.5" y="741.5" width="12.5" height="13" fill="#cdcdcd"/><rect x="997.5" y="741.5" width="24.5" height="13" fill="#cecece"/><rect x="1021.5" y="741.5" width="12.5" height="13" fill="#cfcfcf"/><rect x="1033.5" y="741.5" width="12.5" height="13" fill="#d0d0d0"/><rect x="1045.5" y="741.5" width="12.5" height="13" fill="#d1d1d1"/><rect x="1057.5" y="741.5" width="12.5" height="13" fill="#d2d2d2"/><rect x="1069.5" y="741.5" width="24.5" height="13" fill="#d3d3d3"/><rect x="1093.5" y="741.5" width="12.5" height="13" fill="#d4d4d4"/><rect x="1105.5" y="741.5" width="12.5" height="13" fill="#d6d6d6"/><rect x="1117.5" y="741.5" width="12.5" height="13" fill="#d9d9d9"/><rect x="1129.5" y="741.5" width="24.5" height="13" fill="#dadada"/><rect x="1153.5" y="741.5" width="12.5" height="13" fill="#dbdbdb"/><rect x="1165.5" y="741.5" width="12.5" height="13" fill="#dcdcdc"/><rect x="1177.5" y="741.5" width="12.5" height="13" fill="#dfdfdf"/><rect x="1189.5" y="741.5" width="24.5" height="13" fill="#e1e1e1"/><rect x="1213.5" y="741.5" width="12.5" height="13" fill="#dfdfdf"/><rect x="1225.5" y="741.5" width="12.5" height="13" fill="#dedede"/><rect x="1237.5" y="741.5" width="12.5" height="13" fill="#e0e0e0"/><rect x="1249.5" y="741.5" width="48.5" height="13" fill="#e2e2e2"/><rect x="1297.5" y="741.5" width="24.5" height="13" fill="#e1e1e1"/><rect x="193.5" y="753.5" width="24.5" height="13" fill="#b6b6b6"/><rect x="217.5" y="753.5" width="84.5" height="13" fill="#b7b7b7"/><rect x="301.5" y="753.5" width="12.5" height="13" fill="#b8b8b8"/><rect x="313.5" y="753.5" width="12.5" height="13" fill="#b9b9b9"/><rect x="325.5" y="753.5" width="12.5" height="13" fill="#bbbbbb"/><rect x="337.5" y="753.5" width="12.5" height="13" fill="#bebebe"/><rect x="349.5" y="753.5" width="24.5" height="13" fill="#c1c1c1"/><rect x="373.5" y="753.5" width="24.5" height="13" fill="#c0c0c0"/><rect x="397.5" y="753.5" width="12.5" height="13" fill="#bfbfbf"/><rect x="409.5" y="753.5" width="36.5" height="13" fill="#bdbdbd"/><rect x="445.5" y="753.5" width="12.5" height="13" fill="#bcbcbc"/><rect x="457.5" y="753.5" width="12.5" height="13" fill="#bbbbbb"/><rect x="469.5" y="753.5" width="36.5" height="13" fill="#b9b9b9"/><rect x="505.5" y="753.5" width="12.5" height="13" fill="#bbbbbb"/><rect x="517.5" y="753.5" width="12.5" height="13" fill="#bcbcbc"/><rect x="529.5" y="753.5" width="12.5" height="13" fill="#bebebe"/><rect x="541.5" y="753.5" width="24.5" height="13" fill="#bfbfbf"/><rect x="565.5" y="753.5" width="12.5" height="13" fill="#c0c0c0"/><rect x="577.5" y="753.5" width="12.5" height="13" fill="#c4c4c4"/><rect x="589.5" y="753.5" width="12.5" height="13" fill="#c5c5c5"/><rect x="601.5" y="753.5" width="12.5" height="13" fill="#c6c6c6"/><rect x="613.5" y="753.5" width="12.5" height="13" fill="#c7c7c7"/><rect x="625.5" y="753.5" width="24.5" height="13" fill="#c8c8c8"/><rect x="649.5" y="753.5" width="12.5" height="13" fill="#c7c7c7"/><rect x="661.5" y="753.5" width="12.5" height="13" fill="#c5c5c5"/><rect x="673.5" y="753.5" width="12.5" height="13" fill="#c4c4c4"/><rect x="685.5" y="753.5" width="12.5" height="13" fill="#c2c2c2"/><rect x="697.5" y="753.5" width="12.5" height="13" fill="#c0c0c0"/><rect x="709.5" y="753.5" width="12.5" height="13" fill="#bfbfbf"/><rect x="721.5" y="753.5" width="36.5" height="13" fill="#bebebe"/><rect x="757.5" y="753.5" width="12.5" height="13" fill="#bfbfbf"/><rect x="769.5" y="753.5" width="12.5" height="13" fill="#c1c1c1"/><rect x="781.5" y="753.5" width="12.5" height="13" fill="#c2c2c2"/><rect x="793.5" y="753.5" width="12.5" height="13" fill="#c3c3c3"/><rect x="805.5" y="753.5" width="48.5" height="13" fill="#c4c4c4"/><rect x="853.5" y="753.5" width="24.5" height="13" fill="#c5c5c5"/><rect x="877.5" y="753.5" width="12.5" height="13" fill="#c6c6c6"/><rect x="889.5" y="753.5" width="12.5" height="13" fill="#c7c7c7"/><rect x="901.5" y="753.5" width="24.5" height="13" fill="#c8c8c8"/><rect x="925.5" y="753.5" width="36.5" height="13" fill="#c7c7c7"/><rect x="961.5" y="753.5" width="12.5" height="13" fill="#c9c9c9"/><rect x="973.5" y="753.5" width="12.5" height="13" fill="#cacaca"/><rect x="985.5" y="753.5" width="12.5" height="13" fill="#cccccc"/><rect x="997.5" y="753.5" width="12.5" height="13" fill="#cdcdcd"/><rect x="1009.5" y="753.5" width="12.5" height="13" fill="#cecece"/><rect x="1021.5" y="753.5" width="36.5" height="13" fill="#cfcfcf"/><rect x="1057.5" y="753.5" width="12.5" height="13" fill="#d0d0d0"/><rect x="1069.5" y="753.5" width="12.5" height="13" fill="#d2d2d2"/><rect x="1081.5" y="753.5" width="12.5" height="13" fill="#d3d3d3"/><rect x="1093.5" y="753.5" width="12.5" height="13" fill="#d4d4d4"/><rect x="1105.5" y="753.5" width="12.5" height="13" fill="#d6d6d6"/><rect x="1117.5" y="753.5" width="12.5" height="13" fill="#d8d8d8"/><rect x="1129.5" y="753.5" width="24.5" height="13" fill="#d9d9d9"/><rect x="1153.5" y="753.5" width="12.5" height="13" fill="#dadada"/><rect x="1165.5" y="753.5" width="12.5" height="13" fill="#dcdcdc"/><rect x="1177.5" y="753.5" width="12.5" height="13" fill="#dedede"/><rect x="1189.5" y="753.5" width="48.5" height="13" fill="#dfdfdf"/><rect x="1237.5" y="753.5" width="84.5" height="13" fill="#e0e0e0"/><rect x="193.5" y="765.5" width="48.5" height="13" fill="#b7b7b7"/><rect x="241.5" y="765.5" width="36.5" height="13" fill="#b8b8b8"/><rect x="277.5" y="765.5" width="12.5" height="13" fill="#b9b9b9"/><rect x="289.5" y="765.5" width="12.5" height="13" fill="#bababa"/><rect x="301.5" y="765.5" width="12.5" height="13" fill="#bcbcbc"/><rect x="313.5" y="765.5" width="12.5" height="13" fill="#bfbfbf"/><rect x="325.5" y="765.5" width="12.5" height="13" fill="#c4c4c4"/><rect x="337.5" y="765.5" width="12.5" height="13" fill="#cacaca"/><rect x="349.5" y="765.5" width="12.5" height="13" fill="#cdcdcd"/><rect x="361.5" y="765.5" width="12.5" height="13" fill="#cbcbcb"/><rect x="373.5" y="765.5" width="12.5" height="13" fill="#c3c3c3"/><rect x="385.5" y="765.5" width="12.5" height="13" fill="#c1c1c1"/><rect x="397.5" y="765.5" width="12.5" height="13" fill="#bfbfbf"/><rect x="409.5" y="765.5" width="12.5" height="13" fill="#bdbdbd"/><rect x="421.5" y="765.5" width="12.5" height="13" fill="#bcbcbc"/><rect x="433.5" y="765.5" width="24.5" height="13" fill="#bbbbbb"/><rect x="457.5" y="765.5" width="12.5" height="13" fill="#bababa"/><rect x="469.5" y="765.5" width="24.5" height="13" fill="#b8b8b8"/><rect x="493.5" y="765.5" width="12.5" height="13" fill="#b9b9b9"/><rect x="505.5" y="765.5" width="12.5" height="13" fill="#bdbdbd"/><rect x="517.5" y="765.5" width="48.5" height="13" fill="#bfbfbf"/><rect x="565.5" y="765.5" width="12.5" height="13" fill="#c0c0c0"/><rect x="577.5" y="765.5" width="12.5" height="13" fill="#c3c3c3"/><rect x="589.5" y="765.5" width="24.5" height="13" fill="#c5c5c5"/><rect x="613.5" y="765.5" width="12.5" height="13" fill="#c6c6c6"/><rect x="625.5" y="765.5" width="12.5" height="13" fill="#c7c7c7"/><rect x="637.5" y="765.5" width="24.5" height="13" fill="#c6c6c6"/><rect x="661.5" y="765.5" width="12.5" height="13" fill="#c5c5c5"/><rect x="673.5" y="765.5" width="12.5" height="13" fill="#c3c3c3"/><rect x="685.5" y="765.5" width="12.5" height="13" fill="#c2c2c2"/><rect x="697.5" y="765.5" width="12.5" height="13" fill="#c1c1c1"/><rect x="709.5" y="765.5" width="48.5" height="13" fill="#bfbfbf"/><rect x="757.5" y="765.5" width="12.5" height="13" fill="#c0c0c0"/><rect x="769.5" y="765.5" width="12.5" height="13" fill="#c1c1c1"/><rect x="781.5" y="765.5" width="12.5" height="13" fill="#c2c2c2"/><rect x="793.5" y="765.5" width="12.5" height="13" fill="#c3c3c3"/><rect x="805.5" y="765.5" width="72.5" height="13" fill="#c4c4c4"/><rect x="877.5" y="765.5" width="12.5" height="13" fill="#c5c5c5"/><rect x="889.5" y="765.5" width="12.5" height="13" fill="#c6c6c6"/><rect x="901.5" y="765.5" width="24.5" height="13" fill="#c7c7c7"/><rect x="925.5" y="765.5" width="24.5" height="13" fill="#c6c6c6"/><rect x="949.5" y="765.5" width="12.5" height="13" fill="#c7c7c7"/><rect x="961.5" y="765.5" width="12.5" height="13" fill="#c8c8c8"/><rect x="973.5" y="765.5" width="12.5" height="13" fill="#c9c9c9"/><rect x="985.5" y="765.5" width="12.5" height="13" fill="#cccccc"/><rect x="997.5" y="765.5" width="12.5" height="13" fill="#cdcdcd"/><rect x="1009.5" y="765.5" width="36.5" height="13" fill="#cecece"/><rect x="1045.5" y="765.5" width="24.5" height="13" fill="#cfcfcf"/><rect x="1069.5" y="765.5" width="12.5" height="13" fill="#d1d1d1"/><rect x="1081.5" y="765.5" width="12.5" height="13" fill="#d3d3d3"/><rect x="1093.5" y="765.5" width="12.5" height="13" fill="#d5d5d5"/><rect x="1105.5" y="765.5" width="12.5" height="13" fill="#d6d6d6"/><rect x="1117.5" y="765.5" width="24.5" height="13" fill="#d7d7d7"/><rect x="1141.5" y="765.5" width="12.5" height="13" fill="#d8d8d8"/><rect x="1153.5" y="765.5" width="12.5" height="13" fill="#d9d9d9"/><rect x="1165.5" y="765.5" width="12.5" height="13" fill="#dbdbdb"/><rect x="1177.5" y="765.5" width="36.5" height="13" fill="#dddddd"/><rect x="1213.5" y="765.5" width="24.5" height="13" fill="#dedede"/><rect x="1237.5" y="765.5" width="48.5" height="13" fill="#dfdfdf"/><rect x="1285.5" y="765.5" width="36.5" height="13" fill="#e0e0e0"/><rect x="193.5" y="777.5" width="24.5" height="13" fill="#b7b7b7"/><rect x="217.5" y="777.5" width="36.5" height="13" fill="#b8b8b8"/><rect x="253.5" y="777.5" width="24.5" height="13" fill="#b9b9b9"/><rect x="277.5" y="777.5" width="12.5" height="13" fill="#bababa"/><rect x="289.5" y="777.5" width="12.5" height="13" fill="#bcbcbc"/><rect x="301.5" y="777.5" width="12.5" height="13" fill="#bfbfbf"/><rect x="313.5" y="777.5" width="12.5" height="13" fill="#c3c3c3"/><rect x="325.5" y="777.5" width="12.5" height="13" fill="#c8c8c8"/><rect x="337.5" y="777.5" width="12.5" height="13" fill="#cdcdcd"/><rect x="349.5" y="777.5" width="12.5" height="13" fill="#cfcfcf"/><rect x="361.5" y="777.5" width="12.5" height="13" fill="#cecece"/><rect x="373.5" y="777.5" width="12.5" height="13" fill="#c8c8c8"/><rect x="385.5" y="777.5" width="12.5" height="13" fill="#c2c2c2"/><rect x="397.5" y="777.5" width="12.5" height="13" fill="#bebebe"/><rect x="409.5" y="777.5" width="12.5" height="13" fill="#bbbbbb"/><rect x="421.5" y="777.5" width="36.5" height="13" fill="#bababa"/><rect x="457.5" y="777.5" width="12.5" height="13" fill="#b9b9b9"/><rect x="469.5" y="777.5" width="24.5" height="13" fill="#b8b8b8"/><rect x="493.5" y="777.5" width="12.5" height="13" fill="#bababa"/><rect x="505.5" y="777.5" width="12.5" height="13" fill="#c0c0c0"/><rect x="517.5" y="777.5" width="12.5" height="13" fill="#c2c2c2"/><rect x="529.5" y="777.5" width="12.5" height="13" fill="#c1c1c1"/><rect x="541.5" y="777.5" width="12.5" height="13" fill="#c0c0c0"/><rect x="553.5" y="777.5" width="12.5" height="13" fill="#bfbfbf"/><rect x="565.5" y="777.5" width="12.5" height="13" fill="#c0c0c0"/><rect x="577.5" y="777.5" width="12.5" height="13" fill="#c2c2c2"/><rect x="589.5" y="777.5" width="12.5" height="13" fill="#c4c4c4"/><rect x="601.5" y="777.5" width="60.5" height="13" fill="#c5c5c5"/><rect x="661.5" y="777.5" width="12.5" height="13" fill="#c4c4c4"/><rect x="673.5" y="777.5" width="12.5" height="13" fill="#c3c3c3"/><rect x="685.5" y="777.5" width="12.5" height="13" fill="#c2c2c2"/><rect x="697.5" y="777.5" width="12.5" height="13" fill="#c1c1c1"/><rect x="709.5" y="777.5" width="12.5" height="13" fill="#c0c0c0"/><rect x="721.5" y="777.5" width="36.5" height="13" fill="#bfbfbf"/><rect x="757.5" y="777.5" width="12.5" height="13" fill="#c0c0c0"/><rect x="769.5" y="777.5" width="12.5" height="13" fill="#c1c1c1"/><rect x="781.5" y="777.5" width="12.5" height="13" fill="#c2c2c2"/><rect x="793.5" y="777.5" width="24.5" height="13" fill="#c3c3c3"/><rect x="817.5" y="777.5" width="60.5" height="13" fill="#c4c4c4"/><rect x="877.5" y="777.5" width="12.5" height="13" fill="#c5c5c5"/><rect x="889.5" y="777.5" width="72.5" height="13" fill="#c6c6c6"/><rect x="961.5" y="777.5" width="12.5" height="13" fill="#c7c7c7"/><rect x="973.5" y="777.5" width="12.5" height="13" fill="#c9c9c9"/><rect x="985.5" y="777.5" width="12.5" height="13" fill="#cbcbcb"/><rect x="997.5" y="777.5" width="12.5" height="13" fill="#cdcdcd"/><rect x="1009.5" y="777.5" width="36.5" height="13" fill="#cecece"/><rect x="1045.5" y="777.5" width="24.5" height="13" fill="#cfcfcf"/><rect x="1069.5" y="777.5" width="12.5" height="13" fill="#d1d1d1"/><rect x="1081.5" y="777.5" width="12.5" height="13" fill="#d3d3d3"/><rect x="1093.5" y="777.5" width="12.5" height="13" fill="#d5d5d5"/><rect x="1105.5" y="777.5" width="12.5" height="13" fill="#d6d6d6"/><rect x="1117.5" y="777.5" width="36.5" height="13" fill="#d7d7d7"/><rect x="1153.5" y="777.5" width="12.5" height="13" fill="#d8d8d8"/><rect x="1165.5" y="777.5" width="12.5" height="13" fill="#dadada"/><rect x="1177.5" y="777.5" width="12.5" height="13" fill="#dcdcdc"/><rect x="1189.5" y="777.5" width="36.5" height="13" fill="#dddddd"/><rect x="1225.5" y="777.5" width="24.5" height="13" fill="#dedede"/><rect x="1249.5" y="777.5" width="72.5" height="13" fill="#dfdfdf"/><rect x="193.5" y="789.5" width="12.5" height="13" fill="#b7b7b7"/><rect x="205.5" y="789.5" width="36.5" height="13" fill="#b8b8b8"/><rect x="241.5" y="789.5" width="12.5" height="13" fill="#b9b9b9"/><rect x="253.5" y="789.5" width="24.5" height="13" fill="#bababa"/><rect x="277.5" y="789.5" width="12.5" height="13" fill="#bcbcbc"/><rect x="289.5" y="789.5" width="12.5" height="13" fill="#bebebe"/><rect x="301.5" y="789.5" width="12.5" height="13" fill="#c0c0c0"/><rect x="313.5" y="789.5" width="12.5" height="13" fill="#c4c4c4"/><rect x="325.5" y="789.5" width="12.5" height="13" fill="#c9c9c9"/><rect x="337.5" y="789.5" width="12.5" height="13" fill="#cccccc"/><rect x="349.5" y="789.5" width="12.5" height="13" fill="#cecece"/><rect x="361.5" y="789.5" width="12.5" height="13" fill="#cdcdcd"/><rect x="373.5" y="789.5" width="12.5" height="13" fill="#c8c8c8"/><rect x="385.5" y="789.5" width="12.5" height="13" fill="#c2c2c2"/><rect x="397.5" y="789.5" width="12.5" height="13" fill="#bcbcbc"/><rect x="409.5" y="789.5" width="84.5" height="13" fill="#b9b9b9"/><rect x="493.5" y="789.5" width="12.5" height="13" fill="#bcbcbc"/><rect x="505.5" y="789.5" width="12.5" height="13" fill="#c1c1c1"/><rect x="517.5" y="789.5" width="24.5" height="13" fill="#c2c2c2"/><rect x="541.5" y="789.5" width="36.5" height="13" fill="#c0c0c0"/><rect x="577.5" y="789.5" width="12.5" height="13" fill="#c2c2c2"/><rect x="589.5" y="789.5" width="12.5" height="13" fill="#c3c3c3"/><rect x="601.5" y="789.5" width="60.5" height="13" fill="#c4c4c4"/><rect x="661.5" y="789.5" width="12.5" height="13" fill="#c3c3c3"/><rect x="673.5" y="789.5" width="12.5" height="13" fill="#c2c2c2"/><rect x="685.5" y="789.5" width="12.5" height="13" fill="#c1c1c1"/><rect x="697.5" y="789.5" width="24.5" height="13" fill="#c0c0c0"/><rect x="721.5" y="789.5" width="24.5" height="13" fill="#bfbfbf"/><rect x="745.5" y="789.5" width="24.5" height="13" fill="#c0c0c0"/><rect x="769.5" y="789.5" width="12.5" height="13" fill="#c1c1c1"/><rect x="781.5" y="789.5" width="12.5" height="13" fill="#c2c2c2"/><rect x="793.5" y="789.5" width="84.5" height="13" fill="#c3c3c3"/><rect x="877.5" y="789.5" width="12.5" height="13" fill="#c4c4c4"/><rect x="889.5" y="789.5" width="12.5" height="13" fill="#c5c5c5"/><rect x="901.5" y="789.5" width="60.5" height="13" fill="#c6c6c6"/><rect x="961.5" y="789.5" width="12.5" height="13" fill="#c7c7c7"/><rect x="973.5" y="789.5" width="12.5" height="13" fill="#c8c8c8"/><rect x="985.5" y="789.5" width="12.5" height="13" fill="#cbcbcb"/><rect x="997.5" y="789.5" width="12.5" height="13" fill="#cdcdcd"/><rect x="1009.5" y="789.5" width="36.5" height="13" fill="#cecece"/><rect x="1045.5" y="789.5" width="24.5" height="13" fill="#cfcfcf"/><rect x="1069.5" y="789.5" width="12.5" height="13" fill="#d1d1d1"/><rect x="1081.5" y="789.5" width="12.5" height="13" fill="#d3d3d3"/><rect x="1093.5" y="789.5" width="12.5" height="13" fill="#d5d5d5"/><rect x="1105.5" y="789.5" width="12.5" height="13" fill="#d6d6d6"/><rect x="1117.5" y="789.5" width="36.5" height="13" fill="#d7d7d7"/><rect x="1153.5" y="789.5" width="12.5" height="13" fill="#d8d8d8"/><rect x="1165.5" y="789.5" width="12.5" height="13" fill="#dadada"/><rect x="1177.5" y="789.5" width="12.5" height="13" fill="#dcdcdc"/><rect x="1189.5" y="789.5" width="48.5" height="13" fill="#dddddd"/><rect x="1237.5" y="789.5" width="84.5" height="13" fill="#dedede"/><rect x="193.5" y="801.5" width="36.5" height="13" fill="#b8b8b8"/><rect x="229.5" y="801.5" width="24.5" height="13" fill="#b9b9b9"/><rect x="253.5" y="801.5" width="12.5" height="13" fill="#bababa"/><rect x="265.5" y="801.5" width="12.5" height="13" fill="#bbbbbb"/><rect x="277.5" y="801.5" width="12.5" height="13" fill="#bcbcbc"/><rect x="289.5" y="801.5" width="12.5" height="13" fill="#bebebe"/><rect x="301.5" y="801.5" width="12.5" height="13" fill="#c1c1c1"/><rect x="313.5" y="801.5" width="12.5" height="13" fill="#c4c4c4"/><rect x="325.5" y="801.5" width="12.5" height="13" fill="#c7c7c7"/><rect x="337.5" y="801.5" width="12.5" height="13" fill="#cacaca"/><rect x="349.5" y="801.5" width="12.5" height="13" fill="#cbcbcb"/><rect x="361.5" y="801.5" width="12.5" height="13" fill="#cacaca"/><rect x="373.5" y="801.5" width="12.5" height="13" fill="#c6c6c6"/><rect x="385.5" y="801.5" width="12.5" height="13" fill="#c0c0c0"/><rect x="397.5" y="801.5" width="12.5" height="13" fill="#bbbbbb"/><rect x="409.5" y="801.5" width="12.5" height="13" fill="#b9b9b9"/><rect x="421.5" y="801.5" width="24.5" height="13" fill="#b8b8b8"/><rect x="445.5" y="801.5" width="24.5" height="13" fill="#b9b9b9"/><rect x="469.5" y="801.5" width="12.5" height="13" fill="#bababa"/><rect x="481.5" y="801.5" width="12.5" height="13" fill="#bbbbbb"/><rect x="493.5" y="801.5" width="12.5" height="13" fill="#bebebe"/><rect x="505.5" y="801.5" width="12.5" height="13" fill="#c1c1c1"/><rect x="517.5" y="801.5" width="12.5" height="13" fill="#c2c2c2"/><rect x="529.5" y="801.5" width="12.5" height="13" fill="#c1c1c1"/><rect x="541.5" y="801.5" width="36.5" height="13" fill="#c0c0c0"/><rect x="577.5" y="801.5" width="12.5" height="13" fill="#c1c1c1"/><rect x="589.5" y="801.5" width="12.5" height="13" fill="#c2c2c2"/><rect x="601.5" y="801.5" width="60.5" height="13" fill="#c3c3c3"/><rect x="661.5" y="801.5" width="24.5" height="13" fill="#c2c2c2"/><rect x="685.5" y="801.5" width="12.5" height="13" fill="#c1c1c1"/><rect x="697.5" y="801.5" width="60.5" height="13" fill="#c0c0c0"/><rect x="757.5" y="801.5" width="24.5" height="13" fill="#c1c1c1"/><rect x="781.5" y="801.5" width="84.5" height="13" fill="#c2c2c2"/><rect x="865.5" y="801.5" width="12.5" height="13" fill="#c3c3c3"/><rect x="877.5" y="801.5" width="12.5" height="13" fill="#c4c4c4"/><rect x="889.5" y="801.5" width="72.5" height="13" fill="#c5c5c5"/><rect x="961.5" y="801.5" width="12.5" height="13" fill="#c6c6c6"/><rect x="973.5" y="801.5" width="12.5" height="13" fill="#c8c8c8"/><rect x="985.5" y="801.5" width="12.5" height="13" fill="#cacaca"/><rect x="997.5" y="801.5" width="12.5" height="13" fill="#cdcdcd"/><rect x="1009.5" y="801.5" width="48.5" height="13" fill="#cecece"/><rect x="1057.5" y="801.5" width="12.5" height="13" fill="#cfcfcf"/><rect x="1069.5" y="801.5" width="12.5" height="13" fill="#d0d0d0"/><rect x="1081.5" y="801.5" width="12.5" height="13" fill="#d3d3d3"/><rect x="1093.5" y="801.5" width="12.5" height="13" fill="#d5d5d5"/><rect x="1105.5" y="801.5" width="36.5" height="13" fill="#d6d6d6"/><rect x="1141.5" y="801.5" width="24.5" height="13" fill="#d7d7d7"/><rect x="1165.5" y="801.5" width="12.5" height="13" fill="#d9d9d9"/><rect x="1177.5" y="801.5" width="36.5" height="13" fill="#dbdbdb"/><rect x="1213.5" y="801.5" width="24.5" height="13" fill="#dcdcdc"/><rect x="1237.5" y="801.5" width="60.5" height="13" fill="#dddddd"/><rect x="1297.5" y="801.5" width="24.5" height="13" fill="#dedede"/><rect x="193.5" y="813.5" width="24.5" height="13" fill="#b8b8b8"/><rect x="217.5" y="813.5" width="24.5" height="13" fill="#b9b9b9"/><rect x="241.5" y="813.5" width="12.5" height="13" fill="#bababa"/><rect x="253.5" y="813.5" width="12.5" height="13" fill="#bbbbbb"/><rect x="265.5" y="813.5" width="12.5" height="13" fill="#bcbcbc"/><rect x="277.5" y="813.5" width="12.5" height="13" fill="#bdbdbd"/><rect x="289.5" y="813.5" width="12.5" height="13" fill="#bebebe"/><rect x="301.5" y="813.5" width="12.5" height="13" fill="#c0c0c0"/><rect x="313.5" y="813.5" width="12.5" height="13" fill="#c3c3c3"/><rect x="325.5" y="813.5" width="12.5" height="13" fill="#c5c5c5"/><rect x="337.5" y="813.5" width="24.5" height="13" fill="#c7c7c7"/><rect x="361.5" y="813.5" width="12.5" height="13" fill="#c6c6c6"/><rect x="373.5" y="813.5" width="12.5" height="13" fill="#c3c3c3"/><rect x="385.5" y="813.5" width="12.5" height="13" fill="#bfbfbf"/><rect x="397.5" y="813.5" width="12.5" height="13" fill="#bbbbbb"/><rect x="409.5" y="813.5" width="48.5" height="13" fill="#b9b9b9"/><rect x="457.5" y="813.5" width="24.5" height="13" fill="#bababa"/><rect x="481.5" y="813.5" width="12.5" height="13" fill="#bcbcbc"/><rect x="493.5" y="813.5" width="12.5" height="13" fill="#bebebe"/><rect x="505.5" y="813.5" width="72.5" height="13" fill="#c0c0c0"/><rect x="577.5" y="813.5" width="24.5" height="13" fill="#c1c1c1"/><rect x="601.5" y="813.5" width="72.5" height="13" fill="#c2c2c2"/><rect x="673.5" y="813.5" width="24.5" height="13" fill="#c1c1c1"/><rect x="697.5" y="813.5" width="60.5" height="13" fill="#c0c0c0"/><rect x="757.5" y="813.5" width="24.5" height="13" fill="#c1c1c1"/><rect x="781.5" y="813.5" width="96.5" height="13" fill="#c2c2c2"/><rect x="877.5" y="813.5" width="12.5" height="13" fill="#c3c3c3"/><rect x="889.5" y="813.5" width="12.5" height="13" fill="#c4c4c4"/><rect x="901.5" y="813.5" width="60.5" height="13" fill="#c5c5c5"/><rect x="961.5" y="813.5" width="12.5" height="13" fill="#c6c6c6"/><rect x="973.5" y="813.5" width="12.5" height="13" fill="#c8c8c8"/><rect x="985.5" y="813.5" width="12.5" height="13" fill="#cacaca"/><rect x="997.5" y="813.5" width="12.5" height="13" fill="#cdcdcd"/><rect x="1009.5" y="813.5" width="48.5" height="13" fill="#cecece"/><rect x="1057.5" y="813.5" width="12.5" height="13" fill="#cfcfcf"/><rect x="1069.5" y="813.5" width="12.5" height="13" fill="#d0d0d0"/><rect x="1081.5" y="813.5" width="12.5" height="13" fill="#d2d2d2"/><rect x="1093.5" y="813.5" width="12.5" height="13" fill="#d5d5d5"/><rect x="1105.5" y="813.5" width="48.5" height="13" fill="#d6d6d6"/><rect x="1153.5" y="813.5" width="12.5" height="13" fill="#d7d7d7"/><rect x="1165.5" y="813.5" width="12.5" height="13" fill="#d9d9d9"/><rect x="1177.5" y="813.5" width="12.5" height="13" fill="#dadada"/><rect x="1189.5" y="813.5" width="36.5" height="13" fill="#dbdbdb"/><rect x="1225.5" y="813.5" width="12.5" height="13" fill="#dcdcdc"/><rect x="1237.5" y="813.5" width="84.5" height="13" fill="#dddddd"/><rect x="193.5" y="825.5" width="12.5" height="13" fill="#b8b8b8"/><rect x="205.5" y="825.5" width="24.5" height="13" fill="#b9b9b9"/><rect x="229.5" y="825.5" width="24.5" height="13" fill="#bababa"/><rect x="253.5" y="825.5" width="12.5" height="13" fill="#bbbbbb"/><rect x="265.5" y="825.5" width="12.5" height="13" fill="#bcbcbc"/><rect x="277.5" y="825.5" width="12.5" height="13" fill="#bdbdbd"/><rect x="289.5" y="825.5" width="12.5" height="13" fill="#bebebe"/><rect x="301.5" y="825.5" width="12.5" height="13" fill="#c0c0c0"/><rect x="313.5" y="825.5" width="12.5" height="13" fill="#c1c1c1"/><rect x="325.5" y="825.5" width="12.5" height="13" fill="#c3c3c3"/><rect x="337.5" y="825.5" width="24.5" height="13" fill="#c4c4c4"/><rect x="361.5" y="825.5" width="12.5" height="13" fill="#c3c3c3"/><rect x="373.5" y="825.5" width="12.5" height="13" fill="#c1c1c1"/><rect x="385.5" y="825.5" width="12.5" height="13" fill="#bebebe"/><rect x="397.5" y="825.5" width="12.5" height="13" fill="#bbbbbb"/><rect x="409.5" y="825.5" width="12.5" height="13" fill="#bababa"/><rect x="421.5" y="825.5" width="24.5" height="13" fill="#b9b9b9"/><rect x="445.5" y="825.5" width="24.5" height="13" fill="#bababa"/><rect x="469.5" y="825.5" width="12.5" height="13" fill="#bbbbbb"/><rect x="481.5" y="825.5" width="12.5" height="13" fill="#bcbcbc"/><rect x="493.5" y="825.5" width="12.5" height="13" fill="#bdbdbd"/><rect x="505.5" y="825.5" width="24.5" height="13" fill="#bfbfbf"/><rect x="529.5" y="825.5" width="60.5" height="13" fill="#c0c0c0"/><rect x="589.5" y="825.5" width="96.5" height="13" fill="#c1c1c1"/><rect x="685.5" y="825.5" width="72.5" height="13" fill="#c0c0c0"/><rect x="757.5" y="825.5" width="24.5" height="13" fill="#c1c1c1"/><rect x="781.5" y="825.5" width="96.5" height="13" fill="#c2c2c2"/><rect x="877.5" y="825.5" width="12.5" height="13" fill="#c3c3c3"/><rect x="889.5" y="825.5" width="12.5" height="13" fill="#c4c4c4"/><rect x="901.5" y="825.5" width="60.5" height="13" fill="#c5c5c5"/><rect x="961.5" y="825.5" width="12.5" height="13" fill="#c6c6c6"/><rect x="973.5" y="825.5" width="12.5" height="13" fill="#c8c8c8"/><rect x="985.5" y="825.5" width="12.5" height="13" fill="#cacaca"/><rect x="997.5" y="825.5" width="12.5" height="13" fill="#cdcdcd"/><rect x="1009.5" y="825.5" width="48.5" height="13" fill="#cecece"/><rect x="1057.5" y="825.5" width="12.5" height="13" fill="#cfcfcf"/><rect x="1069.5" y="825.5" width="12.5" height="13" fill="#d0d0d0"/><rect x="1081.5" y="825.5" width="12.5" height="13" fill="#d2d2d2"/><rect x="1093.5" y="825.5" width="12.5" height="13" fill="#d4d4d4"/><rect x="1105.5" y="825.5" width="48.5" height="13" fill="#d6d6d6"/><rect x="1153.5" y="825.5" width="12.5" height="13" fill="#d7d7d7"/><rect x="1165.5" y="825.5" width="12.5" height="13" fill="#d9d9d9"/><rect x="1177.5" y="825.5" width="12.5" height="13" fill="#dadada"/><rect x="1189.5" y="825.5" width="36.5" height="13" fill="#dbdbdb"/><rect x="1225.5" y="825.5" width="24.5" height="13" fill="#dcdcdc"/><rect x="1249.5" y="825.5" width="72.5" height="13" fill="#dddddd"/><rect x="193.5" y="837.5" width="12.5" height="13" fill="#b8b8b8"/><rect x="205.5" y="837.5" width="24.5" height="13" fill="#b9b9b9"/><rect x="229.5" y="837.5" width="24.5" height="13" fill="#bababa"/><rect x="253.5" y="837.5" width="12.5" height="13" fill="#bbbbbb"/><rect x="265.5" y="837.5" width="12.5" height="13" fill="#bcbcbc"/><rect x="277.5" y="837.5" width="12.5" height="13" fill="#bdbdbd"/><rect x="289.5" y="837.5" width="12.5" height="13" fill="#bebebe"/><rect x="301.5" y="837.5" width="12.5" height="13" fill="#bfbfbf"/><rect x="313.5" y="837.5" width="12.5" height="13" fill="#c0c0c0"/><rect x="325.5" y="837.5" width="12.5" height="13" fill="#c1c1c1"/><rect x="337.5" y="837.5" width="12.5" height="13" fill="#c2c2c2"/><rect x="349.5" y="837.5" width="24.5" height="13" fill="#c1c1c1"/><rect x="373.5" y="837.5" width="12.5" height="13" fill="#bfbfbf"/><rect x="385.5" y="837.5" width="12.5" height="13" fill="#bdbdbd"/><rect x="397.5" y="837.5" width="12.5" height="13" fill="#bcbcbc"/><rect x="409.5" y="837.5" width="12.5" height="13" fill="#bbbbbb"/><rect x="421.5" y="837.5" width="36.5" height="13" fill="#bababa"/><rect x="457.5" y="837.5" width="24.5" height="13" fill="#bbbbbb"/><rect x="481.5" y="837.5" width="12.5" height="13" fill="#bcbcbc"/><rect x="493.5" y="837.5" width="12.5" height="13" fill="#bdbdbd"/><rect x="505.5" y="837.5" width="24.5" height="13" fill="#bebebe"/><rect x="529.5" y="837.5" width="48.5" height="13" fill="#bfbfbf"/><rect x="577.5" y="837.5" width="36.5" height="13" fill="#c0c0c0"/><rect x="613.5" y="837.5" width="48.5" height="13" fill="#c1c1c1"/><rect x="661.5" y="837.5" width="96.5" height="13" fill="#c0c0c0"/><rect x="757.5" y="837.5" width="24.5" height="13" fill="#c1c1c1"/><rect x="781.5" y="837.5" width="96.5" height="13" fill="#c2c2c2"/><rect x="877.5" y="837.5" width="12.5" height="13" fill="#c3c3c3"/><rect x="889.5" y="837.5" width="12.5" height="13" fill="#c4c4c4"/><rect x="901.5" y="837.5" width="48.5" height="13" fill="#c5c5c5"/><rect x="949.5" y="837.5" width="24.5" height="13" fill="#c6c6c6"/><rect x="973.5" y="837.5" width="12.5" height="13" fill="#c8c8c8"/><rect x="985.5" y="837.5" width="12.5" height="13" fill="#cacaca"/><rect x="997.5" y="837.5" width="12.5" height="13" fill="#cccccc"/><rect x="1009.5" y="837.5" width="48.5" height="13" fill="#cecece"/><rect x="1057.5" y="837.5" width="12.5" height="13" fill="#cfcfcf"/><rect x="1069.5" y="837.5" width="12.5" height="13" fill="#d0d0d0"/><rect x="1081.5" y="837.5" width="12.5" height="13" fill="#d2d2d2"/><rect x="1093.5" y="837.5" width="12.5" height="13" fill="#d4d4d4"/><rect x="1105.5" y="837.5" width="12.5" height="13" fill="#d5d5d5"/><rect x="1117.5" y="837.5" width="36.5" height="13" fill="#d6d6d6"/><rect x="1153.5" y="837.5" width="12.5" height="13" fill="#d7d7d7"/><rect x="1165.5" y="837.5" width="12.5" height="13" fill="#d9d9d9"/><rect x="1177.5" y="837.5" width="24.5" height="13" fill="#dadada"/><rect x="1201.5" y="837.5" width="36.5" height="13" fill="#dbdbdb"/><rect x="1237.5" y="837.5" width="12.5" height="13" fill="#dcdcdc"/><rect x="1249.5" y="837.5" width="72.5" height="13" fill="#dddddd"/><rect x="193.5" y="849.5" width="36.5" height="13" fill="#b9b9b9"/><rect x="229.5" y="849.5" width="24.5" height="13" fill="#bababa"/><rect x="253.5" y="849.5" width="12.5" height="13" fill="#bbbbbb"/><rect x="265.5" y="849.5" width="24.5" height="13" fill="#bcbcbc"/><rect x="289.5" y="849.5" width="12.5" height="13" fill="#bdbdbd"/><rect x="301.5" y="849.5" width="12.5" height="13" fill="#bebebe"/><rect x="313.5" y="849.5" width="12.5" height="13" fill="#bfbfbf"/><rect x="325.5" y="849.5" width="36.5" height="13" fill="#c0c0c0"/><rect x="361.5" y="849.5" width="12.5" height="13" fill="#bfbfbf"/><rect x="373.5" y="849.5" width="12.5" height="13" fill="#bebebe"/><rect x="385.5" y="849.5" width="12.5" height="13" fill="#bdbdbd"/><rect x="397.5" y="849.5" width="12.5" height="13" fill="#bcbcbc"/><rect x="409.5" y="849.5" width="72.5" height="13" fill="#bbbbbb"/><rect x="481.5" y="849.5" width="12.5" height="13" fill="#bcbcbc"/><rect x="493.5" y="849.5" width="24.5" height="13" fill="#bdbdbd"/><rect x="517.5" y="849.5" width="24.5" height="13" fill="#bebebe"/><rect x="541.5" y="849.5" width="48.5" height="13" fill="#bfbfbf"/><rect x="589.5" y="849.5" width="108.5" height="13" fill="#c0c0c0"/><rect x="697.5" y="849.5" width="24.5" height="13" fill="#bfbfbf"/><rect x="721.5" y="849.5" width="36.5" height="13" fill="#c0c0c0"/><rect x="757.5" y="849.5" width="36.5" height="13" fill="#c1c1c1"/><rect x="793.5" y="849.5" width="72.5" height="13" fill="#c2c2c2"/><rect x="865.5" y="849.5" width="24.5" height="13" fill="#c3c3c3"/><rect x="889.5" y="849.5" width="12.5" height="13" fill="#c4c4c4"/><rect x="901.5" y="849.5" width="36.5" height="13" fill="#c5c5c5"/><rect x="937.5" y="849.5" width="24.5" height="13" fill="#c6c6c6"/><rect x="961.5" y="849.5" width="12.5" height="13" fill="#c7c7c7"/><rect x="973.5" y="849.5" width="12.5" height="13" fill="#c8c8c8"/><rect x="985.5" y="849.5" width="12.5" height="13" fill="#cacaca"/><rect x="997.5" y="849.5" width="12.5" height="13" fill="#cccccc"/><rect x="1009.5" y="849.5" width="12.5" height="13" fill="#cdcdcd"/><rect x="1021.5" y="849.5" width="24.5" height="13" fill="#cecece"/><rect x="1045.5" y="849.5" width="24.5" height="13" fill="#cfcfcf"/><rect x="1069.5" y="849.5" width="12.5" height="13" fill="#d0d0d0"/><rect x="1081.5" y="849.5" width="12.5" height="13" fill="#d2d2d2"/><rect x="1093.5" y="849.5" width="12.5" height="13" fill="#d4d4d4"/><rect x="1105.5" y="849.5" width="12.5" height="13" fill="#d5d5d5"/><rect x="1117.5" y="849.5" width="24.5" height="13" fill="#d6d6d6"/><rect x="1141.5" y="849.5" width="24.5" height="13" fill="#d7d7d7"/><rect x="1165.5" y="849.5" width="12.5" height="13" fill="#d8d8d8"/><rect x="1177.5" y="849.5" width="12.5" height="13" fill="#d9d9d9"/><rect x="1189.5" y="849.5" width="12.5" height="13" fill="#dadada"/><rect x="1201.5" y="849.5" width="36.5" height="13" fill="#dbdbdb"/><rect x="1237.5" y="849.5" width="24.5" height="13" fill="#dcdcdc"/><rect x="1261.5" y="849.5" width="36.5" height="13" fill="#dddddd"/><rect x="1297.5" y="849.5" width="24.5" height="13" fill="#dcdcdc"/><rect x="193.5" y="861.5" width="36.5" height="13" fill="#b9b9b9"/><rect x="229.5" y="861.5" width="24.5" height="13" fill="#bababa"/><rect x="253.5" y="861.5" width="24.5" height="13" fill="#bbbbbb"/><rect x="277.5" y="861.5" width="12.5" height="13" fill="#bcbcbc"/><rect x="289.5" y="861.5" width="24.5" height="13" fill="#bdbdbd"/><rect x="313.5" y="861.5" width="24.5" height="13" fill="#bebebe"/><rect x="337.5" y="861.5" width="12.5" height="13" fill="#bfbfbf"/><rect x="349.5" y="861.5" width="24.5" height="13" fill="#bebebe"/><rect x="373.5" y="861.5" width="24.5" height="13" fill="#bdbdbd"/><rect x="397.5" y="861.5" width="12.5" height="13" fill="#bcbcbc"/><rect x="409.5" y="861.5" width="60.5" height="13" fill="#bbbbbb"/><rect x="469.5" y="861.5" width="24.5" height="13" fill="#bcbcbc"/><rect x="493.5" y="861.5" width="36.5" height="13" fill="#bdbdbd"/><rect x="529.5" y="861.5" width="36.5" height="13" fill="#bebebe"/><rect x="565.5" y="861.5" width="60.5" height="13" fill="#bfbfbf"/><rect x="625.5" y="861.5" width="36.5" height="13" fill="#c0c0c0"/><rect x="661.5" y="861.5" width="60.5" height="13" fill="#bfbfbf"/><rect x="721.5" y="861.5" width="36.5" height="13" fill="#c0c0c0"/><rect x="757.5" y="861.5" width="36.5" height="13" fill="#c1c1c1"/><rect x="793.5" y="861.5" width="72.5" height="13" fill="#c2c2c2"/><rect x="865.5" y="861.5" width="12.5" height="13" fill="#c3c3c3"/><rect x="877.5" y="861.5" width="24.5" height="13" fill="#c4c4c4"/><rect x="901.5" y="861.5" width="24.5" height="13" fill="#c5c5c5"/><rect x="925.5" y="861.5" width="24.5" height="13" fill="#c6c6c6"/><rect x="949.5" y="861.5" width="24.5" height="13" fill="#c7c7c7"/><rect x="973.5" y="861.5" width="12.5" height="13" fill="#c9c9c9"/><rect x="985.5" y="861.5" width="12.5" height="13" fill="#cacaca"/><rect x="997.5" y="861.5" width="12.5" height="13" fill="#cccccc"/><rect x="1009.5" y="861.5" width="12.5" height="13" fill="#cdcdcd"/><rect x="1021.5" y="861.5" width="24.5" height="13" fill="#cecece"/><rect x="1045.5" y="861.5" width="12.5" height="13" fill="#cfcfcf"/><rect x="1057.5" y="861.5" width="12.5" height="13" fill="#d0d0d0"/><rect x="1069.5" y="861.5" width="12.5" height="13" fill="#d1d1d1"/><rect x="1081.5" y="861.5" width="12.5" height="13" fill="#d2d2d2"/><rect x="1093.5" y="861.5" width="12.5" height="13" fill="#d3d3d3"/><rect x="1105.5" y="861.5" width="24.5" height="13" fill="#d5d5d5"/><rect x="1129.5" y="861.5" width="12.5" height="13" fill="#d6d6d6"/><rect x="1141.5" y="861.5" width="24.5" height="13" fill="#d7d7d7"/><rect x="1165.5" y="861.5" width="12.5" height="13" fill="#d8d8d8"/><rect x="1177.5" y="861.5" width="12.5" height="13" fill="#d9d9d9"/><rect x="1189.5" y="861.5" width="24.5" height="13" fill="#dadada"/><rect x="1213.5" y="861.5" width="36.5" height="13" fill="#dbdbdb"/><rect x="1249.5" y="861.5" width="72.5" height="13" fill="#dcdcdc"/><path d="M269.6,276.6 266.3,286.6 264.6,296.6 263.8,309.9 265.4,321.5 268.8,333.2" fill="none" stroke="#909090" stroke-width="14" stroke-opacity="0.70" stroke-linejoin="round" stroke-linecap="round"/><path d="M450.9,150.8 440.9,153.3 430.9,157.4 421.0,161.6 411.0,168.2 401.0,174.9 392.7,183.2 384.4,190.7 377.7,195.7 371.1,199.8 361.1,205.7 351.1,210.7 341.1,215.7 331.1,220.6 321.2,226.5 311.2,233.1 301.2,239.8 292.9,246.4 286.2,253.1 279.6,261.4 274.6,269.7" fill="none" stroke="#898989" stroke-width="14" stroke-opacity="0.70" stroke-linejoin="round" stroke-linecap="round"/><path d="M557.1,155.1 545.4,157.8 530.4,156.1 517.1,152.8 503.7,147.4 490.4,144.4 473.7,145.1 457.0,147.4" fill="none" stroke="#797979" stroke-width="18" stroke-opacity="0.80" stroke-linejoin="round" stroke-linecap="round"/><path d="M666.5,181.5 659.8,185.6 656.5,179.8 653.2,175.7 647.3,171.5 639.8,173.2 635.7,179.8 629.9,185.6 625.7,188.1 621.5,182.3 614.9,179.8 608.2,179.0 601.6,177.3 597.4,171.5 603.3,168.2 601.6,161.5 599.9,154.9 596.6,161.5 593.3,154.9 591.6,159.8 586.6,158.2 581.6,153.2 582.5,146.5 575.8,146.5 570.0,146.5 566.7,141.5 560.0,143.2" fill="none" stroke="#727272" stroke-width="20" stroke-opacity="0.80" stroke-linejoin="round" stroke-linecap="round"/><path d="M719.7,176.5 726.3,179.0 724.7,184.8 719.7,186.5 718.0,190.6 713.9,186.5 710.5,188.1 704.7,194.8 706.4,188.1 708.9,184.8 704.7,184.0 701.4,178.1 693.1,173.2 684.8,172.3 678.1,174.8 671.5,179.0" fill="none" stroke="#828282" stroke-width="14" stroke-opacity="0.70" stroke-linejoin="round" stroke-linecap="round"/><path d="M796.2,114.1 794.6,111.6 789.6,103.3 786.2,91.6 782.9,86.7 779.6,91.6 777.1,103.3 776.3,112.4 769.6,111.6 759.6,109.1 749.6,108.3 739.7,107.4 731.3,106.6 723.0,108.3 713.0,110.8 708.0,109.9 704.7,115.8 699.7,119.1 693.1,119.1 688.1,120.8" fill="none" stroke="#666666" stroke-width="20" stroke-opacity="0.80" stroke-linejoin="round" stroke-linecap="round"/><path d="M923.1,134.0 916.4,129.1 908.1,123.2 899.8,118.2 889.8,113.3 879.8,109.9 869.9,108.3 856.6,106.6 844.9,106.3 833.3,108.3 821.6,110.8 810.0,112.4 800.0,115.7" fill="none" stroke="#868686" stroke-width="14" stroke-opacity="0.70" stroke-linejoin="round" stroke-linecap="round"/><path d="M1032.9,149.8 1027.9,143.2 1021.2,136.5 1011.3,129.9 1002.9,124.9 991.3,124.9 984.6,127.4 981.3,131.5 983.0,134.9 978.0,136.5 971.3,141.5 963.0,146.5 954.7,151.5 946.4,155.2 941.4,153.2 938.1,149.8 928.1,150.7 931.4,149.0 931.4,143.2 928.1,138.2" fill="none" stroke="#727272" stroke-width="18" stroke-opacity="0.80" stroke-linejoin="round" stroke-linecap="round"/><path d="M1073.2,234.8 1076.5,224.9 1078.2,216.5 1079.0,206.6 1079.0,198.2 1074.9,193.3 1071.5,186.6 1069.9,180.8 1057.4,180.8 1053.2,175.0 1048.2,168.3 1043.3,161.6 1037.4,155.0 1035.8,150.0" fill="none" stroke="#6f6f6f" stroke-width="18" stroke-opacity="0.80" stroke-linejoin="round" stroke-linecap="round"/><path d="M1081.5,288.1 1076.5,281.4 1074.9,274.8 1071.5,266.4 1068.2,258.1 1069.0,251.5 1070.7,243.2 1073.2,234.8" fill="none" stroke="#999999" stroke-width="12" stroke-opacity="0.60" stroke-linejoin="round" stroke-linecap="round"/></g></g>
<path d="M1147.0,60.0 1148.1,70.0 1143.8,83.4 1146.1,100.1 1149.5,120.1 1154.8,140.1 1158.8,151.8 1163.9,160.0 1168.0,171.6 1173.0,183.3 1178.0,193.3 1184.6,203.2 1191.3,211.5 1195.5,219.9 1193.8,224.9 1191.3,229.8 1191.3,238.2 1194.6,248.1 1199.6,258.1 1203.8,268.1 1207.9,279.8 1212.1,291.4 1216.3,301.4 1217.2,301.6 1220.5,311.6 1223.0,321.6 1223.0,333.3 1222.2,344.9 1221.3,356.5 1219.7,366.5 1217.2,376.5 1213.8,384.8 1209.7,393.1 1207.2,401.5 1206.3,408.1 1201.4,413.1 1194.7,416.4 1186.4,418.9 1178.1,418.9 1175.6,422.2 1163.9,421.4 1161.4,413.1 1162.3,406.4 1158.9,399.8 1156.4,391.5 1153.1,384.8 1146.5,380.7 1138.1,376.5 1130.7,373.2 1127.3,366.5 1124.8,358.2 1123.2,349.9 1119.8,343.2 1111.5,344.1 1104.9,339.9 1102.4,329.9 1098.2,319.9 1093.2,310.0 1088.2,300.0 1082.4,290.0 1081.5,288.1 1076.5,281.4 1074.9,274.8 1071.5,266.4 1068.2,258.1 1069.0,251.5 1070.7,243.2 1073.2,234.8 1076.5,224.9 1078.2,216.5 1079.0,206.6 1079.0,198.2 1074.9,193.3 1071.5,186.6 1069.9,180.8 1057.4,180.8 1053.2,175.0 1048.2,168.3 1043.3,161.6 1037.4,155.0 1035.8,150.0 1032.9,149.8 1027.9,143.2 1021.2,136.5 1011.3,129.9 1002.9,124.9 991.3,124.9 984.6,127.4 981.3,131.5 983.0,134.9 978.0,136.5 971.3,141.5 963.0,146.5 954.7,151.5 946.4,155.2 941.4,153.2 938.1,149.8 928.1,150.7 931.4,149.0 931.4,143.2 928.1,138.2 923.1,134.0 916.4,129.1 908.1,123.2 899.8,118.2 889.8,113.3 879.8,109.9 869.9,108.3 856.6,106.6 844.9,106.3 833.3,108.3 821.6,110.8 810.0,112.4 800.0,115.7 796.2,114.1 794.6,111.6 789.6,103.3 786.2,91.6 782.9,86.7 779.6,91.6 777.1,103.3 776.3,112.4 769.6,111.6 759.6,109.1 749.6,108.3 739.7,107.4 731.3,106.6 723.0,108.3 713.0,110.8 708.0,109.9 704.7,115.8 699.7,119.1 693.1,119.1 688.1,120.8 684.8,119.9 674.8,115.8 668.1,109.9 661.5,107.4 655.7,110.8 650.7,116.6 649.8,123.3 654.8,127.4 664.8,129.1 674.8,125.7 681.4,121.6 683.9,122.4 684.8,127.4 680.6,129.9 681.4,134.1 688.1,135.7 693.1,137.4 698.1,133.2 701.4,128.2 706.4,129.9 709.7,125.7 716.4,123.3 714.7,129.9 711.4,136.6 708.0,142.4 701.4,144.9 696.4,148.2 691.4,149.9 692.2,154.9 688.9,157.4 691.4,161.5 696.4,161.5 698.1,166.5 704.7,168.2 709.7,169.8 716.4,170.7 719.7,176.5 726.3,179.0 724.7,184.8 719.7,186.5 718.0,190.6 713.9,186.5 710.5,188.1 704.7,194.8 706.4,188.1 708.9,184.8 704.7,184.0 701.4,178.1 693.1,173.2 684.8,172.3 678.1,174.8 671.5,179.0 666.5,181.5 659.8,185.6 656.5,179.8 653.2,175.7 647.3,171.5 639.8,173.2 635.7,179.8 629.9,185.6 625.7,188.1 621.5,182.3 614.9,179.8 608.2,179.0 601.6,177.3 597.4,171.5 603.3,168.2 601.6,161.5 599.9,154.9 596.6,161.5 593.3,154.9 591.6,159.8 586.6,158.2 581.6,153.2 582.5,146.5 575.8,146.5 570.0,146.5 566.7,141.5 560.0,143.2 557.1,155.1 545.4,157.8 530.4,156.1 517.1,152.8 503.7,147.4 490.4,144.4 473.7,145.1 457.0,147.4 450.9,150.8 440.9,153.3 430.9,157.4 421.0,161.6 411.0,168.2 401.0,174.9 392.7,183.2 384.4,190.7 377.7,195.7 371.1,199.8 361.1,205.7 351.1,210.7 341.1,215.7 331.1,220.6 321.2,226.5 311.2,233.1 301.2,239.8 292.9,246.4 286.2,253.1 279.6,261.4 274.6,269.7 269.6,276.6 266.3,286.6 264.6,296.6 263.8,309.9 265.4,321.5 268.8,333.2 272.1,344.8 274.6,356.5 276.2,368.1 276.6,379.8 273.7,391.4 269.6,401.4 264.6,409.7 264.6,410.0 259.6,420.0 254.6,431.6 250.5,443.3 247.1,454.9 244.6,466.5 243.8,479.8 243.8,493.2 243.3,508.1 242.6,524.8 242.1,541.4 243.0,540.0 242.1,550.0 239.6,560.0 237.1,568.3 238.0,578.3 240.5,588.2 242.1,598.2 244.6,606.5 249.6,613.2 256.3,619.8 262.9,626.5 266.6,631.5 265.4,636.5 262.1,641.5 261.3,648.1 263.8,656.4 267.9,666.4 272.9,676.4 274.6,680.0 284.6,691.6 294.5,703.3 302.9,713.3 311.2,723.3 317.8,731.6 319.5,741.5 322.8,751.5 324.5,758.2 331.1,764.8 336.1,772.3 341.9,776.5 344.4,783.1 351.1,788.1 359.4,792.3 369.4,793.9 381.0,793.9 387.7,796.4 392.7,800.6 401.0,802.3 406.8,804.8 411.0,811.4 416.0,818.1 421.0,824.7 427.6,826.1 437.6,823.1 449.2,819.7 460.9,816.4 470.0,812.3 480.0,809.8 493.3,810.1 506.6,809.8 516.6,805.6 523.2,799.8 536.5,797.3 549.8,795.6 561.5,794.5 566.5,799.8 576.5,796.5 586.4,791.5 593.9,786.5 596.4,782.3 606.4,776.5 616.4,769.8 626.4,761.5 631.4,754.9 633.0,746.6 634.7,736.6 639.7,729.9 644.7,724.9 645.5,716.6 646.0,706.6 645.5,696.7 645.0,693.1 646.6,681.5 649.1,671.5 653.3,661.5 661.6,654.9 676.6,648.2 691.5,644.1 706.5,641.6 721.5,639.6 736.4,637.4 746.4,634.1 753.1,630.8 763.1,629.1 773.0,625.8 783.0,626.9 793.0,629.9 803.0,632.4 813.0,634.1 819.6,630.8 829.6,628.3 836.3,628.6 841.2,632.4 843.7,638.2 847.1,646.6 850.4,654.9 848.7,663.2 844.6,671.5 839.6,679.8 832.9,686.5 826.3,693.1 819.6,700.6 814.8,708.3 812.3,716.6 813.9,725.0 813.1,730.8 806.5,733.3 799.8,738.3 796.5,740.8 799.8,746.6 806.5,744.1 814.8,742.4 814.8,748.2 809.8,753.2 804.0,756.6 800.6,763.2 803.1,765.7 809.8,760.7 810.6,766.5 807.3,774.9 804.0,783.2 801.5,791.5 799.0,799.8 796.5,808.1 794.0,816.4 791.5,824.8 789.0,834.7 789.0,850.0 200.0,850.0 200.0,60.0Z" fill="none" stroke="#fff" stroke-width="2.4" stroke-dasharray="2.5 11 4 17 1.5 7 3 23 2 13"/>
<path d="M951.6,611.5 958.3,608.2 966.6,604.8 974.9,602.3 981.6,603.2 987.4,602.3 988.2,599.8 983.3,596.5 980.8,591.5 982.4,584.9 987.4,578.2 994.9,571.6 1003.2,565.7 1011.5,560.8 1021.5,556.6 1031.5,552.4 1041.5,548.3 1049.8,545.8 1059.8,546.3 1071.4,545.0 1081.4,543.3 1089.7,539.1 1098.0,536.3 1108.0,535.8 1116.3,536.6 1126.3,537.5 1130.0,538.3 1136.7,538.6 1140.0,543.3 1146.6,539.9 1155.0,539.1 1160.8,544.1 1168.3,540.8 1176.6,541.6 1186.6,541.6 1194.9,545.7 1203.2,549.1 1211.5,550.7 1219.8,549.9 1228.1,554.1 1236.5,557.4 1244.8,561.5 1251.4,569.9 1258.1,575.7 1266.4,581.5 1273.1,582.3 1289.7,581.5 1289.7,628.9 1268.1,630.6 1259.8,628.9 1251.4,626.4 1243.1,623.9 1234.8,622.3 1226.5,618.9 1219.8,615.6 1211.5,611.5 1204.9,605.6 1199.9,601.5 1189.9,601.5 1179.9,601.8 1171.6,601.5 1163.3,599.0 1160.8,589.8 1159.1,589.0 1157.4,598.1 1151.6,600.6 1146.6,598.1 1138.3,595.7 1130.0,593.2 1126.3,593.2 1119.7,589.9 1111.3,585.7 1106.3,581.5 1109.7,579.1 1119.7,578.6 1129.6,578.2 1133.8,574.9 1133.0,569.9 1126.3,566.2 1116.3,565.2 1103.0,564.9 1089.7,564.6 1078.1,564.1 1071.4,564.9 1063.1,571.6 1054.8,576.6 1048.1,584.0 1043.1,585.7 1038.1,592.4 1030.7,593.2 1026.5,592.4 1019.8,594.0 1009.9,596.5 1004.9,601.5 1003.2,609.0 994.9,610.7 988.2,612.3 981.6,616.5 976.6,618.1 977.4,614.8 975.8,610.7 969.9,611.5 961.6,614.8 955.0,614.8Z" fill="none" stroke="#fff" stroke-width="2.4" stroke-dasharray="3 9 2 14 4 19"/>
<path d="M1054.8,616.5 1057.3,612.3 1063.1,609.0 1071.4,609.8 1076.4,613.2 1079.7,618.1 1082.2,623.1 1083.9,629.0 1079.7,633.1 1071.4,635.6 1063.1,636.4 1054.8,634.8 1050.6,630.6 1049.8,627.3 1054.8,629.0 1058.9,628.1 1056.4,623.1Z" fill="none" stroke="#fff" stroke-width="2.4" stroke-dasharray="0 30 14 60"/>
<path d="M1147.5,755.5 1149.9,758.2 1158.2,756.9 1165.6,758.2 1164.2,760.9 1156.6,762.6 1148.9,762.9Z" fill="none" stroke="#fff" stroke-width="2.4" stroke-dasharray="0 28 7 40"/>
<path d="M1147.0,60.0 1148.1,70.0 1143.8,83.4 1146.1,100.1 1149.5,120.1 1154.8,140.1 1158.8,151.8 1163.9,160.0 1168.0,171.6 1173.0,183.3 1178.0,193.3 1184.6,203.2 1191.3,211.5 1195.5,219.9 1193.8,224.9 1191.3,229.8 1191.3,238.2 1194.6,248.1 1199.6,258.1 1203.8,268.1 1207.9,279.8 1212.1,291.4 1216.3,301.4 1217.2,301.6 1220.5,311.6 1223.0,321.6 1223.0,333.3 1222.2,344.9 1221.3,356.5 1219.7,366.5 1217.2,376.5 1213.8,384.8 1209.7,393.1 1207.2,401.5 1206.3,408.1 1201.4,413.1 1194.7,416.4 1186.4,418.9 1178.1,418.9 1175.6,422.2 1163.9,421.4 1161.4,413.1 1162.3,406.4 1158.9,399.8 1156.4,391.5 1153.1,384.8 1146.5,380.7 1138.1,376.5 1130.7,373.2 1127.3,366.5 1124.8,358.2 1123.2,349.9 1119.8,343.2 1111.5,344.1 1104.9,339.9 1102.4,329.9 1098.2,319.9 1093.2,310.0 1088.2,300.0 1082.4,290.0 1081.5,288.1 1076.5,281.4 1074.9,274.8 1071.5,266.4 1068.2,258.1 1069.0,251.5 1070.7,243.2 1073.2,234.8 1076.5,224.9 1078.2,216.5 1079.0,206.6 1079.0,198.2 1074.9,193.3 1071.5,186.6 1069.9,180.8 1057.4,180.8 1053.2,175.0 1048.2,168.3 1043.3,161.6 1037.4,155.0 1035.8,150.0 1032.9,149.8 1027.9,143.2 1021.2,136.5 1011.3,129.9 1002.9,124.9 991.3,124.9 984.6,127.4 981.3,131.5 983.0,134.9 978.0,136.5 971.3,141.5 963.0,146.5 954.7,151.5 946.4,155.2 941.4,153.2 938.1,149.8 928.1,150.7 931.4,149.0 931.4,143.2 928.1,138.2 923.1,134.0 916.4,129.1 908.1,123.2 899.8,118.2 889.8,113.3 879.8,109.9 869.9,108.3 856.6,106.6 844.9,106.3 833.3,108.3 821.6,110.8 810.0,112.4 800.0,115.7 796.2,114.1 794.6,111.6 789.6,103.3 786.2,91.6 782.9,86.7 779.6,91.6 777.1,103.3 776.3,112.4 769.6,111.6 759.6,109.1 749.6,108.3 739.7,107.4 731.3,106.6 723.0,108.3 713.0,110.8 708.0,109.9 704.7,115.8 699.7,119.1 693.1,119.1 688.1,120.8 684.8,119.9 674.8,115.8 668.1,109.9 661.5,107.4 655.7,110.8 650.7,116.6 649.8,123.3 654.8,127.4 664.8,129.1 674.8,125.7 681.4,121.6 683.9,122.4 684.8,127.4 680.6,129.9 681.4,134.1 688.1,135.7 693.1,137.4 698.1,133.2 701.4,128.2 706.4,129.9 709.7,125.7 716.4,123.3 714.7,129.9 711.4,136.6 708.0,142.4 701.4,144.9 696.4,148.2 691.4,149.9 692.2,154.9 688.9,157.4 691.4,161.5 696.4,161.5 698.1,166.5 704.7,168.2 709.7,169.8 716.4,170.7 719.7,176.5 726.3,179.0 724.7,184.8 719.7,186.5 718.0,190.6 713.9,186.5 710.5,188.1 704.7,194.8 706.4,188.1 708.9,184.8 704.7,184.0 701.4,178.1 693.1,173.2 684.8,172.3 678.1,174.8 671.5,179.0 666.5,181.5 659.8,185.6 656.5,179.8 653.2,175.7 647.3,171.5 639.8,173.2 635.7,179.8 629.9,185.6 625.7,188.1 621.5,182.3 614.9,179.8 608.2,179.0 601.6,177.3 597.4,171.5 603.3,168.2 601.6,161.5 599.9,154.9 596.6,161.5 593.3,154.9 591.6,159.8 586.6,158.2 581.6,153.2 582.5,146.5 575.8,146.5 570.0,146.5 566.7,141.5 560.0,143.2 557.1,155.1 545.4,157.8 530.4,156.1 517.1,152.8 503.7,147.4 490.4,144.4 473.7,145.1 457.0,147.4 450.9,150.8 440.9,153.3 430.9,157.4 421.0,161.6 411.0,168.2 401.0,174.9 392.7,183.2 384.4,190.7 377.7,195.7 371.1,199.8 361.1,205.7 351.1,210.7 341.1,215.7 331.1,220.6 321.2,226.5 311.2,233.1 301.2,239.8 292.9,246.4 286.2,253.1 279.6,261.4 274.6,269.7 269.6,276.6 266.3,286.6 264.6,296.6 263.8,309.9 265.4,321.5 268.8,333.2 272.1,344.8 274.6,356.5 276.2,368.1 276.6,379.8 273.7,391.4 269.6,401.4 264.6,409.7 264.6,410.0 259.6,420.0 254.6,431.6 250.5,443.3 247.1,454.9 244.6,466.5 243.8,479.8 243.8,493.2 243.3,508.1 242.6,524.8 242.1,541.4 243.0,540.0 242.1,550.0 239.6,560.0 237.1,568.3 238.0,578.3 240.5,588.2 242.1,598.2 244.6,606.5 249.6,613.2 256.3,619.8 262.9,626.5 266.6,631.5 265.4,636.5 262.1,641.5 261.3,648.1 263.8,656.4 267.9,666.4 272.9,676.4 274.6,680.0 284.6,691.6 294.5,703.3 302.9,713.3 311.2,723.3 317.8,731.6 319.5,741.5 322.8,751.5 324.5,758.2 331.1,764.8 336.1,772.3 341.9,776.5 344.4,783.1 351.1,788.1 359.4,792.3 369.4,793.9 381.0,793.9 387.7,796.4 392.7,800.6 401.0,802.3 406.8,804.8 411.0,811.4 416.0,818.1 421.0,824.7 427.6,826.1 437.6,823.1 449.2,819.7 460.9,816.4 470.0,812.3 480.0,809.8 493.3,810.1 506.6,809.8 516.6,805.6 523.2,799.8 536.5,797.3 549.8,795.6 561.5,794.5 566.5,799.8 576.5,796.5 586.4,791.5 593.9,786.5 596.4,782.3 606.4,776.5 616.4,769.8 626.4,761.5 631.4,754.9 633.0,746.6 634.7,736.6 639.7,729.9 644.7,724.9 645.5,716.6 646.0,706.6 645.5,696.7 645.0,693.1 646.6,681.5 649.1,671.5 653.3,661.5 661.6,654.9 676.6,648.2 691.5,644.1 706.5,641.6 721.5,639.6 736.4,637.4 746.4,634.1 753.1,630.8 763.1,629.1 773.0,625.8 783.0,626.9 793.0,629.9 803.0,632.4 813.0,634.1 819.6,630.8 829.6,628.3 836.3,628.6 841.2,632.4 843.7,638.2 847.1,646.6 850.4,654.9 848.7,663.2 844.6,671.5 839.6,679.8 832.9,686.5 826.3,693.1 819.6,700.6 814.8,708.3 812.3,716.6 813.9,725.0 813.1,730.8 806.5,733.3 799.8,738.3 796.5,740.8 799.8,746.6 806.5,744.1 814.8,742.4 814.8,748.2 809.8,753.2 804.0,756.6 800.6,763.2 803.1,765.7 809.8,760.7 810.6,766.5 807.3,774.9 804.0,783.2 801.5,791.5 799.0,799.8 796.5,808.1 794.0,816.4 791.5,824.8 789.0,834.7 789.0,850.0 200.0,850.0 200.0,60.0Z" fill="#808080" stroke="#000" stroke-width="0.8" stroke-linejoin="round"/>
<path d="M951.6,611.5 958.3,608.2 966.6,604.8 974.9,602.3 981.6,603.2 987.4,602.3 988.2,599.8 983.3,596.5 980.8,591.5 982.4,584.9 987.4,578.2 994.9,571.6 1003.2,565.7 1011.5,560.8 1021.5,556.6 1031.5,552.4 1041.5,548.3 1049.8,545.8 1059.8,546.3 1071.4,545.0 1081.4,543.3 1089.7,539.1 1098.0,536.3 1108.0,535.8 1116.3,536.6 1126.3,537.5 1130.0,538.3 1136.7,538.6 1140.0,543.3 1146.6,539.9 1155.0,539.1 1160.8,544.1 1168.3,540.8 1176.6,541.6 1186.6,541.6 1194.9,545.7 1203.2,549.1 1211.5,550.7 1219.8,549.9 1228.1,554.1 1236.5,557.4 1244.8,561.5 1251.4,569.9 1258.1,575.7 1266.4,581.5 1273.1,582.3 1289.7,581.5 1289.7,628.9 1268.1,630.6 1259.8,628.9 1251.4,626.4 1243.1,623.9 1234.8,622.3 1226.5,618.9 1219.8,615.6 1211.5,611.5 1204.9,605.6 1199.9,601.5 1189.9,601.5 1179.9,601.8 1171.6,601.5 1163.3,599.0 1160.8,589.8 1159.1,589.0 1157.4,598.1 1151.6,600.6 1146.6,598.1 1138.3,595.7 1130.0,593.2 1126.3,593.2 1119.7,589.9 1111.3,585.7 1106.3,581.5 1109.7,579.1 1119.7,578.6 1129.6,578.2 1133.8,574.9 1133.0,569.9 1126.3,566.2 1116.3,565.2 1103.0,564.9 1089.7,564.6 1078.1,564.1 1071.4,564.9 1063.1,571.6 1054.8,576.6 1048.1,584.0 1043.1,585.7 1038.1,592.4 1030.7,593.2 1026.5,592.4 1019.8,594.0 1009.9,596.5 1004.9,601.5 1003.2,609.0 994.9,610.7 988.2,612.3 981.6,616.5 976.6,618.1 977.4,614.8 975.8,610.7 969.9,611.5 961.6,614.8 955.0,614.8Z" fill="#808080" stroke="#000" stroke-width="0.8" stroke-linejoin="round"/>
<path d="M1054.8,616.5 1057.3,612.3 1063.1,609.0 1071.4,609.8 1076.4,613.2 1079.7,618.1 1082.2,623.1 1083.9,629.0 1079.7,633.1 1071.4,635.6 1063.1,636.4 1054.8,634.8 1050.6,630.6 1049.8,627.3 1054.8,629.0 1058.9,628.1 1056.4,623.1Z" fill="#808080" stroke="#000" stroke-width="0.8" stroke-linejoin="round"/>
<path d="M837.1,696.5 839.6,691.5 843.7,688.1 852.1,686.1 850.4,691.5 846.2,698.1 842.1,702.3 837.9,704.4Z" fill="#808080" stroke="#000" stroke-width="0.8" stroke-linejoin="round"/>
<path d="M1147.5,755.5 1149.9,758.2 1158.2,756.9 1165.6,758.2 1164.2,760.9 1156.6,762.6 1148.9,762.9Z" fill="#808080" stroke="#000" stroke-width="0.8" stroke-linejoin="round"/>
<path d="M1220.0,738.2 1226.6,736.2 1231.7,736.8 1225.0,738.9Z" fill="#808080" stroke="#000" stroke-width="0.8"/>
<path d="M1232.3,736.2 1240.0,734.2 1240.7,735.5 1234.3,737.5Z" fill="#808080" stroke="#000" stroke-width="0.8"/>
<path d="M779.0,786.5 782.3,793.2 779.8,801.5 780.7,808.1 785.7,809.8 788.2,819.8 789.8,826.4 788.2,834.7 775.7,834.7 777.4,823.1 776.5,814.8 769.9,814.8 762.4,814.8 766.5,808.1 771.5,798.1 775.7,790.7Z" fill="#d40000" stroke="#000" stroke-width="0.8" stroke-linejoin="round"/>
<path d="M566.5,803.9 573.1,799.8 584.8,794.0 593.1,789.8 598.1,789.0 603.1,792.3 601.4,798.1 596.4,803.1 586.4,808.9 576.5,807.3 569.8,805.6Z" fill="#c80000" stroke="#000" stroke-width="0.8" stroke-linejoin="round"/>
<path d="M244.6,607.4 248.8,614.0 255.4,621.5 262.1,629.0 263.8,634.8 261.3,640.6 258.8,643.1 256.3,636.5 251.3,633.2 247.1,621.5 245.5,613.2Z" fill="#e00000" stroke="#000" stroke-width="0.8" stroke-linejoin="round"/>
<path d="M245.5,407.5 253.0,406.7 260.4,415.0 256.3,423.3 253.0,433.3 248.8,444.9 246.0,456.6 243.8,469.9 242.1,469.9 243.8,454.9 245.5,443.3 244.6,433.3 248.0,423.3 244.6,415.0Z" fill="#ff2a00" stroke="#000" stroke-width="0.8" stroke-linejoin="round"/>
<path d="M267.9,275.8 265.4,286.6 263.3,296.6 262.4,309.9 263.8,321.5 267.1,333.2 270.4,344.8 272.9,356.5 275.1,367.3 271.6,369.8 268.8,359.8 266.3,346.5 262.1,338.2 259.6,326.5 254.6,319.9 255.4,311.6 260.4,308.2 260.4,298.3 262.1,287.4 265.4,276.6Z" fill="#fff" stroke="#000" stroke-width="0.8" stroke-linejoin="round"/>
<path d="M1075.7,249.8 1079.8,251.5 1083.2,256.5 1086.5,258.1 1090.7,254.8 1092.3,259.8 1089.8,264.8 1084.8,269.8 1081.5,274.8 1076.5,278.1 1074.0,274.8 1078.2,268.1 1079.8,261.5 1076.5,256.5Z" fill="#ff2000" stroke="#000" stroke-width="0.8" stroke-linejoin="round"/>
<path d="M1106.5,315.0 1111.5,314.1 1111.2,326.6 1109.9,338.2 1113.2,341.6 1110.7,344.1 1105.7,339.9 1104.0,331.6 1106.5,325.8Z" fill="#ff2000" stroke="#000" stroke-width="0.8" stroke-linejoin="round"/>
<path d="M394.3,157.4 397.7,149.1 404.3,145.0 411.0,144.1 412.6,149.9 409.3,157.4 416.0,159.1 424.3,158.3 414.3,164.1 407.7,169.1 401.8,168.2 401.0,161.6Z" fill="#ff8c00" stroke="#000" stroke-width="0.8" stroke-linejoin="round"/>
<path d="M394.3,157.4 397.7,149.1 404.3,145.0 411.0,144.1 412.6,149.9 408.5,154.9 401.8,155.3 400.2,160.8Z" fill="#fff" stroke="#000" stroke-width="0.8" stroke-linejoin="round"/>
<path d="M303.7,208.2 307.8,207.3 309.5,214.0 314.5,215.7 316.2,206.5 318.7,214.8 325.3,212.3 329.5,206.5 327.8,214.0 334.5,213.2 341.1,212.3 342.8,209.8 351.1,206.5 359.4,205.7 351.1,211.5 341.1,216.5 331.1,221.5 321.2,226.5 317.8,225.6 311.2,218.1 305.4,216.5Z" fill="#ff7a00" stroke="#000" stroke-width="0.8" stroke-linejoin="round"/>
<path d="M293.7,224.8 297.9,224.0 300.4,230.6 307.8,229.8 316.2,225.6 317.8,230.6 307.8,236.4 299.5,241.4 294.5,243.1 295.4,234.8Z" fill="#ff8000" stroke="#000" stroke-width="0.8" stroke-linejoin="round"/>
<path d="M272.1,245.6 277.9,241.4 286.2,238.1 289.5,243.9 286.2,251.4 281.2,258.1 277.9,256.4 281.2,248.1 275.4,248.1Z" fill="#ff8000" stroke="#000" stroke-width="0.8" stroke-linejoin="round"/>
<path d="M255.4,258.9 264.6,258.1 272.9,261.4 279.6,259.7 276.2,268.0 272.9,275.5 267.9,274.7 266.3,266.4 259.6,262.2Z" fill="#ff8000" stroke="#000" stroke-width="0.8" stroke-linejoin="round"/>
<path d="M782.9,87.5 786.2,91.6 789.2,103.3 794.2,111.6 789.6,114.1 781.2,115.3 776.6,112.4 777.3,103.3 779.6,91.6Z" fill="#ffe000" stroke="#000" stroke-width="0.8" stroke-linejoin="round"/>
<path d="M823.3,109.9 827.4,103.3 826.6,95.8 829.9,95.0 832.4,101.6 835.8,95.0 839.1,99.9 844.1,103.3 838.3,105.8 829.9,109.1Z" fill="#ff8c00" stroke="#000" stroke-width="0.8" stroke-linejoin="round"/>
<path d="M859.9,104.9 866.5,100.8 874.9,100.8 884.8,102.4 886.5,105.8 878.2,106.9 868.2,107.4Z" fill="#ffb000" stroke="#000" stroke-width="0.8" stroke-linejoin="round"/>
<path d="M899.8,113.3 906.5,112.4 916.4,112.4 914.8,115.7 909.8,118.2 916.4,121.6 923.1,123.2 927.3,128.2 921.4,129.9 914.8,125.7 908.1,122.4 904.0,117.4Z" fill="#ffb000" stroke="#000" stroke-width="0.8" stroke-linejoin="round"/>
<path d="M674.8,115.8 668.1,109.9 661.5,107.4 655.7,110.8 650.7,116.6 649.8,123.3 654.8,127.4 664.8,129.1 674.8,125.7 681.4,121.6 684.8,120.3Z" fill="#ffb700" stroke="#000" stroke-width="0.8" stroke-linejoin="round"/>
<path d="M683.9,122.4 684.8,127.4 680.6,129.9 681.4,134.1 688.1,135.7 693.1,137.4 698.1,133.2 701.4,128.2 703.1,121.6 699.7,119.4 693.1,119.4 688.1,121.1Z" fill="#ffb700" stroke="#000" stroke-width="0.8" stroke-linejoin="round"/>
<path d="M1164.2,422.3H1175.6" stroke="#fff" stroke-width="1.6"/>
<ellipse cx="1170.4" cy="412.8" rx="3.4" ry="2.6" transform="rotate(30 1170.4 412.8)" fill="#d40000" stroke="#000" stroke-width="1.2"/>
<path d="M1054,636.2H1072" stroke="#fff" stroke-width="1.4"/>
<path d="M1078.2,251.8 1082.3,252.8 1084.0,257.3 1080.7,259.0 1077.9,255.6Z" fill="#fff" stroke="#000" stroke-width="0.5"/>
<path d="M1086.8,258.5 1090.7,255.8 1092.0,259.8 1089.5,263.1 1086.5,261.8Z" fill="#fff" stroke="#000" stroke-width="0.5"/>
<path d="M1108.5,316.6 1110.9,316.3 1110.5,327.9 1108.9,328.3Z" fill="#fff" stroke="#000" stroke-width="0.5"/>
<path d="M303.7,208.2 307.8,207.3 309.5,214.0 307.5,216.8 304.9,215.7Z" fill="#fff" stroke="#000" stroke-width="0.5"/>
<path d="M332.8,213.5 340.3,211.8 341.4,214.8 334.5,217.3Z" fill="#fff" stroke="#000" stroke-width="0.5"/>
<path d="M272.1,245.6 277.9,241.4 285.4,238.9 284.6,243.9 280.4,247.3 275.4,248.1Z" fill="#fff" stroke="#000" stroke-width="0.5"/>
<path d="M255.4,258.9 264.6,258.1 267.1,261.4 260.4,262.7Z" fill="#fff" stroke="#000" stroke-width="0.5"/>
<path d="M454.6,136.6 458.4,131.6 462.9,132.0 462.2,138.3 458.4,140.8 455.6,140.0Z" fill="#fff" stroke="#000" stroke-width="0.5"/>
<path d="M264.9,326.5 267.9,338.2 270.9,349.8 273.2,361.5 274.2,368.1" fill="none" stroke="#e00000" stroke-width="2.6" stroke-dasharray="5 2 3 1.5 8 2"/>
<path d="M1216.0,398.1 1213.3,406.4 1208.3,414.8 1203.4,421.4 1196.7,428.1 1190.0,433.1 1181.7,438.9 1171.7,443.9 1163.1,447.2" fill="none" stroke="#000" stroke-width="1.6" stroke-dasharray="5 2 2 2 7 3"/>
<path d="M1170.5,444.1 1158.8,443.1 1148.8,444.1 1138.8,448.1 1127.1,452.4 1117.1,454.8" fill="none" stroke="#000" stroke-width="3.2" stroke-dasharray="2 1.2 4 1 3 1.5"/>
<path d="M1113.8,455.4 1105.4,454.8" fill="none" stroke="#000" stroke-width="1.5" stroke-dasharray="3 2"/>
<path d="M1166.4,426.4 1173.1,423.9 1181.4,425.6 1189.7,423.1 1198.0,419.8 1203.9,414.8" fill="none" stroke="#000" stroke-width="1.2" stroke-dasharray="1.5 4 2 5"/>
<path d="M1183.1,428.1 1189.7,429.7 1186.4,434.7" fill="none" stroke="#000" stroke-width="1.2" stroke-dasharray="1.5 4"/>
<path d="M1155.0,536.3 1163.3,534.1 1174.9,531.1 1186.6,534.1 1196.5,536.1 1206.5,539.1 1216.5,541.9 1226.5,546.6 1236.5,551.9 1246.4,559.1 1253.1,563.5 1263.1,568.2 1271.4,567.4 1279.2,566.2" fill="none" stroke="#000" stroke-width="2.4" stroke-dasharray="6 2 3 1.5 8 2.5 2 2"/>
<path d="M1193.2,539.9 1203.2,544.1 1213.2,547.4 1223.2,548.2 1233.1,554.9 1243.1,559.9 1253.1,568.2 1263.1,574.0 1273.1,578.2" fill="none" stroke="#000" stroke-width="1.6" stroke-dasharray="3 3 5 2 2 4"/>
<path d="M1264.7,571.5 1271.4,569.9 1278.9,570.7" fill="none" stroke="#000" stroke-width="3.5" stroke-dasharray="4 1 6 1.5"/>
<path d="M1247.3,511.6 1253.1,517.5" fill="none" stroke="#000" stroke-width="1.4" stroke-dasharray="8 2"/>
<path d="M1080.6,614.0 1084.7,621.5 1090.5,627.3 1098.0,629.8 1106.3,629.0 1113.0,626.5 1119.7,624.8 1126.3,624.0" fill="none" stroke="#000" stroke-width="1.8" stroke-dasharray="3 2.5 5 2 2 3"/>
<path d="M1131.3,626.5 1139.6,627.3 1145.4,624.5 1149.9,621.8" fill="none" stroke="#000" stroke-width="1.6" stroke-dasharray="5 3 8 2"/>
<path d="M1159.6,625.6 1162.9,624.5" fill="none" stroke="#000" stroke-width="1.4" stroke-dasharray="4 2"/>
<path d="M1063.1,596.9 1066.1,601.5 1073.1,601.8 1078.1,604.0 1081.4,609.8 1081.1,613.2" fill="none" stroke="#000" stroke-width="1.4" stroke-dasharray="3 3 1.5 4"/>
<path d="M1024.5,605.2 1029.8,607.3 1035.7,607.8 1040.6,606.8" fill="none" stroke="#000" stroke-width="1.4" stroke-dasharray="9 2 6 3"/>
<path d="M1047.3,613.2 1049.0,618.1" fill="none" stroke="#000" stroke-width="1.3" stroke-dasharray="5 2"/>
<path d="M1073.1,589.9 1069.8,593.2" fill="none" stroke="#000" stroke-width="1.2" stroke-dasharray="2 2"/>
<path d="M1076.4,568.2 1078.1,571.6" fill="none" stroke="#000" stroke-width="1.6" stroke-dasharray="2 2"/>
<path d="M1085.6,568.2 1087.2,574.1" fill="none" stroke="#000" stroke-width="1.6" stroke-dasharray="3 2"/>
<path d="M1094.7,575.7 1098.9,577.4" fill="none" stroke="#000" stroke-width="1.4" stroke-dasharray="2 2"/>
<path d="M1113.0,591.5 1121.3,596.5 1129.6,595.7 1138.0,601.5 1144.6,599.8" fill="none" stroke="#000" stroke-width="1.8" stroke-dasharray="2 3 4 2"/>
<path d="M979.9,581.5 984.9,575.7 993.2,569.9 1001.5,564.1 1009.9,559.9 1018.2,556.3 1028.2,552.4 1036.5,549.9" fill="none" stroke="#000" stroke-width="1.4" stroke-dasharray="2 3 3 4 1.5 3"/>
<path d="M734.3,127.4 737.3,134.9 735.0,144.9 728.3,153.2 720.0,159.8 713.4,162.5" fill="none" stroke="#000" stroke-width="1.5" stroke-dasharray="9 3 5 4 7 5"/>
<path d="M719.7,116.9 731.3,116.6 743.0,115.3 756.3,117.9 767.9,116.3 777.9,116.9 792.9,115.3" fill="none" stroke="#000" stroke-width="1.6" stroke-dasharray="8 5 12 6 6 9"/>
<path d="M733.0,136.6 729.7,142.4" fill="none" stroke="#000" stroke-width="1.2" stroke-dasharray="4 3"/>
<path d="M946.4,154.0 954.7,150.7 963.9,146.2 972.2,141.9" fill="none" stroke="#000" stroke-width="1.4" stroke-dasharray="14 4 10 6"/>
<path d="M848.7,632.4 849.9,639.9 851.6,646.6 853.7,650.7" fill="none" stroke="#000" stroke-width="1.3" stroke-dasharray="4 4 6 3"/>
<path d="M1175.5,189.1 1180.5,198.2 1185.5,206.6 1189.6,211.5" fill="none" stroke="#000" stroke-width="1.1" stroke-dasharray="40 0"/>
<path d="M1138.4,104.4 1136.0,108.3 1134.2,112.8 1135.4,117.3 1133.0,121.7 1133.6,126.2 1137.2,130.7 1139.0,135.2 1139.6,141.1 1137.8,146.2 1136.0,149.2 1135.4,154.0" fill="none" stroke="#000" stroke-width="3.2" stroke-linejoin="round" stroke-linecap="round"/>
<path d="M1138.4,104.4 1136.0,108.3 1134.2,112.8 1135.4,117.3 1133.0,121.7 1133.6,126.2 1137.2,130.7 1139.0,135.2 1139.6,141.1" fill="none" stroke="#fff" stroke-width="1.6" stroke-linejoin="round" stroke-linecap="round"/>
<path d="M1164.8,314.1 1169.8,310.0 1176.4,303.3 1181.4,299.1 1187.2,301.6 1190.5,308.3 1191.4,316.6 1188.9,323.3 1184.7,329.1 1179.7,327.4 1174.7,322.4 1168.9,318.3Z" fill="#fff" stroke="#000" stroke-width="0.8" stroke-linejoin="round"/>
<path d="M1133.9,168.3 1137.2,166.6 1140.6,171.6 1141.4,177.4 1137.2,179.6 1134.4,176.6 1133.1,171.6Z" fill="#fff" stroke="#000" stroke-width="0.8" stroke-linejoin="round"/>
<path d="M1132.2,212.4 1135.6,210.2 1138.9,212.4 1138.1,216.5 1134.4,217.4 1132.2,215.2Z" fill="#fff" stroke="#000" stroke-width="0.8" stroke-linejoin="round"/>
<path d="M1121.4,204.1 1126.4,202.9 1127.8,204.9 1124.8,206.6Z" fill="#fff" stroke="#000" stroke-width="0.8" stroke-linejoin="round"/>
<path d="M1153.0,199.9 1157.2,199.9 1159.7,203.2 1163.9,202.9 1158.0,207.4 1155.5,203.2Z" fill="#fff" stroke="#000" stroke-width="0.8" stroke-linejoin="round"/>
<path d="M1147.2,234.8 1150.5,233.2 1149.7,238.2 1152.2,240.7 1148.9,243.2 1146.4,239.0Z" fill="#fff" stroke="#000" stroke-width="0.8" stroke-linejoin="round"/>
<path d="M1153.0,232.3 1156.4,231.2 1156.4,234.8 1153.9,236.5Z" fill="#fff" stroke="#000" stroke-width="0.8" stroke-linejoin="round"/>
<path d="M1152.2,254.0 1155.5,252.3 1158.0,256.5 1158.9,261.5 1155.5,260.6 1153.0,257.3Z" fill="#fff" stroke="#000" stroke-width="0.8" stroke-linejoin="round"/>
<path d="M1145.6,260.6 1148.0,260.3 1148.5,263.1 1146.1,263.4Z" fill="#fff" stroke="#000" stroke-width="0.8" stroke-linejoin="round"/>
<path d="M1151.4,285.6 1155.5,283.9 1157.7,288.9 1153.9,293.1 1151.7,289.7Z" fill="#fff" stroke="#000" stroke-width="0.8" stroke-linejoin="round"/>
<path d="M639.8,114.1 644.8,109.9 649.0,111.6 647.3,117.4 642.3,119.9 639.5,117.9Z" fill="#fff" stroke="#000" stroke-width="0.8" stroke-linejoin="round"/>
<path d="M653.2,147.4 659.8,139.1 664.0,143.2 659.8,149.0 655.7,150.7Z" fill="#fff" stroke="#000" stroke-width="0.8" stroke-linejoin="round"/>
<path d="M580.0,129.1 583.3,128.6 586.6,133.2 583.3,134.6Z" fill="#fff" stroke="#000" stroke-width="0.8" stroke-linejoin="round"/>
<path d="M591.6,133.2 595.8,137.4 597.4,143.2 604.9,144.9 610.7,147.4 609.9,149.0 601.6,147.4 595.8,145.7 593.3,139.9Z" fill="#fff" stroke="#000" stroke-width="0.8" stroke-linejoin="round"/>
<path d="M659.8,158.2 666.5,159.8 670.6,164.8 668.1,166.5 663.1,163.2Z" fill="#fff" stroke="#000" stroke-width="0.8" stroke-linejoin="round"/>
<path d="M673.1,165.7 678.1,164.0 681.4,166.5 678.9,169.8 674.8,169.8Z" fill="#fff" stroke="#000" stroke-width="0.8" stroke-linejoin="round"/>
<path d="M513.7,134.1 522.1,132.8 524.4,140.1 518.7,139.4Z" fill="#fff" stroke="#000" stroke-width="0.8" stroke-linejoin="round"/>
<path d="M527.1,143.4 535.4,141.8 539.8,146.1 535.4,150.1 528.7,147.4Z" fill="#fff" stroke="#000" stroke-width="0.8" stroke-linejoin="round"/>
<path d="M482.0,137.4 487.0,126.1 489.7,125.4 492.0,137.4 487.0,140.8Z" fill="#fff" stroke="#000" stroke-width="0.8" stroke-linejoin="round"/>
<path d="M455.3,140.1 458.7,131.8 463.7,131.8 462.0,140.1 457.7,143.4Z" fill="#fff" stroke="#000" stroke-width="0.8" stroke-linejoin="round"/>
<path d="M580.5,129.4 585.5,129.4 586.5,133.4 582.1,133.4Z" fill="#fff" stroke="#000" stroke-width="0.8" stroke-linejoin="round"/>
<path d="M592.2,134.1 597.2,140.1 603.8,144.1 610.5,146.1 609.9,148.8 600.5,146.1 593.8,141.8Z" fill="#fff" stroke="#000" stroke-width="0.8" stroke-linejoin="round"/>
<path d="M653.2,146.1 658.9,139.4 663.3,141.8 658.9,149.5 654.6,150.8Z" fill="#fff" stroke="#000" stroke-width="0.8" stroke-linejoin="round"/>
<path d="M950.5,75.0 952.2,74.7 954.7,83.3 959.7,81.6 963.9,76.7 964.7,80.8 967.2,82.0 960.5,85.0 954.7,87.5 951.4,84.1Z" fill="#fff" stroke="#000" stroke-width="0.8" stroke-linejoin="round"/>
<path d="M306.2,815.6 310.3,813.9 316.2,818.1 319.5,823.9 317.0,828.0 311.2,827.2 307.0,823.1Z" fill="#fff" stroke="#000" stroke-width="0.8" stroke-linejoin="round"/>
<path d="M388.5,812.2 391.9,810.3 396.0,812.2 394.3,814.7 390.2,814.4Z" fill="#fff" stroke="#000" stroke-width="0.8" stroke-linejoin="round"/>
<path d="M233.8,594.1 238.0,593.2 239.3,599.1 236.0,600.2Z" fill="#fff" stroke="#000" stroke-width="0.8" stroke-linejoin="round"/>
<path d="M232.2,236.4 233.8,236.1 237.6,247.3 236.0,248.1Z" fill="#fff" stroke="#000" stroke-width="0.8" stroke-linejoin="round"/>
</g>
<rect x="229.5" y="69.5" width="1051.5" height="765.3" fill="none" stroke="#000" stroke-width="4" stroke-linejoin="round"/>
<path d="M339.8,69.5v10.7M339.8,834.8v-10.7M561.0,69.5v10.7M561.0,834.8v-10.7M782.2,69.5v10.7M782.2,834.8v-10.7M1003.4,69.5v10.7M1003.4,834.8v-10.7M1224.6,69.5v10.7M1224.6,834.8v-10.7M229.5,130.8h10.7M1281.0,130.8h-10.7M229.5,310.8h10.7M1281.0,310.8h-10.7M229.5,487.5h10.7M1281.0,487.5h-10.7M229.5,662.5h10.7M1281.0,662.5h-10.7" stroke="#000" stroke-width="4" fill="none"/>
<text transform="translate(69.00,164.90) scale(0.940,1)" font-size="65.1" fill="#000">30</text><text transform="translate(138.20,134.50) scale(1.000,1)" font-size="51.3" fill="#000">o</text><text transform="translate(166.80,164.90) scale(0.975,1)" font-size="65.1" fill="#000">N</text>
<text transform="translate(69.00,344.90) scale(0.940,1)" font-size="65.1" fill="#000">27</text><text transform="translate(138.20,314.50) scale(1.000,1)" font-size="51.3" fill="#000">o</text><text transform="translate(166.80,344.90) scale(0.975,1)" font-size="65.1" fill="#000">N</text>
<text transform="translate(69.00,521.60) scale(0.940,1)" font-size="65.1" fill="#000">24</text><text transform="translate(138.20,491.20) scale(1.000,1)" font-size="51.3" fill="#000">o</text><text transform="translate(166.80,521.60) scale(0.975,1)" font-size="65.1" fill="#000">N</text>
<text transform="translate(69.00,696.60) scale(0.940,1)" font-size="65.1" fill="#000">21</text><text transform="translate(138.20,666.20) scale(1.000,1)" font-size="51.3" fill="#000">o</text><text transform="translate(166.80,696.60) scale(0.975,1)" font-size="65.1" fill="#000">N</text>
<g transform="translate(69.00,868.90) scale(0.940,1)" fill="#000"><path transform="scale(0.03179,-0.03042)" d="M763 0H583V1147Q518 1085 412.5 1023Q307 961 223 930V1104Q374 1175 487 1276Q600 1377 647 1472H763Z"/><text x="36.21" y="0" font-size="65.1">8</text></g><text transform="translate(138.20,838.50) scale(1.000,1)" font-size="51.3" fill="#000">o</text><text transform="translate(166.80,868.90) scale(0.975,1)" font-size="65.1" fill="#000">N</text>
<text transform="translate(269.80,917.00) scale(0.940,1)" font-size="65.1" fill="#000">96</text><text transform="translate(339.00,886.60) scale(1.000,1)" font-size="51.3" fill="#000">o</text><text transform="translate(368.80,917.00) scale(0.934,1)" font-size="65.1" fill="#000">W</text>
<text transform="translate(491.00,917.00) scale(0.940,1)" font-size="65.1" fill="#000">92</text><text transform="translate(560.20,886.60) scale(1.000,1)" font-size="51.3" fill="#000">o</text><text transform="translate(590.00,917.00) scale(0.934,1)" font-size="65.1" fill="#000">W</text>
<text transform="translate(712.20,917.00) scale(0.940,1)" font-size="65.1" fill="#000">88</text><text transform="translate(781.40,886.60) scale(1.000,1)" font-size="51.3" fill="#000">o</text><text transform="translate(811.20,917.00) scale(0.934,1)" font-size="65.1" fill="#000">W</text>
<text transform="translate(933.40,917.00) scale(0.940,1)" font-size="65.1" fill="#000">84</text><text transform="translate(1002.60,886.60) scale(1.000,1)" font-size="51.3" fill="#000">o</text><text transform="translate(1032.40,917.00) scale(0.934,1)" font-size="65.1" fill="#000">W</text>
<text transform="translate(1154.60,917.00) scale(0.940,1)" font-size="65.1" fill="#000">80</text><text transform="translate(1223.80,886.60) scale(1.000,1)" font-size="51.3" fill="#000">o</text><text transform="translate(1253.60,917.00) scale(0.934,1)" font-size="65.1" fill="#000">W</text>
<g shape-rendering="crispEdges"><rect x="1301.0" y="70.00" width="42.7" height="12.95" fill="#800000"/><rect x="1301.0" y="81.95" width="42.7" height="12.95" fill="#8f0000"/><rect x="1301.0" y="93.91" width="42.7" height="12.95" fill="#9f0000"/><rect x="1301.0" y="105.86" width="42.7" height="12.95" fill="#af0000"/><rect x="1301.0" y="117.81" width="42.7" height="12.95" fill="#bf0000"/><rect x="1301.0" y="129.77" width="42.7" height="12.95" fill="#cf0000"/><rect x="1301.0" y="141.72" width="42.7" height="12.95" fill="#df0000"/><rect x="1301.0" y="153.67" width="42.7" height="12.95" fill="#ef0000"/><rect x="1301.0" y="165.62" width="42.7" height="12.95" fill="#ff0000"/><rect x="1301.0" y="177.58" width="42.7" height="12.95" fill="#ff1000"/><rect x="1301.0" y="189.53" width="42.7" height="12.95" fill="#ff2000"/><rect x="1301.0" y="201.48" width="42.7" height="12.95" fill="#ff3000"/><rect x="1301.0" y="213.44" width="42.7" height="12.95" fill="#ff4000"/><rect x="1301.0" y="225.39" width="42.7" height="12.95" fill="#ff5000"/><rect x="1301.0" y="237.34" width="42.7" height="12.95" fill="#ff6000"/><rect x="1301.0" y="249.30" width="42.7" height="12.95" fill="#ff7000"/><rect x="1301.0" y="261.25" width="42.7" height="12.95" fill="#ff8000"/><rect x="1301.0" y="273.20" width="42.7" height="12.95" fill="#ff8f00"/><rect x="1301.0" y="285.16" width="42.7" height="12.95" fill="#ff9f00"/><rect x="1301.0" y="297.11" width="42.7" height="12.95" fill="#ffaf00"/><rect x="1301.0" y="309.06" width="42.7" height="12.95" fill="#ffbf00"/><rect x="1301.0" y="321.02" width="42.7" height="12.95" fill="#ffcf00"/><rect x="1301.0" y="332.97" width="42.7" height="12.95" fill="#ffdf00"/><rect x="1301.0" y="344.92" width="42.7" height="12.95" fill="#ffef00"/><rect x="1301.0" y="356.88" width="42.7" height="12.95" fill="#ffff00"/><rect x="1301.0" y="368.83" width="42.7" height="12.95" fill="#efff10"/><rect x="1301.0" y="380.78" width="42.7" height="12.95" fill="#dfff20"/><rect x="1301.0" y="392.73" width="42.7" height="12.95" fill="#cfff30"/><rect x="1301.0" y="404.69" width="42.7" height="12.95" fill="#bfff40"/><rect x="1301.0" y="416.64" width="42.7" height="12.95" fill="#afff50"/><rect x="1301.0" y="428.59" width="42.7" height="12.95" fill="#9fff60"/><rect x="1301.0" y="440.55" width="42.7" height="12.95" fill="#8fff70"/><rect x="1301.0" y="452.50" width="42.7" height="12.95" fill="#80ff80"/><rect x="1301.0" y="464.45" width="42.7" height="12.95" fill="#70ff8f"/><rect x="1301.0" y="476.41" width="42.7" height="12.95" fill="#60ff9f"/><rect x="1301.0" y="488.36" width="42.7" height="12.95" fill="#50ffaf"/><rect x="1301.0" y="500.31" width="42.7" height="12.95" fill="#40ffbf"/><rect x="1301.0" y="512.27" width="42.7" height="12.95" fill="#30ffcf"/><rect x="1301.0" y="524.22" width="42.7" height="12.95" fill="#20ffdf"/><rect x="1301.0" y="536.17" width="42.7" height="12.95" fill="#10ffef"/><rect x="1301.0" y="548.12" width="42.7" height="12.95" fill="#00ffff"/><rect x="1301.0" y="560.08" width="42.7" height="12.95" fill="#00efff"/><rect x="1301.0" y="572.03" width="42.7" height="12.95" fill="#00dfff"/><rect x="1301.0" y="583.98" width="42.7" height="12.95" fill="#00cfff"/><rect x="1301.0" y="595.94" width="42.7" height="12.95" fill="#00bfff"/><rect x="1301.0" y="607.89" width="42.7" height="12.95" fill="#00afff"/><rect x="1301.0" y="619.84" width="42.7" height="12.95" fill="#009fff"/><rect x="1301.0" y="631.80" width="42.7" height="12.95" fill="#008fff"/><rect x="1301.0" y="643.75" width="42.7" height="12.95" fill="#0080ff"/><rect x="1301.0" y="655.70" width="42.7" height="12.95" fill="#0070ff"/><rect x="1301.0" y="667.66" width="42.7" height="12.95" fill="#0060ff"/><rect x="1301.0" y="679.61" width="42.7" height="12.95" fill="#0050ff"/><rect x="1301.0" y="691.56" width="42.7" height="12.95" fill="#0040ff"/><rect x="1301.0" y="703.52" width="42.7" height="12.95" fill="#0030ff"/><rect x="1301.0" y="715.47" width="42.7" height="12.95" fill="#0020ff"/><rect x="1301.0" y="727.42" width="42.7" height="12.95" fill="#0010ff"/><rect x="1301.0" y="739.38" width="42.7" height="12.95" fill="#0000ff"/><rect x="1301.0" y="751.33" width="42.7" height="12.95" fill="#0000ef"/><rect x="1301.0" y="763.28" width="42.7" height="12.95" fill="#0000df"/><rect x="1301.0" y="775.23" width="42.7" height="12.95" fill="#0000cf"/><rect x="1301.0" y="787.19" width="42.7" height="12.95" fill="#0000bf"/><rect x="1301.0" y="799.14" width="42.7" height="12.95" fill="#0000af"/><rect x="1301.0" y="811.09" width="42.7" height="12.95" fill="#00009f"/><rect x="1301.0" y="823.05" width="42.7" height="11.95" fill="#00008f"/></g>
<rect x="1301.5" y="70.5" width="41.7" height="764.0" fill="none" stroke="#262626" stroke-width="1"/>
<path d="M1343.7,661.1h-7.5M1343.7,487.3h-7.5M1343.7,313.4h-7.5M1343.7,139.5h-7.5" stroke="#262626" stroke-width="1" fill="none"/>
<g transform="translate(1360.00,860.00) scale(0.940,1)" fill="#262626"><path transform="scale(0.03179,-0.03042)" d="M763 0H583V1147Q518 1085 412.5 1023Q307 961 223 930V1104Q374 1175 487 1276Q600 1377 647 1472H763Z"/><text x="36.21" y="0" font-size="65.1">0</text></g>
<g transform="translate(1360.00,686.14) scale(0.940,1)" fill="#262626"><path transform="scale(0.03179,-0.03042)" d="M763 0H583V1147Q518 1085 412.5 1023Q307 961 223 930V1104Q374 1175 487 1276Q600 1377 647 1472H763Z"/><text x="36.21" y="0" font-size="65.1">5</text></g>
<text transform="translate(1360.00,512.27) scale(0.940,1)" font-size="65.1" fill="#262626">20</text>
<text transform="translate(1360.00,338.41) scale(0.940,1)" font-size="65.1" fill="#262626">25</text>
<text transform="translate(1360.00,164.55) scale(0.940,1)" font-size="65.1" fill="#262626">30</text>
</svg></body></html>
